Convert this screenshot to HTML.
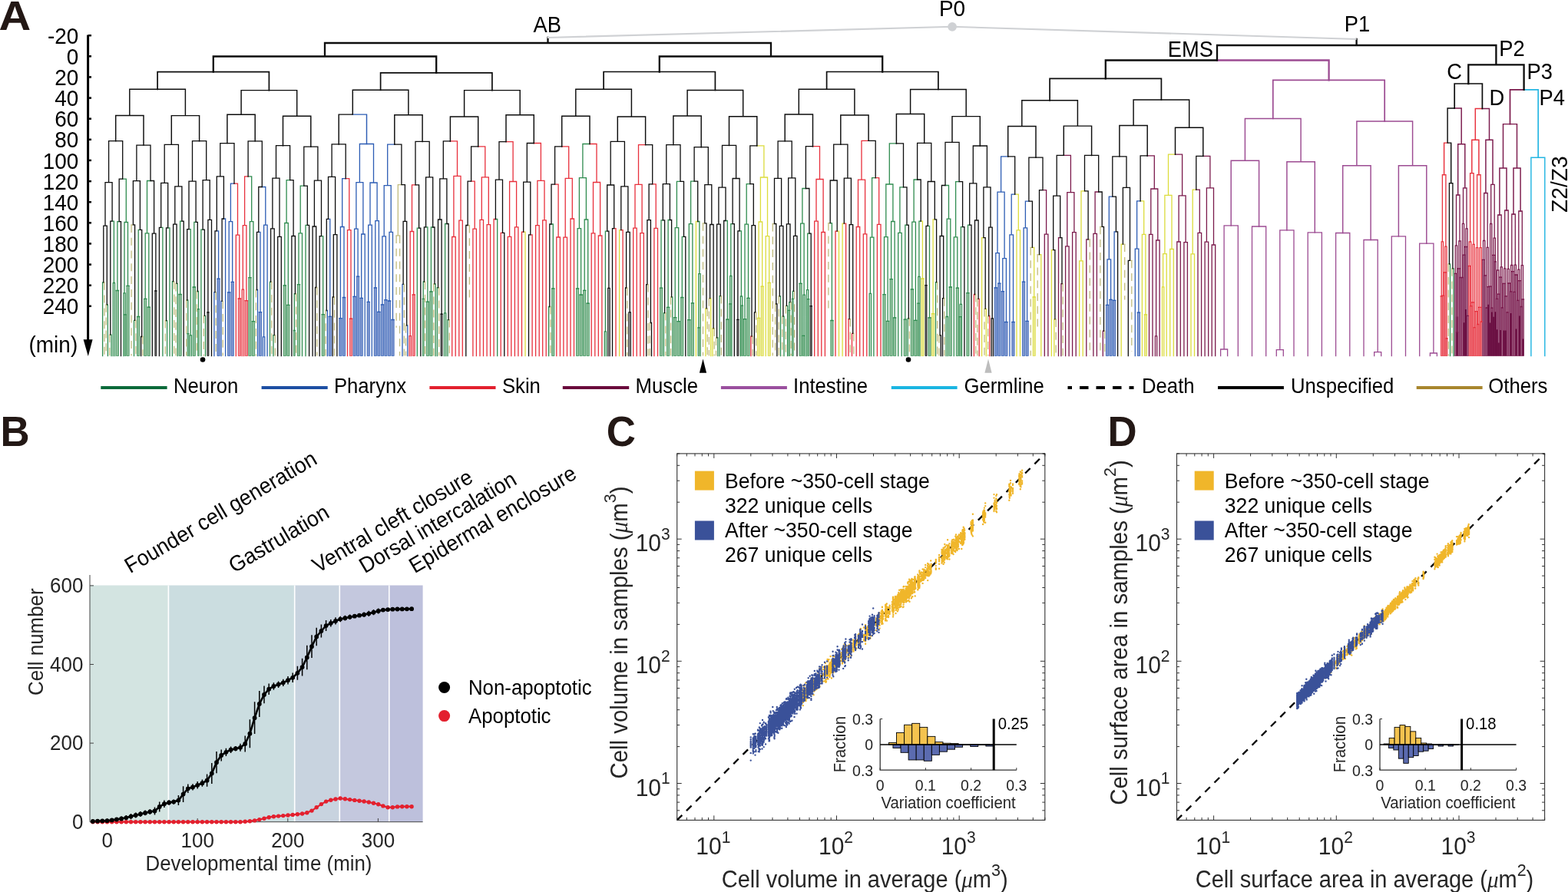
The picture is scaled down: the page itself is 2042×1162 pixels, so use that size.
<!DOCTYPE html>
<html><head><meta charset="utf-8"><title>Figure</title>
<style>html,body{margin:0;padding:0;background:#fff;overflow:hidden}svg{display:block}</style>
</head><body>
<svg width="2042" height="1162" viewBox="0 0 2042 1162" font-family='"Liberation Sans", Arial, Helvetica, sans-serif'>
<rect width="2042" height="1162" fill="#fff"/>
<text transform="translate(-1.5,38.8) scale(1.07,1)" font-size="54" font-weight="bold" fill="#231815">A</text>
<text transform="translate(0.6,580.8) scale(0.96,1)" font-size="55" font-weight="bold" fill="#231815">B</text>
<text transform="translate(789.8,581.2) scale(0.96,1)" font-size="55" font-weight="bold" fill="#231815">C</text>
<text transform="translate(1442.6,580.8) scale(0.96,1)" font-size="55" font-weight="bold" fill="#231815">D</text>
<line x1="114.6" y1="45.5" x2="114.6" y2="446" stroke="#000" stroke-width="3"/>
<polygon points="108.6,442.3 120.6,442.3 114.8,464" fill="#000"/>
<line x1="114.8" y1="46.2" x2="119" y2="46.2" stroke="#000" stroke-width="2.5"/>
<text transform="translate(102.2,56.8) scale(1.000,1.075)" font-size="27.9" text-anchor="end" fill="#000">-20</text>
<line x1="114.8" y1="73.3" x2="119" y2="73.3" stroke="#000" stroke-width="2.5"/>
<text transform="translate(102.2,83.9) scale(1.000,1.075)" font-size="27.9" text-anchor="end" fill="#000">0</text>
<line x1="114.8" y1="100.4" x2="119" y2="100.4" stroke="#000" stroke-width="2.5"/>
<text transform="translate(102.2,111.0) scale(1.000,1.075)" font-size="27.9" text-anchor="end" fill="#000">20</text>
<line x1="114.8" y1="127.6" x2="119" y2="127.6" stroke="#000" stroke-width="2.5"/>
<text transform="translate(102.2,138.2) scale(1.000,1.075)" font-size="27.9" text-anchor="end" fill="#000">40</text>
<line x1="114.8" y1="154.7" x2="119" y2="154.7" stroke="#000" stroke-width="2.5"/>
<text transform="translate(102.2,165.3) scale(1.000,1.075)" font-size="27.9" text-anchor="end" fill="#000">60</text>
<line x1="114.8" y1="181.8" x2="119" y2="181.8" stroke="#000" stroke-width="2.5"/>
<text transform="translate(102.2,192.4) scale(1.000,1.075)" font-size="27.9" text-anchor="end" fill="#000">80</text>
<line x1="114.8" y1="208.9" x2="119" y2="208.9" stroke="#000" stroke-width="2.5"/>
<text transform="translate(102.2,219.5) scale(1.000,1.075)" font-size="27.9" text-anchor="end" fill="#000">100</text>
<line x1="114.8" y1="236.1" x2="119" y2="236.1" stroke="#000" stroke-width="2.5"/>
<text transform="translate(102.2,246.7) scale(1.000,1.075)" font-size="27.9" text-anchor="end" fill="#000">120</text>
<line x1="114.8" y1="263.2" x2="119" y2="263.2" stroke="#000" stroke-width="2.5"/>
<text transform="translate(102.2,273.8) scale(1.000,1.075)" font-size="27.9" text-anchor="end" fill="#000">140</text>
<line x1="114.8" y1="290.3" x2="119" y2="290.3" stroke="#000" stroke-width="2.5"/>
<text transform="translate(102.2,300.9) scale(1.000,1.075)" font-size="27.9" text-anchor="end" fill="#000">160</text>
<line x1="114.8" y1="317.4" x2="119" y2="317.4" stroke="#000" stroke-width="2.5"/>
<text transform="translate(102.2,328.0) scale(1.000,1.075)" font-size="27.9" text-anchor="end" fill="#000">180</text>
<line x1="114.8" y1="344.6" x2="119" y2="344.6" stroke="#000" stroke-width="2.5"/>
<text transform="translate(102.2,355.2) scale(1.000,1.075)" font-size="27.9" text-anchor="end" fill="#000">200</text>
<line x1="114.8" y1="371.7" x2="119" y2="371.7" stroke="#000" stroke-width="2.5"/>
<text transform="translate(102.2,382.3) scale(1.000,1.075)" font-size="27.9" text-anchor="end" fill="#000">220</text>
<line x1="114.8" y1="398.8" x2="119" y2="398.8" stroke="#000" stroke-width="2.5"/>
<text transform="translate(102.2,409.4) scale(1.000,1.075)" font-size="27.9" text-anchor="end" fill="#000">240</text>
<text transform="translate(37.5,458.6) scale(1.000,1.050)" font-size="28.0" text-anchor="start" fill="#000">(min)</text>
<path fill="#8fbf9c" stroke="#2f8c4f" stroke-width="0.75" d="M151.29 378.5h3.27V463.6h-3.27zM162.23 409.8h1.82V463.6h-1.82zM164.91 372.4h3.27V463.6h-3.27zM178.53 412.5h3.27V463.6h-3.27zM187.60 389.3h3.27V463.6h-3.27zM192.14 400.1h3.27V463.6h-3.27zM232.99 383.5h3.27V463.6h-3.27zM243.93 434.7h1.82V463.6h-1.82zM251.15 374.0h3.27V463.6h-3.27zM257.55 402.7h1.82V463.6h-1.82zM323.78 361.6h3.27V463.6h-3.27zM328.32 418.7h3.27V463.6h-3.27zM369.17 371.8h3.27V463.6h-3.27zM373.71 397.4h3.27V463.6h-3.27zM382.38 430.5h1.82V463.6h-1.82zM387.32 370.7h3.27V463.6h-3.27zM419.10 409.6h3.27V463.6h-3.27zM550.32 389.3h1.82V463.6h-1.82zM555.27 393.2h3.27V463.6h-3.27zM559.81 379.9h3.27V463.6h-3.27zM718.67 375.8h3.27V463.6h-3.27zM750.45 375.9h3.27V463.6h-3.27zM754.99 384.0h3.27V463.6h-3.27zM759.53 378.3h3.27V463.6h-3.27zM764.07 395.1h3.27V463.6h-3.27zM859.39 375.2h3.27V463.6h-3.27zM868.46 400.3h3.27V463.6h-3.27zM877.54 413.6h3.27V463.6h-3.27zM882.08 418.7h3.27V463.6h-3.27zM886.62 387.5h3.27V463.6h-3.27zM895.70 416.7h3.27V463.6h-3.27zM900.24 394.9h3.27V463.6h-3.27zM908.91 426.8h1.82V463.6h-1.82zM945.63 416.1h3.27V463.6h-3.27zM949.76 395.8h1.82V463.6h-1.82zM965.64 398.2h1.82V463.6h-1.82zM968.32 415.6h3.27V463.6h-3.27zM972.86 388.3h3.27V463.6h-3.27zM1026.92 404.4h1.82V463.6h-1.82zM1031.46 389.4h1.82V463.6h-1.82zM1040.95 369.3h3.27V463.6h-3.27zM1045.08 437.3h1.82V463.6h-1.82zM1051.89 389.6h1.82V463.6h-1.82zM1081.80 417.5h3.27V463.6h-3.27zM1149.89 383.6h3.27V463.6h-3.27zM1154.42 418.4h3.27V463.6h-3.27zM1158.96 363.6h3.27V463.6h-3.27zM1163.50 413.9h3.27V463.6h-3.27zM1177.12 416.2h3.27V463.6h-3.27zM1186.20 376.8h3.27V463.6h-3.27zM1190.74 417.3h3.27V463.6h-3.27zM1194.87 395.2h1.82V463.6h-1.82zM1208.89 413.8h3.27V463.6h-3.27zM1236.13 374.0h3.27V463.6h-3.27zM1245.21 375.1h3.27V463.6h-3.27zM1249.34 412.6h1.82V463.6h-1.82zM1258.82 381.7h3.27V463.6h-3.27z"/>
<path fill="#6a6a6a" stroke="#0d0d0d" stroke-width="0.75" d="M201.83 378.8h2.04V463.6h-2.04zM269.92 406.8h2.04V463.6h-2.04zM574.04 409.1h2.04V463.6h-2.04zM959.86 416.4h2.04V463.6h-2.04zM1055.18 398.7h2.04V463.6h-2.04zM1204.97 371.6h2.04V463.6h-2.04z"/>
<path fill="#7f97cf" stroke="#2c5cb4" stroke-width="0.75" d="M282.92 363.2h3.27V463.6h-3.27zM296.54 380.8h3.27V463.6h-3.27zM301.08 367.4h3.27V463.6h-3.27zM337.39 406.7h3.27V463.6h-3.27zM428.17 412.3h3.27V463.6h-3.27zM441.79 414.6h3.27V463.6h-3.27zM446.33 387.5h3.27V463.6h-3.27zM459.95 386.4h3.27V463.6h-3.27zM464.49 360.2h3.27V463.6h-3.27zM469.03 388.4h3.27V463.6h-3.27zM478.10 393.3h3.27V463.6h-3.27zM487.18 374.9h3.27V463.6h-3.27zM491.72 406.3h3.27V463.6h-3.27zM496.26 396.8h3.27V463.6h-3.27zM500.80 390.7h3.27V463.6h-3.27zM505.34 392.0h3.27V463.6h-3.27zM509.88 416.5h3.27V463.6h-3.27zM1295.14 374.8h3.27V463.6h-3.27zM1299.67 369.2h3.27V463.6h-3.27zM1304.21 379.6h3.27V463.6h-3.27zM1308.75 419.5h3.27V463.6h-3.27zM1317.83 419.5h3.27V463.6h-3.27zM1331.45 367.2h3.27V463.6h-3.27zM1335.99 418.4h3.27V463.6h-3.27zM1440.39 397.3h3.27V463.6h-3.27zM1444.92 390.3h3.27V463.6h-3.27zM1449.46 391.3h3.27V463.6h-3.27zM1481.24 407.1h3.27V463.6h-3.27z"/>
<path fill="#ef8890" stroke="#e8303c" stroke-width="0.75" d="M310.16 389.0h3.27V463.6h-3.27zM319.24 391.7h3.27V463.6h-3.27zM455.41 415.1h3.27V463.6h-3.27zM537.11 383.9h3.27V463.6h-3.27zM1876.21 385.9h2.04V463.6h-2.04zM1878.48 385.2h2.04V463.6h-2.04zM1880.74 354.8h2.04V463.6h-2.04zM1883.00 440.8h2.04V463.6h-2.04zM1912.41 346.5h2.04V463.6h-2.04zM1914.68 398.7h2.04V463.6h-2.04zM1916.94 393.8h2.04V463.6h-2.04zM1919.20 426.6h2.04V463.6h-2.04zM1921.46 405.7h2.04V463.6h-2.04zM1923.73 422.5h2.04V463.6h-2.04zM1925.99 400.4h2.04V463.6h-2.04zM1928.25 419.1h2.04V463.6h-2.04z"/>
<path fill="#e9e98e" stroke="#dcdc3c" stroke-width="0.75" d="M986.48 414.4h3.27V463.6h-3.27zM991.02 373.2h3.27V463.6h-3.27zM1000.10 368.4h3.27V463.6h-3.27zM1199.82 363.0h3.27V463.6h-3.27zM1213.43 408.7h3.27V463.6h-3.27zM1345.07 386.9h3.27V463.6h-3.27zM1490.32 409.8h3.27V463.6h-3.27z"/>
<path fill="#a46a8c" stroke="#7b1a4c" stroke-width="0.75" d="M1894.31 356.4h2.04V463.6h-2.04zM1896.58 433.0h2.04V463.6h-2.04zM1898.84 349.9h2.04V463.6h-2.04zM1901.10 361.5h2.04V463.6h-2.04zM1903.36 361.5h2.04V463.6h-2.04zM1905.63 332.1h2.04V463.6h-2.04zM1907.89 321.5h2.04V463.6h-2.04zM1910.15 411.4h2.04V463.6h-2.04zM1930.51 338.3h2.04V463.6h-2.04zM1932.78 358.9h2.04V463.6h-2.04zM1935.04 401.0h2.04V463.6h-2.04zM1937.30 373.7h2.04V463.6h-2.04zM1939.56 373.1h2.04V463.6h-2.04zM1941.83 401.1h2.04V463.6h-2.04zM1944.09 332.4h2.04V463.6h-2.04zM1946.35 340.8h2.04V463.6h-2.04zM1948.51 389.4h2.04V463.6h-2.04zM1950.78 383.1h2.04V463.6h-2.04zM1953.04 361.1h2.04V463.6h-2.04zM1955.30 400.8h2.04V463.6h-2.04zM1957.56 369.4h2.04V463.6h-2.04zM1959.83 385.8h2.04V463.6h-2.04zM1962.09 406.9h2.04V463.6h-2.04zM1964.35 369.0h2.04V463.6h-2.04zM1966.61 379.8h2.04V463.6h-2.04zM1968.88 353.7h2.04V463.6h-2.04zM1971.14 380.4h2.04V463.6h-2.04zM1973.40 358.0h2.04V463.6h-2.04zM1975.66 391.4h2.04V463.6h-2.04zM1977.93 365.7h2.04V463.6h-2.04zM1980.19 399.5h2.04V463.6h-2.04zM1982.45 389.9h2.04V463.6h-2.04z"/>
<path fill="#6a0f42" d="M1896.58 412.5h2.04V463.6h-2.04zM1905.63 420.3h2.04V463.6h-2.04zM1907.89 403.1h2.04V463.6h-2.04zM1937.30 396.7h2.04V463.6h-2.04zM1939.56 420.6h2.04V463.6h-2.04zM1941.83 406.4h2.04V463.6h-2.04zM1944.09 412.7h2.04V463.6h-2.04zM1946.35 406.2h2.04V463.6h-2.04zM1948.51 429.3h2.04V463.6h-2.04zM1950.78 446.5h2.04V463.6h-2.04zM1953.04 430.1h2.04V463.6h-2.04zM1957.56 430.5h2.04V463.6h-2.04zM1959.83 430.5h2.04V463.6h-2.04zM1966.61 408.1h2.04V463.6h-2.04zM1973.40 428.4h2.04V463.6h-2.04zM1977.93 411.5h2.04V463.6h-2.04zM1982.45 441.4h2.04V463.6h-2.04z"/>
<g fill="none" stroke-linecap="square">
<path stroke="#c2bc7e" stroke-width="1.30" d="M134.8 367.8H135.9M138.2 396.8H139.3M142.7 436.1H143.8M171.1 292.9H173.4M175.6 417.4H176.8M184.7 438.5H185.8M215.3 417.6H216.5M225.6 366.7H226.7M229.0 369.4H230.1M242.6 391.0H243.7M256.2 379.5H257.3M265.3 411.3H266.4M280.0 380.7H281.2M289.1 392.3H290.2M333.4 377.5H334.5M352.6 367.1H353.8M357.2 436.7H358.3M384.4 382.6H385.6M411.7 374.5H412.8M424.1 404.5H425.3M434.3 387.0H435.5M518.3 240.6H522.9M518.3 240.6V306.9M516.1 306.9H518.3M518.3 306.9H520.6M525.1 370.4H526.3M528.5 423.8H529.7M552.4 367.0H553.5M564.8 369.8H566.0M570.5 374.7H571.7M584.1 416.6H585.3M609.1 293.5H611.4M715.8 399.5H716.9M815.6 375.0H816.8M842.9 370.6H844.0M846.3 420.5H847.4M865.6 407.6H866.7M873.5 386.8H874.6M915.5 290.8H917.8M920.0 401.9H921.2M923.4 388.7H924.6M929.1 427.9H930.2M932.5 439.9H933.6M938.2 385.6H939.3M979.0 438.2H980.2M983.6 406.8H984.7M1006.3 291.5H1008.5M1009.7 396.0H1010.8M1014.2 385.8H1015.3M1018.8 412.2H1019.9M1023.3 398.4H1024.4M1029.0 393.6H1030.1M1033.5 379.4H1034.6M1078.9 290.6H1081.2M1106.1 415.6H1107.3M1110.7 434.4H1111.8M1183.3 414.8H1184.4M1219.6 367.6H1220.7M1223.0 436.8H1224.1M1228.7 388.7H1229.8M1269.5 383.5H1270.7M1272.9 389.4H1274.1M1282.0 402.4H1283.2M1286.6 411.5H1287.7M1342.2 322.4H1344.4M1351.2 331.6H1353.5M1373.9 415.9H1375.1M1383.0 369.7H1384.1M1417.1 311.8H1419.3M1432.9 295.3H1435.2M1437.5 431.2H1438.6M1462.4 318.1H1464.7M1471.5 339.3H1473.8M1886.3 343.9H1887.4M1890.8 349.8H1891.9"/>
<path stroke="#9c4b92" stroke-width="1.30" d="M1594.1 293.8H1603.2M1603.2 293.8H1612.3M1594.1 293.8V455.0M1589.6 455.0H1594.1M1594.1 455.0H1598.6M1589.6 455.0V463.6M1598.6 455.0V463.6M1612.3 293.8V463.6M1630.5 295.0H1639.6M1639.6 295.0H1648.7M1630.5 295.0V463.6M1648.7 295.0V463.6M1666.8 299.8H1675.9M1675.9 299.8H1685.0M1666.8 299.8V455.7M1662.3 455.7H1666.8M1666.8 455.7H1671.3M1662.3 455.7V463.6M1671.3 455.7V463.6M1685.0 299.8V463.6M1703.2 302.8H1712.3M1712.3 302.8H1721.4M1703.2 302.8V463.6M1721.4 302.8V463.6M1739.6 303.5H1748.7M1748.7 303.5H1757.8M1739.6 303.5V463.6M1757.8 303.5V463.6M1776.0 312.5H1785.1M1785.1 312.5H1794.2M1776.0 312.5V463.6M1794.2 312.5V458.7M1789.7 458.7H1794.2M1794.2 458.7H1798.7M1789.7 458.7V463.6M1798.7 458.7V463.6M1812.3 307.8H1821.4M1821.4 307.8H1830.5M1812.3 307.8V463.6M1830.5 307.8V463.6M1848.7 317.2H1857.8M1857.8 317.2H1866.9M1848.7 317.2V463.6M1866.9 317.2V460.0M1862.4 460.0H1866.9M1866.9 460.0H1871.4M1862.4 460.0V463.6M1871.4 460.0V463.6"/>
<path stroke="#9c4b92" stroke-width="1.45" d="M1621.4 154.4H1657.8M1657.8 154.4H1694.1M1621.4 154.4V209.2M1603.2 209.2H1621.4M1621.4 209.2H1639.6M1603.2 209.2V293.8M1639.6 209.2V295.0M1694.1 154.4V210.8M1675.9 210.8H1694.1M1694.1 210.8H1712.3M1675.9 210.8V299.8M1712.3 210.8V302.8M1766.9 158.0H1803.2M1803.2 158.0H1839.6M1766.9 158.0V215.8M1748.7 215.8H1766.9M1766.9 215.8H1785.1M1748.7 215.8V303.5M1785.1 215.8V312.5M1839.6 158.0V215.8M1821.4 215.8H1839.6M1839.6 215.8H1857.8M1821.4 215.8V307.8M1857.8 215.8V317.2"/>
<path stroke="#9c4b92" stroke-width="1.70" d="M1657.8 104.3H1730.6M1730.6 104.3H1803.2M1657.8 104.3V154.4M1803.2 104.3V158.0"/>
<path stroke="#9c4b92" stroke-width="2.30" d="M1585.0 78.5H1730.6M1730.6 78.5V104.3"/>
<path stroke="#dcdc3c" stroke-width="1.30" d="M681.7 302.2H684.0M684.0 302.2V463.6M806.6 299.6H808.8M806.6 299.6V463.6M906.4 288.5H908.7M906.4 288.5V463.6M918.9 401.9H920.0M918.9 401.9V463.6M924.6 388.7H925.7M925.7 388.7V463.6M928.0 427.9H929.1M928.0 427.9V463.6M985.8 189.8H994.9M994.9 189.8V231.0M990.4 231.0H994.9M994.9 231.0H999.5M990.4 231.0V289.0M988.1 289.0H990.4M990.4 289.0H992.7M988.1 289.0V414.4M986.48 414.4H989.75M992.7 289.0V373.2M991.02 373.2H994.29M999.5 231.0V307.7M997.2 307.7H999.5M999.5 307.7H1001.7M997.2 307.7V463.6M1001.7 307.7V368.4M1000.10 368.4H1003.36M1090.2 301.1H1092.5M1092.5 301.1V463.6M1097.1 291.2H1099.3M1097.1 291.2V463.6M1199.2 288.1H1201.4M1201.4 288.1V363.0M1199.82 363.0H1203.08M1215.1 285.8H1217.3M1215.1 285.8V408.7M1213.43 408.7H1216.70M1278.6 309.7H1280.9M1278.6 309.7V463.6M1283.2 402.4H1284.3M1284.3 402.4V463.6M1321.7 253.2H1326.3M1326.3 253.2V299.8M1324.0 299.8H1326.3M1326.3 299.8H1328.5M1324.0 299.8V463.6M1328.5 299.8V463.6M1344.4 322.4H1346.7M1346.7 322.4V386.9M1345.07 386.9H1348.33M1353.5 331.6H1355.8M1355.8 331.6V463.6M1369.4 325.6H1371.7M1369.4 325.6V463.6M1372.8 415.9H1373.9M1372.8 415.9V463.6M1408.0 248.8H1412.5M1408.0 248.8V339.8M1405.7 339.8H1408.0M1408.0 339.8H1410.2M1405.7 339.8V463.6M1410.2 339.8V463.6M1460.2 318.1H1462.4M1460.2 318.1V463.6M1485.1 261.9H1489.7M1489.7 261.9V305.4M1487.4 305.4H1489.7M1489.7 305.4H1491.9M1487.4 305.4V463.6M1491.9 305.4V409.8M1490.32 409.8H1493.58M1521.5 201.2H1530.5M1521.5 201.2V254.4M1516.9 254.4H1521.5M1521.5 254.4H1526.0M1516.9 254.4V330.6M1514.6 330.6H1516.9M1516.9 330.6H1519.2M1514.6 330.6V373.8M1513.5 373.8H1514.6M1514.6 373.8H1515.8M1513.5 373.8V463.6M1515.8 373.8V463.6M1519.2 330.6V463.6M1526.0 254.4V324.5M1523.7 324.5H1526.0M1526.0 324.5H1528.3M1523.7 324.5V463.6M1528.3 324.5V463.6M1553.2 247.2H1557.8M1553.2 247.2V330.9M1551.0 330.9H1553.2M1553.2 330.9H1555.5M1551.0 330.9V463.6M1555.5 330.9V463.6"/>
<path stroke="#2f8c4f" stroke-width="1.30" d="M133.6 367.8H134.8M133.6 367.8V463.6M139.3 396.8H140.4M140.4 396.8V463.6M146.1 288.1H148.4M143.8 436.1H145.0M145.0 436.1V463.6M148.4 288.1V368.5M147.3 368.5H148.4M148.4 368.5H149.5M147.3 368.5V463.6M149.5 368.5V463.6M159.7 233.2H164.3M152.9 288.6H155.2M152.9 288.6V378.5M151.29 378.5H154.56M164.3 233.2V289.5M162.0 289.5H164.3M164.3 289.5H166.5M162.0 289.5V381.9M160.9 381.9H162.0M162.0 381.9H163.1M160.9 381.9V463.6M163.1 381.9V409.8M162.23 409.8H164.05M166.5 289.5V372.4M164.91 372.4H168.18M174.5 417.4H175.6M174.5 417.4V463.6M180.2 299.4H182.4M180.2 299.4V412.5M178.53 412.5H181.79M191.5 235.5H196.0M191.5 235.5V303.9M189.2 303.9H191.5M191.5 303.9H193.8M189.2 303.9V389.3M187.60 389.3H190.87M193.8 303.9V400.1M192.14 400.1H195.41M209.7 296.4H211.9M211.9 296.4V463.6M218.7 296.9H221.0M216.5 417.6H217.6M217.6 417.6V463.6M221.0 296.9V463.6M224.4 366.7H225.6M224.4 366.7V463.6M230.1 369.4H231.2M231.2 369.4V463.6M234.6 288.2H236.9M234.6 288.2V383.5M232.99 383.5H236.26M246.0 298.7H248.2M243.7 391.0H244.8M244.8 391.0V434.7M243.93 434.7H245.75M248.2 298.7V436.8M247.1 436.8H248.2M248.2 436.8H249.4M247.1 436.8V463.6M249.4 436.8V463.6M252.8 289.4H255.1M252.8 289.4V374.0M251.15 374.0H254.42M257.3 379.5H258.5M258.5 379.5V402.7M257.55 402.7H259.37M261.9 299.2H264.1M261.9 299.2V463.6M266.4 411.3H267.5M267.5 411.3V463.6M323.1 229.8H327.7M327.7 229.8V288.7M325.4 288.7H327.7M327.7 288.7H329.9M325.4 288.7V361.6M323.78 361.6H327.04M329.9 288.7V418.7M328.32 418.7H331.58M351.5 367.1H352.6M351.5 367.1V463.6M356.0 436.7H357.2M356.0 436.7V463.6M373.1 234.6H377.6M373.1 234.6V290.5M370.8 290.5H373.1M373.1 290.5H375.3M370.8 290.5V371.8M369.17 371.8H372.43M375.3 290.5V397.4M373.71 397.4H376.97M383.3 382.6H384.4M383.3 382.6V430.5M382.38 430.5H384.19M391.2 242.1H395.8M391.2 242.1V303.8M389.0 303.8H391.2M391.2 303.8H393.5M389.0 303.8V370.7M387.32 370.7H390.59M393.5 303.8V463.6M398.0 293.3H400.3M398.0 293.3V463.6M418.5 307.6H420.7M420.7 307.6V409.6M419.10 409.6H422.36M543.3 297.2H545.6M543.3 297.2V463.6M554.6 295.8H556.9M551.2 367.0H552.4M551.2 367.0V389.3M550.32 389.3H552.14M556.9 295.8V393.2M555.27 393.2H558.54M561.4 296.0H563.7M561.4 296.0V379.9M559.81 379.9H563.08M566.0 369.8H567.1M567.1 369.8V463.6M569.4 374.7H570.5M569.4 374.7V463.6M579.6 291.5H581.9M579.6 291.5V407.8M578.5 407.8H579.6M579.6 407.8H580.7M578.5 407.8V463.6M580.7 407.8V463.6M583.0 416.6H584.1M583.0 416.6V463.6M645.4 285.5H647.7M647.7 285.5V463.6M718.0 292.0H720.3M714.6 399.5H715.8M714.6 399.5V463.6M720.3 292.0V375.8M718.67 375.8H721.94M758.9 187.5H768.0M758.9 187.5V231.6M754.4 231.6H758.9M758.9 231.6H763.4M754.4 231.6V297.6M752.1 297.6H754.4M754.4 297.6H756.6M752.1 297.6V375.9M750.45 375.9H753.72M756.6 297.6V384.0M754.99 384.0H758.26M763.4 231.6V286.0M761.2 286.0H763.4M763.4 286.0H765.7M761.2 286.0V378.3M759.53 378.3H762.79M765.7 286.0V395.1M764.07 395.1H767.33M788.4 301.1H790.7M788.4 301.1V431.9M787.3 431.9H788.4M788.4 431.9H789.5M787.3 431.9V463.6M789.5 431.9V463.6M861.0 286.9H863.3M861.0 286.9V375.2M859.39 375.2H862.65M864.4 407.6H865.6M864.4 407.6V463.6M870.1 286.5H872.4M870.1 286.5V400.3M868.46 400.3H871.73M874.6 386.8H875.8M875.8 386.8V463.6M881.4 236.4H886.0M881.4 236.4V296.7M879.2 296.7H881.4M881.4 296.7H883.7M879.2 296.7V413.6M877.54 413.6H880.81M883.7 296.7V418.7M882.08 418.7H885.35M888.3 308.4H890.5M888.3 308.4V387.5M886.62 387.5H889.89M899.6 236.1H904.1M899.6 236.1V291.7M897.3 291.7H899.6M899.6 291.7H901.9M897.3 291.7V416.7M895.70 416.7H898.97M901.9 291.7V394.9M900.24 394.9H903.51M908.7 288.5H910.9M910.9 288.5V356.6M909.8 356.6H910.9M910.9 356.6H912.1M909.8 356.6V426.8M908.91 426.8H910.72M912.1 356.6V463.6M933.6 439.9H934.8M934.8 439.9V463.6M937.0 385.6H938.2M937.0 385.6V463.6M945.0 287.5H947.3M947.3 287.5V416.1M945.63 416.1H948.90M951.8 291.6H954.1M951.8 291.6V359.5M950.7 359.5H951.8M951.8 359.5H952.9M950.7 359.5V395.8M949.76 395.8H951.57M952.9 359.5V463.6M963.1 300.8H965.4M965.4 300.8V386.0M964.3 386.0H965.4M965.4 386.0H966.6M964.3 386.0V463.6M966.6 386.0V398.2M965.64 398.2H967.46M972.2 239.6H976.8M972.2 239.6V292.2M970.0 292.2H972.2M972.2 292.2H974.5M970.0 292.2V415.6M968.32 415.6H971.59M974.5 292.2V388.3M972.86 388.3H976.13M1015.3 385.8H1016.5M1016.5 385.8V463.6M1019.9 412.2H1021.0M1021.0 412.2V463.6M1024.4 398.4H1025.6M1025.6 398.4V463.6M1027.8 393.6H1029.0M1027.8 393.6V404.4M1026.92 404.4H1028.74M1032.4 379.4H1033.5M1032.4 379.4V389.4M1031.46 389.4H1033.28M1044.9 245.5H1049.4M1044.9 245.5V291.2M1042.6 291.2H1044.9M1044.9 291.2H1047.1M1042.6 291.2V369.3M1040.95 369.3H1044.22M1047.1 291.2V384.1M1046.0 384.1H1047.1M1047.1 384.1H1048.3M1046.0 384.1V437.3M1045.08 437.3H1046.89M1048.3 384.1V463.6M1051.7 304.1H1053.9M1051.7 304.1V377.6M1050.5 377.6H1051.7M1051.7 377.6H1052.8M1050.5 377.6V463.6M1052.8 377.6V389.6M1051.89 389.6H1053.70M1081.2 290.6H1083.4M1083.4 290.6V417.5M1081.80 417.5H1085.07M1135.6 231.7H1140.2M1135.6 231.7V309.2M1133.4 309.2H1135.6M1135.6 309.2H1137.9M1133.4 309.2V382.3M1132.2 382.3H1133.4M1133.4 382.3H1134.5M1132.2 382.3V463.6M1134.5 382.3V463.6M1137.9 309.2V463.6M1158.3 186.8H1167.4M1158.3 186.8V240.0M1153.8 240.0H1158.3M1158.3 240.0H1162.9M1153.8 240.0V308.7M1151.5 308.7H1153.8M1153.8 308.7H1156.1M1151.5 308.7V383.6M1149.89 383.6H1153.15M1156.1 308.7V418.4M1154.42 418.4H1157.69M1162.9 240.0V288.5M1160.6 288.5H1162.9M1162.9 288.5H1165.1M1160.6 288.5V363.6M1158.96 363.6H1162.23M1165.1 288.5V413.9M1163.50 413.9H1166.77M1171.9 243.9H1176.5M1171.9 243.9V303.3M1169.7 303.3H1171.9M1171.9 303.3H1174.2M1169.7 303.3V463.6M1174.2 303.3V463.6M1178.8 293.2H1181.0M1178.8 293.2V416.2M1177.12 416.2H1180.39M1182.2 414.8H1183.3M1182.2 414.8V463.6M1190.1 234.0H1194.6M1190.1 234.0V289.2M1187.8 289.2H1190.1M1190.1 289.2H1192.4M1187.8 289.2V376.8M1186.20 376.8H1189.47M1192.4 289.2V417.3M1190.74 417.3H1194.01M1196.9 288.1H1199.2M1196.9 288.1V360.4M1195.8 360.4H1196.9M1196.9 360.4H1198.0M1195.8 360.4V395.2M1194.87 395.2H1196.68M1198.0 360.4V463.6M1208.3 294.3H1210.5M1210.5 294.3V413.8M1208.89 413.8H1212.16M1218.5 367.6H1219.6M1218.5 367.6V463.6M1231.0 241.5H1235.5M1235.5 241.5V285.1M1233.2 285.1H1235.5M1235.5 285.1H1237.8M1233.2 285.1V412.5M1232.1 412.5H1233.2M1233.2 412.5H1234.4M1232.1 412.5V463.6M1234.4 412.5V463.6M1237.8 285.1V374.0M1236.13 374.0H1239.40M1244.6 236.6H1249.1M1244.6 236.6V308.9M1242.3 308.9H1244.6M1244.6 308.9H1246.8M1242.3 308.9V463.6M1246.8 308.9V375.1M1245.21 375.1H1248.47M1251.4 295.7H1253.6M1251.4 295.7V396.4M1250.2 396.4H1251.4M1251.4 396.4H1252.5M1250.2 396.4V412.6M1249.34 412.6H1251.15M1252.5 396.4V463.6M1260.5 293.2H1262.7M1260.5 293.2V381.7M1258.82 381.7H1262.09M1887.4 343.9H1888.5M1888.5 343.9V463.6M1891.9 349.8H1893.1M1893.1 349.8V463.6"/>
<path stroke="#2c5cb4" stroke-width="1.30" d="M282.3 300.9H284.6M278.9 380.7H280.0M278.9 380.7V463.6M284.6 300.9V363.2M282.92 363.2H286.19M291.4 285.0H293.6M288.0 392.3H289.1M288.0 392.3V463.6M293.6 285.0V463.6M300.4 239.1H305.0M300.4 239.1V288.7M298.2 288.7H300.4M300.4 288.7H302.7M298.2 288.7V380.8M296.54 380.8H299.81M302.7 288.7V367.4M301.08 367.4H304.35M341.3 243.5H345.8M336.8 302.4H339.0M334.5 377.5H335.6M335.6 377.5V463.6M339.0 302.4V406.7M337.39 406.7H340.66M345.8 243.5V293.2M343.6 293.2H345.8M345.8 293.2H348.1M343.6 293.2V438.9M342.4 438.9H343.6M343.6 438.9H344.7M342.4 438.9V463.6M344.7 438.9V463.6M348.1 293.2V463.6M427.5 285.4H429.8M425.3 404.5H426.4M426.4 404.5V463.6M429.8 285.4V412.3M428.17 412.3H431.44M445.7 232.7H450.2M445.7 232.7V295.5M443.4 295.5H445.7M445.7 295.5H448.0M443.4 295.5V414.6M441.79 414.6H445.06M448.0 295.5V387.5M446.33 387.5H449.60M468.4 187.5H477.5M477.5 187.5H486.5M468.4 187.5V237.6M463.9 237.6H468.4M468.4 237.6H472.9M463.9 237.6V298.1M461.6 298.1H463.9M463.9 298.1H466.1M461.6 298.1V386.4M459.95 386.4H463.22M466.1 298.1V360.2M464.49 360.2H467.76M472.9 237.6V305.0M470.7 305.0H472.9M472.9 305.0H475.2M470.7 305.0V388.4M469.03 388.4H472.29M475.2 305.0V463.6M486.5 187.5V238.0M482.0 238.0H486.5M486.5 238.0H491.1M482.0 238.0V293.1M479.7 293.1H482.0M482.0 293.1H484.3M479.7 293.1V393.3M478.10 393.3H481.37M484.3 293.1V463.6M491.1 238.0V287.7M488.8 287.7H491.1M491.1 287.7H493.4M488.8 287.7V374.9M487.18 374.9H490.45M493.4 287.7V406.3M491.72 406.3H494.99M504.7 188.1H513.8M504.7 188.1V241.7M500.2 241.7H504.7M504.7 241.7H509.2M500.2 241.7V307.8M497.9 307.8H500.2M500.2 307.8H502.4M497.9 307.8V396.8M496.26 396.8H499.53M502.4 307.8V390.7M500.80 390.7H504.07M509.2 241.7V302.3M507.0 302.3H509.2M509.2 302.3H511.5M507.0 302.3V392.0M505.34 392.0H508.61M511.5 302.3V416.5M509.88 416.5H513.15M524.0 370.4H525.1M524.0 370.4V463.6M529.7 423.8H530.8M530.8 423.8V463.6M1303.6 203.8H1312.7M1303.6 203.8V250.2M1299.0 250.2H1303.6M1303.6 250.2H1308.1M1299.0 250.2V329.7M1296.8 329.7H1299.0M1299.0 329.7H1301.3M1296.8 329.7V374.8M1295.14 374.8H1298.40M1301.3 329.7V369.2M1299.67 369.2H1302.94M1308.1 250.2V336.6M1305.8 336.6H1308.1M1308.1 336.6H1310.4M1305.8 336.6V379.6M1304.21 379.6H1307.48M1310.4 336.6V419.5M1308.75 419.5H1312.02M1317.2 253.2H1321.7M1317.2 253.2V305.9M1314.9 305.9H1317.2M1317.2 305.9H1319.5M1314.9 305.9V463.6M1319.5 305.9V419.5M1317.83 419.5H1321.10M1335.4 262.1H1339.9M1335.4 262.1V296.9M1333.1 296.9H1335.4M1335.4 296.9H1337.6M1333.1 296.9V367.2M1331.45 367.2H1334.72M1337.6 296.9V418.4M1335.99 418.4H1339.26M1444.3 256.1H1448.8M1444.3 256.1V337.8M1442.0 337.8H1444.3M1444.3 337.8H1446.6M1442.0 337.8V397.3M1440.39 397.3H1443.65M1446.6 337.8V390.3M1444.92 390.3H1448.19M1451.1 301.9H1453.4M1451.1 301.9V391.3M1449.46 391.3H1452.73M1480.6 261.9H1485.1M1480.6 261.9V324.2M1478.3 324.2H1480.6M1480.6 324.2H1482.9M1478.3 324.2V463.6M1482.9 324.2V407.1M1481.24 407.1H1484.51"/>
<path stroke="#2c5cb4" stroke-width="1.45" d="M459.3 149.1H477.5M477.5 149.1V187.5"/>
<path stroke="#e8303c" stroke-width="1.30" d="M305.0 239.1H309.5M309.5 239.1V306.2M307.3 306.2H309.5M309.5 306.2H311.8M307.3 306.2V463.6M311.8 306.2V389.0M310.16 389.0H313.43M318.6 229.8H323.1M318.6 229.8V293.6M316.3 293.6H318.6M318.6 293.6H320.9M316.3 293.6V377.1M315.2 377.1H316.3M316.3 377.1H317.5M315.2 377.1V463.6M317.5 377.1V463.6M320.9 293.6V391.7M319.24 391.7H322.51M450.2 232.7H454.8M454.8 232.7V299.6M452.5 299.6H454.8M454.8 299.6H457.0M452.5 299.6V463.6M457.0 299.6V415.1M455.41 415.1H458.68M536.5 240.9H541.0M536.5 240.9V301.5M534.2 301.5H536.5M536.5 301.5H538.7M534.2 301.5V437.6M533.1 437.6H534.2M534.2 437.6H535.3M533.1 437.6V463.6M535.3 437.6V463.6M538.7 301.5V383.9M537.11 383.9H540.38M586.4 183.9H595.5M595.5 183.9V229.3M590.9 229.3H595.5M595.5 229.3H600.0M590.9 229.3V308.5M588.7 308.5H590.9M590.9 308.5H593.2M588.7 308.5V463.6M593.2 308.5V463.6M600.0 229.3V287.1M597.8 287.1H600.0M600.0 287.1H602.3M597.8 287.1V463.6M602.3 287.1V463.6M622.7 190.8H631.8M613.6 236.2H618.2M618.2 236.2V298.2M615.9 298.2H618.2M618.2 298.2H620.4M615.9 298.2V463.6M620.4 298.2V463.6M631.8 190.8V230.9M627.3 230.9H631.8M631.8 230.9H636.3M627.3 230.9V286.3M625.0 286.3H627.3M627.3 286.3H629.5M625.0 286.3V463.6M629.5 286.3V463.6M636.3 230.9V292.6M634.1 292.6H636.3M636.3 292.6H638.6M634.1 292.6V463.6M638.6 292.6V463.6M659.0 184.6H668.1M643.1 285.5H645.4M643.1 285.5V463.6M652.2 303.3H654.5M652.2 303.3V463.6M668.1 184.6V236.5M663.6 236.5H668.1M668.1 236.5H672.6M663.6 236.5V308.4M661.3 308.4H663.6M663.6 308.4H665.8M661.3 308.4V463.6M665.8 308.4V463.6M672.6 236.5V295.8M670.4 295.8H672.6M672.6 295.8H674.9M670.4 295.8V463.6M674.9 295.8V463.6M695.3 186.5H704.4M679.5 302.2H681.7M679.5 302.2V463.6M690.8 305.8H693.1M693.1 305.8V463.6M704.4 186.5V235.3M699.9 235.3H704.4M704.4 235.3H709.0M699.9 235.3V293.7M697.6 293.7H699.9M699.9 293.7H702.2M697.6 293.7V463.6M702.2 293.7V463.6M709.0 235.3V286.8M706.7 286.8H709.0M709.0 286.8H711.2M706.7 286.8V463.6M711.2 286.8V463.6M731.7 190.8H740.7M722.6 240.1H727.1M727.1 240.1V309.0M724.8 309.0H727.1M727.1 309.0H729.4M724.8 309.0V463.6M729.4 309.0V463.6M740.7 190.8V232.4M736.2 232.4H740.7M740.7 232.4H745.3M736.2 232.4V309.1M733.9 309.1H736.2M736.2 309.1H738.5M733.9 309.1V463.6M738.5 309.1V463.6M745.3 232.4V285.0M743.0 285.0H745.3M745.3 285.0H747.5M743.0 285.0V463.6M747.5 285.0V463.6M768.0 187.5H777.0M777.0 187.5V237.5M772.5 237.5H777.0M777.0 237.5H781.6M772.5 237.5V303.8M770.2 303.8H772.5M772.5 303.8H774.8M770.2 303.8V463.6M774.8 303.8V463.6M781.6 237.5V307.0M779.3 307.0H781.6M781.6 307.0H783.9M779.3 307.0V463.6M783.9 307.0V463.6M799.7 297.6H802.0M802.0 297.6V463.6M808.8 299.6H811.1M811.1 299.6V463.6M831.5 188.6H840.6M831.5 188.6V240.3M827.0 240.3H831.5M831.5 240.3H836.1M827.0 240.3V297.2M824.7 297.2H827.0M827.0 297.2H829.2M824.7 297.2V463.6M829.2 297.2V463.6M836.1 240.3V303.7M833.8 303.7H836.1M836.1 303.7H838.3M833.8 303.7V463.6M838.3 303.7V463.6M849.7 239.9H854.2M854.2 239.9V297.3M851.9 297.3H854.2M854.2 297.3H856.5M851.9 297.3V463.6M856.5 297.3V463.6M977.9 438.2H979.0M977.9 438.2V463.6M1058.5 190.7H1067.5M1067.5 190.7V233.5M1063.0 233.5H1067.5M1067.5 233.5H1072.1M1063.0 233.5V288.2M1060.7 288.2H1063.0M1063.0 288.2H1065.3M1060.7 288.2V463.6M1065.3 288.2V463.6M1072.1 233.5V302.5M1069.8 302.5H1072.1M1072.1 302.5H1074.4M1069.8 302.5V463.6M1074.4 302.5V463.6M1088.0 301.1H1090.2M1088.0 301.1V463.6M1099.3 291.2H1101.6M1101.6 291.2V463.6M1105.0 415.6H1106.1M1105.0 415.6V463.6M1109.5 434.4H1110.7M1109.5 434.4V463.6M1122.0 183.3H1131.1M1122.0 183.3V234.1M1117.5 234.1H1122.0M1122.0 234.1H1126.6M1117.5 234.1V295.5M1115.2 295.5H1117.5M1117.5 295.5H1119.7M1115.2 295.5V463.6M1119.7 295.5V463.6M1126.6 234.1V304.9M1124.3 304.9H1126.6M1126.6 304.9H1128.8M1124.3 304.9V463.6M1128.8 304.9V463.6M1140.2 231.7H1144.7M1144.7 231.7V292.4M1142.4 292.4H1144.7M1144.7 292.4H1147.0M1142.4 292.4V463.6M1147.0 292.4V463.6M1268.4 383.5H1269.5M1268.4 383.5V463.6M1274.1 389.4H1275.2M1275.2 389.4V463.6M1287.7 411.5H1288.8M1288.8 411.5V463.6M1878.4 227.7H1880.6M1880.6 227.7H1882.9M1878.4 227.7V314.8M1877.2 314.8H1878.4M1878.4 314.8H1879.5M1877.2 314.8V385.9M1876.21 385.9H1878.25M1879.5 314.8V385.2M1878.48 385.2H1880.51M1882.9 227.7V321.2M1881.8 321.2H1882.9M1882.9 321.2H1884.0M1881.8 321.2V354.8M1880.74 354.8H1882.77M1884.0 321.2V440.8M1883.00 440.8H1885.04M1914.6 225.6H1916.8M1916.8 225.6H1919.1M1914.6 225.6V315.0M1913.4 315.0H1914.6M1914.6 315.0H1915.7M1913.4 315.0V346.5M1912.41 346.5H1914.45M1915.7 315.0V398.7M1914.68 398.7H1916.71M1919.1 225.6V318.3M1918.0 318.3H1919.1M1919.1 318.3H1920.2M1918.0 318.3V393.8M1916.94 393.8H1918.97M1920.2 318.3V426.6M1919.20 426.6H1921.24M1923.6 227.7H1925.9M1925.9 227.7H1928.1M1923.6 227.7V322.7M1922.5 322.7H1923.6M1923.6 322.7H1924.7M1922.5 322.7V405.7M1921.46 405.7H1923.50M1924.7 322.7V422.5M1923.73 422.5H1925.76M1928.1 227.7V322.6M1927.0 322.6H1928.1M1928.1 322.6H1929.3M1927.0 322.6V400.4M1925.99 400.4H1928.02M1929.3 322.6V419.1M1928.25 419.1H1930.29"/>
<path stroke="#e8303c" stroke-width="1.45" d="M1880.6 186.1H1885.1M1880.6 186.1V227.7M1921.3 141.5H1930.4M1921.3 141.5V182.2M1916.8 182.2H1921.3M1921.3 182.2H1925.9M1916.8 182.2V225.6M1925.9 182.2V227.7"/>
<path stroke="#7b1a4c" stroke-width="1.30" d="M1358.0 247.7H1362.6M1362.6 247.7V305.2M1360.3 305.2H1362.6M1362.6 305.2H1364.9M1360.3 305.2V463.6M1364.9 305.2V463.6M1385.3 202.3H1394.4M1378.5 309.7H1380.7M1378.5 309.7V463.6M1381.9 369.7H1383.0M1381.9 369.7V463.6M1394.4 202.3V250.7M1389.8 250.7H1394.4M1394.4 250.7H1398.9M1389.8 250.7V320.9M1387.6 320.9H1389.8M1389.8 320.9H1392.1M1387.6 320.9V463.6M1392.1 320.9V463.6M1398.9 250.7V302.7M1396.6 302.7H1398.9M1398.9 302.7H1401.2M1396.6 302.7V463.6M1401.2 302.7V463.6M1414.8 311.8H1417.1M1414.8 311.8V463.6M1426.1 250.0H1430.7M1426.1 250.0V304.3M1423.9 304.3H1426.1M1426.1 304.3H1428.4M1423.9 304.3V463.6M1428.4 304.3V463.6M1436.3 431.2H1437.5M1436.3 431.2V463.6M1494.2 202.9H1503.3M1503.3 202.9V246.0M1498.8 246.0H1503.3M1503.3 246.0H1507.8M1498.8 246.0V305.3M1496.5 305.3H1498.8M1498.8 305.3H1501.0M1496.5 305.3V463.6M1501.0 305.3V463.6M1507.8 246.0V313.0M1505.6 313.0H1507.8M1507.8 313.0H1510.1M1505.6 313.0V437.9M1504.4 437.9H1505.6M1505.6 437.9H1506.7M1504.4 437.9V463.6M1506.7 437.9V463.6M1510.1 313.0V463.6M1530.5 201.2H1539.6M1539.6 201.2V254.8M1535.1 254.8H1539.6M1539.6 254.8H1544.1M1535.1 254.8V315.0M1532.8 315.0H1535.1M1535.1 315.0H1537.3M1532.8 315.0V463.6M1537.3 315.0V463.6M1544.1 254.8V315.6M1541.9 315.6H1544.1M1544.1 315.6H1546.4M1541.9 315.6V463.6M1546.4 315.6V463.6M1566.8 203.4H1575.9M1557.8 247.2H1562.3M1562.3 247.2V303.4M1560.0 303.4H1562.3M1562.3 303.4H1564.6M1560.0 303.4V463.6M1564.6 303.4V463.6M1575.9 203.4V244.8M1571.4 244.8H1575.9M1575.9 244.8H1580.5M1571.4 244.8V315.2M1569.1 315.2H1571.4M1571.4 315.2H1573.7M1569.1 315.2V463.6M1573.7 315.2V463.6M1580.5 244.8V319.0M1578.2 319.0H1580.5M1580.5 319.0H1582.7M1578.2 319.0V463.6M1582.7 319.0V463.6M1896.5 254.0H1898.7M1898.7 254.0H1901.0M1896.5 254.0V319.9M1895.3 319.9H1896.5M1896.5 319.9H1897.6M1895.3 319.9V356.4M1894.31 356.4H1896.35M1897.6 319.9V433.0M1896.58 433.0H1898.61M1901.0 254.0V314.0M1899.9 314.0H1901.0M1901.0 314.0H1902.1M1899.9 314.0V349.9M1898.84 349.9H1900.87M1902.1 314.0V361.5M1901.10 361.5H1903.14M1905.5 244.8H1907.8M1907.8 244.8H1910.0M1905.5 244.8V291.3M1904.4 291.3H1905.5M1905.5 291.3H1906.6M1904.4 291.3V361.5M1903.36 361.5H1905.40M1906.6 291.3V332.1M1905.63 332.1H1907.66M1910.0 244.8V297.8M1908.9 297.8H1910.0M1910.0 297.8H1911.2M1908.9 297.8V321.5M1907.89 321.5H1909.92M1911.2 297.8V411.4M1910.15 411.4H1912.19M1932.7 251.5H1934.9M1934.9 251.5H1937.2M1932.7 251.5V313.5M1931.5 313.5H1932.7M1932.7 313.5H1933.8M1931.5 313.5V338.3M1930.51 338.3H1932.55M1933.8 313.5V358.9M1932.78 358.9H1934.81M1937.2 251.5V322.4M1936.1 322.4H1937.2M1937.2 322.4H1938.3M1936.1 322.4V401.0M1935.04 401.0H1937.07M1938.3 322.4V373.7M1937.30 373.7H1939.34M1941.7 240.3H1944.0M1944.0 240.3H1946.2M1941.7 240.3V291.5M1940.6 291.5H1941.7M1941.7 291.5H1942.8M1940.6 291.5V373.1M1939.56 373.1H1941.60M1942.8 291.5V401.1M1941.83 401.1H1943.86M1946.2 240.3V310.2M1945.1 310.2H1946.2M1946.2 310.2H1947.4M1945.1 310.2V332.4M1944.09 332.4H1946.12M1947.4 310.2V340.8M1946.35 340.8H1948.39M1950.7 280.0H1952.9M1952.9 280.0H1955.2M1950.7 280.0V352.0M1949.5 352.0H1950.7M1950.7 352.0H1951.8M1949.5 352.0V389.4M1948.51 389.4H1950.55M1951.8 352.0V383.1M1950.78 383.1H1952.81M1955.2 280.0V347.9M1954.1 347.9H1955.2M1955.2 347.9H1956.3M1954.1 347.9V361.1M1953.04 361.1H1955.07M1956.3 347.9V400.8M1955.30 400.8H1957.34M1959.7 274.0H1962.0M1962.0 274.0H1964.2M1959.7 274.0V349.8M1958.6 349.8H1959.7M1959.7 349.8H1960.8M1958.6 349.8V369.4M1957.56 369.4H1959.60M1960.8 349.8V385.8M1959.83 385.8H1961.86M1964.2 274.0V350.3M1963.1 350.3H1964.2M1964.2 350.3H1965.4M1963.1 350.3V406.9M1962.09 406.9H1964.12M1965.4 350.3V369.0M1964.35 369.0H1966.39M1968.8 279.0H1971.0M1971.0 279.0H1973.3M1968.8 279.0V345.5M1967.6 345.5H1968.8M1968.8 345.5H1969.9M1967.6 345.5V379.8M1966.61 379.8H1968.65M1969.9 345.5V353.7M1968.88 353.7H1970.91M1973.3 279.0V345.1M1972.2 345.1H1973.3M1973.3 345.1H1974.4M1972.2 345.1V380.4M1971.14 380.4H1973.17M1974.4 345.1V358.0M1973.40 358.0H1975.44M1977.8 275.0H1980.1M1980.1 275.0H1982.3M1977.8 275.0V351.1M1976.7 351.1H1977.8M1977.8 351.1H1978.9M1976.7 351.1V391.4M1975.66 391.4H1977.70M1978.9 351.1V365.7M1977.93 365.7H1979.96M1982.3 275.0V345.6M1981.2 345.6H1982.3M1982.3 345.6H1983.5M1981.2 345.6V399.5M1980.19 399.5H1982.22M1983.5 345.6V389.9M1982.45 389.9H1984.49"/>
<path stroke="#7b1a4c" stroke-width="1.45" d="M1894.2 141.0H1903.2M1903.2 141.0V187.7M1898.7 187.7H1903.2M1903.2 187.7H1907.8M1898.7 187.7V254.0M1907.8 187.7V244.8M1930.4 141.5H1939.5M1939.5 141.5V182.2M1934.9 182.2H1939.5M1939.5 182.2H1944.0M1934.9 182.2V251.5M1944.0 182.2V240.3M1957.5 161.6H1966.5M1966.5 161.6H1975.5M1957.5 161.6V219.0M1952.9 219.0H1957.5M1957.5 219.0H1962.0M1952.9 219.0V280.0M1962.0 219.0V274.0M1975.5 161.6V219.0M1971.0 219.0H1975.5M1975.5 219.0H1980.1M1971.0 219.0V279.0M1980.1 219.0V275.0"/>
<path stroke="#7b1a4c" stroke-width="1.70" d="M1966.5 116.8H1984.6M1966.5 116.8V161.6"/>
<path stroke="#25b6e3" stroke-width="1.45" d="M1993.9 205.2H2003.2M2003.2 205.2H2011.8M1993.9 205.2V463.6M2011.8 205.2V463.6"/>
<path stroke="#25b6e3" stroke-width="1.70" d="M1984.6 116.8H2003.2M2003.2 116.8V205.2"/>
<path stroke="#0d0d0d" stroke-width="1.30" d="M141.6 183.7H150.7M150.7 183.7H159.7M141.6 183.7V237.6M137.0 237.6H141.6M141.6 237.6H146.1M137.0 237.6V294.1M134.8 294.1H137.0M137.0 294.1H139.3M134.8 294.1V367.8M139.3 294.1V396.8M146.1 237.6V288.1M143.8 288.1H146.1M143.8 288.1V436.1M159.7 183.7V233.2M155.2 233.2H159.7M155.2 233.2V288.6M155.2 288.6H157.5M157.5 288.6V463.6M177.9 189.1H187.0M187.0 189.1H196.0M177.9 189.1V235.7M173.4 235.7H177.9M177.9 235.7H182.4M173.4 235.7V292.9M173.4 292.9H175.6M175.6 292.9V417.4M182.4 235.7V299.4M182.4 299.4H184.7M184.7 299.4V438.5M183.6 438.5H184.7M183.6 438.5V463.6M196.0 189.1V235.5M196.0 235.5H200.6M200.6 235.5V304.1M198.3 304.1H200.6M200.6 304.1H202.9M198.3 304.1V463.6M202.9 304.1V378.8M201.83 378.8H203.88M214.2 188.3H223.3M223.3 188.3H232.4M214.2 188.3V238.4M209.7 238.4H214.2M214.2 238.4H218.7M209.7 238.4V296.4M207.4 296.4H209.7M207.4 296.4V463.6M218.7 238.4V296.9M216.5 296.9H218.7M216.5 296.9V417.6M232.4 188.3V242.8M227.8 242.8H232.4M232.4 242.8H236.9M227.8 242.8V292.1M225.6 292.1H227.8M227.8 292.1H230.1M225.6 292.1V366.7M230.1 292.1V369.4M236.9 242.8V288.2M236.9 288.2H239.2M239.2 288.2V463.6M250.5 183.7H259.6M259.6 183.7H268.7M250.5 183.7V236.1M246.0 236.1H250.5M250.5 236.1H255.1M246.0 236.1V298.7M243.7 298.7H246.0M243.7 298.7V391.0M255.1 236.1V289.4M255.1 289.4H257.3M257.3 289.4V379.5M268.7 183.7V234.6M264.1 234.6H268.7M268.7 234.6H273.2M264.1 234.6V299.2M264.1 299.2H266.4M266.4 299.2V411.3M273.2 234.6V286.3M270.9 286.3H273.2M273.2 286.3H275.5M270.9 286.3V406.8M269.92 406.8H271.96M275.5 286.3V463.6M286.8 186.6H295.9M295.9 186.6H305.0M286.8 186.6V229.9M282.3 229.9H286.8M286.8 229.9H291.4M282.3 229.9V300.9M280.0 300.9H282.3M280.0 300.9V380.7M291.4 229.9V285.0M289.1 285.0H291.4M289.1 285.0V392.3M305.0 186.6V239.1M323.1 183.8H332.2M332.2 183.8H341.3M323.1 183.8V229.8M341.3 183.8V243.5M336.8 243.5H341.3M336.8 243.5V302.4M334.5 302.4H336.8M334.5 302.4V377.5M359.5 189.7H368.5M368.5 189.7H377.6M359.5 189.7V232.1M354.9 232.1H359.5M359.5 232.1H364.0M354.9 232.1V297.9M352.6 297.9H354.9M354.9 297.9H357.2M352.6 297.9V367.1M357.2 297.9V436.7M364.0 232.1V308.4M361.7 308.4H364.0M364.0 308.4H366.3M361.7 308.4V463.6M366.3 308.4V463.6M377.6 189.7V234.6M377.6 234.6H382.1M382.1 234.6V307.5M379.9 307.5H382.1M382.1 307.5H384.4M379.9 307.5V463.6M384.4 307.5V382.6M395.8 191.2H404.8M404.8 191.2H413.9M395.8 191.2V242.1M395.8 242.1H400.3M400.3 242.1V293.3M400.3 293.3H402.6M402.6 293.3V463.6M413.9 191.2V235.1M409.4 235.1H413.9M413.9 235.1H418.5M409.4 235.1V295.0M407.1 295.0H409.4M409.4 295.0H411.7M407.1 295.0V463.6M411.7 295.0V374.5M410.5 374.5H411.7M410.5 374.5V463.6M418.5 235.1V307.6M416.2 307.6H418.5M416.2 307.6V463.6M432.1 187.9H441.2M441.2 187.9H450.2M432.1 187.9V230.4M427.5 230.4H432.1M432.1 230.4H436.6M427.5 230.4V285.4M425.3 285.4H427.5M425.3 285.4V404.5M436.6 230.4V305.7M434.3 305.7H436.6M436.6 305.7H438.9M434.3 305.7V387.0M433.2 387.0H434.3M433.2 387.0V463.6M438.9 305.7V463.6M450.2 187.9V232.7M513.8 188.1H522.9M522.9 188.1V240.6M522.9 240.6H527.4M527.4 240.6V288.4M525.1 288.4H527.4M527.4 288.4H529.7M525.1 288.4V370.4M529.7 288.4V423.8M541.0 184.4H550.1M550.1 184.4H559.2M541.0 184.4V240.9M541.0 240.9H545.6M545.6 240.9V297.2M545.6 297.2H547.8M547.8 297.2V463.6M559.2 184.4V230.9M554.6 230.9H559.2M559.2 230.9H563.7M554.6 230.9V295.8M552.4 295.8H554.6M552.4 295.8V367.0M563.7 230.9V296.0M563.7 296.0H566.0M566.0 296.0V369.8M577.3 183.9H586.4M577.3 183.9V232.8M572.8 232.8H577.3M577.3 232.8H581.9M572.8 232.8V286.0M570.5 286.0H572.8M572.8 286.0H575.1M570.5 286.0V374.7M575.1 286.0V409.1M574.04 409.1H576.08M581.9 232.8V291.5M581.9 291.5H584.1M584.1 291.5V416.6M613.6 190.8H622.7M613.6 190.8V236.2M609.1 236.2H613.6M609.1 236.2V293.5M606.8 293.5H609.1M606.8 293.5V463.6M650.0 184.6H659.0M650.0 184.6V234.2M645.4 234.2H650.0M650.0 234.2H654.5M645.4 234.2V285.5M654.5 234.2V303.3M654.5 303.3H656.8M656.8 303.3V463.6M686.3 186.5H695.3M686.3 186.5V237.1M681.7 237.1H686.3M686.3 237.1H690.8M681.7 237.1V302.2M690.8 237.1V305.8M688.5 305.8H690.8M688.5 305.8V463.6M722.6 190.8H731.7M722.6 190.8V240.1M718.0 240.1H722.6M718.0 240.1V292.0M715.8 292.0H718.0M715.8 292.0V399.5M795.2 184.3H804.3M804.3 184.3H813.4M795.2 184.3V241.0M790.7 241.0H795.2M795.2 241.0H799.7M790.7 241.0V301.1M790.7 301.1H792.9M792.9 301.1V375.4M791.8 375.4H792.9M792.9 375.4H794.1M791.8 375.4V463.6M794.1 375.4V463.6M799.7 241.0V297.6M797.5 297.6H799.7M797.5 297.6V463.6M813.4 184.3V242.9M808.8 242.9H813.4M813.4 242.9H817.9M808.8 242.9V299.6M817.9 242.9V302.3M815.6 302.3H817.9M817.9 302.3H820.2M815.6 302.3V375.0M814.5 375.0H815.6M814.5 375.0V463.6M820.2 302.3V406.9M819.0 406.9H820.2M820.2 406.9H821.3M819.0 406.9V463.6M821.3 406.9V463.6M840.6 188.6H849.7M849.7 188.6V239.9M845.1 239.9H849.7M845.1 239.9V286.7M842.9 286.7H845.1M845.1 286.7H847.4M842.9 286.7V370.6M841.7 370.6H842.9M841.7 370.6V463.6M847.4 286.7V420.5M847.4 420.5H848.5M848.5 420.5V463.6M867.8 188.6H876.9M876.9 188.6H886.0M867.8 188.6V239.6M863.3 239.6H867.8M867.8 239.6H872.4M863.3 239.6V286.9M863.3 286.9H865.6M865.6 286.9V407.6M872.4 239.6V286.5M872.4 286.5H874.6M874.6 286.5V386.8M886.0 188.6V236.4M886.0 236.4H890.5M890.5 236.4V308.4M890.5 308.4H892.8M892.8 308.4V463.6M904.1 191.7H913.2M913.2 191.7H922.3M904.1 191.7V236.1M904.1 236.1H908.7M908.7 236.1V288.5M922.3 191.7V240.7M917.8 240.7H922.3M922.3 240.7H926.8M917.8 240.7V290.8M917.8 290.8H920.0M920.0 290.8V401.9M926.8 240.7V292.5M924.6 292.5H926.8M926.8 292.5H929.1M924.6 292.5V388.7M929.1 292.5V427.9M940.5 189.4H949.5M949.5 189.4H958.6M940.5 189.4V244.2M935.9 244.2H940.5M940.5 244.2H945.0M935.9 244.2V292.2M933.6 292.2H935.9M935.9 292.2H938.2M933.6 292.2V439.9M938.2 292.2V385.6M945.0 244.2V287.5M942.7 287.5H945.0M942.7 287.5V463.6M958.6 189.4V232.5M954.1 232.5H958.6M958.6 232.5H963.1M954.1 232.5V291.6M954.1 291.6H956.3M956.3 291.6V463.6M963.1 232.5V300.8M960.9 300.8H963.1M960.9 300.8V416.4M959.86 416.4H961.90M976.8 189.8H985.8M976.8 189.8V239.6M976.8 239.6H981.3M981.3 239.6V293.6M979.0 293.6H981.3M981.3 293.6H983.6M979.0 293.6V438.2M983.6 293.6V406.8M982.4 406.8H983.6M982.4 406.8V463.6M1013.1 183.8H1022.2M1022.2 183.8H1031.2M1013.1 183.8V232.3M1008.5 232.3H1013.1M1013.1 232.3H1017.6M1008.5 232.3V291.5M1008.5 291.5H1010.8M1010.8 291.5V396.0M1010.8 396.0H1011.9M1011.9 396.0V463.6M1017.6 232.3V294.4M1015.3 294.4H1017.6M1017.6 294.4H1019.9M1015.3 294.4V385.8M1019.9 294.4V412.2M1031.2 183.8V231.9M1026.7 231.9H1031.2M1031.2 231.9H1035.8M1026.7 231.9V291.8M1024.4 291.8H1026.7M1026.7 291.8H1029.0M1024.4 291.8V398.4M1029.0 291.8V393.6M1035.8 231.9V307.4M1033.5 307.4H1035.8M1035.8 307.4H1038.0M1033.5 307.4V379.4M1038.0 307.4V463.6M1049.4 190.7H1058.5M1049.4 190.7V245.5M1049.4 245.5H1053.9M1053.9 245.5V304.1M1053.9 304.1H1056.2M1056.2 304.1V398.7M1055.18 398.7H1057.22M1085.7 188.2H1094.8M1094.8 188.2H1103.9M1085.7 188.2V235.0M1081.2 235.0H1085.7M1085.7 235.0H1090.2M1081.2 235.0V290.6M1090.2 235.0V301.1M1103.9 188.2V232.2M1099.3 232.2H1103.9M1103.9 232.2H1108.4M1099.3 232.2V291.2M1108.4 232.2V292.7M1106.1 292.7H1108.4M1108.4 292.7H1110.7M1106.1 292.7V415.6M1110.7 292.7V434.4M1131.1 183.3H1140.2M1140.2 183.3V231.7M1167.4 186.8H1176.5M1176.5 186.8V243.9M1176.5 243.9H1181.0M1181.0 243.9V293.2M1181.0 293.2H1183.3M1183.3 293.2V414.8M1194.6 186.4H1203.7M1203.7 186.4H1212.8M1194.6 186.4V234.0M1194.6 234.0H1199.2M1199.2 234.0V288.1M1212.8 186.4V236.5M1208.3 236.5H1212.8M1212.8 236.5H1217.3M1208.3 236.5V294.3M1206.0 294.3H1208.3M1206.0 294.3V371.6M1204.97 371.6H1207.01M1217.3 236.5V285.8M1217.3 285.8H1219.6M1219.6 285.8V367.6M1231.0 185.3H1240.0M1240.0 185.3H1249.1M1231.0 185.3V241.5M1226.4 241.5H1231.0M1226.4 241.5V307.5M1224.1 307.5H1226.4M1226.4 307.5H1228.7M1224.1 307.5V436.8M1224.1 436.8H1225.3M1225.3 436.8V463.6M1228.7 307.5V388.7M1227.5 388.7H1228.7M1227.5 388.7V463.6M1249.1 185.3V236.6M1249.1 236.6H1253.6M1253.6 236.6V295.7M1253.6 295.7H1255.9M1255.9 295.7V463.6M1267.3 190.0H1276.3M1276.3 190.0H1285.4M1267.3 190.0V238.9M1262.7 238.9H1267.3M1267.3 238.9H1271.8M1262.7 238.9V293.2M1262.7 293.2H1265.0M1265.0 293.2V463.6M1271.8 238.9V287.0M1269.5 287.0H1271.8M1271.8 287.0H1274.1M1269.5 287.0V383.5M1274.1 287.0V389.4M1285.4 190.0V243.9M1280.9 243.9H1285.4M1285.4 243.9H1290.0M1280.9 243.9V309.7M1280.9 309.7H1283.2M1283.2 309.7V402.4M1290.0 243.9V296.2M1287.7 296.2H1290.0M1290.0 296.2H1292.2M1287.7 296.2V411.5M1292.2 296.2V414.8M1291.1 414.8H1292.2M1292.2 414.8H1293.4M1291.1 414.8V463.6M1293.4 414.8V463.6M1312.7 203.8H1321.7M1321.7 203.8V253.2M1339.9 205.2H1349.0M1349.0 205.2H1358.0M1339.9 205.2V262.1M1339.9 262.1H1344.4M1344.4 262.1V322.4M1358.0 205.2V247.7M1353.5 247.7H1358.0M1353.5 247.7V331.6M1376.2 202.3H1385.3M1376.2 202.3V255.2M1371.7 255.2H1376.2M1376.2 255.2H1380.7M1371.7 255.2V325.6M1371.7 325.6H1373.9M1373.9 325.6V415.9M1380.7 255.2V309.7M1380.7 309.7H1383.0M1383.0 309.7V369.7M1412.5 202.4H1421.6M1421.6 202.4H1430.7M1412.5 202.4V248.8M1412.5 248.8H1417.1M1417.1 248.8V311.8M1430.7 202.4V250.0M1430.7 250.0H1435.2M1435.2 250.0V295.3M1435.2 295.3H1437.5M1437.5 295.3V431.2M1448.8 203.8H1457.9M1457.9 203.8H1467.0M1448.8 203.8V256.1M1448.8 256.1H1453.4M1453.4 256.1V301.9M1453.4 301.9H1455.6M1455.6 301.9V463.6M1467.0 203.8V244.4M1462.4 244.4H1467.0M1467.0 244.4H1471.5M1462.4 244.4V318.1M1471.5 244.4V339.3M1469.3 339.3H1471.5M1469.3 339.3V463.6M1485.1 202.9H1494.2M1485.1 202.9V261.9M1557.8 203.4H1566.8M1557.8 203.4V247.2M1887.4 238.6H1889.7M1889.7 238.6H1891.9M1887.4 238.6V343.9M1891.9 238.6V349.8"/>
<path stroke="#0d0d0d" stroke-width="1.45" d="M168.8 116.3H205.1M205.1 116.3H241.4M168.8 116.3V150.4M150.7 150.4H168.8M168.8 150.4H187.0M150.7 150.4V183.7M187.0 150.4V189.1M241.4 116.3V150.6M223.3 150.6H241.4M241.4 150.6H259.6M223.3 150.6V188.3M259.6 150.6V183.7M314.1 117.6H350.4M350.4 117.6H386.7M314.1 117.6V149.3M295.9 149.3H314.1M314.1 149.3H332.2M295.9 149.3V186.6M332.2 149.3V183.8M386.7 117.6V151.2M368.5 151.2H386.7M386.7 151.2H404.8M368.5 151.2V189.7M404.8 151.2V191.2M459.3 117.3H495.6M495.6 117.3H531.9M459.3 117.3V149.1M441.2 149.1H459.3M441.2 149.1V187.9M531.9 117.3V149.8M513.8 149.8H531.9M531.9 149.8H550.1M513.8 149.8V188.1M550.1 149.8V184.4M604.6 117.6H640.9M640.9 117.6H677.2M604.6 117.6V151.9M586.4 151.9H604.6M604.6 151.9H622.7M586.4 151.9V183.9M622.7 151.9V190.8M677.2 117.6V149.8M659.0 149.8H677.2M677.2 149.8H695.3M659.0 149.8V184.6M695.3 149.8V186.5M749.8 116.2H786.1M786.1 116.2H822.4M749.8 116.2V151.3M731.7 151.3H749.8M749.8 151.3H768.0M731.7 151.3V190.8M768.0 151.3V187.5M822.4 116.2V151.9M804.3 151.9H822.4M822.4 151.9H840.6M804.3 151.9V184.3M840.6 151.9V188.6M895.1 117.4H931.4M931.4 117.4H967.7M895.1 117.4V151.0M876.9 151.0H895.1M895.1 151.0H913.2M876.9 151.0V188.6M913.2 151.0V191.7M967.7 117.4V151.7M949.5 151.7H967.7M967.7 151.7H985.8M949.5 151.7V189.4M985.8 151.7V189.8M1040.3 116.2H1076.6M1076.6 116.2H1112.9M1040.3 116.2V149.0M1022.2 149.0H1040.3M1040.3 149.0H1058.5M1022.2 149.0V183.8M1058.5 149.0V190.7M1112.9 116.2V149.9M1094.8 149.9H1112.9M1112.9 149.9H1131.1M1094.8 149.9V188.2M1131.1 149.9V183.3M1185.6 116.4H1221.9M1221.9 116.4H1258.2M1185.6 116.4V148.5M1167.4 148.5H1185.6M1185.6 148.5H1203.7M1167.4 148.5V186.8M1203.7 148.5V186.4M1258.2 116.4V151.6M1240.0 151.6H1258.2M1258.2 151.6H1276.3M1240.0 151.6V185.3M1276.3 151.6V190.0M1330.8 130.8H1367.1M1367.1 130.8H1403.4M1330.8 130.8V164.4M1312.7 164.4H1330.8M1330.8 164.4H1349.0M1312.7 164.4V203.8M1349.0 164.4V205.2M1403.4 130.8V164.1M1385.3 164.1H1403.4M1403.4 164.1H1421.6M1385.3 164.1V202.3M1421.6 164.1V202.4M1476.1 130.0H1512.4M1512.4 130.0H1548.7M1476.1 130.0V163.5M1457.9 163.5H1476.1M1476.1 163.5H1494.2M1457.9 163.5V203.8M1494.2 163.5V202.9M1548.7 130.0V166.2M1530.5 166.2H1548.7M1548.7 166.2H1566.8M1530.5 166.2V201.2M1566.8 166.2V203.4M1885.1 141.0H1894.2M1885.1 141.0V186.1M1885.1 186.1H1889.7M1889.7 186.1V238.6"/>
<path stroke="#0d0d0d" stroke-width="1.70" d="M205.1 93.7H277.8M277.8 93.7H350.4M205.1 93.7V116.3M350.4 93.7V117.6M495.6 94.8H568.2M568.2 94.8H640.9M495.6 94.8V117.3M640.9 94.8V117.6M786.1 93.5H858.8M858.8 93.5H931.4M786.1 93.5V116.2M931.4 93.5V117.4M1076.6 93.5H1149.2M1149.2 93.5H1221.9M1076.6 93.5V116.2M1221.9 93.5V116.4M1367.1 102.3H1439.8M1439.8 102.3H1512.4M1367.1 102.3V130.8M1512.4 102.3V130.0M1894.2 109.0H1912.3M1912.3 109.0H1930.4M1894.2 109.0V141.0M1930.4 109.0V141.5"/>
<path stroke="#0d0d0d" stroke-width="2.30" d="M713.5 49.0V56.0M423.0 56.0H713.5M713.5 56.0H1004.0M423.0 56.0V73.5M277.8 73.5H423.0M423.0 73.5H568.2M277.8 73.5V93.7M568.2 73.5V94.8M1004.0 56.0V73.5M858.8 73.5H1004.0M1004.0 73.5H1149.2M858.8 73.5V93.5M1149.2 73.5V93.5M1766.6 51.0V59.0M1585.0 59.0H1766.6M1766.6 59.0H1948.4M1585.0 59.0V78.5M1439.8 78.5H1585.0M1439.8 78.5V102.3M1948.4 59.0V84.4M1912.3 84.4H1948.4M1948.4 84.4H1984.6M1912.3 84.4V109.0M1984.6 84.4V116.8"/>
</g>
<path fill="none" stroke="#c2bc7e" stroke-width="1.3" stroke-dasharray="10 6.8" d="M135.9 367.8V463.6M138.2 396.8V463.6M142.7 436.1V463.6M171.1 292.9V463.6M176.8 417.4V463.6M185.8 438.5V463.6M215.3 417.6V463.6M226.7 366.7V463.6M229.0 369.4V463.6M242.6 391.0V463.6M256.2 379.5V463.6M265.3 411.3V463.6M281.2 380.7V463.6M290.2 392.3V463.6M333.4 377.5V463.6M353.8 367.1V463.6M358.3 436.7V463.6M385.6 382.6V463.6M412.8 374.5V463.6M424.1 404.5V463.6M435.5 387.0V463.6M516.1 306.9V426.8M520.6 306.9V463.6M526.3 370.4V463.6M528.5 423.8V463.6M553.5 367.0V463.6M564.8 369.8V463.6M571.7 374.7V463.6M585.3 416.6V463.6M611.4 293.5V390.8M716.9 399.5V463.6M816.8 375.0V463.6M844.0 370.6V463.6M846.3 420.5V463.6M866.7 407.6V463.6M873.5 386.8V463.6M915.5 290.8V463.6M921.2 401.9V463.6M923.4 388.7V463.6M930.2 427.9V463.6M932.5 439.9V463.6M939.3 385.6V463.6M980.2 438.2V463.6M984.7 406.8V463.6M1006.3 291.5V463.6M1009.7 396.0V463.6M1014.2 385.8V463.6M1018.8 412.2V463.6M1023.3 398.4V463.6M1030.1 393.6V463.6M1034.6 379.4V463.6M1078.9 290.6V405.2M1107.3 415.6V463.6M1111.8 434.4V463.6M1184.4 414.8V463.6M1220.7 367.6V463.6M1223.0 436.8V463.6M1229.8 388.7V463.6M1270.7 383.5V463.6M1272.9 389.4V463.6M1282.0 402.4V463.6M1286.6 411.5V463.6M1342.2 322.4V463.6M1351.2 331.6V429.8M1375.1 415.9V463.6M1384.1 369.7V463.6M1419.3 311.8V463.6M1432.9 295.3V463.6M1438.6 431.2V463.6M1464.7 318.1V390.6M1473.8 339.3V457.4M1886.3 343.9V463.6M1890.8 349.8V463.6"/>
<polyline points="712.8,49 1240,34.8 1766.6,51" fill="none" stroke="#cfd1d4" stroke-width="2.1"/>
<circle cx="1240.1" cy="34.8" r="5.9" fill="#cfd1d4"/>
<text transform="translate(712.8,41.5) scale(1.000,1.050)" font-size="27.3" text-anchor="middle" fill="#000">AB</text>
<text transform="translate(1240.0,21.3) scale(1.000,1.050)" font-size="28.0" text-anchor="middle" fill="#000">P0</text>
<text transform="translate(1767.5,41.0) scale(1.000,1.050)" font-size="27.3" text-anchor="middle" fill="#000">P1</text>
<text transform="translate(1580.0,73.8) scale(1.000,1.050)" font-size="27.3" text-anchor="end" fill="#000">EMS</text>
<text transform="translate(1952.2,73.4) scale(1.000,1.050)" font-size="27.3" text-anchor="start" fill="#000">P2</text>
<text transform="translate(1884.3,103.0) scale(1.000,1.050)" font-size="27.3" text-anchor="start" fill="#000">C</text>
<text transform="translate(1988.6,103.4) scale(1.000,1.050)" font-size="27.3" text-anchor="start" fill="#000">P3</text>
<text transform="translate(1939.4,137.4) scale(1.000,1.050)" font-size="27.3" text-anchor="start" fill="#000">D</text>
<text transform="translate(2004.6,137.4) scale(1.000,1.050)" font-size="27.3" text-anchor="start" fill="#000">P4</text>
<text transform="translate(2041,240.2) rotate(-90) scale(1,1.05)" font-size="28.2" text-anchor="middle" fill="#000">Z2/Z3</text>
<circle cx="264" cy="468.5" r="3.3" fill="#000"/>
<circle cx="1183" cy="468.5" r="3.3" fill="#000"/>
<polygon points="910.9,485.7 920.1,485.7 915.5,467.4" fill="#000"/>
<polygon points="1282.4,485.7 1291.6,485.7 1287,467.4" fill="#bdbdbd"/>
<line x1="131.3" y1="505" x2="217.6" y2="505" stroke="#0b6a3a" stroke-width="4"/>
<text transform="translate(226.0,512.2) scale(1.000,1.050)" font-size="25.7" text-anchor="start" fill="#000">Neuron</text>
<line x1="340.6" y1="505" x2="426.7" y2="505" stroke="#1d4fa3" stroke-width="4"/>
<text transform="translate(434.9,512.2) scale(1.000,1.050)" font-size="25.7" text-anchor="start" fill="#000">Pharynx</text>
<line x1="559.4" y1="505" x2="645.5" y2="505" stroke="#e3202e" stroke-width="4"/>
<text transform="translate(653.9,512.2) scale(1.000,1.050)" font-size="25.7" text-anchor="start" fill="#000">Skin</text>
<line x1="732.8" y1="505" x2="819.2" y2="505" stroke="#6a0a3c" stroke-width="4"/>
<text transform="translate(827.6,512.2) scale(1.000,1.050)" font-size="25.7" text-anchor="start" fill="#000">Muscle</text>
<line x1="938.9" y1="505" x2="1024.9" y2="505" stroke="#9a4f9e" stroke-width="4"/>
<text transform="translate(1033.0,512.2) scale(1.000,1.050)" font-size="25.7" text-anchor="start" fill="#000">Intestine</text>
<line x1="1160.8" y1="505" x2="1246.6" y2="505" stroke="#1ab5e2" stroke-width="4"/>
<text transform="translate(1255.5,512.2) scale(1.000,1.050)" font-size="25.7" text-anchor="start" fill="#000">Germline</text>
<line x1="1586.0" y1="505" x2="1671.9" y2="505" stroke="#000" stroke-width="4"/>
<text transform="translate(1681.0,512.2) scale(1.000,1.050)" font-size="25.7" text-anchor="start" fill="#000">Unspecified</text>
<line x1="1844.7" y1="505" x2="1930.6" y2="505" stroke="#a8862e" stroke-width="4"/>
<text transform="translate(1938.3,512.2) scale(1.000,1.050)" font-size="25.7" text-anchor="start" fill="#000">Others</text>
<line x1="1390.5" y1="505" x2="1476.5" y2="505" stroke="#000" stroke-width="4" stroke-dasharray="11.5 10" stroke-dashoffset="6"/>
<text transform="translate(1487.0,512.2) scale(1.000,1.050)" font-size="25.7" text-anchor="start" fill="#000">Death</text>
<rect x="117.0" y="762.5" width="102.4" height="308.2" fill="#d3e4e1"/>
<rect x="219.4" y="762.5" width="164.3" height="308.2" fill="#cbdde0"/>
<rect x="383.7" y="762.5" width="58.6" height="308.2" fill="#c8d3df"/>
<rect x="442.3" y="762.5" width="64.5" height="308.2" fill="#c4c8de"/>
<rect x="506.8" y="762.5" width="43.8" height="308.2" fill="#bdc0dc"/>
<line x1="219.4" y1="762.5" x2="219.4" y2="1070.7" stroke="#fff" stroke-width="1.6"/>
<line x1="383.7" y1="762.5" x2="383.7" y2="1070.7" stroke="#fff" stroke-width="1.6"/>
<line x1="442.3" y1="762.5" x2="442.3" y2="1070.7" stroke="#fff" stroke-width="1.6"/>
<line x1="506.8" y1="762.5" x2="506.8" y2="1070.7" stroke="#fff" stroke-width="1.6"/>
<path d="M117 749V1070.7H550.6" fill="none" stroke="#444" stroke-width="1"/>
<line x1="117" y1="1070.7" x2="122" y2="1070.7" stroke="#444" stroke-width="1"/>
<text transform="translate(108.4,1080.0) scale(1.000,1.050)" font-size="26.0" text-anchor="end" fill="#262626">0</text>
<line x1="117" y1="968.1" x2="122" y2="968.1" stroke="#444" stroke-width="1"/>
<text transform="translate(108.4,977.4) scale(1.000,1.050)" font-size="26.0" text-anchor="end" fill="#262626">200</text>
<line x1="117" y1="865.5" x2="122" y2="865.5" stroke="#444" stroke-width="1"/>
<text transform="translate(108.4,874.8) scale(1.000,1.050)" font-size="26.0" text-anchor="end" fill="#262626">400</text>
<line x1="117" y1="762.9" x2="122" y2="762.9" stroke="#444" stroke-width="1"/>
<text transform="translate(108.4,772.2) scale(1.000,1.050)" font-size="26.0" text-anchor="end" fill="#262626">600</text>
<line x1="139.6" y1="1070.7" x2="139.6" y2="1066" stroke="#444" stroke-width="1"/>
<text transform="translate(139.6,1103.8) scale(1.000,1.050)" font-size="26.0" text-anchor="middle" fill="#262626">0</text>
<line x1="257.2" y1="1070.7" x2="257.2" y2="1066" stroke="#444" stroke-width="1"/>
<text transform="translate(257.2,1103.8) scale(1.000,1.050)" font-size="26.0" text-anchor="middle" fill="#262626">100</text>
<line x1="374.8" y1="1070.7" x2="374.8" y2="1066" stroke="#444" stroke-width="1"/>
<text transform="translate(374.8,1103.8) scale(1.000,1.050)" font-size="26.0" text-anchor="middle" fill="#262626">200</text>
<line x1="492.4" y1="1070.7" x2="492.4" y2="1066" stroke="#444" stroke-width="1"/>
<text transform="translate(492.4,1103.8) scale(1.000,1.050)" font-size="26.0" text-anchor="middle" fill="#262626">300</text>
<text transform="translate(337.0,1133.7) scale(1.000,1.050)" font-size="25.9" text-anchor="middle" fill="#262626">Developmental time (min)</text>
<text transform="translate(56.3,836.2) rotate(-90) scale(1,1.05)" font-size="25.9" text-anchor="middle" fill="#262626">Cell number</text>
<text transform="translate(169.5,747.5) rotate(-30.5) scale(1,1.05)" font-size="27.1" fill="#000">Founder cell generation</text>
<text transform="translate(305.0,747.0) rotate(-30.5) scale(1,1.05)" font-size="27.1" fill="#000">Gastrulation</text>
<text transform="translate(414.0,747.0) rotate(-30.5) scale(1,1.05)" font-size="27.1" fill="#000">Ventral cleft closure</text>
<text transform="translate(475.0,747.5) rotate(-30.5) scale(1,1.05)" font-size="27.1" fill="#000">Dorsal intercalation</text>
<text transform="translate(540.0,747.5) rotate(-30.5) scale(1,1.05)" font-size="27.1" fill="#000">Epidermal enclosure</text>
<path d="M158.1 1063.4V1069.5M164.3 1061.9V1068.6M170.5 1060.1V1067.2M176.7 1058.5V1065.6M182.9 1056.9V1063.9M189.1 1055.5V1062.2M195.3 1054.3V1060.7M201.5 1051.4V1061.6M207.7 1044.6V1057.5M213.9 1042.6V1051.9M220.1 1042.3V1048.7M226.2 1041.5V1047.8M232.4 1036.1V1049.1M238.6 1024.3V1045.0M244.8 1021.4V1033.1M251.0 1021.3V1029.6M257.2 1018.1V1027.5M263.4 1015.6V1024.7M269.6 1008.6V1024.7M275.8 993.9V1021.1M282.0 979.1V1007.3M288.2 976.4V991.5M294.4 974.7V984.9M300.6 972.4V981.0M306.8 972.1V978.4M313.0 968.8V978.8M319.2 958.5V979.5M325.4 937.2V974.3M331.6 914.2V956.1M337.8 900.0V934.0M344.0 893.6V916.3M350.2 890.4V905.0M356.4 889.3V898.7M362.6 887.4V895.9M368.8 884.7V893.9M375.0 880.9V891.5M381.2 876.5V889.0M387.4 867.8V885.7M393.6 857.7V880.6M399.8 840.8V872.3M406.0 827.2V857.1M412.2 817.7V841.3M418.4 813.4V830.6M424.6 808.1V822.1M430.8 807.1V816.5M437.0 804.3V813.6M443.2 802.8V810.3M449.4 801.8V808.5M455.6 800.6V807.0M474.1 797.6V803.8M480.3 795.8V802.9M486.5 794.1V801.3M492.7 792.4V799.6" fill="none" stroke="#000" stroke-width="1.5"/>
<path d="M120.9 1070.7 L127.1 1070.7 L133.3 1070.7 L139.5 1070.7 L145.7 1070.7 L151.9 1070.7 L158.1 1070.7 L164.3 1070.7 L170.5 1070.7 L176.7 1070.7 L182.9 1070.7 L189.1 1070.7 L195.3 1070.7 L201.5 1070.7 L207.7 1070.7 L213.9 1070.7 L220.1 1070.7 L226.2 1070.7 L232.4 1070.7 L238.6 1070.7 L244.8 1070.7 L251.0 1070.7 L257.2 1070.7 L263.4 1070.7 L269.6 1070.7 L275.8 1070.7 L282.0 1070.7 L288.2 1070.7 L294.4 1070.7 L300.6 1070.7 L306.8 1070.7 L313.0 1070.7 L319.2 1070.3 L325.4 1069.7 L331.6 1068.9 L337.8 1067.6 L344.0 1066.2 L350.2 1064.7 L356.4 1063.7 L362.6 1063.1 L368.8 1062.6 L375.0 1062.0 L381.2 1061.4 L387.4 1060.7 L393.6 1060.0 L399.8 1058.8 L406.0 1056.1 L412.2 1051.8 L418.4 1047.6 L424.6 1044.1 L430.8 1042.2 L437.0 1041.0 L443.2 1040.0 L449.4 1040.8 L455.6 1041.6 L461.8 1042.4 L468.0 1043.2 L474.1 1044.0 L480.3 1045.0 L486.5 1046.3 L492.7 1047.8 L498.9 1049.9 L505.1 1051.8 L511.3 1051.7 L517.5 1050.9 L523.7 1050.7 L529.9 1050.7 L536.1 1050.7" fill="none" stroke="#e3202e" stroke-width="2.2"/>
<path d="M120.9 1070.0 L127.1 1069.7 L133.3 1069.4 L139.5 1069.2 L145.7 1068.4 L151.9 1067.5 L158.1 1066.5 L164.3 1065.3 L170.5 1063.6 L176.7 1062.0 L182.9 1060.4 L189.1 1058.9 L195.3 1057.5 L201.5 1056.5 L207.7 1051.0 L213.9 1047.2 L220.1 1045.5 L226.2 1044.6 L232.4 1042.6 L238.6 1034.6 L244.8 1027.3 L251.0 1025.4 L257.2 1022.8 L263.4 1020.2 L269.6 1016.7 L275.8 1007.5 L282.0 993.2 L288.2 983.9 L294.4 979.8 L300.6 976.7 L306.8 975.2 L313.0 973.8 L319.2 969.0 L325.4 955.7 L331.6 935.2 L337.8 917.0 L344.0 905.0 L350.2 897.7 L356.4 894.0 L362.6 891.6 L368.8 889.3 L375.0 886.2 L381.2 882.8 L387.4 876.8 L393.6 869.1 L399.8 856.5 L406.0 842.2 L412.2 829.5 L418.4 822.0 L424.6 815.1 L430.8 811.8 L437.0 809.0 L443.2 806.6 L449.4 805.2 L455.6 803.8 L461.8 802.7 L468.0 801.7 L474.1 800.7 L480.3 799.3 L486.5 797.7 L492.7 796.0 L498.9 794.6 L505.1 794.1 L511.3 793.7 L517.5 793.5 L523.7 793.4 L529.9 793.3 L536.1 793.2" fill="none" stroke="#000" stroke-width="2.6"/>
<path d="M120.9 1070.7h0M127.1 1070.7h0M133.3 1070.7h0M139.5 1070.7h0M145.7 1070.7h0M151.9 1070.7h0M158.1 1070.7h0M164.3 1070.7h0M170.5 1070.7h0M176.7 1070.7h0M182.9 1070.7h0M189.1 1070.7h0M195.3 1070.7h0M201.5 1070.7h0M207.7 1070.7h0M213.9 1070.7h0M220.1 1070.7h0M226.2 1070.7h0M232.4 1070.7h0M238.6 1070.7h0M244.8 1070.7h0M251.0 1070.7h0M257.2 1070.7h0M263.4 1070.7h0M269.6 1070.7h0M275.8 1070.7h0M282.0 1070.7h0M288.2 1070.7h0M294.4 1070.7h0M300.6 1070.7h0M306.8 1070.7h0M313.0 1070.7h0M319.2 1070.3h0M325.4 1069.7h0M331.6 1068.9h0M337.8 1067.6h0M344.0 1066.2h0M350.2 1064.7h0M356.4 1063.7h0M362.6 1063.1h0M368.8 1062.6h0M375.0 1062.0h0M381.2 1061.4h0M387.4 1060.7h0M393.6 1060.0h0M399.8 1058.8h0M406.0 1056.1h0M412.2 1051.8h0M418.4 1047.6h0M424.6 1044.1h0M430.8 1042.2h0M437.0 1041.0h0M443.2 1040.0h0M449.4 1040.8h0M455.6 1041.6h0M461.8 1042.4h0M468.0 1043.2h0M474.1 1044.0h0M480.3 1045.0h0M486.5 1046.3h0M492.7 1047.8h0M498.9 1049.9h0M505.1 1051.8h0M511.3 1051.7h0M517.5 1050.9h0M523.7 1050.7h0M529.9 1050.7h0M536.1 1050.7h0" fill="none" stroke="#e3202e" stroke-width="5.4" stroke-linecap="round"/>
<path d="M120.9 1070.0h0M127.1 1069.7h0M133.3 1069.4h0M139.5 1069.2h0M145.7 1068.4h0M151.9 1067.5h0M158.1 1066.5h0M164.3 1065.3h0M170.5 1063.6h0M176.7 1062.0h0M182.9 1060.4h0M189.1 1058.9h0M195.3 1057.5h0M201.5 1056.5h0M207.7 1051.0h0M213.9 1047.2h0M220.1 1045.5h0M226.2 1044.6h0M232.4 1042.6h0M238.6 1034.6h0M244.8 1027.3h0M251.0 1025.4h0M257.2 1022.8h0M263.4 1020.2h0M269.6 1016.7h0M275.8 1007.5h0M282.0 993.2h0M288.2 983.9h0M294.4 979.8h0M300.6 976.7h0M306.8 975.2h0M313.0 973.8h0M319.2 969.0h0M325.4 955.7h0M331.6 935.2h0M337.8 917.0h0M344.0 905.0h0M350.2 897.7h0M356.4 894.0h0M362.6 891.6h0M368.8 889.3h0M375.0 886.2h0M381.2 882.8h0M387.4 876.8h0M393.6 869.1h0M399.8 856.5h0M406.0 842.2h0M412.2 829.5h0M418.4 822.0h0M424.6 815.1h0M430.8 811.8h0M437.0 809.0h0M443.2 806.6h0M449.4 805.2h0M455.6 803.8h0M461.8 802.7h0M468.0 801.7h0M474.1 800.7h0M480.3 799.3h0M486.5 797.7h0M492.7 796.0h0M498.9 794.6h0M505.1 794.1h0M511.3 793.7h0M517.5 793.5h0M523.7 793.4h0M529.9 793.3h0M536.1 793.2h0" fill="none" stroke="#000" stroke-width="5.8" stroke-linecap="round"/>
<circle cx="578.6" cy="895.5" r="7.5" fill="#000"/>
<circle cx="578.6" cy="932.6" r="7.5" fill="#e3202e"/>
<text transform="translate(610.0,905.3) scale(1.000,1.050)" font-size="25.8" text-anchor="start" fill="#000">Non-apoptotic</text>
<text transform="translate(610.0,942.2) scale(1.000,1.050)" font-size="25.8" text-anchor="start" fill="#000">Apoptotic</text>
<line x1="881.7" y1="1068.4" x2="1360.8" y2="590.9" stroke="#000" stroke-width="2.3" stroke-dasharray="9.3 8"/>
<path d="M1071.8 877.8h0M1071.8 879.6h0M1071.8 887.5h0M1071.8 872.1h0M1071.8 883.9h0M1071.8 887.4h0M1071.8 878.5h0M1071.8 877.4h0M1071.8 869.0h0M1111.5 848.4h0M1111.5 847.1h0M1111.5 842.3h0M1111.5 843.1h0M1111.5 841.3h0M1111.5 844.4h0M1111.5 848.5h0M1111.5 843.1h0M1111.5 837.5h0M1074.9 873.6h0M1074.9 880.7h0M1074.9 874.8h0M1074.9 875.4h0M1074.9 879.9h0M1074.9 879.2h0M1074.9 877.2h0M1074.9 863.8h0M1074.9 876.6h0M1108.8 847.9h0M1108.8 844.4h0M1108.8 846.3h0M1108.8 838.0h0M1108.8 854.1h0M1108.8 848.9h0M1108.8 839.5h0M1108.8 841.5h0M1108.8 843.5h0M1091.3 857.6h0M1091.3 867.6h0M1091.3 859.3h0M1091.3 866.6h0M1091.3 867.3h0M1091.3 858.6h0M1091.3 865.0h0M1091.3 862.8h0M1091.3 858.0h0M1086.3 871.1h0M1086.3 863.0h0M1086.3 855.0h0M1086.3 866.9h0M1086.3 861.3h0M1086.3 862.2h0M1086.3 872.2h0M1086.3 872.7h0M1086.3 865.9h0M1134.4 828.5h0M1134.4 817.9h0M1134.4 816.8h0M1134.4 815.8h0M1134.4 815.9h0M1134.4 811.5h0M1134.4 819.7h0M1134.4 811.5h0M1134.4 815.5h0M1060.1 889.5h0M1060.1 892.8h0M1060.1 887.4h0M1060.1 895.7h0M1060.1 888.5h0M1060.1 886.6h0M1060.1 895.3h0M1060.1 896.7h0M1060.1 895.7h0M1089.9 862.6h0M1089.9 860.6h0M1089.9 858.1h0M1089.9 853.1h0M1089.9 854.4h0M1089.9 861.1h0M1089.9 864.3h0M1089.9 868.3h0M1089.9 858.4h0M1059.6 890.1h0M1059.6 894.0h0M1059.6 893.4h0M1059.6 893.2h0M1059.6 905.2h0M1059.6 892.9h0M1059.6 891.0h0M1059.6 893.2h0M1059.6 897.8h0M1131.6 820.6h0M1131.6 818.5h0M1131.6 812.0h0M1131.6 815.6h0M1131.6 817.9h0M1131.6 821.1h0M1131.6 827.4h0M1131.6 823.1h0M1131.6 827.5h0M1090.0 862.8h0M1090.0 857.0h0M1090.0 857.1h0M1090.0 857.8h0M1090.0 862.2h0M1090.0 857.4h0M1090.0 863.6h0M1090.0 871.8h0M1090.0 861.6h0M1075.5 876.5h0M1075.5 885.3h0M1075.5 879.3h0M1075.5 888.7h0M1075.5 879.1h0M1075.5 870.8h0M1075.5 879.9h0M1075.5 870.3h0M1075.5 875.6h0M1060.3 895.5h0M1060.3 900.5h0M1060.3 888.1h0M1060.3 888.6h0M1060.3 899.1h0M1060.3 893.9h0M1060.3 886.4h0M1060.3 895.5h0M1060.3 889.9h0M1099.8 862.1h0M1099.8 857.0h0M1099.8 849.0h0M1099.8 858.3h0M1099.8 859.6h0M1099.8 859.3h0M1099.8 854.4h0M1099.8 860.3h0M1099.8 853.1h0M1081.7 867.8h0M1081.7 863.0h0M1081.7 872.5h0M1081.7 862.6h0M1081.7 867.8h0M1081.7 871.6h0M1081.7 868.0h0M1081.7 863.1h0M1081.7 863.2h0M1056.5 891.9h0M1056.5 896.1h0M1056.5 891.5h0M1056.5 894.6h0M1056.5 894.8h0M1056.5 894.4h0M1056.5 886.7h0M1056.5 901.5h0M1056.5 896.0h0M1047.8 909.7h0M1047.8 900.1h0M1047.8 898.9h0M1047.8 897.7h0M1047.8 906.1h0M1047.8 904.1h0M1047.8 900.6h0M1047.8 903.5h0M1047.8 902.9h0M1081.0 870.3h0M1081.0 869.9h0M1081.0 871.8h0M1081.0 869.1h0M1081.0 878.4h0M1081.0 873.3h0M1081.0 877.7h0M1081.0 871.6h0M1081.0 874.8h0M1098.8 850.9h0M1098.8 847.3h0M1098.8 859.6h0M1098.8 857.3h0M1098.8 851.9h0M1098.8 846.4h0M1098.8 849.7h0M1098.8 851.3h0M1098.8 853.8h0M1092.8 861.6h0M1092.8 857.6h0M1092.8 857.0h0M1092.8 858.6h0M1092.8 862.3h0M1092.8 867.3h0M1092.8 863.6h0M1092.8 861.3h0M1092.8 865.1h0M1128.1 822.7h0M1128.1 831.2h0M1128.1 825.7h0M1128.1 822.5h0M1128.1 820.3h0M1128.1 823.1h0M1128.1 818.4h0M1128.1 827.2h0M1128.1 828.0h0M1129.2 817.9h0M1129.2 827.5h0M1129.2 824.0h0M1129.2 831.7h0M1129.2 817.7h0M1129.2 819.7h0M1129.2 826.9h0M1129.2 831.7h0M1129.2 822.0h0M1131.5 819.6h0M1131.5 815.2h0M1131.5 811.9h0M1131.5 819.8h0M1131.5 822.0h0M1131.5 822.1h0M1131.5 822.4h0M1131.5 827.6h0M1131.5 825.3h0M1118.8 834.0h0M1118.8 841.6h0M1118.8 840.0h0M1118.8 827.6h0M1118.8 836.8h0M1118.8 829.6h0M1118.8 828.2h0M1118.8 833.5h0M1118.8 829.5h0M1089.0 864.2h0M1089.0 867.5h0M1089.0 863.8h0M1089.0 862.9h0M1089.0 862.7h0M1089.0 862.9h0M1089.0 865.2h0M1089.0 858.1h0M1089.0 864.2h0M1093.3 861.0h0M1093.3 854.5h0M1093.3 863.9h0M1093.3 859.0h0M1093.3 851.8h0M1093.3 858.7h0M1093.3 852.1h0M1093.3 860.2h0M1093.3 861.4h0M1081.6 871.4h0M1081.6 873.4h0M1081.6 872.4h0M1081.6 872.8h0M1081.6 866.7h0M1081.6 868.7h0M1081.6 871.6h0M1081.6 874.3h0M1081.6 855.0h0M1081.8 871.4h0M1081.8 863.6h0M1081.8 876.1h0M1081.8 874.0h0M1081.8 864.4h0M1081.8 875.7h0M1081.8 875.6h0M1081.8 870.7h0M1081.8 873.9h0M1048.6 904.9h0M1048.6 902.7h0M1048.6 899.2h0M1048.6 902.6h0M1048.6 902.0h0M1048.6 897.0h0M1048.6 896.6h0M1048.6 905.2h0M1048.6 912.5h0M1118.8 838.4h0M1118.8 828.3h0M1118.8 835.9h0M1118.8 837.0h0M1118.8 835.7h0M1118.8 825.8h0M1118.8 833.2h0M1118.8 835.4h0M1118.8 836.9h0M1067.5 889.9h0M1067.5 870.8h0M1067.5 884.7h0M1067.5 883.8h0M1067.5 886.1h0M1067.5 879.4h0M1067.5 889.4h0M1067.5 893.9h0M1067.5 887.4h0M1047.5 902.9h0M1047.5 893.6h0M1047.5 904.9h0M1047.5 908.7h0M1047.5 905.7h0M1047.5 908.3h0M1047.5 908.4h0M1047.5 904.1h0M1047.5 903.1h0M1088.0 867.4h0M1088.0 858.8h0M1088.0 864.6h0M1088.0 863.6h0M1088.0 866.7h0M1088.0 862.4h0M1088.0 862.2h0M1088.0 861.0h0M1088.0 868.2h0M1111.3 837.9h0M1111.3 843.7h0M1111.3 840.5h0M1111.3 837.3h0M1111.3 833.6h0M1111.3 843.1h0M1111.3 846.4h0M1111.3 840.3h0M1111.3 835.0h0M1085.1 868.6h0M1085.1 855.1h0M1085.1 876.1h0M1085.1 859.6h0M1085.1 861.3h0M1085.1 861.5h0M1085.1 871.0h0M1085.1 860.3h0M1085.1 861.3h0M1078.5 867.5h0M1078.5 874.7h0M1078.5 874.8h0M1078.5 867.3h0M1078.5 871.9h0M1078.5 875.3h0M1078.5 877.6h0M1078.5 872.3h0M1078.5 880.2h0M1105.8 843.6h0M1105.8 845.6h0M1105.8 854.0h0M1105.8 844.2h0M1105.8 840.5h0M1105.8 845.2h0M1105.8 852.9h0M1105.8 849.4h0M1105.8 842.3h0M1059.8 898.5h0M1059.8 894.0h0M1059.8 886.6h0M1059.8 893.6h0M1059.8 895.0h0M1059.8 888.3h0M1059.8 884.3h0M1059.8 890.2h0M1059.8 898.7h0M1045.8 914.0h0M1045.8 907.4h0M1045.8 915.0h0M1045.8 906.6h0M1045.8 901.7h0M1045.8 919.1h0M1045.8 907.0h0M1045.8 904.6h0M1045.8 908.8h0M1099.6 850.6h0M1099.6 850.1h0M1099.6 847.4h0M1099.6 839.4h0M1099.6 851.0h0M1099.6 856.9h0M1099.6 857.5h0M1099.6 858.6h0M1099.6 849.1h0M1093.9 856.6h0M1093.9 856.0h0M1093.9 857.3h0M1093.9 850.5h0M1093.9 852.9h0M1093.9 853.3h0M1093.9 861.6h0M1093.9 859.8h0M1093.9 864.6h0M1125.0 830.5h0M1125.0 826.9h0M1125.0 833.3h0M1125.0 830.4h0M1125.0 817.5h0M1125.0 828.2h0M1125.0 834.6h0M1125.0 833.4h0M1125.0 827.7h0M1083.3 864.7h0M1083.3 869.3h0M1083.3 864.6h0M1083.3 867.3h0M1083.3 874.3h0M1083.3 863.8h0M1083.3 871.1h0M1083.3 859.7h0M1083.3 871.7h0M1117.6 835.4h0M1117.6 837.3h0M1117.6 836.0h0M1117.6 832.4h0M1117.6 835.6h0M1117.6 828.9h0M1117.6 832.6h0M1117.6 826.9h0M1117.6 834.3h0M1046.4 899.3h0M1046.4 899.7h0M1046.4 906.3h0M1046.4 893.2h0M1046.4 898.2h0M1046.4 902.9h0M1046.4 906.5h0M1046.4 905.9h0M1046.4 906.4h0M1047.3 903.3h0M1047.3 910.2h0M1047.3 904.4h0M1047.3 907.6h0M1047.3 896.5h0M1047.3 900.9h0M1047.3 896.5h0M1047.3 893.0h0M1047.3 902.3h0M1100.2 842.0h0M1100.2 850.0h0M1100.2 848.8h0M1100.2 856.5h0M1100.2 851.4h0M1100.2 844.9h0M1100.2 849.4h0M1100.2 853.7h0M1100.2 851.8h0M1065.7 889.8h0M1065.7 889.5h0M1065.7 893.2h0M1065.7 880.8h0M1065.7 880.9h0M1065.7 886.7h0M1065.7 892.7h0M1065.7 887.4h0M1065.7 876.4h0M1051.0 907.4h0M1051.0 903.3h0M1051.0 903.2h0M1051.0 897.0h0M1051.0 907.1h0M1051.0 899.6h0M1051.0 904.9h0M1051.0 902.6h0M1051.0 906.8h0M1056.6 892.7h0M1056.6 897.7h0M1056.6 898.2h0M1056.6 890.0h0M1056.6 893.6h0M1056.6 883.8h0M1056.6 893.2h0M1056.6 894.9h0M1056.6 894.7h0M1079.5 859.1h0M1079.5 866.4h0M1079.5 873.9h0M1079.5 870.9h0M1079.5 875.0h0M1079.5 869.2h0M1079.5 874.9h0M1079.5 875.2h0M1079.5 870.3h0M1076.0 869.3h0M1076.0 871.8h0M1076.0 872.3h0M1076.0 875.7h0M1076.0 887.7h0M1076.0 876.8h0M1076.0 877.0h0M1076.0 873.4h0M1076.0 867.4h0M1097.0 851.3h0M1097.0 863.5h0M1097.0 854.9h0M1097.0 856.2h0M1097.0 851.6h0M1097.0 855.4h0M1097.0 864.4h0M1097.0 859.5h0M1097.0 856.6h0M1127.0 835.2h0M1127.0 825.8h0M1127.0 826.6h0M1127.0 820.0h0M1127.0 825.8h0M1127.0 828.3h0M1127.0 825.9h0M1127.0 825.2h0M1127.0 820.5h0M1078.6 878.1h0M1078.6 884.4h0M1078.6 860.0h0M1078.6 869.7h0M1078.6 873.3h0M1078.6 861.6h0M1078.6 879.0h0M1078.6 877.3h0M1078.6 875.6h0M1061.8 887.8h0M1061.8 892.5h0M1061.8 886.4h0M1061.8 892.0h0M1061.8 883.9h0M1061.8 888.0h0M1061.8 898.4h0M1061.8 890.4h0M1061.8 895.8h0M1098.3 854.6h0M1098.3 853.9h0M1098.3 842.9h0M1098.3 855.1h0M1098.3 861.8h0M1098.3 853.4h0M1098.3 859.6h0M1098.3 845.0h0M1098.3 850.5h0M1045.0 899.4h0M1045.0 909.1h0M1045.0 912.2h0M1045.0 905.7h0M1045.0 913.9h0M1045.0 911.9h0M1045.0 910.8h0M1045.0 907.8h0M1045.0 914.6h0M1080.4 881.9h0M1080.4 864.8h0M1080.4 874.5h0M1080.4 872.7h0M1080.4 868.9h0M1080.4 869.6h0M1080.4 875.0h0M1080.4 874.0h0M1080.4 863.9h0M1074.1 871.8h0M1074.1 874.3h0M1074.1 869.8h0M1074.1 887.3h0M1074.1 877.3h0M1074.1 879.4h0M1074.1 887.4h0M1074.1 876.3h0M1074.1 874.8h0M1080.6 870.2h0M1080.6 880.4h0M1080.6 872.5h0M1080.6 870.4h0M1080.6 872.6h0M1080.6 870.1h0M1080.6 869.0h0M1080.6 864.4h0M1080.6 870.3h0M1049.5 889.5h0M1049.5 901.4h0M1049.5 901.1h0M1049.5 898.6h0M1049.5 902.8h0M1049.5 904.1h0M1049.5 896.4h0M1049.5 913.0h0M1049.5 911.2h0M1096.1 845.7h0M1096.1 852.4h0M1096.1 853.3h0M1096.1 854.5h0M1096.1 854.6h0M1096.1 860.6h0M1096.1 857.4h0M1096.1 861.0h0M1096.1 850.3h0M1102.6 846.4h0M1102.6 848.3h0M1102.6 847.6h0M1102.6 850.1h0M1102.6 855.2h0M1102.6 841.1h0M1102.6 846.3h0M1102.6 850.3h0M1102.6 846.6h0M1114.2 831.6h0M1114.2 832.1h0M1114.2 834.6h0M1114.2 833.8h0M1114.2 839.0h0M1114.2 831.2h0M1114.2 833.2h0M1114.2 833.2h0M1114.2 844.3h0M1133.4 815.5h0M1133.4 815.4h0M1133.4 814.7h0M1133.4 831.5h0M1133.4 828.0h0M1133.4 817.3h0M1133.4 823.4h0M1133.4 816.8h0M1133.4 819.2h0M1077.6 870.1h0M1077.6 877.2h0M1077.6 879.7h0M1077.6 871.8h0M1077.6 875.8h0M1077.6 880.3h0M1077.6 884.3h0M1077.6 858.9h0M1077.6 876.3h0M1105.5 847.8h0M1105.5 856.4h0M1105.5 851.7h0M1105.5 847.4h0M1105.5 845.0h0M1105.5 842.8h0M1105.5 850.4h0M1105.5 844.3h0M1105.5 841.0h0M1085.7 869.0h0M1085.7 866.8h0M1085.7 875.4h0M1085.7 870.5h0M1085.7 873.3h0M1085.7 863.1h0M1085.7 867.4h0M1085.7 858.6h0M1085.7 865.5h0M1064.7 883.4h0M1064.7 884.9h0M1064.7 886.4h0M1064.7 892.7h0M1064.7 879.2h0M1064.7 887.9h0M1064.7 896.6h0M1064.7 890.3h0M1064.7 892.9h0M1127.1 819.3h0M1127.1 819.9h0M1127.1 817.5h0M1127.1 814.3h0M1127.1 828.4h0M1127.1 834.6h0M1127.1 829.9h0M1127.1 823.1h0M1127.1 838.7h0M1113.8 841.4h0M1113.8 834.2h0M1113.8 842.7h0M1113.8 839.0h0M1113.8 842.9h0M1113.8 829.7h0M1113.8 828.6h0M1113.8 843.5h0M1113.8 842.6h0M1132.1 819.5h0M1132.1 816.7h0M1132.1 818.0h0M1132.1 816.8h0M1132.1 815.1h0M1132.1 813.9h0M1132.1 810.5h0M1132.1 819.0h0M1132.1 822.2h0M1120.9 831.3h0M1120.9 819.7h0M1120.9 826.7h0M1120.9 827.3h0M1120.9 824.1h0M1120.9 824.6h0M1120.9 819.0h0M1120.9 834.9h0M1120.9 829.8h0M1129.7 818.2h0M1129.7 817.9h0M1129.7 823.9h0M1129.7 830.2h0M1129.7 823.4h0M1129.7 825.5h0M1129.7 822.6h0M1129.7 816.5h0M1129.7 818.5h0M1056.6 900.7h0M1056.6 898.7h0M1056.6 894.0h0M1056.6 889.2h0M1056.6 895.3h0M1056.6 893.9h0M1056.6 902.6h0M1056.6 897.5h0M1056.6 899.0h0M1046.2 904.4h0M1046.2 906.8h0M1046.2 909.9h0M1046.2 911.0h0M1046.2 904.5h0M1046.2 908.9h0M1046.2 899.9h0M1046.2 904.9h0M1046.2 907.0h0M1063.2 884.2h0M1063.2 894.8h0M1063.2 884.2h0M1063.2 892.4h0M1063.2 885.2h0M1063.2 892.3h0M1063.2 893.6h0M1063.2 898.1h0M1063.2 888.7h0M1082.9 866.7h0M1082.9 876.2h0M1082.9 860.3h0M1082.9 869.3h0M1082.9 874.9h0M1082.9 859.4h0M1082.9 871.3h0M1082.9 861.9h0M1082.9 883.4h0M1108.5 833.0h0M1108.5 842.8h0M1108.5 843.8h0M1108.5 842.2h0M1108.5 849.6h0M1108.5 839.2h0M1108.5 841.6h0M1108.5 842.2h0M1108.5 846.7h0M1085.4 872.7h0M1085.4 865.0h0M1085.4 862.7h0M1085.4 866.1h0M1085.4 867.8h0M1085.4 869.5h0M1085.4 863.3h0M1085.4 859.6h0M1085.4 867.6h0M1092.3 864.2h0M1092.3 847.6h0M1092.3 867.7h0M1092.3 858.7h0M1092.3 860.5h0M1092.3 853.4h0M1092.3 860.6h0M1092.3 868.3h0M1092.3 865.6h0M1115.2 836.6h0M1115.2 837.2h0M1115.2 840.4h0M1115.2 839.9h0M1115.2 844.9h0M1115.2 844.5h0M1115.2 840.2h0M1115.2 840.5h0M1115.2 837.8h0M1051.3 906.7h0M1051.3 893.0h0M1051.3 909.6h0M1051.3 896.5h0M1051.3 898.0h0M1051.3 892.9h0M1051.3 893.9h0M1051.3 907.3h0M1051.3 899.0h0M1107.6 840.8h0M1107.6 839.9h0M1107.6 842.0h0M1107.6 847.4h0M1107.6 838.2h0M1107.6 845.2h0M1107.6 847.0h0M1107.6 843.6h0M1107.6 846.8h0M1049.3 906.0h0M1049.3 902.1h0M1049.3 889.6h0M1049.3 901.1h0M1049.3 902.2h0M1049.3 904.9h0M1049.3 900.9h0M1049.3 908.5h0M1049.3 900.2h0M1067.8 882.8h0M1067.8 883.7h0M1067.8 881.8h0M1067.8 885.2h0M1067.8 880.9h0M1067.8 881.5h0M1067.8 881.4h0M1067.8 884.2h0M1067.8 879.8h0M1111.7 841.4h0M1111.7 834.1h0M1111.7 841.0h0M1111.7 834.1h0M1111.7 839.2h0M1111.7 840.6h0M1111.7 845.4h0M1111.7 837.3h0M1111.7 838.7h0M1108.0 843.8h0M1108.0 842.0h0M1108.0 843.4h0M1108.0 848.6h0M1108.0 849.9h0M1108.0 840.9h0M1108.0 843.2h0M1108.0 836.5h0M1108.0 834.1h0M1188.2 760.1h0M1188.2 761.0h0M1188.2 761.4h0M1188.2 763.7h0M1188.2 767.3h0M1188.2 777.2h0M1188.2 760.4h0M1188.2 761.3h0M1188.2 764.0h0M1173.2 778.4h0M1173.2 774.3h0M1173.2 774.5h0M1173.2 778.1h0M1173.2 780.3h0M1173.2 776.1h0M1173.2 775.1h0M1173.2 768.1h0M1173.2 783.6h0M1197.4 752.5h0M1197.4 759.4h0M1197.4 757.3h0M1197.4 743.4h0M1197.4 757.1h0M1197.4 755.6h0M1197.4 757.9h0M1197.4 750.7h0M1197.4 757.1h0M1185.7 774.9h0M1185.7 765.9h0M1185.7 762.5h0M1185.7 766.8h0M1185.7 765.9h0M1185.7 770.1h0M1185.7 771.3h0M1185.7 766.6h0M1185.7 772.3h0M1184.4 770.1h0M1184.4 772.9h0M1184.4 769.1h0M1184.4 764.0h0M1184.4 768.1h0M1184.4 762.3h0M1184.4 766.2h0M1184.4 768.6h0M1184.4 772.5h0M1137.4 814.4h0M1137.4 820.7h0M1137.4 811.1h0M1137.4 821.6h0M1137.4 821.8h0M1137.4 819.2h0M1137.4 823.3h0M1137.4 814.4h0M1137.4 818.8h0M1172.8 781.9h0M1172.8 776.5h0M1172.8 790.6h0M1172.8 780.8h0M1172.8 777.8h0M1172.8 774.5h0M1172.8 779.0h0M1172.8 782.9h0M1172.8 775.0h0M1187.5 760.4h0M1187.5 754.0h0M1187.5 754.3h0M1187.5 766.0h0M1187.5 758.2h0M1187.5 763.9h0M1187.5 770.1h0M1187.5 761.5h0M1187.5 758.5h0M1208.2 756.1h0M1208.2 737.8h0M1208.2 748.5h0M1208.2 736.4h0M1208.2 743.2h0M1208.2 743.7h0M1208.2 737.5h0M1208.2 746.1h0M1208.2 734.0h0M1212.6 744.8h0M1212.6 743.0h0M1212.6 745.4h0M1212.6 737.3h0M1212.6 740.4h0M1212.6 736.1h0M1212.6 734.6h0M1212.6 736.1h0M1212.6 734.7h0M1204.6 742.6h0M1204.6 748.4h0M1204.6 751.7h0M1204.6 752.9h0M1204.6 744.3h0M1204.6 750.7h0M1204.6 752.9h0M1204.6 752.2h0M1204.6 749.1h0M1155.0 796.3h0M1155.0 798.8h0M1155.0 802.6h0M1155.0 794.8h0M1155.0 808.6h0M1155.0 799.2h0M1155.0 792.4h0M1155.0 796.3h0M1155.0 791.7h0M1137.4 814.7h0M1137.4 812.4h0M1137.4 815.0h0M1137.4 817.4h0M1137.4 813.4h0M1137.4 810.5h0M1137.4 825.1h0M1137.4 819.3h0M1137.4 825.7h0M1188.2 769.3h0M1188.2 771.1h0M1188.2 767.1h0M1188.2 766.2h0M1188.2 760.0h0M1188.2 758.6h0M1188.2 768.8h0M1188.2 767.2h0M1188.2 761.7h0M1177.8 778.3h0M1177.8 777.2h0M1177.8 784.3h0M1177.8 771.6h0M1177.8 773.9h0M1177.8 779.9h0M1177.8 781.7h0M1177.8 780.4h0M1177.8 773.0h0M1195.8 759.7h0M1195.8 763.4h0M1195.8 758.9h0M1195.8 753.1h0M1195.8 751.1h0M1195.8 750.6h0M1195.8 756.6h0M1195.8 755.9h0M1195.8 755.8h0M1174.9 774.7h0M1174.9 775.0h0M1174.9 782.7h0M1174.9 781.6h0M1174.9 779.9h0M1174.9 774.5h0M1174.9 780.5h0M1174.9 781.7h0M1174.9 772.9h0M1181.5 764.1h0M1181.5 775.8h0M1181.5 772.0h0M1181.5 765.6h0M1181.5 773.3h0M1181.5 766.8h0M1181.5 778.3h0M1181.5 772.4h0M1181.5 768.1h0M1148.6 796.6h0M1148.6 799.5h0M1148.6 812.2h0M1148.6 811.8h0M1148.6 808.5h0M1148.6 800.1h0M1148.6 800.6h0M1148.6 798.8h0M1148.6 800.8h0M1185.9 769.8h0M1185.9 768.9h0M1185.9 771.4h0M1185.9 762.9h0M1185.9 773.2h0M1185.9 766.7h0M1185.9 765.8h0M1185.9 760.9h0M1185.9 770.8h0M1168.8 782.1h0M1168.8 789.0h0M1168.8 779.0h0M1168.8 785.8h0M1168.8 785.6h0M1168.8 788.7h0M1168.8 787.0h0M1168.8 787.2h0M1168.8 787.1h0M1184.0 763.2h0M1184.0 773.7h0M1184.0 767.7h0M1184.0 764.7h0M1184.0 774.5h0M1184.0 779.5h0M1184.0 766.5h0M1184.0 777.0h0M1184.0 772.7h0M1186.1 767.3h0M1186.1 765.4h0M1186.1 768.1h0M1186.1 770.2h0M1186.1 761.9h0M1186.1 765.7h0M1186.1 757.3h0M1186.1 771.2h0M1186.1 767.2h0M1175.1 778.0h0M1175.1 775.1h0M1175.1 776.6h0M1175.1 777.7h0M1175.1 768.1h0M1175.1 778.6h0M1175.1 775.6h0M1175.1 776.8h0M1175.1 780.8h0M1183.4 765.8h0M1183.4 778.6h0M1183.4 763.9h0M1183.4 777.1h0M1183.4 771.0h0M1183.4 769.0h0M1183.4 771.9h0M1183.4 772.0h0M1183.4 763.6h0M1177.0 764.0h0M1177.0 770.7h0M1177.0 775.0h0M1177.0 778.9h0M1177.0 779.5h0M1177.0 769.8h0M1177.0 771.4h0M1177.0 769.3h0M1177.0 770.9h0M1191.9 754.5h0M1191.9 764.0h0M1191.9 764.9h0M1191.9 766.0h0M1191.9 761.2h0M1191.9 762.0h0M1191.9 760.5h0M1191.9 766.9h0M1191.9 760.2h0M1186.9 762.0h0M1186.9 765.6h0M1186.9 779.2h0M1186.9 766.1h0M1186.9 767.7h0M1186.9 761.5h0M1186.9 766.7h0M1186.9 762.9h0M1186.9 767.8h0M1166.8 784.4h0M1166.8 781.2h0M1166.8 787.3h0M1166.8 784.5h0M1166.8 785.2h0M1166.8 783.0h0M1166.8 786.6h0M1166.8 783.7h0M1166.8 794.9h0M1166.0 787.9h0M1166.0 782.7h0M1166.0 783.5h0M1166.0 791.5h0M1166.0 790.7h0M1166.0 784.8h0M1166.0 785.0h0M1166.0 784.5h0M1166.0 786.5h0M1210.7 741.7h0M1210.7 737.2h0M1210.7 746.8h0M1210.7 749.0h0M1210.7 737.3h0M1210.7 746.0h0M1210.7 738.9h0M1210.7 745.5h0M1210.7 747.6h0M1175.4 770.0h0M1175.4 777.8h0M1175.4 784.4h0M1175.4 778.6h0M1175.4 778.4h0M1175.4 778.5h0M1175.4 776.7h0M1175.4 783.1h0M1175.4 778.9h0M1196.3 754.5h0M1196.3 753.7h0M1196.3 756.2h0M1196.3 760.6h0M1196.3 766.2h0M1196.3 749.6h0M1196.3 762.1h0M1196.3 758.9h0M1196.3 756.6h0M1184.8 765.9h0M1184.8 768.2h0M1184.8 772.1h0M1184.8 768.3h0M1184.8 758.0h0M1184.8 755.9h0M1184.8 769.1h0M1184.8 764.9h0M1184.8 776.6h0M1166.5 785.3h0M1166.5 782.9h0M1166.5 787.8h0M1166.5 777.5h0M1166.5 782.1h0M1166.5 783.4h0M1166.5 799.0h0M1166.5 789.3h0M1166.5 782.9h0M1163.0 792.2h0M1163.0 798.4h0M1163.0 792.7h0M1163.0 782.5h0M1163.0 786.6h0M1163.0 785.6h0M1163.0 788.9h0M1163.0 782.0h0M1163.0 803.4h0M1179.6 779.0h0M1179.6 763.9h0M1179.6 768.1h0M1179.6 772.0h0M1179.6 774.9h0M1179.6 782.0h0M1179.6 775.3h0M1179.6 773.9h0M1179.6 777.7h0M1182.2 763.9h0M1182.2 765.6h0M1182.2 772.0h0M1182.2 766.2h0M1182.2 770.8h0M1182.2 769.3h0M1182.2 772.9h0M1182.2 758.6h0M1182.2 777.9h0M1189.1 764.5h0M1189.1 758.7h0M1189.1 758.8h0M1189.1 771.6h0M1189.1 768.4h0M1189.1 764.2h0M1189.1 767.6h0M1189.1 767.0h0M1189.1 765.0h0M1153.0 800.4h0M1153.0 794.3h0M1153.0 808.0h0M1153.0 794.6h0M1153.0 800.8h0M1153.0 796.8h0M1153.0 801.4h0M1153.0 788.3h0M1153.0 808.4h0M1165.9 781.1h0M1165.9 789.0h0M1165.9 787.9h0M1165.9 779.9h0M1165.9 787.8h0M1165.9 782.4h0M1165.9 779.8h0M1165.9 789.7h0M1165.9 777.0h0M1175.5 771.1h0M1175.5 778.3h0M1175.5 776.2h0M1175.5 780.7h0M1175.5 775.8h0M1175.5 773.0h0M1175.5 772.3h0M1175.5 776.1h0M1175.5 779.7h0M1208.0 748.0h0M1208.0 749.5h0M1208.0 746.2h0M1208.0 741.9h0M1208.0 747.7h0M1208.0 748.1h0M1208.0 750.0h0M1208.0 742.1h0M1208.0 746.1h0M1137.4 823.1h0M1137.4 809.8h0M1137.4 810.1h0M1137.4 815.1h0M1137.4 816.9h0M1137.4 815.4h0M1137.4 819.7h0M1137.4 810.3h0M1137.4 808.5h0M1185.7 762.0h0M1185.7 765.9h0M1185.7 765.9h0M1185.7 764.4h0M1185.7 758.7h0M1185.7 770.9h0M1185.7 767.1h0M1185.7 770.4h0M1185.7 772.9h0M1167.0 784.1h0M1167.0 780.2h0M1167.0 790.9h0M1167.0 781.0h0M1167.0 782.5h0M1167.0 783.5h0M1167.0 779.1h0M1167.0 788.9h0M1167.0 777.9h0M1185.6 768.9h0M1185.6 764.6h0M1185.6 774.7h0M1185.6 762.5h0M1185.6 767.0h0M1185.6 769.9h0M1185.6 772.2h0M1185.6 766.2h0M1185.6 760.8h0M1167.9 782.3h0M1167.9 786.5h0M1167.9 788.6h0M1167.9 789.9h0M1167.9 786.4h0M1167.9 792.6h0M1167.9 786.7h0M1167.9 779.5h0M1167.9 785.2h0M1184.3 769.3h0M1184.3 771.4h0M1184.3 765.1h0M1184.3 765.4h0M1184.3 761.6h0M1184.3 771.9h0M1184.3 773.9h0M1184.3 771.5h0M1184.3 774.5h0M1207.3 745.9h0M1207.3 747.7h0M1207.3 749.8h0M1207.3 745.9h0M1207.3 740.8h0M1207.3 742.2h0M1207.3 748.7h0M1207.3 745.5h0M1207.3 744.1h0M1184.1 765.6h0M1184.1 770.4h0M1184.1 775.0h0M1184.1 767.1h0M1184.1 773.5h0M1184.1 770.6h0M1184.1 770.1h0M1184.1 764.3h0M1184.1 771.1h0M1185.6 766.5h0M1185.6 768.3h0M1185.6 769.9h0M1185.6 763.0h0M1185.6 769.5h0M1185.6 765.0h0M1185.6 765.9h0M1185.6 776.2h0M1185.6 775.3h0M1184.5 783.7h0M1184.5 767.0h0M1184.5 767.2h0M1184.5 771.0h0M1184.5 771.0h0M1184.5 770.0h0M1184.5 771.5h0M1184.5 768.6h0M1184.5 768.6h0M1162.9 794.2h0M1162.9 783.0h0M1162.9 785.0h0M1162.9 791.8h0M1162.9 779.4h0M1162.9 778.0h0M1162.9 783.9h0M1162.9 784.1h0M1162.9 792.7h0M1187.7 766.7h0M1187.7 772.8h0M1187.7 767.2h0M1187.7 760.4h0M1187.7 767.1h0M1187.7 773.2h0M1187.7 757.4h0M1187.7 755.6h0M1187.7 757.8h0M1173.3 786.9h0M1173.3 775.5h0M1173.3 783.5h0M1173.3 780.1h0M1173.3 776.1h0M1173.3 772.1h0M1173.3 782.5h0M1173.3 781.2h0M1173.3 785.6h0M1161.8 791.0h0M1161.8 795.7h0M1161.8 793.4h0M1161.8 787.3h0M1161.8 791.0h0M1161.8 790.4h0M1161.8 789.6h0M1161.8 787.1h0M1161.8 784.3h0M1176.6 781.9h0M1176.6 784.0h0M1176.6 773.7h0M1176.6 772.8h0M1176.6 769.5h0M1176.6 772.4h0M1176.6 767.8h0M1176.6 773.7h0M1176.6 779.3h0M1173.0 774.9h0M1173.0 784.1h0M1173.0 783.1h0M1173.0 777.8h0M1173.0 781.1h0M1173.0 775.3h0M1173.0 781.6h0M1173.0 770.9h0M1173.0 784.8h0M1191.7 757.7h0M1191.7 763.3h0M1191.7 754.2h0M1191.7 763.9h0M1191.7 757.3h0M1191.7 776.4h0M1191.7 764.6h0M1191.7 753.0h0M1191.7 760.1h0M1176.5 775.8h0M1176.5 771.9h0M1176.5 764.5h0M1176.5 781.6h0M1176.5 776.6h0M1176.5 778.5h0M1176.5 772.8h0M1176.5 779.7h0M1176.5 783.8h0M1167.2 792.9h0M1167.2 782.3h0M1167.2 784.5h0M1167.2 781.3h0M1167.2 793.3h0M1167.2 789.9h0M1167.2 788.2h0M1167.2 781.4h0M1167.2 783.3h0M1205.2 748.4h0M1205.2 752.5h0M1205.2 746.7h0M1205.2 749.9h0M1205.2 743.3h0M1205.2 739.1h0M1205.2 747.0h0M1205.2 753.0h0M1205.2 736.0h0M1196.3 753.4h0M1196.3 753.9h0M1196.3 755.9h0M1196.3 755.6h0M1196.3 756.0h0M1196.3 755.2h0M1196.3 763.8h0M1196.3 759.9h0M1196.3 756.9h0M1201.6 750.4h0M1201.6 750.1h0M1201.6 749.0h0M1201.6 759.9h0M1201.6 755.8h0M1201.6 754.3h0M1201.6 750.4h0M1201.6 752.0h0M1201.6 741.5h0M1189.0 765.6h0M1189.0 764.9h0M1189.0 771.3h0M1189.0 754.9h0M1189.0 763.3h0M1189.0 764.3h0M1189.0 766.9h0M1189.0 763.3h0M1189.0 765.4h0M1175.2 771.5h0M1175.2 781.4h0M1175.2 779.5h0M1175.2 780.0h0M1175.2 774.6h0M1175.2 775.8h0M1175.2 772.6h0M1175.2 774.8h0M1175.2 774.6h0M1169.3 783.1h0M1169.3 778.9h0M1169.3 781.0h0M1169.3 781.7h0M1169.3 791.1h0M1169.3 785.6h0M1169.3 786.7h0M1169.3 792.2h0M1169.3 777.0h0M1172.0 773.6h0M1172.0 775.4h0M1172.0 777.9h0M1172.0 773.4h0M1172.0 788.8h0M1172.0 774.5h0M1172.0 790.5h0M1172.0 779.9h0M1172.0 780.1h0M1195.5 754.7h0M1195.5 754.1h0M1195.5 753.8h0M1195.5 760.7h0M1195.5 760.5h0M1195.5 761.3h0M1195.5 756.6h0M1195.5 758.9h0M1195.5 765.0h0M1179.5 768.6h0M1179.5 778.8h0M1179.5 775.6h0M1179.5 776.8h0M1179.5 776.9h0M1179.5 770.4h0M1179.5 776.6h0M1179.5 780.2h0M1179.5 776.5h0M1148.9 808.7h0M1148.9 811.2h0M1148.9 799.3h0M1148.9 798.1h0M1148.9 810.7h0M1148.9 796.1h0M1148.9 794.8h0M1148.9 810.5h0M1148.9 801.7h0M1176.6 777.5h0M1176.6 772.1h0M1176.6 790.4h0M1176.6 773.1h0M1176.6 777.9h0M1176.6 773.8h0M1176.6 771.9h0M1176.6 787.6h0M1176.6 776.4h0M1150.2 802.5h0M1150.2 799.5h0M1150.2 796.9h0M1150.2 798.8h0M1150.2 806.2h0M1150.2 799.0h0M1150.2 806.1h0M1150.2 798.7h0M1150.2 803.3h0M1180.5 773.1h0M1180.5 771.6h0M1180.5 780.0h0M1180.5 773.8h0M1180.5 778.0h0M1180.5 767.7h0M1180.5 766.1h0M1180.5 779.2h0M1180.5 783.1h0M1154.2 797.2h0M1154.2 801.2h0M1154.2 802.9h0M1154.2 787.3h0M1154.2 800.4h0M1154.2 803.4h0M1154.2 799.7h0M1154.2 797.0h0M1154.2 790.8h0M1153.1 798.0h0M1153.1 805.6h0M1153.1 801.9h0M1153.1 790.6h0M1153.1 808.0h0M1153.1 799.8h0M1153.1 793.8h0M1153.1 798.2h0M1153.1 800.6h0M1179.6 777.4h0M1179.6 772.3h0M1179.6 770.6h0M1179.6 772.0h0M1179.6 768.1h0M1179.6 772.1h0M1179.6 766.8h0M1179.6 772.4h0M1179.6 768.7h0M1175.8 778.4h0M1175.8 768.4h0M1175.8 770.8h0M1175.8 773.5h0M1175.8 781.6h0M1175.8 775.9h0M1175.8 791.1h0M1175.8 778.6h0M1175.8 776.0h0M1145.5 811.3h0M1145.5 806.3h0M1145.5 803.8h0M1145.5 798.3h0M1145.5 807.0h0M1145.5 814.7h0M1145.5 818.5h0M1145.5 807.9h0M1145.5 802.7h0M1191.6 755.6h0M1191.6 760.5h0M1191.6 764.2h0M1191.6 764.4h0M1191.6 761.7h0M1191.6 760.6h0M1191.6 758.1h0M1191.6 760.4h0M1191.6 751.3h0M1218.8 733.2h0M1218.8 731.6h0M1218.8 728.9h0M1218.8 729.4h0M1218.8 737.1h0M1218.8 741.8h0M1218.8 740.3h0M1218.8 732.2h0M1218.8 731.1h0M1148.9 801.9h0M1148.9 799.7h0M1148.9 797.3h0M1148.9 807.3h0M1148.9 791.1h0M1148.9 790.6h0M1148.9 799.8h0M1148.9 804.4h0M1148.9 802.3h0M1212.2 747.3h0M1212.2 740.3h0M1212.2 744.4h0M1212.2 740.9h0M1212.2 742.0h0M1212.2 730.4h0M1212.2 744.6h0M1212.2 739.0h0M1212.2 742.4h0M1164.1 780.7h0M1164.1 783.2h0M1164.1 795.8h0M1164.1 793.1h0M1164.1 787.0h0M1164.1 791.4h0M1164.1 786.2h0M1164.1 788.0h0M1164.1 793.6h0M1167.8 786.1h0M1167.8 782.3h0M1167.8 785.0h0M1167.8 784.0h0M1167.8 782.8h0M1167.8 785.2h0M1167.8 778.1h0M1167.8 790.8h0M1167.8 782.4h0M1173.9 781.1h0M1173.9 776.7h0M1173.9 774.5h0M1173.9 775.5h0M1173.9 775.3h0M1173.9 774.9h0M1173.9 776.0h0M1173.9 779.7h0M1173.9 775.1h0M1149.6 798.1h0M1149.6 798.6h0M1149.6 801.4h0M1149.6 801.4h0M1149.6 812.5h0M1149.6 806.8h0M1149.6 803.8h0M1149.6 798.0h0M1149.6 797.0h0M1202.2 749.7h0M1202.2 755.9h0M1202.2 748.1h0M1202.2 745.6h0M1202.2 746.7h0M1202.2 753.8h0M1202.2 755.7h0M1202.2 754.8h0M1202.2 755.7h0M1186.8 761.0h0M1186.8 764.3h0M1186.8 755.3h0M1186.8 757.8h0M1186.8 760.9h0M1186.8 769.2h0M1186.8 762.6h0M1186.8 763.6h0M1186.8 772.7h0M1162.9 795.8h0M1162.9 793.2h0M1162.9 783.5h0M1162.9 791.5h0M1162.9 796.3h0M1162.9 789.2h0M1162.9 786.7h0M1162.9 795.5h0M1162.9 780.3h0M1172.0 784.2h0M1172.0 775.4h0M1172.0 777.3h0M1172.0 784.1h0M1172.0 781.2h0M1172.0 780.5h0M1172.0 782.3h0M1172.0 776.9h0M1172.0 780.3h0M1148.2 812.7h0M1148.2 803.8h0M1148.2 809.9h0M1148.2 805.4h0M1148.2 803.1h0M1148.2 804.8h0M1148.2 799.3h0M1148.2 804.7h0M1148.2 806.8h0M1170.6 773.9h0M1170.6 778.4h0M1170.6 782.6h0M1170.6 781.9h0M1170.6 783.9h0M1170.6 781.6h0M1170.6 786.7h0M1170.6 773.4h0M1170.6 776.0h0M1195.3 768.4h0M1195.3 762.1h0M1195.3 757.7h0M1195.3 760.6h0M1195.3 767.8h0M1195.3 754.1h0M1195.3 763.3h0M1195.3 754.1h0M1195.3 755.2h0M1144.4 800.7h0M1144.4 812.5h0M1144.4 799.2h0M1144.4 814.1h0M1144.4 800.8h0M1144.4 802.9h0M1144.4 806.0h0M1144.4 813.4h0M1144.4 800.2h0M1168.9 779.7h0M1168.9 791.8h0M1168.9 796.3h0M1168.9 786.9h0M1168.9 787.9h0M1168.9 780.2h0M1168.9 783.0h0M1168.9 782.1h0M1168.9 786.2h0M1180.1 767.9h0M1180.1 775.3h0M1180.1 779.9h0M1180.1 784.3h0M1180.1 770.0h0M1180.1 775.5h0M1180.1 780.9h0M1180.1 776.8h0M1180.1 774.4h0M1197.4 751.9h0M1197.4 765.7h0M1197.4 757.3h0M1197.4 751.7h0M1197.4 753.0h0M1197.4 751.3h0M1197.4 745.6h0M1197.4 759.4h0M1197.4 758.2h0M1203.2 744.2h0M1203.2 741.6h0M1203.2 747.8h0M1203.2 751.0h0M1203.2 755.1h0M1203.2 746.4h0M1203.2 747.7h0M1203.2 754.6h0M1203.2 751.9h0M1168.5 788.7h0M1168.5 781.0h0M1168.5 784.6h0M1168.5 777.8h0M1168.5 777.3h0M1168.5 782.2h0M1168.5 778.0h0M1168.5 778.7h0M1168.5 776.5h0M1163.1 791.5h0M1163.1 786.1h0M1163.1 780.1h0M1163.1 785.9h0M1163.1 791.2h0M1163.1 787.9h0M1163.1 777.9h0M1163.1 791.0h0M1163.1 792.2h0M1185.9 761.9h0M1185.9 768.2h0M1185.9 774.0h0M1185.9 774.1h0M1185.9 766.3h0M1185.9 769.4h0M1185.9 759.1h0M1185.9 769.3h0M1185.9 773.1h0M1170.3 785.6h0M1170.3 787.9h0M1170.3 776.1h0M1170.3 785.7h0M1170.3 774.5h0M1170.3 779.1h0M1170.3 771.9h0M1170.3 782.3h0M1170.3 777.7h0M1171.4 791.1h0M1171.4 783.1h0M1171.4 784.5h0M1171.4 775.2h0M1171.4 781.4h0M1171.4 777.5h0M1171.4 784.3h0M1171.4 787.1h0M1171.4 781.2h0M1198.0 747.8h0M1198.0 754.5h0M1198.0 746.5h0M1198.0 755.8h0M1198.0 756.0h0M1198.0 756.0h0M1198.0 755.5h0M1198.0 757.6h0M1198.0 755.4h0M1209.7 746.6h0M1209.7 747.7h0M1209.7 735.1h0M1209.7 738.3h0M1209.7 744.1h0M1209.7 745.6h0M1209.7 750.3h0M1209.7 739.7h0M1209.7 745.9h0M1182.4 760.3h0M1182.4 778.3h0M1182.4 768.1h0M1182.4 763.8h0M1182.4 772.4h0M1182.4 759.8h0M1182.4 764.8h0M1182.4 764.9h0M1182.4 774.0h0M1173.6 773.4h0M1173.6 773.5h0M1173.6 777.8h0M1173.6 769.6h0M1173.6 776.8h0M1173.6 789.6h0M1173.6 776.8h0M1173.6 769.8h0M1173.6 781.4h0M1188.3 760.2h0M1188.3 767.0h0M1188.3 763.9h0M1188.3 777.2h0M1188.3 772.8h0M1188.3 765.3h0M1188.3 766.7h0M1188.3 773.1h0M1188.3 760.4h0M1141.1 809.1h0M1141.1 815.2h0M1141.1 821.1h0M1141.1 808.1h0M1141.1 813.3h0M1141.1 807.3h0M1141.1 805.4h0M1141.1 812.7h0M1141.1 812.1h0M1177.0 771.6h0M1177.0 776.6h0M1177.0 785.1h0M1177.0 772.4h0M1177.0 773.9h0M1177.0 778.3h0M1177.0 772.9h0M1177.0 777.4h0M1177.0 777.5h0M1157.0 791.5h0M1157.0 802.3h0M1157.0 803.5h0M1157.0 796.3h0M1157.0 802.0h0M1157.0 791.3h0M1157.0 799.2h0M1157.0 804.1h0M1157.0 797.5h0M1223.1 740.7h0M1223.1 722.9h0M1223.1 729.8h0M1223.1 726.3h0M1223.1 727.1h0M1223.1 728.7h0M1223.1 734.8h0M1223.1 725.8h0M1223.1 731.3h0M1191.1 765.3h0M1191.1 771.6h0M1191.1 755.2h0M1191.1 762.7h0M1191.1 763.6h0M1191.1 770.9h0M1191.1 756.9h0M1191.1 762.1h0M1191.1 756.6h0M1180.0 772.8h0M1180.0 776.8h0M1180.0 769.8h0M1180.0 780.3h0M1180.0 780.2h0M1180.0 772.9h0M1180.0 768.9h0M1180.0 767.1h0M1180.0 773.1h0M1173.6 779.6h0M1173.6 778.0h0M1173.6 780.0h0M1173.6 781.5h0M1173.6 776.6h0M1173.6 781.5h0M1173.6 780.1h0M1173.6 773.1h0M1173.6 777.9h0M1137.4 817.6h0M1137.4 811.7h0M1137.4 815.8h0M1137.4 811.8h0M1137.4 819.3h0M1137.4 818.9h0M1137.4 822.1h0M1137.4 809.6h0M1137.4 808.2h0M1191.0 755.9h0M1191.0 760.0h0M1191.0 760.7h0M1191.0 762.9h0M1191.0 758.8h0M1191.0 762.6h0M1191.0 766.7h0M1191.0 756.8h0M1191.0 757.3h0M1208.5 741.6h0M1208.5 744.5h0M1208.5 746.1h0M1208.5 743.8h0M1208.5 743.2h0M1208.5 749.9h0M1208.5 746.4h0M1208.5 749.4h0M1208.5 738.8h0M1163.3 795.9h0M1163.3 795.2h0M1163.3 793.6h0M1163.3 788.5h0M1163.3 793.8h0M1163.3 780.8h0M1163.3 785.7h0M1163.3 801.0h0M1163.3 788.2h0M1190.4 760.6h0M1190.4 768.5h0M1190.4 762.8h0M1190.4 761.9h0M1190.4 765.5h0M1190.4 762.9h0M1190.4 760.7h0M1190.4 764.9h0M1190.4 762.7h0M1191.2 767.5h0M1191.2 758.6h0M1191.2 764.7h0M1191.2 755.7h0M1191.2 751.6h0M1191.2 753.5h0M1191.2 763.9h0M1191.2 759.5h0M1191.2 762.9h0M1147.6 802.8h0M1147.6 809.0h0M1147.6 809.9h0M1147.6 805.3h0M1147.6 808.9h0M1147.6 799.1h0M1147.6 801.5h0M1147.6 803.4h0M1147.6 805.7h0M1195.2 758.4h0M1195.2 752.9h0M1195.2 757.2h0M1195.2 757.5h0M1195.2 748.5h0M1195.2 756.9h0M1195.2 758.8h0M1195.2 758.7h0M1195.2 751.4h0M1203.3 752.0h0M1203.3 751.9h0M1203.3 744.2h0M1203.3 743.9h0M1203.3 742.7h0M1203.3 753.7h0M1203.3 747.4h0M1203.3 752.3h0M1203.3 747.5h0M1181.7 778.7h0M1181.7 772.0h0M1181.7 765.8h0M1181.7 770.0h0M1181.7 782.8h0M1181.7 766.2h0M1181.7 769.3h0M1181.7 772.4h0M1181.7 771.0h0M1176.1 778.2h0M1176.1 771.0h0M1176.1 776.8h0M1176.1 784.4h0M1176.1 780.7h0M1176.1 768.7h0M1176.1 771.1h0M1176.1 772.7h0M1176.1 780.4h0M1192.4 757.7h0M1192.4 755.3h0M1192.4 759.8h0M1192.4 756.7h0M1192.4 754.8h0M1192.4 755.2h0M1192.4 758.1h0M1192.4 758.0h0M1192.4 766.3h0M1147.8 806.2h0M1147.8 800.7h0M1147.8 796.4h0M1147.8 803.9h0M1147.8 799.5h0M1147.8 804.7h0M1147.8 809.4h0M1147.8 802.6h0M1147.8 802.5h0M1179.1 777.9h0M1179.1 777.7h0M1179.1 773.3h0M1179.1 776.0h0M1179.1 771.1h0M1179.1 780.1h0M1179.1 769.5h0M1179.1 776.5h0M1179.1 771.8h0M1197.5 762.7h0M1197.5 750.6h0M1197.5 754.2h0M1197.5 744.9h0M1197.5 763.2h0M1197.5 764.0h0M1197.5 751.7h0M1197.5 750.8h0M1197.5 763.8h0M1153.5 796.4h0M1153.5 794.5h0M1153.5 792.2h0M1153.5 798.4h0M1153.5 806.5h0M1153.5 808.4h0M1153.5 788.8h0M1153.5 797.0h0M1153.5 794.2h0M1196.3 757.9h0M1196.3 757.4h0M1196.3 757.3h0M1196.3 760.9h0M1196.3 757.7h0M1196.3 761.7h0M1196.3 758.3h0M1196.3 750.9h0M1196.3 756.2h0M1169.3 786.6h0M1169.3 774.8h0M1169.3 776.9h0M1169.3 783.0h0M1169.3 791.7h0M1169.3 776.9h0M1169.3 776.9h0M1169.3 786.1h0M1169.3 776.3h0M1137.4 819.0h0M1137.4 816.3h0M1137.4 817.2h0M1137.4 814.1h0M1137.4 815.7h0M1137.4 808.0h0M1137.4 816.7h0M1137.4 812.8h0M1137.4 814.8h0M1175.3 776.1h0M1175.3 781.3h0M1175.3 777.4h0M1175.3 770.5h0M1175.3 773.3h0M1175.3 783.0h0M1175.3 779.2h0M1175.3 782.2h0M1175.3 780.8h0M1158.7 797.0h0M1158.7 799.8h0M1158.7 791.6h0M1158.7 789.4h0M1158.7 793.1h0M1158.7 796.1h0M1158.7 793.0h0M1158.7 797.5h0M1158.7 788.7h0M1183.4 757.8h0M1183.4 782.2h0M1183.4 767.3h0M1183.4 768.9h0M1183.4 768.2h0M1183.4 770.5h0M1183.4 776.5h0M1183.4 769.5h0M1183.4 771.1h0M1154.8 798.4h0M1154.8 797.9h0M1154.8 800.1h0M1154.8 786.5h0M1154.8 803.7h0M1154.8 799.6h0M1154.8 803.9h0M1154.8 798.4h0M1154.8 790.1h0M1197.4 755.4h0M1197.4 759.3h0M1197.4 761.7h0M1197.4 752.6h0M1197.4 758.7h0M1197.4 752.2h0M1197.4 758.6h0M1197.4 757.8h0M1197.4 755.5h0M1163.2 797.4h0M1163.2 783.6h0M1163.2 795.0h0M1163.2 788.7h0M1163.2 787.2h0M1163.2 778.0h0M1163.2 787.1h0M1163.2 785.3h0M1163.2 791.9h0M1184.1 769.2h0M1184.1 768.5h0M1184.1 763.3h0M1184.1 773.3h0M1184.1 766.5h0M1184.1 754.6h0M1184.1 773.2h0M1184.1 777.4h0M1184.1 771.0h0M1165.9 787.3h0M1165.9 778.5h0M1165.9 784.3h0M1165.9 781.1h0M1165.9 790.1h0M1165.9 786.8h0M1165.9 785.2h0M1165.9 790.7h0M1165.9 785.2h0M1171.1 782.8h0M1171.1 780.3h0M1171.1 788.2h0M1171.1 791.3h0M1171.1 774.8h0M1171.1 781.2h0M1171.1 781.8h0M1171.1 768.8h0M1171.1 776.4h0M1200.1 750.2h0M1200.1 755.6h0M1200.1 750.6h0M1200.1 751.2h0M1200.1 753.6h0M1200.1 745.4h0M1200.1 748.7h0M1200.1 749.6h0M1200.1 756.3h0M1181.4 774.3h0M1181.4 765.6h0M1181.4 769.8h0M1181.4 773.6h0M1181.4 769.4h0M1181.4 770.8h0M1181.4 773.0h0M1181.4 771.8h0M1181.4 767.2h0M1169.7 780.9h0M1169.7 786.7h0M1169.7 786.1h0M1169.7 781.1h0M1169.7 787.6h0M1169.7 781.9h0M1169.7 783.2h0M1169.7 788.9h0M1169.7 794.2h0M1153.3 803.0h0M1153.3 799.0h0M1153.3 799.0h0M1153.3 792.9h0M1153.3 799.0h0M1153.3 799.4h0M1153.3 797.2h0M1153.3 801.1h0M1153.3 790.7h0M1199.5 755.8h0M1199.5 757.2h0M1199.5 755.4h0M1199.5 747.2h0M1199.5 755.8h0M1199.5 756.7h0M1199.5 750.2h0M1199.5 747.3h0M1199.5 755.1h0M1239.5 709.8h0M1239.5 716.4h0M1239.5 706.4h0M1239.5 718.4h0M1239.5 714.5h0M1239.5 715.3h0M1239.5 717.7h0M1239.5 713.6h0M1239.5 710.0h0M1230.3 726.5h0M1230.3 713.2h0M1230.3 721.3h0M1230.3 720.8h0M1230.3 726.2h0M1230.3 722.8h0M1230.3 718.2h0M1230.3 727.3h0M1230.3 725.8h0M1242.2 714.7h0M1242.2 717.0h0M1242.2 707.6h0M1242.2 714.6h0M1242.2 702.7h0M1242.2 716.8h0M1242.2 712.4h0M1242.2 710.5h0M1242.2 715.5h0M1244.2 719.0h0M1244.2 711.8h0M1244.2 708.8h0M1244.2 713.3h0M1244.2 707.4h0M1244.2 717.7h0M1244.2 707.3h0M1244.2 698.6h0M1244.2 704.0h0M1247.3 700.7h0M1247.3 707.3h0M1247.3 707.6h0M1247.3 700.1h0M1247.3 707.2h0M1247.3 702.4h0M1247.3 710.3h0M1247.3 703.7h0M1247.3 704.7h0M1246.6 717.0h0M1246.6 706.8h0M1246.6 703.5h0M1246.6 703.6h0M1246.6 704.5h0M1246.6 700.0h0M1246.6 706.6h0M1246.6 710.0h0M1246.6 701.8h0M1226.5 716.0h0M1226.5 727.9h0M1226.5 718.9h0M1226.5 727.1h0M1226.5 733.5h0M1226.5 730.6h0M1226.5 730.5h0M1226.5 720.6h0M1226.5 725.8h0M1245.6 709.9h0M1245.6 706.6h0M1245.6 700.5h0M1245.6 707.6h0M1245.6 710.8h0M1245.6 705.5h0M1245.6 711.3h0M1245.6 704.8h0M1245.6 702.5h0M1254.7 697.4h0M1254.7 700.4h0M1254.7 697.7h0M1254.7 705.1h0M1254.7 690.7h0M1254.7 686.8h0M1254.7 698.2h0M1254.7 708.3h0M1254.7 701.6h0M1246.6 713.3h0M1246.6 715.4h0M1246.6 707.0h0M1246.6 707.1h0M1246.6 709.3h0M1246.6 700.9h0M1246.6 706.1h0M1246.6 711.0h0M1246.6 704.3h0M1256.4 702.7h0M1256.4 698.3h0M1256.4 700.6h0M1256.4 695.1h0M1256.4 697.9h0M1256.4 699.4h0M1256.4 695.3h0M1256.4 694.3h0M1256.4 695.4h0M1241.6 705.9h0M1241.6 716.4h0M1241.6 709.4h0M1241.6 703.2h0M1241.6 711.3h0M1241.6 722.1h0M1241.6 706.6h0M1241.6 712.3h0M1241.6 708.2h0M1251.1 700.5h0M1251.1 698.8h0M1251.1 695.9h0M1251.1 701.2h0M1251.1 698.0h0M1251.1 708.1h0M1251.1 706.2h0M1251.1 702.4h0M1251.1 694.1h0M1229.7 727.2h0M1229.7 724.8h0M1229.7 719.9h0M1229.7 725.7h0M1229.7 729.5h0M1229.7 732.7h0M1229.7 719.3h0M1229.7 728.6h0M1229.7 721.5h0M1253.8 696.6h0M1253.8 704.0h0M1253.8 697.0h0M1253.8 709.5h0M1253.8 699.7h0M1253.8 704.2h0M1253.8 698.0h0M1253.8 698.2h0M1253.8 698.2h0M1239.2 710.7h0M1239.2 716.9h0M1239.2 720.8h0M1239.2 719.8h0M1239.2 708.9h0M1239.2 718.8h0M1239.2 715.4h0M1239.2 712.0h0M1239.2 714.5h0M1253.2 704.5h0M1253.2 710.0h0M1253.2 695.2h0M1253.2 702.5h0M1253.2 707.6h0M1253.2 702.9h0M1253.2 699.5h0M1253.2 709.3h0M1253.2 699.1h0M1235.5 717.4h0M1235.5 715.3h0M1235.5 717.4h0M1235.5 722.3h0M1235.5 725.4h0M1235.5 718.4h0M1235.5 720.0h0M1235.5 710.0h0M1235.5 718.9h0M1245.2 705.8h0M1245.2 707.5h0M1245.2 716.3h0M1245.2 704.2h0M1245.2 710.1h0M1245.2 714.8h0M1245.2 705.8h0M1245.2 701.8h0M1245.2 708.4h0M1252.3 702.1h0M1252.3 703.9h0M1252.3 702.8h0M1252.3 695.4h0M1252.3 700.4h0M1252.3 698.7h0M1252.3 698.0h0M1252.3 715.0h0M1252.3 700.0h0M1247.9 702.3h0M1247.9 704.0h0M1247.9 712.3h0M1247.9 708.9h0M1247.9 701.8h0M1247.9 703.1h0M1247.9 702.9h0M1247.9 710.6h0M1247.9 703.8h0M1245.0 701.0h0M1245.0 707.8h0M1245.0 701.5h0M1245.0 703.8h0M1245.0 704.0h0M1245.0 711.3h0M1245.0 711.1h0M1245.0 711.3h0M1245.0 702.5h0M1256.2 690.8h0M1256.2 701.9h0M1256.2 703.1h0M1256.2 696.2h0M1256.2 690.5h0M1256.2 695.5h0M1256.2 693.8h0M1256.2 694.5h0M1256.2 694.1h0M1228.0 725.6h0M1228.0 722.6h0M1228.0 721.6h0M1228.0 725.5h0M1228.0 716.9h0M1228.0 730.1h0M1228.0 726.8h0M1228.0 729.0h0M1228.0 719.8h0M1228.5 719.3h0M1228.5 728.1h0M1228.5 724.1h0M1228.5 726.7h0M1228.5 731.1h0M1228.5 728.4h0M1228.5 722.9h0M1228.5 721.8h0M1228.5 728.0h0M1242.8 710.2h0M1242.8 706.2h0M1242.8 703.6h0M1242.8 708.5h0M1242.8 714.1h0M1242.8 717.8h0M1242.8 709.9h0M1242.8 711.7h0M1242.8 713.0h0M1255.7 700.7h0M1255.7 700.0h0M1255.7 696.6h0M1255.7 694.1h0M1255.7 701.3h0M1255.7 688.4h0M1255.7 690.5h0M1255.7 698.5h0M1255.7 695.9h0M1247.1 698.6h0M1247.1 710.2h0M1247.1 708.8h0M1247.1 708.8h0M1247.1 710.7h0M1247.1 702.4h0M1247.1 706.9h0M1247.1 705.4h0M1247.1 705.5h0M1235.1 718.8h0M1235.1 710.6h0M1235.1 718.6h0M1235.1 721.9h0M1235.1 724.4h0M1235.1 721.1h0M1235.1 716.9h0M1235.1 717.0h0M1235.1 716.5h0M1228.7 726.3h0M1228.7 722.2h0M1228.7 722.1h0M1228.7 730.0h0M1228.7 722.3h0M1228.7 722.2h0M1228.7 725.5h0M1228.7 719.0h0M1228.7 724.0h0M1239.5 717.0h0M1239.5 708.9h0M1239.5 704.9h0M1239.5 718.9h0M1239.5 713.7h0M1239.5 709.2h0M1239.5 710.5h0M1239.5 708.5h0M1239.5 707.1h0M1240.6 720.9h0M1240.6 709.0h0M1240.6 720.1h0M1240.6 716.9h0M1240.6 717.6h0M1240.6 710.1h0M1240.6 720.3h0M1240.6 711.9h0M1240.6 719.6h0M1240.2 703.2h0M1240.2 715.3h0M1240.2 712.8h0M1240.2 718.4h0M1240.2 715.5h0M1240.2 706.5h0M1240.2 711.6h0M1240.2 718.3h0M1240.2 715.2h0M1245.0 708.7h0M1245.0 699.5h0M1245.0 708.5h0M1245.0 705.9h0M1245.0 702.9h0M1245.0 696.5h0M1245.0 704.8h0M1245.0 713.1h0M1245.0 712.7h0M1233.9 710.8h0M1233.9 717.0h0M1233.9 728.2h0M1233.9 721.4h0M1233.9 721.2h0M1233.9 720.6h0M1233.9 715.9h0M1233.9 715.8h0M1233.9 712.5h0M1253.3 708.7h0M1253.3 698.2h0M1253.3 700.6h0M1253.3 704.8h0M1253.3 695.6h0M1253.3 706.0h0M1253.3 706.3h0M1253.3 691.8h0M1253.3 697.7h0M1234.4 714.5h0M1234.4 712.1h0M1234.4 724.6h0M1234.4 711.9h0M1234.4 718.0h0M1234.4 715.9h0M1234.4 714.6h0M1234.4 715.4h0M1234.4 720.3h0M1228.6 724.3h0M1228.6 723.4h0M1228.6 719.1h0M1228.6 734.9h0M1228.6 717.4h0M1228.6 728.7h0M1228.6 713.7h0M1228.6 721.9h0M1228.6 715.7h0M1236.4 717.6h0M1236.4 708.1h0M1236.4 714.4h0M1236.4 714.5h0M1236.4 714.3h0M1236.4 728.5h0M1236.4 723.7h0M1236.4 724.3h0M1236.4 716.1h0M1255.1 698.9h0M1255.1 693.8h0M1255.1 696.1h0M1255.1 691.8h0M1255.1 701.2h0M1255.1 696.1h0M1255.1 700.2h0M1255.1 703.5h0M1255.1 706.4h0M1230.3 723.0h0M1230.3 727.0h0M1230.3 725.2h0M1230.3 727.2h0M1230.3 727.9h0M1230.3 708.9h0M1230.3 722.4h0M1230.3 729.0h0M1230.3 723.6h0M1234.1 718.7h0M1234.1 726.0h0M1234.1 713.7h0M1234.1 723.4h0M1234.1 716.3h0M1234.1 721.1h0M1234.1 722.8h0M1234.1 703.2h0M1234.1 721.9h0M1254.8 705.7h0M1254.8 700.8h0M1254.8 703.2h0M1254.8 693.0h0M1254.8 696.2h0M1254.8 704.1h0M1254.8 689.7h0M1254.8 699.5h0M1254.8 704.7h0M1236.3 711.4h0M1236.3 713.6h0M1236.3 721.7h0M1236.3 722.3h0M1236.3 717.5h0M1236.3 720.1h0M1236.3 714.1h0M1236.3 715.4h0M1236.3 722.6h0M1252.1 706.3h0M1252.1 702.2h0M1252.1 694.7h0M1252.1 704.2h0M1252.1 698.1h0M1252.1 704.2h0M1252.1 698.9h0M1252.1 703.8h0M1252.1 699.0h0M1226.7 730.8h0M1226.7 730.1h0M1226.7 717.0h0M1226.7 721.9h0M1226.7 732.6h0M1226.7 720.7h0M1226.7 727.3h0M1226.7 719.9h0M1226.7 733.0h0M1253.6 700.1h0M1253.6 701.8h0M1253.6 703.1h0M1253.6 705.4h0M1253.6 690.1h0M1253.6 699.7h0M1253.6 701.2h0M1253.6 707.8h0M1253.6 694.1h0M1232.8 714.8h0M1232.8 721.2h0M1232.8 727.1h0M1232.8 717.5h0M1232.8 720.3h0M1232.8 727.5h0M1232.8 710.1h0M1232.8 716.7h0M1232.8 725.2h0M1231.0 726.1h0M1231.0 718.3h0M1231.0 716.2h0M1231.0 719.2h0M1231.0 719.5h0M1231.0 723.9h0M1231.0 711.8h0M1231.0 723.3h0M1231.0 720.9h0M1248.9 702.2h0M1248.9 705.4h0M1248.9 700.2h0M1248.9 696.4h0M1248.9 714.9h0M1248.9 705.0h0M1248.9 697.8h0M1248.9 697.1h0M1248.9 706.3h0M1266.9 682.8h0M1266.9 685.1h0M1266.9 685.3h0M1266.9 689.1h0M1266.9 681.1h0M1266.9 680.2h0M1266.9 678.2h0M1266.9 684.7h0M1266.9 685.3h0M1266.9 680.5h0M1266.9 669.7h0M1266.9 687.2h0M1266.9 686.4h0M1266.9 677.4h0M1266.9 691.6h0M1266.9 698.4h0M1266.9 681.2h0M1266.9 679.1h0M1265.2 681.1h0M1265.2 682.7h0M1265.2 682.2h0M1265.2 691.0h0M1265.2 682.4h0M1265.2 692.5h0M1265.2 695.3h0M1265.2 688.7h0M1265.2 693.9h0M1264.8 693.4h0M1264.8 691.2h0M1264.8 690.1h0M1264.8 687.3h0M1264.8 693.1h0M1264.8 691.0h0M1264.8 688.8h0M1264.8 687.3h0M1264.8 685.8h0M1266.9 682.3h0M1266.9 684.9h0M1266.9 683.8h0M1266.9 682.7h0M1266.9 686.1h0M1266.9 685.1h0M1266.9 690.5h0M1266.9 684.9h0M1266.9 681.2h0M1264.5 691.6h0M1264.5 681.9h0M1264.5 690.9h0M1264.5 683.1h0M1264.5 680.1h0M1264.5 687.2h0M1264.5 690.2h0M1264.5 686.1h0M1264.5 690.3h0M1265.7 691.6h0M1265.7 682.1h0M1265.7 696.6h0M1265.7 682.8h0M1265.7 691.0h0M1265.7 682.6h0M1265.7 689.7h0M1265.7 678.3h0M1265.7 689.7h0M1283.2 680.7h0M1283.2 655.4h0M1283.2 669.6h0M1283.2 670.4h0M1283.2 669.8h0M1283.2 671.3h0M1283.2 668.3h0M1283.2 673.5h0M1283.2 659.1h0M1280.5 675.9h0M1280.5 669.3h0M1280.5 665.9h0M1280.5 673.5h0M1280.5 668.2h0M1280.5 675.1h0M1280.5 677.3h0M1280.5 676.4h0M1280.5 667.1h0M1280.1 667.7h0M1280.1 677.3h0M1280.1 667.9h0M1280.1 677.3h0M1280.1 672.0h0M1280.1 669.4h0M1280.1 683.0h0M1280.1 669.8h0M1280.1 674.4h0M1281.1 679.2h0M1281.1 668.6h0M1281.1 670.5h0M1281.1 670.2h0M1281.1 673.3h0M1281.1 675.3h0M1281.1 678.4h0M1281.1 673.1h0M1281.1 677.1h0M1282.1 673.2h0M1282.1 669.0h0M1282.1 667.1h0M1282.1 669.0h0M1282.1 669.6h0M1282.1 672.4h0M1282.1 666.4h0M1282.1 665.3h0M1282.1 673.5h0M1281.9 673.4h0M1281.9 676.0h0M1281.9 672.7h0M1281.9 673.4h0M1281.9 661.6h0M1281.9 664.6h0M1281.9 677.9h0M1281.9 667.4h0M1281.9 672.4h0M1281.4 680.3h0M1281.4 670.5h0M1281.4 675.1h0M1281.4 670.3h0M1281.4 669.2h0M1281.4 675.0h0M1281.4 664.4h0M1281.4 671.1h0M1281.4 675.6h0M1298.0 663.2h0M1298.0 644.3h0M1298.0 659.1h0M1298.0 654.9h0M1298.0 653.8h0M1298.0 650.9h0M1298.0 661.9h0M1298.0 667.2h0M1298.0 654.7h0M1294.5 666.0h0M1294.5 660.1h0M1294.5 648.6h0M1294.5 661.6h0M1294.5 655.4h0M1294.5 664.2h0M1294.5 644.1h0M1294.5 660.6h0M1294.5 656.8h0M1295.7 658.2h0M1295.7 660.5h0M1295.7 652.3h0M1295.7 658.7h0M1295.7 662.1h0M1295.7 660.2h0M1295.7 659.1h0M1295.7 657.2h0M1295.7 657.0h0M1297.3 660.0h0M1297.3 658.5h0M1297.3 645.9h0M1297.3 657.3h0M1297.3 649.4h0M1297.3 658.3h0M1297.3 654.4h0M1297.3 659.2h0M1297.3 665.9h0M1295.6 660.6h0M1295.6 653.6h0M1295.6 651.7h0M1295.6 652.7h0M1295.6 660.7h0M1295.6 659.6h0M1295.6 663.6h0M1295.6 656.7h0M1295.6 654.0h0M1294.9 657.6h0M1294.9 662.4h0M1294.9 656.7h0M1294.9 658.2h0M1294.9 656.3h0M1294.9 659.6h0M1294.9 657.7h0M1294.9 662.2h0M1294.9 662.8h0M1314.3 651.8h0M1314.3 638.3h0M1314.3 638.5h0M1314.3 644.1h0M1314.3 631.7h0M1314.3 633.3h0M1314.3 630.8h0M1314.3 639.8h0M1314.3 640.5h0M1314.8 637.1h0M1314.8 634.2h0M1314.8 631.3h0M1314.8 643.4h0M1314.8 639.5h0M1314.8 648.7h0M1314.8 640.0h0M1314.8 634.2h0M1314.8 635.3h0M1316.0 625.9h0M1316.0 634.1h0M1316.0 639.6h0M1316.0 641.2h0M1316.0 636.2h0M1316.0 629.3h0M1316.0 643.6h0M1316.0 642.2h0M1316.0 637.1h0M1314.6 640.5h0M1314.6 634.4h0M1314.6 641.1h0M1314.6 638.6h0M1314.6 638.8h0M1314.6 637.7h0M1314.6 632.0h0M1314.6 645.2h0M1314.6 647.3h0M1316.6 644.2h0M1316.6 638.2h0M1316.6 636.2h0M1316.6 634.2h0M1316.6 635.2h0M1316.6 636.2h0M1316.6 645.6h0M1316.6 640.0h0M1316.6 634.7h0M1319.0 640.6h0M1319.0 636.9h0M1319.0 636.6h0M1319.0 632.1h0M1319.0 638.8h0M1319.0 642.7h0M1319.0 636.3h0M1319.0 635.9h0M1319.0 630.4h0M1328.8 627.7h0M1328.8 625.8h0M1328.8 627.2h0M1328.8 627.1h0M1328.8 614.5h0M1328.8 637.2h0M1328.8 621.8h0M1328.8 628.6h0M1328.8 624.3h0M1331.1 630.0h0M1331.1 621.5h0M1331.1 626.4h0M1331.1 619.7h0M1331.1 615.7h0M1331.1 628.6h0M1331.1 630.4h0M1331.1 616.8h0M1331.1 612.8h0M1329.5 624.0h0M1329.5 634.2h0M1329.5 631.7h0M1329.5 619.3h0M1329.5 615.3h0M1329.5 624.6h0M1329.5 630.7h0M1329.5 618.3h0M1329.5 630.7h0M1327.2 629.6h0M1327.2 629.4h0M1327.2 629.4h0M1327.2 623.6h0M1327.2 631.0h0M1327.2 625.5h0M1327.2 620.9h0M1327.2 620.9h0M1327.2 619.6h0M1328.6 626.7h0M1328.6 633.3h0M1328.6 623.9h0M1328.6 623.7h0M1328.6 623.4h0M1328.6 626.8h0M1328.6 622.6h0M1328.6 629.9h0M1328.6 620.8h0M1327.5 617.3h0M1327.5 625.3h0M1327.5 625.7h0M1327.5 622.8h0M1327.5 623.2h0M1327.5 623.1h0M1327.5 624.9h0M1327.5 627.3h0M1327.5 618.2h0" stroke="#f0b62a" stroke-width="2.4" stroke-linecap="round"/>
<path d="M1018.3 927.5h0M1018.3 939.5h0M1018.3 924.1h0M1018.3 928.7h0M1018.3 944.9h0M1018.3 927.4h0M1018.3 922.6h0M1018.3 937.2h0M1018.3 926.2h0M1018.3 943.5h0M1018.3 930.7h0M1018.3 942.6h0M1018.3 929.3h0M1018.3 943.4h0M1018.3 948.7h0M1018.3 929.8h0M1043.7 892.7h0M1043.7 910.7h0M1043.7 901.8h0M1043.7 906.3h0M1043.7 909.0h0M1043.7 903.1h0M1043.7 896.8h0M1043.7 914.7h0M1043.7 903.5h0M1043.7 904.8h0M1043.7 915.8h0M1043.7 896.9h0M1043.7 894.8h0M1043.7 912.9h0M1043.7 896.2h0M1043.7 906.6h0M1041.1 910.6h0M1041.1 900.2h0M1041.1 908.1h0M1041.1 907.5h0M1041.1 900.1h0M1041.1 901.5h0M1041.1 904.0h0M1041.1 918.3h0M1041.1 919.3h0M1041.1 902.5h0M1041.1 915.3h0M1041.1 908.6h0M1041.1 916.2h0M1041.1 910.7h0M1041.1 917.5h0M1041.1 899.4h0M1007.8 949.0h0M1007.8 943.5h0M1007.8 943.9h0M1007.8 935.2h0M1007.8 951.5h0M1007.8 942.9h0M1007.8 944.0h0M1007.8 939.4h0M1007.8 939.8h0M1007.8 945.6h0M1007.8 941.2h0M1007.8 945.0h0M1007.8 939.8h0M1007.8 943.3h0M1007.8 946.8h0M1007.8 942.9h0M1011.9 936.4h0M1011.9 924.5h0M1011.9 941.7h0M1011.9 936.7h0M1011.9 929.5h0M1011.9 951.6h0M1011.9 949.5h0M1011.9 946.0h0M1011.9 939.3h0M1011.9 923.5h0M1011.9 936.2h0M1011.9 931.1h0M1011.9 940.0h0M1011.9 954.0h0M1011.9 953.0h0M1011.9 932.3h0M1007.5 941.9h0M1007.5 951.1h0M1007.5 936.1h0M1007.5 952.6h0M1007.5 936.0h0M1007.5 934.0h0M1007.5 947.8h0M1007.5 949.9h0M1007.5 937.8h0M1007.5 949.8h0M1007.5 937.7h0M1007.5 950.5h0M1007.5 938.0h0M1007.5 942.4h0M1007.5 945.7h0M1007.5 948.6h0M1028.5 920.6h0M1028.5 933.8h0M1028.5 923.8h0M1028.5 924.5h0M1028.5 917.8h0M1028.5 929.9h0M1028.5 911.4h0M1028.5 924.0h0M1028.5 929.1h0M1028.5 913.4h0M1028.5 911.7h0M1028.5 923.2h0M1028.5 927.6h0M1028.5 922.0h0M1028.5 926.4h0M1028.5 924.0h0M1016.5 924.3h0M1016.5 931.6h0M1016.5 933.1h0M1016.5 931.9h0M1016.5 934.4h0M1016.5 928.8h0M1016.5 928.5h0M1016.5 936.3h0M1016.5 933.4h0M1016.5 919.0h0M1016.5 931.4h0M1016.5 935.2h0M1016.5 921.3h0M1016.5 934.0h0M1016.5 940.8h0M1016.5 929.8h0M1031.9 924.3h0M1031.9 921.8h0M1031.9 916.6h0M1031.9 919.5h0M1031.9 923.4h0M1031.9 922.1h0M1031.9 922.4h0M1031.9 911.4h0M1031.9 923.2h0M1031.9 922.2h0M1031.9 906.0h0M1031.9 922.1h0M1031.9 909.4h0M1031.9 910.5h0M1031.9 919.6h0M1031.9 927.5h0M982.2 965.4h0M982.2 964.0h0M982.2 962.2h0M982.2 967.8h0M982.2 960.7h0M982.2 959.6h0M982.2 974.8h0M982.2 959.3h0M982.2 967.1h0M982.2 971.7h0M982.2 970.2h0M982.2 956.5h0M982.2 962.1h0M982.2 979.4h0M982.2 967.7h0M982.2 969.1h0M1047.6 904.1h0M1047.6 906.2h0M1047.6 912.1h0M1047.6 897.7h0M1047.6 908.9h0M1047.6 905.3h0M1047.6 906.8h0M1047.6 907.6h0M1047.6 898.4h0M1047.6 900.6h0M1047.6 907.2h0M1047.6 908.9h0M1047.6 905.9h0M1047.6 897.0h0M1047.6 902.2h0M1047.6 901.6h0M1015.8 936.8h0M1015.8 936.4h0M1015.8 933.4h0M1015.8 946.3h0M1015.8 924.8h0M1015.8 939.7h0M1015.8 938.3h0M1015.8 926.5h0M1015.8 933.4h0M1015.8 934.5h0M1015.8 938.4h0M1015.8 944.5h0M1015.8 933.6h0M1015.8 927.4h0M1015.8 940.4h0M1015.8 926.3h0M1030.6 927.0h0M1030.6 924.5h0M1030.6 916.8h0M1030.6 919.9h0M1030.6 915.7h0M1030.6 924.6h0M1030.6 926.4h0M1030.6 931.6h0M1030.6 927.4h0M1030.6 926.6h0M1030.6 928.8h0M1030.6 918.0h0M1030.6 924.1h0M1030.6 932.3h0M1030.6 904.5h0M1030.6 925.1h0M1015.0 943.4h0M1015.0 927.8h0M1015.0 928.3h0M1015.0 942.7h0M1015.0 944.7h0M1015.0 941.8h0M1015.0 928.5h0M1015.0 937.5h0M1015.0 940.6h0M1015.0 935.7h0M1015.0 928.1h0M1015.0 944.2h0M1015.0 937.9h0M1015.0 944.2h0M1015.0 922.0h0M1015.0 924.2h0M1010.3 934.3h0M1010.3 941.0h0M1010.3 936.1h0M1010.3 953.3h0M1010.3 938.5h0M1010.3 948.5h0M1010.3 948.4h0M1010.3 944.6h0M1010.3 942.4h0M1010.3 936.6h0M1010.3 935.8h0M1010.3 938.6h0M1010.3 946.1h0M1010.3 936.0h0M1010.3 940.9h0M1010.3 932.8h0M1026.5 929.8h0M1026.5 941.3h0M1026.5 927.1h0M1026.5 910.7h0M1026.5 921.2h0M1026.5 925.3h0M1026.5 918.6h0M1026.5 921.0h0M1026.5 921.2h0M1026.5 927.3h0M1026.5 923.6h0M1026.5 922.8h0M1026.5 928.1h0M1026.5 931.1h0M1026.5 923.2h0M1026.5 918.1h0M1033.4 913.2h0M1033.4 914.1h0M1033.4 914.1h0M1033.4 901.1h0M1033.4 915.6h0M1033.4 910.7h0M1033.4 905.0h0M1033.4 916.9h0M1033.4 915.6h0M1033.4 910.7h0M1033.4 906.7h0M1033.4 915.2h0M1033.4 914.9h0M1033.4 916.6h0M1033.4 924.7h0M1033.4 910.2h0M1013.7 938.4h0M1013.7 947.5h0M1013.7 937.7h0M1013.7 947.6h0M1013.7 943.1h0M1013.7 936.7h0M1013.7 942.5h0M1013.7 930.1h0M1013.7 945.9h0M1013.7 935.1h0M1013.7 933.3h0M1013.7 927.7h0M1013.7 931.0h0M1013.7 935.3h0M1013.7 936.3h0M1013.7 937.1h0M1014.7 928.7h0M1014.7 939.9h0M1014.7 932.6h0M1014.7 936.4h0M1014.7 934.3h0M1014.7 937.4h0M1014.7 922.5h0M1014.7 939.9h0M1014.7 934.2h0M1014.7 934.1h0M1014.7 932.0h0M1014.7 933.0h0M1014.7 933.1h0M1014.7 929.7h0M1014.7 945.2h0M1014.7 935.7h0M1030.8 927.4h0M1030.8 918.3h0M1030.8 927.1h0M1030.8 925.7h0M1030.8 920.1h0M1030.8 911.1h0M1030.8 916.2h0M1030.8 917.9h0M1030.8 911.0h0M1030.8 925.6h0M1030.8 932.8h0M1030.8 922.4h0M1030.8 921.5h0M1030.8 912.1h0M1030.8 906.5h0M1030.8 928.0h0M1000.9 934.1h0M1000.9 939.8h0M1000.9 944.3h0M1000.9 947.2h0M1000.9 934.4h0M1000.9 949.0h0M1000.9 952.4h0M1000.9 948.6h0M1000.9 958.0h0M1000.9 946.5h0M1000.9 950.2h0M1000.9 947.4h0M1000.9 947.2h0M1000.9 956.1h0M1000.9 941.3h0M1000.9 955.8h0M988.6 956.3h0M988.6 971.7h0M988.6 959.5h0M988.6 966.9h0M988.6 961.5h0M988.6 965.8h0M988.6 975.4h0M988.6 968.7h0M988.6 961.3h0M988.6 957.9h0M988.6 970.9h0M988.6 975.0h0M988.6 967.2h0M988.6 963.1h0M988.6 965.7h0M988.6 966.8h0M1025.2 920.0h0M1025.2 919.3h0M1025.2 920.7h0M1025.2 931.1h0M1025.2 924.8h0M1025.2 926.5h0M1025.2 934.2h0M1025.2 919.8h0M1025.2 924.8h0M1025.2 928.3h0M1025.2 916.5h0M1025.2 920.6h0M1025.2 920.0h0M1025.2 917.8h0M1025.2 920.8h0M1025.2 933.2h0M1004.8 948.1h0M1004.8 939.4h0M1004.8 950.4h0M1004.8 945.4h0M1004.8 943.2h0M1004.8 936.7h0M1004.8 937.6h0M1004.8 940.1h0M1004.8 946.8h0M1004.8 940.0h0M1004.8 942.4h0M1004.8 946.7h0M1004.8 937.2h0M1004.8 942.6h0M1004.8 950.4h0M1004.8 937.8h0M980.8 971.1h0M980.8 965.8h0M980.8 979.0h0M980.8 969.7h0M980.8 975.4h0M980.8 975.6h0M980.8 981.4h0M980.8 956.2h0M980.8 970.5h0M980.8 968.1h0M980.8 962.7h0M980.8 970.3h0M980.8 966.4h0M980.8 978.0h0M980.8 968.3h0M980.8 972.1h0M1002.0 945.3h0M1002.0 947.3h0M1002.0 957.1h0M1002.0 960.0h0M1002.0 954.8h0M1002.0 943.9h0M1002.0 945.8h0M1002.0 945.9h0M1002.0 961.0h0M1002.0 965.2h0M1002.0 952.3h0M1002.0 950.5h0M1002.0 952.2h0M1002.0 946.2h0M1002.0 949.5h0M1002.0 955.8h0M1008.6 947.3h0M1008.6 941.0h0M1008.6 941.4h0M1008.6 942.3h0M1008.6 927.7h0M1008.6 943.5h0M1008.6 941.1h0M1008.6 948.1h0M1008.6 944.1h0M1008.6 938.6h0M1008.6 938.3h0M1008.6 942.8h0M1008.6 939.4h0M1008.6 941.5h0M1008.6 953.6h0M1008.6 962.2h0M994.7 941.4h0M994.7 950.6h0M994.7 956.1h0M994.7 966.5h0M994.7 963.7h0M994.7 947.3h0M994.7 973.1h0M994.7 957.8h0M994.7 950.3h0M994.7 954.8h0M994.7 951.0h0M994.7 956.6h0M994.7 940.8h0M994.7 962.1h0M994.7 964.2h0M994.7 954.0h0M989.0 952.6h0M989.0 961.8h0M989.0 954.9h0M989.0 964.8h0M989.0 968.8h0M989.0 952.7h0M989.0 951.7h0M989.0 951.9h0M989.0 964.2h0M989.0 968.6h0M989.0 968.7h0M989.0 962.8h0M989.0 957.8h0M989.0 958.3h0M989.0 970.4h0M989.0 960.2h0M1018.3 932.1h0M1018.3 931.7h0M1018.3 932.4h0M1018.3 933.5h0M1018.3 928.6h0M1018.3 931.5h0M1018.3 930.8h0M1018.3 936.5h0M1018.3 929.8h0M1018.3 933.0h0M1018.3 945.4h0M1018.3 929.2h0M1018.3 933.9h0M1018.3 926.5h0M1018.3 933.3h0M1018.3 932.8h0M1034.8 914.5h0M1034.8 915.9h0M1034.8 918.6h0M1034.8 927.0h0M1034.8 904.3h0M1034.8 925.6h0M1034.8 917.9h0M1034.8 911.7h0M1034.8 913.4h0M1034.8 912.3h0M1034.8 911.0h0M1034.8 907.9h0M1034.8 914.0h0M1034.8 897.7h0M1034.8 922.1h0M1034.8 914.4h0M1013.1 939.6h0M1013.1 940.8h0M1013.1 935.6h0M1013.1 928.3h0M1013.1 941.8h0M1013.1 941.8h0M1013.1 932.9h0M1013.1 934.0h0M1013.1 925.2h0M1013.1 931.0h0M1013.1 936.0h0M1013.1 939.4h0M1013.1 936.1h0M1013.1 938.5h0M1013.1 945.9h0M1013.1 937.3h0M1003.4 948.2h0M1003.4 948.6h0M1003.4 949.8h0M1003.4 936.6h0M1003.4 942.8h0M1003.4 941.3h0M1003.4 950.9h0M1003.4 953.5h0M1003.4 948.9h0M1003.4 945.6h0M1003.4 949.3h0M1003.4 948.3h0M1003.4 941.2h0M1003.4 945.3h0M1003.4 953.3h0M1003.4 949.8h0M1025.0 929.7h0M1025.0 924.5h0M1025.0 932.9h0M1025.0 926.7h0M1025.0 921.3h0M1025.0 925.4h0M1025.0 931.3h0M1025.0 929.4h0M1025.0 924.8h0M1025.0 922.6h0M1025.0 920.4h0M1025.0 926.5h0M1025.0 933.8h0M1025.0 916.7h0M1025.0 923.7h0M1025.0 923.1h0M1031.4 917.3h0M1031.4 925.7h0M1031.4 921.2h0M1031.4 917.6h0M1031.4 912.8h0M1031.4 918.9h0M1031.4 938.7h0M1031.4 920.7h0M1031.4 917.1h0M1031.4 911.2h0M1031.4 914.8h0M1031.4 903.8h0M1031.4 910.4h0M1031.4 910.9h0M1031.4 913.4h0M1031.4 927.8h0M1011.9 933.4h0M1011.9 934.9h0M1011.9 941.9h0M1011.9 935.0h0M1011.9 936.1h0M1011.9 941.6h0M1011.9 939.4h0M1011.9 940.3h0M1011.9 937.2h0M1011.9 941.3h0M1011.9 935.3h0M1011.9 950.6h0M1011.9 940.4h0M1011.9 949.2h0M1011.9 941.7h0M1011.9 935.5h0M1028.0 922.4h0M1028.0 923.2h0M1028.0 922.1h0M1028.0 912.8h0M1028.0 929.4h0M1028.0 917.0h0M1028.0 932.0h0M1028.0 925.4h0M1028.0 921.5h0M1028.0 927.8h0M1028.0 921.3h0M1028.0 918.0h0M1028.0 930.0h0M1028.0 923.0h0M1028.0 924.9h0M1028.0 934.6h0M1037.6 914.2h0M1037.6 918.0h0M1037.6 904.7h0M1037.6 918.5h0M1037.6 902.5h0M1037.6 916.3h0M1037.6 901.0h0M1037.6 909.7h0M1037.6 910.2h0M1037.6 908.0h0M1037.6 907.4h0M1037.6 904.3h0M1037.6 902.2h0M1037.6 915.2h0M1037.6 920.8h0M1037.6 929.6h0M1013.6 939.3h0M1013.6 932.2h0M1013.6 934.5h0M1013.6 936.2h0M1013.6 939.1h0M1013.6 940.9h0M1013.6 938.7h0M1013.6 934.5h0M1013.6 947.9h0M1013.6 932.4h0M1013.6 946.0h0M1013.6 937.9h0M1013.6 940.8h0M1013.6 939.2h0M1013.6 943.4h0M1013.6 944.1h0M1002.0 949.9h0M1002.0 955.3h0M1002.0 933.2h0M1002.0 951.1h0M1002.0 952.6h0M1002.0 951.9h0M1002.0 955.2h0M1002.0 963.8h0M1002.0 950.1h0M1002.0 946.6h0M1002.0 957.9h0M1002.0 948.5h0M1002.0 956.1h0M1002.0 948.7h0M1002.0 946.3h0M1002.0 945.5h0M1024.3 923.6h0M1024.3 930.7h0M1024.3 920.9h0M1024.3 929.1h0M1024.3 924.2h0M1024.3 922.0h0M1024.3 928.2h0M1024.3 934.3h0M1024.3 922.5h0M1024.3 933.3h0M1024.3 931.9h0M1024.3 933.2h0M1024.3 921.1h0M1024.3 927.4h0M1024.3 940.3h0M1024.3 921.8h0M1022.4 915.4h0M1022.4 917.1h0M1022.4 931.8h0M1022.4 927.8h0M1022.4 925.1h0M1022.4 922.7h0M1022.4 928.1h0M1022.4 935.1h0M1022.4 923.6h0M1022.4 924.5h0M1022.4 936.6h0M1022.4 930.6h0M1022.4 926.6h0M1022.4 928.3h0M1022.4 925.0h0M1022.4 923.3h0M1038.7 908.7h0M1038.7 912.7h0M1038.7 920.4h0M1038.7 908.2h0M1038.7 903.3h0M1038.7 899.7h0M1038.7 912.2h0M1038.7 912.3h0M1038.7 903.0h0M1038.7 903.1h0M1038.7 909.9h0M1038.7 907.6h0M1038.7 916.8h0M1038.7 908.4h0M1038.7 917.2h0M1038.7 912.9h0M993.0 958.3h0M993.0 960.5h0M993.0 970.7h0M993.0 962.7h0M993.0 955.5h0M993.0 957.9h0M993.0 960.0h0M993.0 954.9h0M993.0 953.3h0M993.0 952.3h0M993.0 962.6h0M993.0 957.4h0M993.0 959.7h0M993.0 963.0h0M993.0 966.9h0M993.0 958.2h0M1004.9 951.1h0M1004.9 932.3h0M1004.9 946.3h0M1004.9 947.1h0M1004.9 948.2h0M1004.9 934.0h0M1004.9 951.5h0M1004.9 946.7h0M1004.9 950.5h0M1004.9 946.5h0M1004.9 945.9h0M1004.9 938.8h0M1004.9 954.5h0M1004.9 945.8h0M1004.9 935.6h0M1004.9 948.9h0M1001.5 950.2h0M1001.5 954.6h0M1001.5 965.3h0M1001.5 949.7h0M1001.5 941.7h0M1001.5 952.0h0M1001.5 960.5h0M1001.5 947.4h0M1001.5 948.6h0M1001.5 942.8h0M1001.5 943.4h0M1001.5 950.7h0M1001.5 946.6h0M1001.5 960.3h0M1001.5 942.1h0M1001.5 947.9h0M984.4 959.4h0M984.4 959.6h0M984.4 968.0h0M984.4 967.1h0M984.4 971.6h0M984.4 979.0h0M984.4 967.0h0M984.4 965.2h0M984.4 972.9h0M984.4 961.7h0M984.4 965.6h0M984.4 963.3h0M984.4 971.0h0M984.4 977.1h0M984.4 961.3h0M984.4 962.4h0M1020.0 931.3h0M1020.0 933.3h0M1020.0 932.4h0M1020.0 931.5h0M1020.0 933.8h0M1020.0 943.1h0M1020.0 925.8h0M1020.0 939.9h0M1020.0 932.7h0M1020.0 932.5h0M1020.0 929.0h0M1020.0 940.7h0M1020.0 923.1h0M1020.0 926.5h0M1020.0 925.8h0M1020.0 922.7h0M1027.7 927.9h0M1027.7 942.5h0M1027.7 920.9h0M1027.7 914.8h0M1027.7 915.7h0M1027.7 926.3h0M1027.7 923.5h0M1027.7 921.1h0M1027.7 934.2h0M1027.7 927.1h0M1027.7 926.9h0M1027.7 913.1h0M1027.7 927.0h0M1027.7 913.1h0M1027.7 922.8h0M1027.7 933.3h0M1003.5 933.3h0M1003.5 953.1h0M1003.5 943.2h0M1003.5 936.4h0M1003.5 950.4h0M1003.5 954.7h0M1003.5 940.6h0M1003.5 946.6h0M1003.5 954.7h0M1003.5 953.8h0M1003.5 949.5h0M1003.5 941.1h0M1003.5 948.8h0M1003.5 943.0h0M1003.5 936.8h0M1003.5 939.2h0M1044.2 897.5h0M1044.2 898.8h0M1044.2 916.5h0M1044.2 898.9h0M1044.2 904.4h0M1044.2 907.3h0M1044.2 913.2h0M1044.2 916.4h0M1044.2 913.4h0M1044.2 906.6h0M1044.2 913.8h0M1044.2 911.6h0M1044.2 910.3h0M1044.2 902.3h0M1044.2 908.3h0M1044.2 907.4h0M1033.4 909.0h0M1033.4 919.2h0M1033.4 913.5h0M1033.4 923.8h0M1033.4 915.2h0M1033.4 916.5h0M1033.4 916.2h0M1033.4 920.1h0M1033.4 923.7h0M1033.4 919.1h0M1033.4 920.2h0M1033.4 910.8h0M1033.4 911.6h0M1033.4 924.7h0M1033.4 913.3h0M1033.4 920.2h0M1029.6 918.1h0M1029.6 924.0h0M1029.6 930.1h0M1029.6 914.6h0M1029.6 918.1h0M1029.6 928.6h0M1029.6 932.7h0M1029.6 924.3h0M1029.6 928.3h0M1029.6 923.2h0M1029.6 917.1h0M1029.6 911.8h0M1029.6 923.2h0M1029.6 912.4h0M1029.6 913.7h0M1029.6 923.7h0M1025.3 935.6h0M1025.3 920.0h0M1025.3 921.5h0M1025.3 910.6h0M1025.3 916.4h0M1025.3 920.4h0M1025.3 914.8h0M1025.3 931.8h0M1025.3 924.0h0M1025.3 926.9h0M1025.3 914.4h0M1025.3 921.7h0M1025.3 944.3h0M1025.3 916.7h0M1025.3 930.9h0M1025.3 920.4h0M1035.9 917.6h0M1035.9 913.1h0M1035.9 910.7h0M1035.9 913.4h0M1035.9 920.6h0M1035.9 905.9h0M1035.9 912.1h0M1035.9 914.7h0M1035.9 910.2h0M1035.9 917.9h0M1035.9 902.9h0M1035.9 913.2h0M1035.9 912.3h0M1035.9 912.4h0M1035.9 920.3h0M1035.9 921.9h0M992.1 956.9h0M992.1 956.1h0M992.1 949.9h0M992.1 955.5h0M992.1 965.0h0M992.1 955.0h0M992.1 953.1h0M992.1 952.0h0M992.1 956.2h0M992.1 965.9h0M992.1 951.0h0M992.1 962.8h0M992.1 954.7h0M992.1 968.1h0M992.1 953.5h0M992.1 963.1h0M1029.4 914.4h0M1029.4 910.1h0M1029.4 913.8h0M1029.4 928.4h0M1029.4 927.0h0M1029.4 926.5h0M1029.4 917.0h0M1029.4 919.0h0M1029.4 920.1h0M1029.4 919.2h0M1029.4 917.5h0M1029.4 917.1h0M1029.4 910.6h0M1029.4 921.5h0M1029.4 919.9h0M1029.4 932.7h0M1029.2 929.6h0M1029.2 925.7h0M1029.2 928.7h0M1029.2 920.0h0M1029.2 914.9h0M1029.2 924.1h0M1029.2 924.4h0M1029.2 924.6h0M1029.2 920.6h0M1029.2 924.8h0M1029.2 918.7h0M1029.2 919.5h0M1029.2 919.3h0M1029.2 916.6h0M1029.2 921.2h0M1029.2 920.5h0M983.7 955.7h0M983.7 967.0h0M983.7 961.7h0M983.7 966.4h0M983.7 969.6h0M983.7 969.5h0M983.7 971.8h0M983.7 966.6h0M983.7 970.5h0M983.7 969.3h0M983.7 959.1h0M983.7 967.5h0M983.7 959.6h0M983.7 965.1h0M983.7 961.4h0M983.7 970.5h0M1024.3 925.4h0M1024.3 909.9h0M1024.3 921.2h0M1024.3 920.1h0M1024.3 924.9h0M1024.3 921.0h0M1024.3 933.6h0M1024.3 931.6h0M1024.3 923.7h0M1024.3 921.2h0M1024.3 928.9h0M1024.3 927.5h0M1024.3 928.6h0M1024.3 927.5h0M1024.3 933.8h0M1024.3 935.3h0M1012.8 938.3h0M1012.8 948.6h0M1012.8 943.9h0M1012.8 941.9h0M1012.8 944.4h0M1012.8 936.3h0M1012.8 940.6h0M1012.8 938.3h0M1012.8 944.1h0M1012.8 942.5h0M1012.8 934.7h0M1012.8 935.6h0M1012.8 940.8h0M1012.8 935.6h0M1012.8 936.7h0M1012.8 936.9h0M1032.6 908.3h0M1032.6 920.7h0M1032.6 915.6h0M1032.6 915.6h0M1032.6 919.7h0M1032.6 925.4h0M1032.6 913.9h0M1032.6 916.6h0M1032.6 917.9h0M1032.6 918.1h0M1032.6 918.1h0M1032.6 923.8h0M1032.6 916.4h0M1032.6 929.5h0M1032.6 918.4h0M1032.6 927.6h0M1009.2 943.8h0M1009.2 937.1h0M1009.2 943.2h0M1009.2 944.6h0M1009.2 938.4h0M1009.2 943.3h0M1009.2 944.2h0M1009.2 944.1h0M1009.2 932.2h0M1009.2 937.5h0M1009.2 938.7h0M1009.2 949.1h0M1009.2 937.8h0M1009.2 949.7h0M1009.2 938.7h0M1009.2 948.6h0M1017.3 921.5h0M1017.3 944.1h0M1017.3 926.1h0M1017.3 928.7h0M1017.3 944.7h0M1017.3 935.2h0M1017.3 924.7h0M1017.3 926.6h0M1017.3 944.0h0M1017.3 936.9h0M1017.3 941.0h0M1017.3 940.1h0M1017.3 937.7h0M1017.3 922.2h0M1017.3 932.9h0M1017.3 935.1h0M1024.2 928.9h0M1024.2 922.6h0M1024.2 922.5h0M1024.2 932.5h0M1024.2 917.7h0M1024.2 933.5h0M1024.2 928.5h0M1024.2 924.0h0M1024.2 916.2h0M1024.2 929.0h0M1024.2 925.0h0M1024.2 918.7h0M1024.2 922.9h0M1024.2 919.8h0M1024.2 920.3h0M1024.2 925.2h0M1000.8 946.2h0M1000.8 944.4h0M1000.8 950.3h0M1000.8 940.1h0M1000.8 962.4h0M1000.8 955.8h0M1000.8 941.1h0M1000.8 947.4h0M1000.8 954.1h0M1000.8 947.7h0M1000.8 943.3h0M1000.8 953.6h0M1000.8 945.3h0M1000.8 950.8h0M1000.8 950.8h0M1000.8 950.5h0M1029.1 915.0h0M1029.1 928.9h0M1029.1 924.2h0M1029.1 917.8h0M1029.1 929.5h0M1029.1 931.7h0M1029.1 918.4h0M1029.1 921.9h0M1029.1 922.8h0M1029.1 921.0h0M1029.1 928.0h0M1029.1 903.8h0M1029.1 928.0h0M1029.1 924.6h0M1029.1 930.7h0M1029.1 924.5h0M1015.6 925.8h0M1015.6 935.2h0M1015.6 931.6h0M1015.6 938.4h0M1015.6 924.1h0M1015.6 934.3h0M1015.6 943.1h0M1015.6 930.6h0M1015.6 937.6h0M1015.6 931.6h0M1015.6 934.5h0M1015.6 933.7h0M1015.6 934.5h0M1015.6 941.0h0M1015.6 944.7h0M1015.6 929.3h0M1027.0 924.8h0M1027.0 922.2h0M1027.0 926.8h0M1027.0 936.5h0M1027.0 931.9h0M1027.0 915.3h0M1027.0 928.8h0M1027.0 926.3h0M1027.0 933.1h0M1027.0 927.2h0M1027.0 926.3h0M1027.0 925.3h0M1027.0 924.4h0M1027.0 927.9h0M1027.0 927.5h0M1027.0 924.0h0M1007.6 941.3h0M1007.6 944.2h0M1007.6 932.5h0M1007.6 942.1h0M1007.6 942.3h0M1007.6 947.4h0M1007.6 936.9h0M1007.6 949.7h0M1007.6 953.4h0M1007.6 949.4h0M1007.6 939.5h0M1007.6 950.5h0M1007.6 935.3h0M1007.6 943.5h0M1007.6 952.8h0M1007.6 944.8h0M1038.4 901.5h0M1038.4 918.0h0M1038.4 920.8h0M1038.4 909.5h0M1038.4 904.5h0M1038.4 906.3h0M1038.4 914.7h0M1038.4 911.5h0M1038.4 910.6h0M1038.4 905.3h0M1038.4 899.3h0M1038.4 913.3h0M1038.4 904.6h0M1038.4 914.8h0M1038.4 909.0h0M1038.4 918.4h0M1029.2 926.6h0M1029.2 919.2h0M1029.2 927.4h0M1029.2 916.3h0M1029.2 925.3h0M1029.2 921.3h0M1029.2 922.4h0M1029.2 923.9h0M1029.2 921.0h0M1029.2 915.1h0M1029.2 902.5h0M1029.2 929.2h0M1029.2 920.0h0M1029.2 922.9h0M1029.2 927.5h0M1029.2 920.0h0M1014.2 942.3h0M1014.2 937.3h0M1014.2 929.1h0M1014.2 949.4h0M1014.2 935.2h0M1014.2 934.0h0M1014.2 942.7h0M1014.2 933.5h0M1014.2 934.6h0M1014.2 939.0h0M1014.2 929.2h0M1014.2 944.9h0M1014.2 932.8h0M1014.2 938.2h0M1014.2 943.4h0M1014.2 937.9h0M1029.7 923.5h0M1029.7 916.2h0M1029.7 930.6h0M1029.7 922.5h0M1029.7 924.2h0M1029.7 911.5h0M1029.7 928.3h0M1029.7 914.7h0M1029.7 932.3h0M1029.7 919.2h0M1029.7 922.2h0M1029.7 919.0h0M1029.7 925.7h0M1029.7 933.5h0M1029.7 931.0h0M1029.7 913.2h0M1041.8 908.0h0M1041.8 914.8h0M1041.8 903.8h0M1041.8 914.0h0M1041.8 914.0h0M1041.8 916.9h0M1041.8 902.1h0M1041.8 897.2h0M1041.8 915.4h0M1041.8 907.6h0M1041.8 903.3h0M1041.8 896.3h0M1041.8 924.4h0M1041.8 908.6h0M1041.8 905.4h0M1041.8 918.7h0M1051.9 896.8h0M1051.9 898.1h0M1051.9 894.8h0M1051.9 902.9h0M1051.9 896.7h0M1051.9 903.1h0M1051.9 895.5h0M1051.9 898.3h0M1051.9 901.7h0M1051.9 908.1h0M1051.9 889.1h0M1051.9 892.4h0M1051.9 893.9h0M1051.9 903.5h0M1051.9 901.5h0M1051.9 888.9h0M987.5 959.0h0M987.5 968.9h0M987.5 963.3h0M987.5 962.7h0M987.5 964.8h0M987.5 969.5h0M987.5 955.8h0M987.5 959.9h0M987.5 964.8h0M987.5 973.4h0M987.5 967.2h0M987.5 963.6h0M987.5 958.2h0M987.5 965.8h0M987.5 956.6h0M987.5 962.7h0M1034.5 921.2h0M1034.5 934.0h0M1034.5 923.9h0M1034.5 925.9h0M1034.5 917.5h0M1034.5 914.5h0M1034.5 907.9h0M1034.5 916.6h0M1034.5 923.8h0M1034.5 901.9h0M1034.5 914.6h0M1034.5 918.2h0M1034.5 918.2h0M1034.5 925.0h0M1034.5 912.6h0M1034.5 914.2h0M1026.5 914.6h0M1026.5 917.7h0M1026.5 919.1h0M1026.5 916.7h0M1026.5 926.3h0M1026.5 927.2h0M1026.5 924.8h0M1026.5 932.2h0M1026.5 925.4h0M1026.5 926.5h0M1026.5 920.3h0M1026.5 924.5h0M1026.5 936.3h0M1026.5 924.3h0M1026.5 915.6h0M1026.5 935.8h0M1015.8 939.8h0M1015.8 935.0h0M1015.8 943.3h0M1015.8 938.5h0M1015.8 934.7h0M1015.8 943.3h0M1015.8 933.2h0M1015.8 932.5h0M1015.8 942.9h0M1015.8 934.9h0M1015.8 928.3h0M1015.8 936.1h0M1015.8 932.3h0M1015.8 931.0h0M1015.8 936.5h0M1015.8 928.9h0M998.3 950.1h0M998.3 958.6h0M998.3 949.2h0M998.3 947.0h0M998.3 947.4h0M998.3 956.4h0M998.3 949.5h0M998.3 943.9h0M998.3 951.0h0M998.3 945.0h0M998.3 944.3h0M998.3 952.6h0M998.3 948.3h0M998.3 954.2h0M998.3 945.7h0M998.3 952.9h0M1041.7 912.5h0M1041.7 909.3h0M1041.7 909.6h0M1041.7 906.7h0M1041.7 906.2h0M1041.7 916.3h0M1041.7 913.1h0M1041.7 906.8h0M1041.7 906.1h0M1041.7 908.5h0M1041.7 892.7h0M1041.7 902.1h0M1041.7 909.5h0M1041.7 904.5h0M1041.7 900.7h0M1041.7 906.7h0M993.4 968.0h0M993.4 956.5h0M993.4 956.8h0M993.4 943.8h0M993.4 968.5h0M993.4 947.5h0M993.4 958.0h0M993.4 951.3h0M993.4 958.9h0M993.4 956.0h0M993.4 950.0h0M993.4 956.5h0M993.4 950.5h0M993.4 957.5h0M993.4 959.6h0M993.4 958.4h0M1028.5 925.2h0M1028.5 922.8h0M1028.5 913.6h0M1028.5 929.3h0M1028.5 932.4h0M1028.5 922.2h0M1028.5 911.6h0M1028.5 915.5h0M1028.5 913.8h0M1028.5 914.2h0M1028.5 926.6h0M1028.5 921.3h0M1028.5 938.6h0M1028.5 925.8h0M1028.5 918.2h0M1028.5 931.7h0M1042.6 920.8h0M1042.6 916.0h0M1042.6 906.6h0M1042.6 900.7h0M1042.6 891.8h0M1042.6 899.0h0M1042.6 917.3h0M1042.6 922.3h0M1042.6 906.9h0M1042.6 901.3h0M1042.6 917.9h0M1042.6 911.1h0M1042.6 910.6h0M1042.6 907.6h0M1042.6 908.9h0M1042.6 904.6h0M987.0 956.6h0M987.0 962.7h0M987.0 958.5h0M987.0 950.8h0M987.0 969.5h0M987.0 969.7h0M987.0 960.0h0M987.0 951.6h0M987.0 962.1h0M987.0 956.3h0M987.0 965.0h0M987.0 957.4h0M987.0 967.0h0M987.0 958.9h0M987.0 960.6h0M987.0 960.6h0M1011.8 929.7h0M1011.8 931.6h0M1011.8 941.9h0M1011.8 932.7h0M1011.8 948.8h0M1011.8 932.0h0M1011.8 921.0h0M1011.8 934.8h0M1011.8 935.0h0M1011.8 937.7h0M1011.8 932.9h0M1011.8 940.9h0M1011.8 933.9h0M1011.8 939.7h0M1011.8 940.7h0M1011.8 937.2h0M992.5 957.6h0M992.5 968.0h0M992.5 944.3h0M992.5 956.3h0M992.5 967.7h0M992.5 950.5h0M992.5 957.4h0M992.5 955.9h0M992.5 952.8h0M992.5 962.7h0M992.5 975.5h0M992.5 957.8h0M992.5 955.7h0M992.5 950.9h0M992.5 961.9h0M992.5 958.8h0M1022.3 925.0h0M1022.3 929.5h0M1022.3 929.1h0M1022.3 925.9h0M1022.3 933.7h0M1022.3 917.6h0M1022.3 933.2h0M1022.3 927.3h0M1022.3 929.6h0M1022.3 931.9h0M1022.3 924.2h0M1022.3 921.2h0M1022.3 918.5h0M1022.3 923.9h0M1022.3 930.3h0M1022.3 922.2h0M1046.6 912.2h0M1046.6 903.0h0M1046.6 900.0h0M1046.6 899.8h0M1046.6 910.4h0M1046.6 912.6h0M1046.6 893.0h0M1046.6 906.5h0M1046.6 913.6h0M1046.6 911.0h0M1046.6 903.3h0M1046.6 896.0h0M1046.6 903.4h0M1046.6 895.9h0M1046.6 902.0h0M1046.6 900.5h0M1056.4 887.6h0M1056.4 896.0h0M1056.4 891.9h0M1056.4 896.1h0M1056.4 897.7h0M1056.4 889.6h0M1056.4 898.8h0M1056.4 893.2h0M1056.4 898.7h0M1056.4 894.3h0M1056.4 897.1h0M1056.4 887.0h0M1056.4 893.3h0M1056.4 893.3h0M1056.4 883.6h0M1056.4 911.9h0M983.5 973.4h0M983.5 983.6h0M983.5 966.6h0M983.5 963.8h0M983.5 962.6h0M983.5 964.9h0M983.5 972.0h0M983.5 955.7h0M983.5 964.7h0M983.5 968.2h0M983.5 973.6h0M983.5 964.0h0M983.5 969.7h0M983.5 969.5h0M983.5 965.4h0M983.5 965.3h0M1006.6 948.8h0M1006.6 935.9h0M1006.6 950.0h0M1006.6 950.7h0M1006.6 941.8h0M1006.6 943.0h0M1006.6 943.3h0M1006.6 946.3h0M1006.6 943.5h0M1006.6 947.3h0M1006.6 954.0h0M1006.6 939.2h0M1006.6 950.1h0M1006.6 945.2h0M1006.6 939.2h0M1006.6 943.6h0M1031.1 902.3h0M1031.1 928.1h0M1031.1 924.0h0M1031.1 918.8h0M1031.1 911.0h0M1031.1 920.9h0M1031.1 928.3h0M1031.1 912.3h0M1031.1 925.1h0M1031.1 920.6h0M1031.1 913.9h0M1031.1 923.6h0M1031.1 922.2h0M1031.1 916.4h0M1031.1 920.7h0M1031.1 917.7h0M1047.9 908.6h0M1047.9 903.5h0M1047.9 909.5h0M1047.9 912.4h0M1047.9 891.8h0M1047.9 899.9h0M1047.9 897.0h0M1047.9 908.8h0M1047.9 902.9h0M1047.9 904.0h0M1047.9 911.6h0M1047.9 899.3h0M1047.9 907.2h0M1047.9 904.0h0M1047.9 912.2h0M1047.9 896.6h0M1025.7 920.1h0M1025.7 922.4h0M1025.7 930.5h0M1025.7 928.2h0M1025.7 917.3h0M1025.7 926.6h0M1025.7 923.2h0M1025.7 924.0h0M1025.7 931.8h0M1025.7 915.4h0M1025.7 937.2h0M1025.7 923.5h0M1025.7 925.4h0M1025.7 934.9h0M1025.7 922.8h0M1025.7 921.6h0M1003.3 946.8h0M1003.3 952.3h0M1003.3 944.4h0M1003.3 940.2h0M1003.3 945.8h0M1003.3 936.4h0M1003.3 941.8h0M1003.3 942.4h0M1003.3 938.5h0M1003.3 951.3h0M1003.3 950.4h0M1003.3 944.0h0M1003.3 943.9h0M1003.3 937.8h0M1003.3 940.0h0M1003.3 946.1h0M1023.3 925.9h0M1023.3 928.9h0M1023.3 929.5h0M1023.3 930.0h0M1023.3 921.6h0M1023.3 930.1h0M1023.3 929.4h0M1023.3 926.2h0M1023.3 930.4h0M1023.3 928.6h0M1023.3 940.7h0M1023.3 924.8h0M1023.3 929.0h0M1023.3 925.9h0M1023.3 924.8h0M1023.3 938.6h0M1017.3 918.1h0M1017.3 932.0h0M1017.3 931.8h0M1017.3 944.0h0M1017.3 929.0h0M1017.3 930.2h0M1017.3 935.0h0M1017.3 931.1h0M1017.3 924.6h0M1017.3 934.6h0M1017.3 938.1h0M1017.3 924.2h0M1017.3 930.8h0M1017.3 933.5h0M1017.3 918.1h0M1017.3 931.4h0M1013.7 937.0h0M1013.7 934.3h0M1013.7 938.4h0M1013.7 934.6h0M1013.7 935.0h0M1013.7 940.0h0M1013.7 937.6h0M1013.7 934.0h0M1013.7 933.6h0M1013.7 932.4h0M1013.7 931.1h0M1013.7 934.4h0M1013.7 932.8h0M1013.7 938.4h0M1013.7 937.6h0M1013.7 929.6h0M1003.5 958.5h0M1003.5 943.9h0M1003.5 926.6h0M1003.5 957.8h0M1003.5 936.9h0M1003.5 957.2h0M1003.5 944.1h0M1003.5 936.3h0M1003.5 937.2h0M1003.5 952.1h0M1003.5 954.6h0M1003.5 955.4h0M1003.5 942.1h0M1003.5 949.0h0M1003.5 946.5h0M1003.5 945.0h0M1025.0 922.6h0M1025.0 921.9h0M1025.0 924.4h0M1025.0 935.2h0M1025.0 916.2h0M1025.0 942.3h0M1025.0 917.6h0M1025.0 929.0h0M1025.0 926.5h0M1025.0 928.5h0M1025.0 927.6h0M1025.0 925.4h0M1025.0 927.0h0M1025.0 932.1h0M1025.0 920.0h0M1025.0 928.9h0M1023.5 918.5h0M1023.5 927.8h0M1023.5 931.2h0M1023.5 924.1h0M1023.5 921.3h0M1023.5 932.6h0M1023.5 928.6h0M1023.5 918.0h0M1023.5 933.0h0M1023.5 932.1h0M1023.5 925.8h0M1023.5 934.4h0M1023.5 942.2h0M1023.5 937.2h0M1023.5 924.5h0M1023.5 922.8h0M1015.8 930.8h0M1015.8 932.1h0M1015.8 942.2h0M1015.8 930.3h0M1015.8 927.3h0M1015.8 938.8h0M1015.8 928.6h0M1015.8 936.8h0M1015.8 933.3h0M1015.8 932.2h0M1015.8 943.7h0M1015.8 925.4h0M1015.8 939.8h0M1015.8 935.1h0M1015.8 937.5h0M1015.8 931.6h0M1013.4 934.2h0M1013.4 936.8h0M1013.4 928.1h0M1013.4 935.2h0M1013.4 939.4h0M1013.4 954.8h0M1013.4 938.7h0M1013.4 938.7h0M1013.4 942.3h0M1013.4 942.3h0M1013.4 933.2h0M1013.4 930.4h0M1013.4 925.1h0M1013.4 929.8h0M1013.4 941.3h0M1013.4 935.3h0M993.0 965.7h0M993.0 952.7h0M993.0 955.0h0M993.0 961.0h0M993.0 957.9h0M993.0 958.8h0M993.0 961.2h0M993.0 949.0h0M993.0 937.9h0M993.0 952.1h0M993.0 950.6h0M993.0 956.2h0M993.0 959.4h0M993.0 943.6h0M993.0 959.5h0M993.0 954.8h0M1008.3 942.7h0M1008.3 938.3h0M1008.3 942.3h0M1008.3 938.3h0M1008.3 949.8h0M1008.3 942.6h0M1008.3 933.4h0M1008.3 948.4h0M1008.3 946.1h0M1008.3 933.4h0M1008.3 939.4h0M1008.3 935.3h0M1008.3 955.9h0M1008.3 941.1h0M1008.3 949.9h0M1008.3 950.6h0M1040.7 907.1h0M1040.7 902.3h0M1040.7 919.0h0M1040.7 916.5h0M1040.7 913.3h0M1040.7 910.4h0M1040.7 917.9h0M1040.7 895.6h0M1040.7 906.0h0M1040.7 911.9h0M1040.7 912.9h0M1040.7 895.2h0M1040.7 895.7h0M1040.7 912.7h0M1040.7 907.5h0M1040.7 901.8h0M1014.0 943.8h0M1014.0 940.0h0M1014.0 928.0h0M1014.0 940.7h0M1014.0 939.1h0M1014.0 944.8h0M1014.0 941.2h0M1014.0 932.1h0M1014.0 941.6h0M1014.0 944.6h0M1014.0 940.4h0M1014.0 925.4h0M1014.0 935.3h0M1014.0 940.0h0M1014.0 935.5h0M1014.0 933.7h0M990.0 959.6h0M990.0 971.6h0M990.0 958.5h0M990.0 961.7h0M990.0 955.1h0M990.0 968.8h0M990.0 953.8h0M990.0 963.5h0M990.0 971.1h0M990.0 952.1h0M990.0 963.6h0M990.0 958.1h0M990.0 961.4h0M990.0 953.6h0M990.0 953.5h0M990.0 953.4h0M1043.2 903.0h0M1043.2 917.6h0M1043.2 918.0h0M1043.2 906.2h0M1043.2 913.4h0M1043.2 904.5h0M1043.2 906.4h0M1043.2 916.3h0M1043.2 914.0h0M1043.2 914.6h0M1043.2 913.0h0M1043.2 908.8h0M1043.2 903.2h0M1043.2 899.1h0M1043.2 913.6h0M1043.2 911.0h0M1027.8 913.1h0M1027.8 917.2h0M1027.8 921.4h0M1027.8 937.6h0M1027.8 929.2h0M1027.8 921.8h0M1027.8 926.5h0M1027.8 910.3h0M1027.8 922.3h0M1027.8 921.1h0M1027.8 929.7h0M1027.8 929.4h0M1027.8 927.0h0M1027.8 926.8h0M1027.8 924.3h0M1027.8 920.5h0M1058.0 891.2h0M1058.0 886.4h0M1058.0 901.2h0M1058.0 891.4h0M1058.0 891.2h0M1058.0 882.7h0M1058.0 894.1h0M1058.0 890.7h0M1058.0 897.8h0M1058.0 890.0h0M1058.0 890.2h0M1058.0 896.7h0M1058.0 895.5h0M1058.0 892.9h0M1058.0 889.1h0M1058.0 899.9h0M1018.8 926.2h0M1018.8 933.9h0M1018.8 919.8h0M1018.8 922.6h0M1018.8 934.3h0M1018.8 935.7h0M1018.8 916.3h0M1018.8 927.8h0M1018.8 928.2h0M1018.8 934.4h0M1018.8 932.6h0M1018.8 926.7h0M1018.8 927.9h0M1018.8 937.0h0M1018.8 923.9h0M1018.8 929.8h0M1008.8 947.8h0M1008.8 935.5h0M1008.8 942.9h0M1008.8 936.8h0M1008.8 945.3h0M1008.8 939.5h0M1008.8 952.0h0M1008.8 939.4h0M1008.8 951.3h0M1008.8 940.7h0M1008.8 957.7h0M1008.8 942.2h0M1008.8 937.2h0M1008.8 938.7h0M1008.8 934.3h0M1008.8 948.5h0M989.9 950.8h0M989.9 950.5h0M989.9 968.1h0M989.9 965.6h0M989.9 964.2h0M989.9 960.8h0M989.9 959.4h0M989.9 976.1h0M989.9 956.9h0M989.9 962.2h0M989.9 967.0h0M989.9 954.6h0M989.9 962.8h0M989.9 953.5h0M989.9 957.3h0M989.9 962.6h0M1043.0 900.3h0M1043.0 902.6h0M1043.0 910.9h0M1043.0 917.8h0M1043.0 911.1h0M1043.0 903.8h0M1043.0 909.2h0M1043.0 896.6h0M1043.0 906.1h0M1043.0 906.5h0M1043.0 905.2h0M1043.0 913.2h0M1043.0 908.5h0M1043.0 911.8h0M1043.0 922.4h0M1043.0 918.8h0M1066.9 879.3h0M1066.9 886.7h0M1066.9 884.7h0M1066.9 893.2h0M1066.9 887.6h0M1066.9 879.0h0M1066.9 883.3h0M1066.9 887.2h0M1066.9 874.3h0M1066.9 884.3h0M1066.9 886.1h0M1066.9 876.7h0M1066.9 894.8h0M1066.9 880.4h0M1066.9 890.9h0M1066.9 888.8h0M1001.9 952.9h0M1001.9 947.8h0M1001.9 948.0h0M1001.9 946.8h0M1001.9 947.4h0M1001.9 939.9h0M1001.9 938.1h0M1001.9 944.2h0M1001.9 943.9h0M1001.9 951.0h0M1001.9 955.6h0M1001.9 944.9h0M1001.9 948.4h0M1001.9 943.3h0M1001.9 960.1h0M1001.9 931.9h0M1005.2 953.3h0M1005.2 945.1h0M1005.2 939.1h0M1005.2 954.0h0M1005.2 948.8h0M1005.2 958.0h0M1005.2 954.3h0M1005.2 957.5h0M1005.2 944.7h0M1005.2 943.5h0M1005.2 947.3h0M1005.2 937.4h0M1005.2 936.6h0M1005.2 945.4h0M1005.2 946.7h0M1005.2 947.0h0M1029.0 924.4h0M1029.0 913.4h0M1029.0 920.1h0M1029.0 923.6h0M1029.0 923.0h0M1029.0 918.1h0M1029.0 924.1h0M1029.0 919.6h0M1029.0 921.8h0M1029.0 913.1h0M1029.0 914.3h0M1029.0 930.4h0M1029.0 922.6h0M1029.0 917.1h0M1029.0 924.4h0M1029.0 916.5h0M1001.7 946.7h0M1001.7 945.1h0M1001.7 949.2h0M1001.7 946.9h0M1001.7 945.5h0M1001.7 958.0h0M1001.7 954.5h0M1001.7 955.2h0M1001.7 938.2h0M1001.7 946.9h0M1001.7 946.5h0M1001.7 947.7h0M1001.7 952.0h0M1001.7 953.5h0M1001.7 943.5h0M1001.7 951.1h0M1012.4 928.2h0M1012.4 936.9h0M1012.4 937.5h0M1012.4 939.5h0M1012.4 938.5h0M1012.4 937.9h0M1012.4 928.6h0M1012.4 923.5h0M1012.4 945.3h0M1012.4 936.5h0M1012.4 933.6h0M1012.4 943.7h0M1012.4 942.0h0M1012.4 940.9h0M1012.4 953.1h0M1012.4 934.0h0M1010.9 939.9h0M1010.9 940.2h0M1010.9 939.1h0M1010.9 938.0h0M1010.9 925.1h0M1010.9 938.4h0M1010.9 934.4h0M1010.9 942.8h0M1010.9 937.4h0M1010.9 941.5h0M1010.9 940.5h0M1010.9 945.2h0M1010.9 944.7h0M1010.9 936.7h0M1010.9 934.9h0M1010.9 936.7h0M1021.3 933.4h0M1021.3 927.2h0M1021.3 945.0h0M1021.3 923.3h0M1021.3 929.4h0M1021.3 927.5h0M1021.3 921.9h0M1021.3 931.8h0M1021.3 923.2h0M1021.3 931.9h0M1021.3 925.8h0M1021.3 931.7h0M1021.3 927.3h0M1021.3 920.1h0M1021.3 933.2h0M1021.3 933.0h0M1038.6 913.9h0M1038.6 910.0h0M1038.6 894.7h0M1038.6 915.5h0M1038.6 924.6h0M1038.6 916.0h0M1038.6 921.8h0M1038.6 915.4h0M1038.6 911.8h0M1038.6 917.8h0M1038.6 916.1h0M1038.6 923.5h0M1038.6 910.7h0M1038.6 916.5h0M1038.6 905.1h0M1038.6 905.3h0M1018.0 937.8h0M1018.0 934.6h0M1018.0 932.0h0M1018.0 927.6h0M1018.0 942.8h0M1018.0 932.8h0M1018.0 920.7h0M1018.0 932.9h0M1018.0 930.9h0M1018.0 932.3h0M1018.0 939.7h0M1018.0 926.4h0M1018.0 930.6h0M1018.0 931.3h0M1018.0 927.7h0M1018.0 927.4h0M1035.2 927.0h0M1035.2 912.1h0M1035.2 918.8h0M1035.2 914.1h0M1035.2 919.6h0M1035.2 920.5h0M1035.2 909.2h0M1035.2 915.2h0M1035.2 916.9h0M1035.2 916.9h0M1035.2 914.6h0M1035.2 915.2h0M1035.2 929.8h0M1035.2 920.5h0M1035.2 916.5h0M1035.2 910.4h0M1009.6 932.1h0M1009.6 946.4h0M1009.6 928.5h0M1009.6 940.0h0M1009.6 937.5h0M1009.6 943.9h0M1009.6 944.3h0M1009.6 931.6h0M1009.6 941.9h0M1009.6 941.2h0M1009.6 933.3h0M1009.6 929.8h0M1009.6 949.8h0M1009.6 941.7h0M1009.6 940.5h0M1009.6 929.2h0M1023.9 910.8h0M1023.9 926.5h0M1023.9 923.8h0M1023.9 920.8h0M1023.9 919.0h0M1023.9 928.1h0M1023.9 920.8h0M1023.9 930.5h0M1023.9 942.8h0M1023.9 934.7h0M1023.9 924.7h0M1023.9 921.2h0M1023.9 940.2h0M1023.9 937.3h0M1023.9 926.2h0M1023.9 947.1h0M977.7 968.6h0M977.7 965.6h0M977.7 990.6h0M977.7 967.2h0M977.7 973.2h0M977.7 963.2h0M977.7 970.2h0M977.7 973.5h0M977.7 971.2h0M977.7 966.1h0M977.7 970.8h0M977.7 971.7h0M977.7 980.9h0M977.7 968.9h0M977.7 971.7h0M977.7 960.4h0M989.8 959.9h0M989.8 960.3h0M989.8 963.7h0M989.8 955.3h0M989.8 961.0h0M989.8 964.2h0M989.8 949.8h0M989.8 948.6h0M989.8 962.6h0M989.8 966.1h0M989.8 952.7h0M989.8 964.9h0M989.8 942.1h0M989.8 960.6h0M989.8 953.7h0M989.8 967.8h0M1032.9 917.0h0M1032.9 910.0h0M1032.9 914.1h0M1032.9 920.2h0M1032.9 901.5h0M1032.9 912.2h0M1032.9 918.2h0M1032.9 920.6h0M1032.9 918.5h0M1032.9 908.4h0M1032.9 921.6h0M1032.9 916.6h0M1032.9 921.9h0M1032.9 908.9h0M1032.9 917.8h0M1032.9 911.4h0M1006.3 939.7h0M1006.3 946.9h0M1006.3 938.9h0M1006.3 937.4h0M1006.3 950.4h0M1006.3 938.9h0M1006.3 921.0h0M1006.3 945.1h0M1006.3 939.3h0M1006.3 951.6h0M1006.3 940.4h0M1006.3 946.9h0M1006.3 938.4h0M1006.3 943.6h0M1006.3 950.6h0M1006.3 936.4h0M1028.7 922.3h0M1028.7 927.3h0M1028.7 920.5h0M1028.7 927.0h0M1028.7 918.4h0M1028.7 921.3h0M1028.7 923.2h0M1028.7 916.7h0M1028.7 928.9h0M1028.7 914.8h0M1028.7 933.5h0M1028.7 910.8h0M1028.7 919.8h0M1028.7 922.6h0M1028.7 925.5h0M1028.7 917.5h0M1028.0 922.6h0M1028.0 922.7h0M1028.0 915.1h0M1028.0 924.3h0M1028.0 923.1h0M1028.0 918.9h0M1028.0 914.9h0M1028.0 922.6h0M1028.0 920.6h0M1028.0 921.3h0M1028.0 916.9h0M1028.0 912.2h0M1028.0 927.5h0M1028.0 922.5h0M1028.0 921.9h0M1028.0 917.9h0M1042.9 897.3h0M1042.9 906.8h0M1042.9 905.4h0M1042.9 899.6h0M1042.9 914.5h0M1042.9 911.6h0M1042.9 909.6h0M1042.9 906.8h0M1042.9 905.3h0M1042.9 910.0h0M1042.9 895.7h0M1042.9 911.2h0M1042.9 908.0h0M1042.9 899.9h0M1042.9 901.9h0M1042.9 906.8h0M1033.2 914.1h0M1033.2 911.3h0M1033.2 916.6h0M1033.2 912.4h0M1033.2 922.3h0M1033.2 916.1h0M1033.2 926.9h0M1033.2 922.2h0M1033.2 923.7h0M1033.2 908.7h0M1033.2 919.5h0M1033.2 914.7h0M1033.2 922.4h0M1033.2 917.8h0M1033.2 918.3h0M1033.2 922.0h0M1037.1 907.3h0M1037.1 923.2h0M1037.1 908.7h0M1037.1 895.9h0M1037.1 917.9h0M1037.1 912.5h0M1037.1 922.6h0M1037.1 912.9h0M1037.1 923.7h0M1037.1 908.8h0M1037.1 915.9h0M1037.1 924.5h0M1037.1 921.0h0M1037.1 922.9h0M1037.1 914.7h0M1037.1 907.5h0M1015.5 937.0h0M1015.5 942.0h0M1015.5 939.8h0M1015.5 933.8h0M1015.5 950.0h0M1015.5 930.9h0M1015.5 932.0h0M1015.5 950.2h0M1015.5 927.2h0M1015.5 945.0h0M1015.5 936.1h0M1015.5 927.2h0M1015.5 945.1h0M1015.5 946.5h0M1015.5 941.9h0M1015.5 941.6h0M1004.2 946.9h0M1004.2 949.3h0M1004.2 949.2h0M1004.2 949.1h0M1004.2 947.2h0M1004.2 951.5h0M1004.2 944.0h0M1004.2 946.1h0M1004.2 952.5h0M1004.2 934.5h0M1004.2 954.1h0M1004.2 941.4h0M1004.2 950.8h0M1004.2 943.7h0M1004.2 942.7h0M1004.2 940.5h0M1003.6 937.6h0M1003.6 952.0h0M1003.6 928.4h0M1003.6 944.0h0M1003.6 951.7h0M1003.6 955.2h0M1003.6 931.6h0M1003.6 936.1h0M1003.6 946.6h0M1003.6 941.7h0M1003.6 938.1h0M1003.6 945.9h0M1003.6 949.2h0M1003.6 946.7h0M1003.6 941.1h0M1003.6 946.3h0M1008.3 949.6h0M1008.3 937.0h0M1008.3 952.8h0M1008.3 946.6h0M1008.3 933.9h0M1008.3 940.3h0M1008.3 940.3h0M1008.3 941.1h0M1008.3 935.2h0M1008.3 942.1h0M1008.3 954.2h0M1008.3 940.2h0M1008.3 961.3h0M1008.3 954.8h0M1008.3 931.7h0M1008.3 935.2h0M996.0 957.0h0M996.0 954.5h0M996.0 953.5h0M996.0 947.7h0M996.0 959.0h0M996.0 959.7h0M996.0 958.1h0M996.0 953.2h0M996.0 952.4h0M996.0 956.6h0M996.0 949.2h0M996.0 960.6h0M996.0 954.6h0M996.0 958.5h0M996.0 960.5h0M996.0 946.3h0M1007.1 945.0h0M1007.1 949.4h0M1007.1 942.7h0M1007.1 949.3h0M1007.1 939.2h0M1007.1 937.5h0M1007.1 936.4h0M1007.1 949.7h0M1007.1 943.9h0M1007.1 931.2h0M1007.1 944.3h0M1007.1 934.9h0M1007.1 933.2h0M1007.1 951.7h0M1007.1 935.2h0M1007.1 938.1h0M1015.8 928.7h0M1015.8 923.5h0M1015.8 931.3h0M1015.8 933.7h0M1015.8 930.4h0M1015.8 936.4h0M1015.8 931.1h0M1015.8 947.0h0M1015.8 923.2h0M1015.8 937.6h0M1015.8 930.8h0M1015.8 932.3h0M1015.8 933.6h0M1015.8 933.5h0M1015.8 933.8h0M1015.8 944.7h0M1022.4 931.2h0M1022.4 920.1h0M1022.4 934.2h0M1022.4 934.4h0M1022.4 914.2h0M1022.4 920.0h0M1022.4 917.7h0M1022.4 927.8h0M1022.4 926.0h0M1022.4 922.8h0M1022.4 924.1h0M1022.4 928.3h0M1022.4 937.0h0M1022.4 932.4h0M1022.4 937.3h0M1022.4 917.7h0M1011.1 941.6h0M1011.1 940.2h0M1011.1 937.2h0M1011.1 938.9h0M1011.1 935.7h0M1011.1 943.0h0M1011.1 948.7h0M1011.1 928.0h0M1011.1 943.6h0M1011.1 942.1h0M1011.1 944.2h0M1011.1 942.6h0M1011.1 939.0h0M1011.1 934.4h0M1011.1 945.8h0M1011.1 937.3h0M980.7 973.7h0M980.7 961.8h0M980.7 977.2h0M980.7 968.8h0M980.7 964.9h0M980.7 978.1h0M980.7 968.8h0M980.7 968.5h0M980.7 974.5h0M980.7 970.9h0M980.7 963.2h0M980.7 967.9h0M980.7 972.1h0M980.7 970.8h0M980.7 966.7h0M980.7 961.5h0M1016.2 929.1h0M1016.2 929.6h0M1016.2 924.3h0M1016.2 943.9h0M1016.2 943.2h0M1016.2 948.5h0M1016.2 929.0h0M1016.2 948.6h0M1016.2 934.5h0M1016.2 929.5h0M1016.2 943.0h0M1016.2 938.4h0M1016.2 935.9h0M1016.2 929.7h0M1016.2 943.8h0M1016.2 932.2h0M1021.9 924.2h0M1021.9 927.7h0M1021.9 927.6h0M1021.9 920.7h0M1021.9 927.2h0M1021.9 928.7h0M1021.9 930.7h0M1021.9 924.5h0M1021.9 930.4h0M1021.9 924.5h0M1021.9 928.0h0M1021.9 921.5h0M1021.9 933.6h0M1021.9 928.1h0M1021.9 926.4h0M1021.9 926.0h0M1038.4 905.1h0M1038.4 909.7h0M1038.4 906.5h0M1038.4 899.9h0M1038.4 906.9h0M1038.4 918.8h0M1038.4 921.1h0M1038.4 908.0h0M1038.4 914.6h0M1038.4 910.4h0M1038.4 913.3h0M1038.4 904.0h0M1038.4 904.7h0M1038.4 919.2h0M1038.4 910.5h0M1038.4 914.1h0M1028.7 930.1h0M1028.7 917.8h0M1028.7 922.8h0M1028.7 919.1h0M1028.7 906.4h0M1028.7 913.6h0M1028.7 915.0h0M1028.7 924.4h0M1028.7 929.3h0M1028.7 914.1h0M1028.7 923.8h0M1028.7 921.6h0M1028.7 924.2h0M1028.7 921.3h0M1028.7 906.9h0M1028.7 923.9h0M1005.3 947.0h0M1005.3 944.0h0M1005.3 943.5h0M1005.3 952.7h0M1005.3 956.3h0M1005.3 948.9h0M1005.3 946.6h0M1005.3 950.2h0M1005.3 951.5h0M1005.3 951.1h0M1005.3 947.8h0M1005.3 946.1h0M1005.3 955.5h0M1005.3 948.8h0M1005.3 943.1h0M1005.3 946.1h0M1003.7 955.4h0M1003.7 949.1h0M1003.7 947.0h0M1003.7 942.1h0M1003.7 957.0h0M1003.7 942.7h0M1003.7 949.8h0M1003.7 945.7h0M1003.7 942.7h0M1003.7 952.4h0M1003.7 952.0h0M1003.7 947.7h0M1003.7 942.4h0M1003.7 950.3h0M1003.7 955.8h0M1003.7 951.3h0M1056.1 892.4h0M1056.1 887.6h0M1056.1 897.9h0M1056.1 896.8h0M1056.1 895.9h0M1056.1 895.6h0M1056.1 900.7h0M1056.1 897.5h0M1056.1 893.5h0M1056.1 894.2h0M1056.1 894.7h0M1056.1 901.1h0M1056.1 898.2h0M1056.1 899.2h0M1056.1 888.3h0M1056.1 885.8h0M1032.1 916.6h0M1032.1 908.9h0M1032.1 920.6h0M1032.1 920.5h0M1032.1 926.8h0M1032.1 917.3h0M1032.1 921.6h0M1032.1 918.2h0M1032.1 915.7h0M1032.1 920.2h0M1032.1 925.7h0M1032.1 919.0h0M1032.1 919.2h0M1032.1 918.6h0M1032.1 914.6h0M1032.1 920.0h0M1052.7 899.8h0M1052.7 887.5h0M1052.7 891.5h0M1052.7 898.7h0M1052.7 903.9h0M1052.7 900.9h0M1052.7 895.8h0M1052.7 892.9h0M1052.7 883.3h0M1052.7 899.6h0M1052.7 897.2h0M1052.7 900.3h0M1052.7 897.6h0M1052.7 900.4h0M1052.7 904.6h0M1052.7 891.8h0M1058.4 891.6h0M1058.4 884.4h0M1058.4 895.4h0M1058.4 890.7h0M1058.4 888.3h0M1058.4 903.9h0M1058.4 900.4h0M1058.4 887.7h0M1058.4 891.7h0M1058.4 903.6h0M1058.4 896.8h0M1058.4 898.7h0M1058.4 895.2h0M1058.4 882.7h0M1058.4 895.8h0M1058.4 879.8h0M1001.9 950.1h0M1001.9 953.0h0M1001.9 938.9h0M1001.9 942.7h0M1001.9 940.0h0M1001.9 936.5h0M1001.9 941.9h0M1001.9 940.9h0M1001.9 959.0h0M1001.9 953.5h0M1001.9 945.7h0M1001.9 947.1h0M1001.9 944.0h0M1001.9 951.3h0M1001.9 941.5h0M1001.9 935.9h0M1025.0 921.8h0M1025.0 920.2h0M1025.0 922.2h0M1025.0 919.6h0M1025.0 924.0h0M1025.0 928.4h0M1025.0 924.1h0M1025.0 924.6h0M1025.0 934.7h0M1025.0 923.9h0M1025.0 925.1h0M1025.0 924.0h0M1025.0 928.7h0M1025.0 922.3h0M1025.0 921.4h0M1025.0 929.6h0M1026.4 921.9h0M1026.4 919.1h0M1026.4 919.3h0M1026.4 929.6h0M1026.4 930.2h0M1026.4 923.8h0M1026.4 930.4h0M1026.4 908.6h0M1026.4 929.0h0M1026.4 928.9h0M1026.4 920.1h0M1026.4 927.0h0M1026.4 938.5h0M1026.4 925.0h0M1026.4 930.2h0M1026.4 927.4h0M1028.3 932.2h0M1028.3 927.9h0M1028.3 923.3h0M1028.3 922.8h0M1028.3 929.2h0M1028.3 926.8h0M1028.3 927.7h0M1028.3 921.6h0M1028.3 923.4h0M1028.3 930.2h0M1028.3 918.6h0M1028.3 926.8h0M1028.3 920.2h0M1028.3 928.2h0M1028.3 920.7h0M1028.3 923.3h0M1028.0 922.6h0M1028.0 919.8h0M1028.0 920.2h0M1028.0 921.9h0M1028.0 921.9h0M1028.0 930.8h0M1028.0 923.4h0M1028.0 936.4h0M1028.0 936.7h0M1028.0 924.9h0M1028.0 924.3h0M1028.0 913.8h0M1028.0 918.9h0M1028.0 916.1h0M1028.0 924.8h0M1028.0 920.2h0M1021.5 922.3h0M1021.5 926.2h0M1021.5 927.2h0M1021.5 928.7h0M1021.5 935.0h0M1021.5 934.8h0M1021.5 938.1h0M1021.5 926.8h0M1021.5 931.0h0M1021.5 933.5h0M1021.5 927.1h0M1021.5 932.8h0M1021.5 922.9h0M1021.5 917.6h0M1021.5 926.5h0M1021.5 933.5h0M1020.9 939.0h0M1020.9 917.4h0M1020.9 927.0h0M1020.9 937.0h0M1020.9 923.2h0M1020.9 940.0h0M1020.9 932.5h0M1020.9 931.2h0M1020.9 932.0h0M1020.9 936.8h0M1020.9 915.0h0M1020.9 932.2h0M1020.9 927.4h0M1020.9 929.5h0M1020.9 939.6h0M1020.9 933.1h0M988.8 960.5h0M988.8 956.0h0M988.8 963.9h0M988.8 959.5h0M988.8 963.8h0M988.8 958.1h0M988.8 977.0h0M988.8 958.0h0M988.8 965.6h0M988.8 965.3h0M988.8 979.3h0M988.8 968.3h0M988.8 958.0h0M988.8 947.5h0M988.8 966.1h0M988.8 965.8h0M1014.4 933.2h0M1014.4 934.4h0M1014.4 939.8h0M1014.4 937.2h0M1014.4 938.5h0M1014.4 932.3h0M1014.4 931.3h0M1014.4 925.3h0M1014.4 930.5h0M1014.4 932.0h0M1014.4 935.2h0M1014.4 930.4h0M1014.4 942.2h0M1014.4 922.8h0M1014.4 934.4h0M1014.4 927.4h0M1003.3 952.2h0M1003.3 940.9h0M1003.3 944.8h0M1003.3 948.4h0M1003.3 951.4h0M1003.3 952.7h0M1003.3 936.1h0M1003.3 939.7h0M1003.3 946.5h0M1003.3 946.0h0M1003.3 951.7h0M1003.3 958.6h0M1003.3 958.3h0M1003.3 951.0h0M1003.3 948.2h0M1003.3 954.5h0M1020.0 925.6h0M1020.0 927.3h0M1020.0 929.5h0M1020.0 941.4h0M1020.0 931.9h0M1020.0 930.7h0M1020.0 938.4h0M1020.0 944.1h0M1020.0 918.7h0M1020.0 926.7h0M1020.0 932.9h0M1020.0 920.6h0M1020.0 923.6h0M1020.0 927.8h0M1020.0 929.1h0M1020.0 925.7h0M1008.6 932.8h0M1008.6 941.4h0M1008.6 943.3h0M1008.6 938.3h0M1008.6 959.4h0M1008.6 941.3h0M1008.6 944.4h0M1008.6 942.0h0M1008.6 943.0h0M1008.6 939.8h0M1008.6 941.2h0M1008.6 941.5h0M1008.6 942.7h0M1008.6 939.1h0M1008.6 945.0h0M1008.6 935.8h0M1029.5 931.6h0M1029.5 919.9h0M1029.5 918.3h0M1029.5 929.0h0M1029.5 923.8h0M1029.5 912.9h0M1029.5 922.0h0M1029.5 926.6h0M1029.5 939.7h0M1029.5 919.0h0M1029.5 920.5h0M1029.5 917.3h0M1029.5 908.4h0M1029.5 921.2h0M1029.5 920.3h0M1029.5 925.4h0M1033.3 917.7h0M1033.3 917.5h0M1033.3 912.6h0M1033.3 913.9h0M1033.3 922.1h0M1033.3 920.3h0M1033.3 908.7h0M1033.3 923.3h0M1033.3 912.7h0M1033.3 907.2h0M1033.3 913.2h0M1033.3 915.7h0M1033.3 908.8h0M1033.3 915.1h0M1033.3 917.4h0M1033.3 918.6h0M1023.5 919.9h0M1023.5 922.7h0M1023.5 917.4h0M1023.5 929.1h0M1023.5 929.0h0M1023.5 929.8h0M1023.5 925.3h0M1023.5 931.4h0M1023.5 921.3h0M1023.5 924.9h0M1023.5 933.2h0M1023.5 945.5h0M1023.5 938.4h0M1023.5 918.1h0M1023.5 927.4h0M1023.5 926.1h0M1023.7 929.6h0M1023.7 924.5h0M1023.7 938.9h0M1023.7 939.4h0M1023.7 937.1h0M1023.7 926.5h0M1023.7 922.5h0M1023.7 924.0h0M1023.7 927.7h0M1023.7 934.9h0M1023.7 922.0h0M1023.7 928.7h0M1023.7 927.1h0M1023.7 927.4h0M1023.7 929.8h0M1023.7 931.4h0M1019.4 934.9h0M1019.4 939.2h0M1019.4 929.6h0M1019.4 932.3h0M1019.4 924.9h0M1019.4 942.5h0M1019.4 923.9h0M1019.4 931.6h0M1019.4 932.2h0M1019.4 936.2h0M1019.4 936.3h0M1019.4 940.5h0M1019.4 925.6h0M1019.4 932.5h0M1019.4 926.7h0M1019.4 926.0h0M1009.0 944.6h0M1009.0 943.0h0M1009.0 943.7h0M1009.0 935.1h0M1009.0 940.7h0M1009.0 940.5h0M1009.0 937.0h0M1009.0 942.0h0M1009.0 928.8h0M1009.0 947.3h0M1009.0 933.7h0M1009.0 932.8h0M1009.0 948.6h0M1009.0 936.1h0M1009.0 939.8h0M1009.0 936.1h0M1014.5 943.6h0M1014.5 934.6h0M1014.5 942.2h0M1014.5 938.2h0M1014.5 927.3h0M1014.5 936.9h0M1014.5 950.1h0M1014.5 944.8h0M1014.5 943.2h0M1014.5 929.8h0M1014.5 940.4h0M1014.5 945.8h0M1014.5 929.1h0M1014.5 934.5h0M1014.5 934.0h0M1014.5 941.1h0M1008.1 933.5h0M1008.1 943.2h0M1008.1 954.7h0M1008.1 949.5h0M1008.1 947.7h0M1008.1 943.4h0M1008.1 937.7h0M1008.1 946.9h0M1008.1 946.1h0M1008.1 928.7h0M1008.1 941.9h0M1008.1 945.7h0M1008.1 942.2h0M1008.1 950.2h0M1008.1 939.1h0M1008.1 936.4h0M1025.0 929.2h0M1025.0 919.3h0M1025.0 927.3h0M1025.0 923.7h0M1025.0 930.1h0M1025.0 930.5h0M1025.0 934.9h0M1025.0 924.2h0M1025.0 927.3h0M1025.0 927.1h0M1025.0 932.6h0M1025.0 932.8h0M1025.0 929.5h0M1025.0 922.6h0M1025.0 923.7h0M1025.0 929.8h0M1017.9 930.8h0M1017.9 921.7h0M1017.9 932.0h0M1017.9 920.1h0M1017.9 930.0h0M1017.9 924.4h0M1017.9 936.0h0M1017.9 925.4h0M1017.9 940.0h0M1017.9 931.2h0M1017.9 934.8h0M1017.9 945.1h0M1017.9 941.2h0M1017.9 925.6h0M1017.9 929.6h0M1017.9 924.6h0M1028.7 920.6h0M1028.7 939.9h0M1028.7 920.3h0M1028.7 925.4h0M1028.7 925.0h0M1028.7 924.7h0M1028.7 926.6h0M1028.7 927.8h0M1028.7 914.1h0M1028.7 919.1h0M1028.7 925.9h0M1028.7 924.5h0M1028.7 915.8h0M1028.7 919.5h0M1028.7 920.7h0M1028.7 929.5h0M992.1 961.1h0M992.1 965.4h0M992.1 970.3h0M992.1 952.8h0M992.1 960.4h0M992.1 960.9h0M992.1 964.3h0M992.1 953.7h0M992.1 945.3h0M992.1 954.7h0M992.1 952.6h0M992.1 966.1h0M992.1 957.3h0M992.1 957.0h0M992.1 949.1h0M992.1 958.3h0M1034.6 921.9h0M1034.6 916.5h0M1034.6 918.7h0M1034.6 907.0h0M1034.6 911.9h0M1034.6 913.9h0M1034.6 914.9h0M1034.6 910.8h0M1034.6 919.1h0M1034.6 921.8h0M1034.6 927.8h0M1034.6 908.7h0M1034.6 912.9h0M1034.6 912.1h0M1034.6 915.8h0M1034.6 905.7h0M1003.0 953.7h0M1003.0 940.1h0M1003.0 952.8h0M1003.0 950.4h0M1003.0 955.2h0M1003.0 947.0h0M1003.0 949.4h0M1003.0 944.9h0M1003.0 951.3h0M1003.0 956.3h0M1003.0 944.1h0M1003.0 939.6h0M1003.0 943.1h0M1003.0 948.0h0M1003.0 945.1h0M1003.0 958.2h0M1003.5 949.2h0M1003.5 939.9h0M1003.5 944.2h0M1003.5 952.4h0M1003.5 941.8h0M1003.5 947.9h0M1003.5 942.6h0M1003.5 955.9h0M1003.5 950.4h0M1003.5 945.1h0M1003.5 945.2h0M1003.5 943.7h0M1003.5 947.2h0M1003.5 948.3h0M1003.5 944.2h0M1003.5 941.7h0M1013.8 946.3h0M1013.8 938.9h0M1013.8 938.1h0M1013.8 935.9h0M1013.8 930.6h0M1013.8 945.1h0M1013.8 933.5h0M1013.8 947.6h0M1013.8 941.5h0M1013.8 940.1h0M1013.8 938.5h0M1013.8 940.7h0M1013.8 940.0h0M1013.8 939.0h0M1013.8 938.5h0M1013.8 948.3h0M1006.8 952.5h0M1006.8 946.6h0M1006.8 940.6h0M1006.8 937.6h0M1006.8 926.2h0M1006.8 943.2h0M1006.8 948.7h0M1006.8 942.7h0M1006.8 939.6h0M1006.8 943.0h0M1006.8 950.4h0M1006.8 944.5h0M1006.8 944.1h0M1006.8 952.6h0M1006.8 951.3h0M1006.8 936.4h0M1023.2 941.3h0M1023.2 926.5h0M1023.2 929.1h0M1023.2 918.9h0M1023.2 923.7h0M1023.2 932.9h0M1023.2 919.7h0M1023.2 931.0h0M1023.2 915.2h0M1023.2 917.3h0M1023.2 928.0h0M1023.2 922.7h0M1023.2 926.4h0M1023.2 933.1h0M1023.2 920.9h0M1023.2 924.9h0M1006.6 938.8h0M1006.6 937.4h0M1006.6 935.3h0M1006.6 937.6h0M1006.6 944.5h0M1006.6 943.4h0M1006.6 941.4h0M1006.6 944.7h0M1006.6 945.4h0M1006.6 932.5h0M1006.6 940.9h0M1006.6 932.3h0M1006.6 948.7h0M1006.6 944.2h0M1006.6 946.6h0M1006.6 946.4h0M997.1 955.2h0M997.1 954.2h0M997.1 956.1h0M997.1 942.3h0M997.1 949.2h0M997.1 958.0h0M997.1 956.8h0M997.1 948.8h0M997.1 950.0h0M997.1 957.1h0M997.1 947.7h0M997.1 962.2h0M997.1 956.3h0M997.1 942.7h0M997.1 969.4h0M997.1 954.6h0M1001.4 943.0h0M1001.4 950.0h0M1001.4 953.9h0M1001.4 954.6h0M1001.4 961.9h0M1001.4 957.3h0M1001.4 948.7h0M1001.4 952.6h0M1001.4 949.2h0M1001.4 950.0h0M1001.4 947.4h0M1001.4 959.3h0M1001.4 951.0h0M1001.4 951.2h0M1001.4 951.0h0M1001.4 954.6h0M1042.8 921.4h0M1042.8 904.0h0M1042.8 902.9h0M1042.8 893.3h0M1042.8 903.4h0M1042.8 897.8h0M1042.8 904.2h0M1042.8 910.2h0M1042.8 904.8h0M1042.8 915.1h0M1042.8 906.4h0M1042.8 908.6h0M1042.8 914.4h0M1042.8 900.4h0M1042.8 901.0h0M1042.8 905.0h0M1018.5 927.1h0M1018.5 922.0h0M1018.5 932.9h0M1018.5 940.4h0M1018.5 938.0h0M1018.5 927.8h0M1018.5 930.7h0M1018.5 941.2h0M1018.5 923.9h0M1018.5 930.8h0M1018.5 922.1h0M1018.5 925.1h0M1018.5 934.7h0M1018.5 931.5h0M1018.5 936.6h0M1018.5 937.2h0M995.2 957.0h0M995.2 952.1h0M995.2 946.7h0M995.2 960.7h0M995.2 950.9h0M995.2 954.9h0M995.2 956.5h0M995.2 948.2h0M995.2 957.3h0M995.2 946.6h0M995.2 957.2h0M995.2 960.8h0M995.2 950.4h0M995.2 964.1h0M995.2 962.4h0M995.2 956.2h0M1017.8 932.6h0M1017.8 934.3h0M1017.8 944.8h0M1017.8 940.9h0M1017.8 929.5h0M1017.8 929.3h0M1017.8 938.8h0M1017.8 931.0h0M1017.8 931.3h0M1017.8 926.3h0M1017.8 937.1h0M1017.8 923.6h0M1017.8 934.5h0M1017.8 923.7h0M1017.8 926.9h0M1017.8 938.8h0M987.8 964.4h0M987.8 960.7h0M987.8 956.2h0M987.8 971.0h0M987.8 965.5h0M987.8 958.6h0M987.8 959.5h0M987.8 969.0h0M987.8 968.0h0M987.8 959.8h0M987.8 968.8h0M987.8 961.0h0M987.8 956.8h0M987.8 962.4h0M987.8 979.1h0M987.8 955.2h0M1051.9 891.4h0M1051.9 889.8h0M1051.9 893.2h0M1051.9 909.0h0M1051.9 889.8h0M1051.9 896.4h0M1051.9 892.7h0M1051.9 899.5h0M1051.9 900.1h0M1051.9 900.0h0M1051.9 888.7h0M1051.9 896.9h0M1051.9 899.8h0M1051.9 906.5h0M1051.9 895.6h0M1051.9 898.5h0M988.4 960.9h0M988.4 955.7h0M988.4 957.4h0M988.4 961.8h0M988.4 960.5h0M988.4 961.3h0M988.4 957.4h0M988.4 957.6h0M988.4 961.0h0M988.4 967.1h0M988.4 956.6h0M988.4 956.3h0M988.4 968.5h0M988.4 959.4h0M988.4 964.2h0M988.4 975.4h0M1026.8 923.9h0M1026.8 917.7h0M1026.8 928.1h0M1026.8 928.0h0M1026.8 917.3h0M1026.8 930.5h0M1026.8 929.5h0M1026.8 925.6h0M1026.8 919.8h0M1026.8 919.7h0M1026.8 926.9h0M1026.8 925.6h0M1026.8 923.1h0M1026.8 926.1h0M1026.8 929.0h0M1026.8 930.4h0M1090.6 855.6h0M1090.6 861.4h0M1090.6 842.3h0M1090.6 856.2h0M1090.6 864.7h0M1090.6 860.1h0M1090.6 857.9h0M1090.6 857.6h0M1090.6 857.3h0M1090.6 857.3h0M1090.6 860.9h0M1090.6 856.0h0M1090.6 846.5h0M1090.6 862.8h0M1090.6 862.4h0M1090.6 855.7h0M1131.2 811.9h0M1131.2 814.5h0M1131.2 812.1h0M1131.2 819.9h0M1131.2 821.0h0M1131.2 815.6h0M1131.2 815.4h0M1131.2 809.2h0M1131.2 809.9h0M1131.2 830.9h0M1131.2 814.8h0M1131.2 823.8h0M1131.2 832.7h0M1131.2 817.2h0M1131.2 820.7h0M1131.2 821.8h0M1062.8 895.8h0M1062.8 894.1h0M1062.8 889.2h0M1062.8 897.1h0M1062.8 888.5h0M1062.8 887.2h0M1062.8 888.8h0M1062.8 886.0h0M1062.8 888.3h0M1062.8 895.1h0M1062.8 894.3h0M1062.8 887.1h0M1062.8 881.9h0M1062.8 887.0h0M1062.8 891.0h0M1062.8 886.9h0M1108.7 853.4h0M1108.7 848.3h0M1108.7 844.5h0M1108.7 842.6h0M1108.7 844.2h0M1108.7 843.9h0M1108.7 849.5h0M1108.7 845.7h0M1108.7 840.6h0M1108.7 853.6h0M1108.7 849.6h0M1108.7 844.3h0M1108.7 833.0h0M1108.7 838.0h0M1108.7 832.5h0M1108.7 833.9h0M1089.2 864.4h0M1089.2 862.0h0M1089.2 868.9h0M1089.2 854.3h0M1089.2 857.1h0M1089.2 857.9h0M1089.2 857.5h0M1089.2 858.7h0M1089.2 860.3h0M1089.2 859.9h0M1089.2 854.1h0M1089.2 866.5h0M1089.2 868.1h0M1089.2 861.6h0M1089.2 854.4h0M1089.2 860.1h0M1100.2 851.9h0M1100.2 845.5h0M1100.2 850.0h0M1100.2 862.4h0M1100.2 856.9h0M1100.2 863.6h0M1100.2 852.0h0M1100.2 853.4h0M1100.2 847.9h0M1100.2 837.5h0M1100.2 854.3h0M1100.2 850.6h0M1100.2 853.0h0M1100.2 868.1h0M1100.2 855.4h0M1100.2 855.1h0M1097.4 851.7h0M1097.4 858.6h0M1097.4 861.4h0M1097.4 849.7h0M1097.4 853.8h0M1097.4 858.9h0M1097.4 858.1h0M1097.4 855.2h0M1097.4 848.3h0M1097.4 844.6h0M1097.4 861.5h0M1097.4 846.2h0M1097.4 853.0h0M1097.4 851.1h0M1097.4 847.4h0M1097.4 859.3h0M1062.4 882.9h0M1062.4 896.3h0M1062.4 891.1h0M1062.4 893.5h0M1062.4 877.8h0M1062.4 878.1h0M1062.4 883.6h0M1062.4 885.1h0M1062.4 891.5h0M1062.4 877.5h0M1062.4 879.6h0M1062.4 882.7h0M1062.4 888.9h0M1062.4 890.4h0M1062.4 888.7h0M1062.4 880.0h0M1098.6 858.0h0M1098.6 851.4h0M1098.6 842.0h0M1098.6 846.6h0M1098.6 841.3h0M1098.6 849.5h0M1098.6 849.4h0M1098.6 843.5h0M1098.6 848.0h0M1098.6 849.9h0M1098.6 855.2h0M1098.6 861.2h0M1098.6 842.8h0M1098.6 854.6h0M1098.6 856.6h0M1098.6 846.6h0M1132.2 824.0h0M1132.2 826.9h0M1132.2 822.0h0M1132.2 818.9h0M1132.2 816.8h0M1132.2 815.4h0M1132.2 812.5h0M1132.2 819.2h0M1132.2 816.2h0M1132.2 819.2h0M1132.2 822.4h0M1132.2 816.0h0M1132.2 816.3h0M1132.2 807.1h0M1132.2 814.8h0M1132.2 822.8h0M1066.0 880.8h0M1066.0 886.0h0M1066.0 874.7h0M1066.0 894.9h0M1066.0 888.5h0M1066.0 888.5h0M1066.0 883.7h0M1066.0 885.2h0M1066.0 894.2h0M1066.0 895.9h0M1066.0 883.3h0M1066.0 875.4h0M1066.0 875.5h0M1066.0 886.9h0M1066.0 881.6h0M1066.0 889.8h0M1050.6 908.6h0M1050.6 892.2h0M1050.6 895.5h0M1050.6 901.7h0M1050.6 902.0h0M1050.6 894.1h0M1050.6 897.7h0M1050.6 901.7h0M1050.6 897.9h0M1050.6 899.7h0M1050.6 902.2h0M1050.6 904.1h0M1050.6 894.0h0M1050.6 902.6h0M1050.6 906.9h0M1050.6 888.6h0M1056.0 886.7h0M1056.0 891.1h0M1056.0 894.7h0M1056.0 893.1h0M1056.0 903.2h0M1056.0 894.4h0M1056.0 892.6h0M1056.0 895.5h0M1056.0 891.7h0M1056.0 899.0h0M1056.0 893.2h0M1056.0 904.0h0M1056.0 894.5h0M1056.0 898.1h0M1056.0 902.5h0M1056.0 896.8h0M1093.6 856.8h0M1093.6 860.6h0M1093.6 851.3h0M1093.6 861.2h0M1093.6 851.2h0M1093.6 852.5h0M1093.6 860.7h0M1093.6 848.2h0M1093.6 865.3h0M1093.6 853.7h0M1093.6 856.6h0M1093.6 852.3h0M1093.6 866.6h0M1093.6 864.3h0M1093.6 862.1h0M1093.6 856.9h0M1142.9 807.4h0M1142.9 807.8h0M1142.9 809.5h0M1142.9 812.2h0M1142.9 816.3h0M1142.9 810.5h0M1142.9 804.7h0M1142.9 801.7h0M1142.9 811.0h0M1142.9 801.4h0M1142.9 816.2h0M1142.9 803.2h0M1142.9 814.6h0M1142.9 806.5h0M1142.9 813.8h0M1142.9 813.9h0M1053.8 900.1h0M1053.8 888.2h0M1053.8 900.9h0M1053.8 893.0h0M1053.8 895.9h0M1053.8 895.0h0M1053.8 894.9h0M1053.8 893.0h0M1053.8 904.1h0M1053.8 896.5h0M1053.8 894.7h0M1053.8 900.4h0M1053.8 894.6h0M1053.8 903.0h0M1053.8 892.4h0M1053.8 901.1h0M1144.5 808.1h0M1144.5 801.6h0M1144.5 799.8h0M1144.5 809.9h0M1144.5 810.3h0M1144.5 800.4h0M1144.5 823.9h0M1144.5 798.3h0M1144.5 798.5h0M1144.5 812.9h0M1144.5 799.2h0M1144.5 804.2h0M1144.5 803.6h0M1144.5 820.5h0M1144.5 809.4h0M1144.5 807.6h0M1100.9 852.3h0M1100.9 852.2h0M1100.9 851.6h0M1100.9 867.3h0M1100.9 851.1h0M1100.9 854.1h0M1100.9 850.4h0M1100.9 852.9h0M1100.9 849.9h0M1100.9 848.1h0M1100.9 839.1h0M1100.9 854.9h0M1100.9 839.6h0M1100.9 851.4h0M1100.9 855.3h0M1100.9 858.7h0M1061.1 884.3h0M1061.1 898.8h0M1061.1 884.1h0M1061.1 887.5h0M1061.1 893.1h0M1061.1 893.7h0M1061.1 886.7h0M1061.1 888.7h0M1061.1 885.1h0M1061.1 889.6h0M1061.1 892.7h0M1061.1 886.3h0M1061.1 896.9h0M1061.1 884.5h0M1061.1 889.3h0M1061.1 896.4h0M1089.7 867.3h0M1089.7 863.1h0M1089.7 872.2h0M1089.7 852.6h0M1089.7 855.2h0M1089.7 867.8h0M1089.7 861.8h0M1089.7 850.8h0M1089.7 858.7h0M1089.7 867.3h0M1089.7 874.3h0M1089.7 871.2h0M1089.7 853.9h0M1089.7 859.2h0M1089.7 869.1h0M1089.7 856.8h0M1069.4 883.5h0M1069.4 885.4h0M1069.4 884.5h0M1069.4 884.2h0M1069.4 871.1h0M1069.4 887.1h0M1069.4 883.8h0M1069.4 873.1h0M1069.4 872.1h0M1069.4 887.3h0M1069.4 868.6h0M1069.4 874.5h0M1069.4 890.4h0M1069.4 870.2h0M1069.4 890.4h0M1069.4 877.1h0M1118.0 840.0h0M1118.0 843.9h0M1118.0 827.7h0M1118.0 830.3h0M1118.0 833.4h0M1118.0 831.7h0M1118.0 833.5h0M1118.0 834.5h0M1118.0 839.5h0M1118.0 829.3h0M1118.0 832.8h0M1118.0 834.4h0M1118.0 836.4h0M1118.0 834.6h0M1118.0 842.3h0M1118.0 834.8h0M1101.4 855.5h0M1101.4 841.5h0M1101.4 855.3h0M1101.4 852.2h0M1101.4 849.3h0M1101.4 844.5h0M1101.4 846.5h0M1101.4 849.3h0M1101.4 836.1h0M1101.4 849.5h0M1101.4 847.4h0M1101.4 832.5h0M1101.4 854.9h0M1101.4 843.4h0M1101.4 846.6h0M1101.4 857.5h0M1077.1 877.4h0M1077.1 868.5h0M1077.1 882.6h0M1077.1 874.7h0M1077.1 867.8h0M1077.1 875.1h0M1077.1 872.0h0M1077.1 877.7h0M1077.1 877.5h0M1077.1 877.4h0M1077.1 875.8h0M1077.1 869.7h0M1077.1 873.1h0M1077.1 861.4h0M1077.1 870.2h0M1077.1 871.9h0M1074.0 862.8h0M1074.0 877.4h0M1074.0 881.7h0M1074.0 875.8h0M1074.0 883.4h0M1074.0 873.5h0M1074.0 868.3h0M1074.0 872.8h0M1074.0 879.2h0M1074.0 877.6h0M1074.0 873.7h0M1074.0 869.4h0M1074.0 879.2h0M1074.0 879.3h0M1074.0 870.0h0M1074.0 875.4h0M1132.6 816.2h0M1132.6 815.3h0M1132.6 823.1h0M1132.6 819.2h0M1132.6 811.7h0M1132.6 819.3h0M1132.6 819.5h0M1132.6 816.4h0M1132.6 815.9h0M1132.6 802.6h0M1132.6 823.3h0M1132.6 817.4h0M1132.6 805.8h0M1132.6 818.1h0M1132.6 815.9h0M1132.6 827.3h0M1123.0 821.9h0M1123.0 822.5h0M1123.0 822.8h0M1123.0 829.0h0M1123.0 825.6h0M1123.0 828.3h0M1123.0 822.6h0M1123.0 828.0h0M1123.0 823.0h0M1123.0 836.1h0M1123.0 829.9h0M1123.0 845.5h0M1123.0 828.8h0M1123.0 823.1h0M1123.0 829.5h0M1123.0 813.4h0M1091.3 865.5h0M1091.3 861.5h0M1091.3 865.1h0M1091.3 862.5h0M1091.3 862.3h0M1091.3 868.5h0M1091.3 865.5h0M1091.3 846.9h0M1091.3 861.0h0M1091.3 853.8h0M1091.3 867.3h0M1091.3 860.1h0M1091.3 856.1h0M1091.3 860.5h0M1091.3 862.6h0M1091.3 860.6h0M1088.4 862.2h0M1088.4 857.2h0M1088.4 854.9h0M1088.4 870.5h0M1088.4 875.1h0M1088.4 863.6h0M1088.4 862.3h0M1088.4 857.9h0M1088.4 855.8h0M1088.4 866.5h0M1088.4 849.6h0M1088.4 860.8h0M1088.4 873.3h0M1088.4 856.4h0M1088.4 860.6h0M1088.4 860.6h0M1120.2 840.5h0M1120.2 832.5h0M1120.2 829.7h0M1120.2 831.6h0M1120.2 826.4h0M1120.2 822.9h0M1120.2 821.2h0M1120.2 822.9h0M1120.2 831.6h0M1120.2 820.0h0M1120.2 829.0h0M1120.2 825.4h0M1120.2 832.2h0M1120.2 839.3h0M1120.2 844.7h0M1120.2 829.5h0M1142.6 812.6h0M1142.6 808.4h0M1142.6 802.9h0M1142.6 817.8h0M1142.6 819.3h0M1142.6 806.8h0M1142.6 806.1h0M1142.6 810.1h0M1142.6 811.6h0M1142.6 818.2h0M1142.6 808.9h0M1142.6 813.0h0M1142.6 805.7h0M1142.6 802.5h0M1142.6 811.8h0M1142.6 805.8h0M1057.2 892.3h0M1057.2 889.2h0M1057.2 884.0h0M1057.2 889.4h0M1057.2 889.1h0M1057.2 888.6h0M1057.2 896.1h0M1057.2 893.5h0M1057.2 891.4h0M1057.2 885.8h0M1057.2 885.5h0M1057.2 879.4h0M1057.2 900.2h0M1057.2 893.7h0M1057.2 904.2h0M1057.2 896.8h0M1064.8 896.1h0M1064.8 878.7h0M1064.8 881.2h0M1064.8 892.5h0M1064.8 883.8h0M1064.8 881.3h0M1064.8 875.1h0M1064.8 880.8h0M1064.8 885.1h0M1064.8 886.5h0M1064.8 882.0h0M1064.8 884.0h0M1064.8 888.9h0M1064.8 893.4h0M1064.8 879.4h0M1064.8 890.4h0M1084.3 868.2h0M1084.3 861.5h0M1084.3 866.8h0M1084.3 859.5h0M1084.3 873.4h0M1084.3 861.8h0M1084.3 874.7h0M1084.3 875.8h0M1084.3 872.9h0M1084.3 865.8h0M1084.3 870.7h0M1084.3 875.0h0M1084.3 859.1h0M1084.3 872.4h0M1084.3 867.2h0M1084.3 864.9h0M1098.2 855.5h0M1098.2 850.4h0M1098.2 848.8h0M1098.2 853.2h0M1098.2 846.2h0M1098.2 856.3h0M1098.2 859.2h0M1098.2 851.3h0M1098.2 858.6h0M1098.2 850.3h0M1098.2 853.2h0M1098.2 855.5h0M1098.2 849.0h0M1098.2 849.3h0M1098.2 870.9h0M1098.2 854.6h0M1056.4 893.4h0M1056.4 891.3h0M1056.4 897.7h0M1056.4 901.4h0M1056.4 893.5h0M1056.4 890.1h0M1056.4 907.0h0M1056.4 903.6h0M1056.4 897.9h0M1056.4 910.3h0M1056.4 898.0h0M1056.4 889.2h0M1056.4 900.9h0M1056.4 893.4h0M1056.4 899.8h0M1056.4 891.7h0M1054.7 892.0h0M1054.7 887.9h0M1054.7 895.5h0M1054.7 889.5h0M1054.7 893.5h0M1054.7 898.9h0M1054.7 886.9h0M1054.7 899.7h0M1054.7 895.0h0M1054.7 880.8h0M1054.7 890.6h0M1054.7 901.1h0M1054.7 894.2h0M1054.7 899.4h0M1054.7 896.9h0M1054.7 905.3h0M1070.6 878.8h0M1070.6 889.8h0M1070.6 877.9h0M1070.6 877.8h0M1070.6 874.9h0M1070.6 866.3h0M1070.6 890.4h0M1070.6 887.6h0M1070.6 886.4h0M1070.6 883.7h0M1070.6 874.7h0M1070.6 882.3h0M1070.6 883.8h0M1070.6 887.2h0M1070.6 884.1h0M1070.6 882.9h0M1086.5 864.9h0M1086.5 873.2h0M1086.5 864.7h0M1086.5 860.8h0M1086.5 862.1h0M1086.5 872.0h0M1086.5 859.2h0M1086.5 859.3h0M1086.5 862.4h0M1086.5 871.9h0M1086.5 873.4h0M1086.5 864.0h0M1086.5 870.7h0M1086.5 872.6h0M1086.5 858.7h0M1086.5 858.6h0M1120.4 826.5h0M1120.4 822.4h0M1120.4 824.9h0M1120.4 837.7h0M1120.4 823.4h0M1120.4 829.8h0M1120.4 827.8h0M1120.4 820.8h0M1120.4 827.8h0M1120.4 820.7h0M1120.4 830.2h0M1120.4 832.9h0M1120.4 834.9h0M1120.4 831.4h0M1120.4 841.0h0M1120.4 830.9h0M1108.0 843.6h0M1108.0 846.2h0M1108.0 856.7h0M1108.0 856.2h0M1108.0 838.5h0M1108.0 848.8h0M1108.0 834.3h0M1108.0 847.3h0M1108.0 840.6h0M1108.0 851.9h0M1108.0 846.8h0M1108.0 844.2h0M1108.0 839.3h0M1108.0 832.4h0M1108.0 836.9h0M1108.0 851.9h0M1052.3 898.3h0M1052.3 899.4h0M1052.3 902.3h0M1052.3 894.7h0M1052.3 888.5h0M1052.3 901.2h0M1052.3 891.4h0M1052.3 889.6h0M1052.3 904.9h0M1052.3 887.3h0M1052.3 887.8h0M1052.3 896.5h0M1052.3 887.7h0M1052.3 896.8h0M1052.3 891.1h0M1052.3 894.3h0M1053.9 902.2h0M1053.9 895.2h0M1053.9 897.9h0M1053.9 899.9h0M1053.9 904.0h0M1053.9 901.7h0M1053.9 904.5h0M1053.9 889.7h0M1053.9 909.0h0M1053.9 896.3h0M1053.9 900.6h0M1053.9 904.6h0M1053.9 892.3h0M1053.9 901.8h0M1053.9 889.3h0M1053.9 897.9h0M1092.9 855.9h0M1092.9 858.7h0M1092.9 853.9h0M1092.9 852.1h0M1092.9 860.7h0M1092.9 858.0h0M1092.9 847.0h0M1092.9 861.5h0M1092.9 846.7h0M1092.9 860.4h0M1092.9 861.4h0M1092.9 868.4h0M1092.9 863.2h0M1092.9 868.8h0M1092.9 861.5h0M1092.9 853.6h0M1133.4 817.9h0M1133.4 821.3h0M1133.4 824.0h0M1133.4 821.8h0M1133.4 826.6h0M1133.4 825.5h0M1133.4 805.4h0M1133.4 816.1h0M1133.4 823.3h0M1133.4 813.4h0M1133.4 808.2h0M1133.4 821.5h0M1133.4 818.2h0M1133.4 825.4h0M1133.4 827.5h0M1133.4 809.0h0M1137.2 792.4h0M1137.2 818.3h0M1137.2 823.8h0M1137.2 804.9h0M1137.2 807.1h0M1137.2 810.8h0M1137.2 804.6h0M1137.2 815.8h0M1137.2 812.0h0M1137.2 808.8h0M1137.2 815.7h0M1137.2 810.8h0M1137.2 815.2h0M1137.2 810.9h0M1137.2 812.7h0M1137.2 826.1h0M1084.5 865.7h0M1084.5 875.2h0M1084.5 871.6h0M1084.5 876.6h0M1084.5 861.2h0M1084.5 868.3h0M1084.5 868.7h0M1084.5 858.5h0M1084.5 861.8h0M1084.5 867.6h0M1084.5 879.2h0M1084.5 862.2h0M1084.5 867.9h0M1084.5 868.5h0M1084.5 861.7h0M1084.5 870.2h0M1134.6 816.9h0M1134.6 810.9h0M1134.6 812.8h0M1134.6 820.2h0M1134.6 807.3h0M1134.6 809.2h0M1134.6 804.6h0M1134.6 816.7h0M1134.6 815.0h0M1134.6 809.8h0M1134.6 813.6h0M1134.6 815.5h0M1134.6 817.0h0M1134.6 818.2h0M1134.6 820.4h0M1134.6 820.4h0M1138.6 809.8h0M1138.6 814.3h0M1138.6 821.2h0M1138.6 812.0h0M1138.6 802.1h0M1138.6 803.9h0M1138.6 824.9h0M1138.6 817.6h0M1138.6 807.5h0M1138.6 811.9h0M1138.6 811.9h0M1138.6 813.2h0M1138.6 812.0h0M1138.6 818.7h0M1138.6 805.0h0M1138.6 818.8h0M1088.5 863.1h0M1088.5 852.7h0M1088.5 855.5h0M1088.5 862.3h0M1088.5 862.3h0M1088.5 866.0h0M1088.5 865.3h0M1088.5 863.7h0M1088.5 853.9h0M1088.5 864.9h0M1088.5 858.7h0M1088.5 859.6h0M1088.5 859.7h0M1088.5 864.0h0M1088.5 857.7h0M1088.5 861.2h0M1121.0 829.2h0M1121.0 832.7h0M1121.0 843.1h0M1121.0 825.2h0M1121.0 825.1h0M1121.0 832.9h0M1121.0 830.8h0M1121.0 828.0h0M1121.0 835.8h0M1121.0 825.3h0M1121.0 825.3h0M1121.0 824.4h0M1121.0 824.0h0M1121.0 841.5h0M1121.0 826.5h0M1121.0 832.4h0M1084.6 859.2h0M1084.6 859.5h0M1084.6 861.0h0M1084.6 866.6h0M1084.6 848.7h0M1084.6 866.4h0M1084.6 872.5h0M1084.6 860.0h0M1084.6 875.0h0M1084.6 854.1h0M1084.6 859.7h0M1084.6 857.8h0M1084.6 859.5h0M1084.6 863.5h0M1084.6 874.1h0M1084.6 869.7h0M1064.3 882.7h0M1064.3 887.4h0M1064.3 883.9h0M1064.3 890.4h0M1064.3 891.0h0M1064.3 884.3h0M1064.3 881.6h0M1064.3 886.1h0M1064.3 892.2h0M1064.3 896.4h0M1064.3 873.7h0M1064.3 893.2h0M1064.3 891.6h0M1064.3 890.7h0M1064.3 880.7h0M1064.3 890.9h0M1104.7 842.6h0M1104.7 844.1h0M1104.7 853.0h0M1104.7 845.0h0M1104.7 853.5h0M1104.7 847.0h0M1104.7 841.4h0M1104.7 847.5h0M1104.7 851.6h0M1104.7 848.6h0M1104.7 847.2h0M1104.7 844.0h0M1104.7 860.2h0M1104.7 857.4h0M1104.7 843.1h0M1104.7 846.8h0M1057.8 892.7h0M1057.8 891.5h0M1057.8 893.8h0M1057.8 895.6h0M1057.8 892.2h0M1057.8 888.8h0M1057.8 890.8h0M1057.8 892.7h0M1057.8 899.3h0M1057.8 891.4h0M1057.8 900.0h0M1057.8 897.0h0M1057.8 892.0h0M1057.8 892.2h0M1057.8 886.2h0M1057.8 887.5h0M1113.1 834.8h0M1113.1 839.8h0M1113.1 837.9h0M1113.1 839.3h0M1113.1 827.1h0M1113.1 835.0h0M1113.1 841.8h0M1113.1 843.0h0M1113.1 830.2h0M1113.1 843.1h0M1113.1 835.5h0M1113.1 836.7h0M1113.1 831.2h0M1113.1 843.2h0M1113.1 834.9h0M1113.1 836.5h0M1127.1 818.9h0M1127.1 815.5h0M1127.1 823.2h0M1127.1 825.2h0M1127.1 818.4h0M1127.1 832.5h0M1127.1 822.7h0M1127.1 829.8h0M1127.1 831.2h0M1127.1 833.5h0M1127.1 834.0h0M1127.1 818.7h0M1127.1 818.4h0M1127.1 823.2h0M1127.1 817.4h0M1127.1 823.6h0M1137.3 816.7h0M1137.3 820.3h0M1137.3 808.9h0M1137.3 808.6h0M1137.3 805.9h0M1137.3 818.5h0M1137.3 815.4h0M1137.3 821.9h0M1137.3 806.6h0M1137.3 809.3h0M1137.3 810.5h0M1137.3 813.7h0M1137.3 814.5h0M1137.3 815.8h0M1137.3 806.9h0M1137.3 817.5h0M1092.5 852.8h0M1092.5 856.5h0M1092.5 864.4h0M1092.5 867.1h0M1092.5 863.0h0M1092.5 858.4h0M1092.5 866.1h0M1092.5 854.4h0M1092.5 851.2h0M1092.5 854.9h0M1092.5 868.6h0M1092.5 872.6h0M1092.5 852.9h0M1092.5 849.0h0M1092.5 860.7h0M1092.5 855.0h0M1060.8 891.4h0M1060.8 893.7h0M1060.8 883.7h0M1060.8 893.2h0M1060.8 884.5h0M1060.8 879.2h0M1060.8 890.5h0M1060.8 878.2h0M1060.8 897.9h0M1060.8 884.1h0M1060.8 889.7h0M1060.8 874.0h0M1060.8 889.5h0M1060.8 894.7h0M1060.8 879.8h0M1060.8 899.2h0M1136.0 812.1h0M1136.0 819.5h0M1136.0 806.3h0M1136.0 815.4h0M1136.0 809.5h0M1136.0 815.0h0M1136.0 821.6h0M1136.0 828.1h0M1136.0 803.8h0M1136.0 813.4h0M1136.0 821.9h0M1136.0 816.7h0M1136.0 808.7h0M1136.0 824.0h0M1136.0 800.8h0M1136.0 816.4h0M1132.9 820.2h0M1132.9 809.9h0M1132.9 816.6h0M1132.9 824.1h0M1132.9 812.2h0M1132.9 815.1h0M1132.9 810.9h0M1132.9 823.6h0M1132.9 824.9h0M1132.9 814.0h0M1132.9 820.6h0M1132.9 831.3h0M1132.9 821.6h0M1132.9 814.0h0M1132.9 822.4h0M1132.9 810.0h0M1142.3 811.8h0M1142.3 809.3h0M1142.3 818.7h0M1142.3 813.6h0M1142.3 809.8h0M1142.3 805.1h0M1142.3 807.5h0M1142.3 802.1h0M1142.3 822.2h0M1142.3 808.5h0M1142.3 809.6h0M1142.3 815.2h0M1142.3 809.0h0M1142.3 813.3h0M1142.3 806.0h0M1142.3 810.9h0M1106.5 841.2h0M1106.5 850.0h0M1106.5 836.5h0M1106.5 841.9h0M1106.5 833.3h0M1106.5 845.2h0M1106.5 847.5h0M1106.5 843.5h0M1106.5 847.3h0M1106.5 850.9h0M1106.5 844.3h0M1106.5 844.8h0M1106.5 848.4h0M1106.5 846.8h0M1106.5 850.4h0M1106.5 843.5h0M1114.1 845.2h0M1114.1 826.2h0M1114.1 836.6h0M1114.1 830.9h0M1114.1 844.3h0M1114.1 834.7h0M1114.1 837.6h0M1114.1 830.7h0M1114.1 831.4h0M1114.1 847.0h0M1114.1 829.6h0M1114.1 846.1h0M1114.1 828.4h0M1114.1 837.1h0M1114.1 844.3h0M1114.1 832.4h0M1085.3 865.2h0M1085.3 871.6h0M1085.3 870.1h0M1085.3 862.5h0M1085.3 874.0h0M1085.3 870.8h0M1085.3 853.9h0M1085.3 870.3h0M1085.3 863.2h0M1085.3 862.7h0M1085.3 859.5h0M1085.3 860.0h0M1085.3 881.2h0M1085.3 868.5h0M1085.3 858.1h0M1085.3 870.4h0M1067.1 872.2h0M1067.1 882.1h0M1067.1 891.2h0M1067.1 880.1h0M1067.1 871.5h0M1067.1 887.8h0M1067.1 880.1h0M1067.1 889.1h0M1067.1 887.3h0M1067.1 882.9h0M1067.1 880.4h0M1067.1 881.4h0M1067.1 882.3h0M1067.1 868.5h0M1067.1 890.4h0M1067.1 895.2h0" stroke="#3a5199" stroke-width="2.4" stroke-linecap="round"/>
<rect x="881.7" y="590.9" width="479.1" height="477.5" fill="none" stroke="#333" stroke-width="1.1"/>
<path d="M881.7 1068.4v-3.5M881.7 590.9v3.5M881.7 1068.4h3.5M1360.8 1068.4h-3.5M894.3 1068.4v-3.5M894.3 590.9v3.5M881.7 1055.8h3.5M1360.8 1055.8h-3.5M905.0 1068.4v-3.5M905.0 590.9v3.5M881.7 1045.1h3.5M1360.8 1045.1h-3.5M914.3 1068.4v-3.5M914.3 590.9v3.5M881.7 1035.9h3.5M1360.8 1035.9h-3.5M922.5 1068.4v-3.5M922.5 590.9v3.5M881.7 1027.8h3.5M1360.8 1027.8h-3.5M929.8 1068.4v-6.0M929.8 590.9v6.0M881.7 1020.5h6.0M1360.8 1020.5h-6.0M977.8 1068.4v-3.5M977.8 590.9v3.5M881.7 972.6h3.5M1360.8 972.6h-3.5M1006.0 1068.4v-3.5M1006.0 590.9v3.5M881.7 944.5h3.5M1360.8 944.5h-3.5M1025.9 1068.4v-3.5M1025.9 590.9v3.5M881.7 924.7h3.5M1360.8 924.7h-3.5M1041.4 1068.4v-3.5M1041.4 590.9v3.5M881.7 909.2h3.5M1360.8 909.2h-3.5M1054.0 1068.4v-3.5M1054.0 590.9v3.5M881.7 896.6h3.5M1360.8 896.6h-3.5M1064.7 1068.4v-3.5M1064.7 590.9v3.5M881.7 886.0h3.5M1360.8 886.0h-3.5M1074.0 1068.4v-3.5M1074.0 590.9v3.5M881.7 876.7h3.5M1360.8 876.7h-3.5M1082.2 1068.4v-3.5M1082.2 590.9v3.5M881.7 868.6h3.5M1360.8 868.6h-3.5M1089.5 1068.4v-6.0M1089.5 590.9v6.0M881.7 861.3h6.0M1360.8 861.3h-6.0M1137.5 1068.4v-3.5M1137.5 590.9v3.5M881.7 813.4h3.5M1360.8 813.4h-3.5M1165.7 1068.4v-3.5M1165.7 590.9v3.5M881.7 785.4h3.5M1360.8 785.4h-3.5M1185.6 1068.4v-3.5M1185.6 590.9v3.5M881.7 765.5h3.5M1360.8 765.5h-3.5M1201.1 1068.4v-3.5M1201.1 590.9v3.5M881.7 750.1h3.5M1360.8 750.1h-3.5M1213.7 1068.4v-3.5M1213.7 590.9v3.5M881.7 737.5h3.5M1360.8 737.5h-3.5M1224.4 1068.4v-3.5M1224.4 590.9v3.5M881.7 726.8h3.5M1360.8 726.8h-3.5M1233.7 1068.4v-3.5M1233.7 590.9v3.5M881.7 717.6h3.5M1360.8 717.6h-3.5M1241.9 1068.4v-3.5M1241.9 590.9v3.5M881.7 709.4h3.5M1360.8 709.4h-3.5M1249.2 1068.4v-6.0M1249.2 590.9v6.0M881.7 702.2h6.0M1360.8 702.2h-6.0M1297.2 1068.4v-3.5M1297.2 590.9v3.5M881.7 654.2h3.5M1360.8 654.2h-3.5M1325.4 1068.4v-3.5M1325.4 590.9v3.5M881.7 626.2h3.5M1360.8 626.2h-3.5M1345.3 1068.4v-3.5M1345.3 590.9v3.5M881.7 606.3h3.5M1360.8 606.3h-3.5M1360.8 1068.4v-3.5M1360.8 590.9v3.5M881.7 590.9h3.5M1360.8 590.9h-3.5" stroke="#333" stroke-width="1"/>
<text transform="translate(928.8,1112.8) scale(1,1.05)" font-size="30" fill="#262626" text-anchor="middle">10<tspan font-size="21" dy="-14.5">1</tspan></text>
<text transform="translate(872.7,1036.5) scale(1,1.05)" font-size="30" fill="#262626" text-anchor="end">10<tspan font-size="21" dy="-14.5">1</tspan></text>
<text transform="translate(1088.5,1112.8) scale(1,1.05)" font-size="30" fill="#262626" text-anchor="middle">10<tspan font-size="21" dy="-14.5">2</tspan></text>
<text transform="translate(872.7,877.3) scale(1,1.05)" font-size="30" fill="#262626" text-anchor="end">10<tspan font-size="21" dy="-14.5">2</tspan></text>
<text transform="translate(1248.2,1112.8) scale(1,1.05)" font-size="30" fill="#262626" text-anchor="middle">10<tspan font-size="21" dy="-14.5">3</tspan></text>
<text transform="translate(872.7,718.2) scale(1,1.05)" font-size="30" fill="#262626" text-anchor="end">10<tspan font-size="21" dy="-14.5">3</tspan></text>
<rect x="904.9" y="613.6" width="25" height="25" fill="#f0b62a"/>
<rect x="904.9" y="678.5" width="25" height="25" fill="#3a5199"/>
<text transform="translate(944.0,635.5) scale(1.000,1.050)" font-size="26.6" text-anchor="start" fill="#000">Before ~350-cell stage</text>
<text transform="translate(944.0,667.9) scale(1.000,1.050)" font-size="26.6" text-anchor="start" fill="#000">322 unique cells</text>
<text transform="translate(944.0,699.8) scale(1.000,1.050)" font-size="26.6" text-anchor="start" fill="#000">After ~350-cell stage</text>
<text transform="translate(944.0,731.5) scale(1.000,1.050)" font-size="26.6" text-anchor="start" fill="#000">267 unique cells</text>
<text transform="translate(1126.2,1156.0) scale(1.000,1.050)" font-size="29.0" text-anchor="middle" fill="#262626">Cell volume in average (<tspan font-style="italic" font-family="Liberation Serif, serif">μ</tspan>m<tspan font-size="21.5" dy="-14">3</tspan><tspan dy="14">)</tspan></text>
<text transform="translate(816.7,824) rotate(-90) scale(1,1.05)" font-size="29.4" text-anchor="middle" fill="#262626">Cell volume in samples (<tspan font-style="italic" font-family="Liberation Serif, serif">μ</tspan>m<tspan font-size="21.5" dy="-14">3</tspan><tspan dy="14">)</tspan></text>
<rect x="1157.45" y="967.54" width="10.08" height="2.46" fill="#f4c34f" stroke="#000" stroke-width="0.9"/>
<rect x="1167.52" y="954.54" width="10.08" height="15.46" fill="#f4c34f" stroke="#000" stroke-width="0.9"/>
<rect x="1177.60" y="944.24" width="10.08" height="25.76" fill="#f4c34f" stroke="#000" stroke-width="0.9"/>
<rect x="1187.68" y="942.34" width="10.08" height="27.66" fill="#f4c34f" stroke="#000" stroke-width="0.9"/>
<rect x="1197.75" y="947.38" width="10.08" height="22.62" fill="#f4c34f" stroke="#000" stroke-width="0.9"/>
<rect x="1207.83" y="959.36" width="10.08" height="10.64" fill="#f4c34f" stroke="#000" stroke-width="0.9"/>
<rect x="1217.90" y="966.64" width="10.08" height="3.36" fill="#f4c34f" stroke="#000" stroke-width="0.9"/>
<rect x="1227.98" y="968.21" width="10.08" height="1.79" fill="#f4c34f" stroke="#000" stroke-width="0.9"/>
<rect x="1238.05" y="968.60" width="10.08" height="1.40" fill="#f4c34f" stroke="#000" stroke-width="0.9"/>
<rect x="1248.13" y="969.55" width="10.08" height="0.45" fill="#f4c34f" stroke="#000" stroke-width="0.9"/>
<rect x="1258.21" y="969.66" width="10.08" height="0.34" fill="#f4c34f" stroke="#000" stroke-width="0.9"/>
<rect x="1268.28" y="969.66" width="10.08" height="0.34" fill="#f4c34f" stroke="#000" stroke-width="0.9"/>
<rect x="1278.36" y="969.66" width="10.08" height="0.34" fill="#f4c34f" stroke="#000" stroke-width="0.9"/>
<rect x="1162.95" y="970.00" width="10.08" height="4.37" fill="#5b6bb0" stroke="#000" stroke-width="0.9"/>
<rect x="1173.03" y="970.00" width="10.08" height="10.30" fill="#5b6bb0" stroke="#000" stroke-width="0.9"/>
<rect x="1183.11" y="970.00" width="10.08" height="19.94" fill="#5b6bb0" stroke="#000" stroke-width="0.9"/>
<rect x="1193.18" y="970.00" width="10.08" height="19.94" fill="#5b6bb0" stroke="#000" stroke-width="0.9"/>
<rect x="1203.26" y="970.00" width="10.08" height="21.28" fill="#5b6bb0" stroke="#000" stroke-width="0.9"/>
<rect x="1213.33" y="970.00" width="10.08" height="13.33" fill="#5b6bb0" stroke="#000" stroke-width="0.9"/>
<rect x="1223.41" y="970.00" width="10.08" height="9.18" fill="#5b6bb0" stroke="#000" stroke-width="0.9"/>
<rect x="1233.48" y="970.00" width="10.08" height="6.16" fill="#5b6bb0" stroke="#000" stroke-width="0.9"/>
<rect x="1243.56" y="970.00" width="10.08" height="3.25" fill="#5b6bb0" stroke="#000" stroke-width="0.9"/>
<rect x="1253.64" y="970.00" width="10.08" height="0.45" fill="#5b6bb0" stroke="#000" stroke-width="0.9"/>
<rect x="1263.71" y="970.00" width="10.08" height="2.46" fill="#5b6bb0" stroke="#000" stroke-width="0.9"/>
<rect x="1273.79" y="970.00" width="10.08" height="0.45" fill="#5b6bb0" stroke="#000" stroke-width="0.9"/>
<rect x="1283.86" y="970.00" width="10.08" height="2.02" fill="#5b6bb0" stroke="#000" stroke-width="0.9"/>
<path d="M1146.2 936.5V1003.2H1323.8" fill="none" stroke="#333" stroke-width="1.3"/>
<line x1="1146.2" y1="970.0" x2="1323.8" y2="970.0" stroke="#000" stroke-width="1.7"/>
<path d="M1146.2 1003.2v-3M1205.4 1003.2v-3M1264.6 1003.2v-3M1323.8 1003.2v-3M1146.2 936.5h3" stroke="#333" stroke-width="1"/>
<line x1="1294.2" y1="936.5" x2="1294.2" y2="1003.2" stroke="#000" stroke-width="3"/>
<text transform="translate(1299.7,950.0) scale(1.000,1.050)" font-size="20.3" text-anchor="start" fill="#000">0.25</text>
<text transform="translate(1146.2,1029.7) scale(1.000,1.050)" font-size="19.5" text-anchor="middle" fill="#262626">0</text>
<text transform="translate(1205.4,1029.7) scale(1.000,1.050)" font-size="19.5" text-anchor="middle" fill="#262626">0.1</text>
<text transform="translate(1264.6,1029.7) scale(1.000,1.050)" font-size="19.5" text-anchor="middle" fill="#262626">0.2</text>
<text transform="translate(1323.8,1029.7) scale(1.000,1.050)" font-size="19.5" text-anchor="middle" fill="#262626">0.3</text>
<text transform="translate(1137.2,944.0) scale(1.000,1.050)" font-size="19.5" text-anchor="end" fill="#262626">0.3</text>
<text transform="translate(1137.2,977.0) scale(1.000,1.050)" font-size="19.5" text-anchor="end" fill="#262626">0</text>
<text transform="translate(1137.2,1010.5) scale(1.000,1.050)" font-size="19.5" text-anchor="end" fill="#262626">0.3</text>
<text transform="translate(1235.0,1053.0) scale(1.000,1.050)" font-size="20.3" text-anchor="middle" fill="#262626">Variation coefficient</text>
<text transform="translate(1101.2,969.7) rotate(-90) scale(1,1.05)" font-size="20.3" text-anchor="middle" fill="#262626">Fraction</text>
<line x1="1532.5" y1="1068.4" x2="2011.6" y2="590.9" stroke="#000" stroke-width="2.3" stroke-dasharray="9.3 8"/>
<path d="M1774.8 824.5h0M1774.8 827.9h0M1774.8 825.6h0M1774.8 829.2h0M1774.8 827.5h0M1774.8 826.8h0M1774.8 832.2h0M1774.8 824.7h0M1774.8 830.3h0M1777.2 828.3h0M1777.2 822.1h0M1777.2 822.9h0M1777.2 825.7h0M1777.2 820.6h0M1777.2 830.3h0M1777.2 830.3h0M1777.2 819.9h0M1777.2 827.9h0M1777.4 826.2h0M1777.4 822.9h0M1777.4 823.4h0M1777.4 823.3h0M1777.4 821.9h0M1777.4 827.1h0M1777.4 827.3h0M1777.4 824.0h0M1777.4 822.4h0M1727.3 875.4h0M1727.3 881.0h0M1727.3 877.5h0M1727.3 878.4h0M1727.3 871.4h0M1727.3 875.3h0M1727.3 875.9h0M1727.3 876.8h0M1727.3 876.1h0M1787.5 820.7h0M1787.5 816.0h0M1787.5 815.2h0M1787.5 813.4h0M1787.5 816.4h0M1787.5 819.3h0M1787.5 813.9h0M1787.5 818.4h0M1787.5 813.9h0M1773.1 827.4h0M1773.1 826.8h0M1773.1 830.4h0M1773.1 825.9h0M1773.1 822.7h0M1773.1 832.4h0M1773.1 829.1h0M1773.1 829.7h0M1773.1 827.0h0M1729.7 871.5h0M1729.7 873.1h0M1729.7 866.7h0M1729.7 871.4h0M1729.7 870.8h0M1729.7 874.7h0M1729.7 874.6h0M1729.7 875.7h0M1729.7 878.6h0M1770.4 827.0h0M1770.4 828.9h0M1770.4 828.3h0M1770.4 826.3h0M1770.4 830.3h0M1770.4 830.0h0M1770.4 833.0h0M1770.4 829.4h0M1770.4 834.5h0M1769.6 837.1h0M1769.6 837.8h0M1769.6 835.4h0M1769.6 831.6h0M1769.6 831.8h0M1769.6 831.6h0M1769.6 829.8h0M1769.6 832.6h0M1769.6 834.5h0M1756.2 846.3h0M1756.2 841.6h0M1756.2 848.5h0M1756.2 847.2h0M1756.2 841.5h0M1756.2 845.0h0M1756.2 849.2h0M1756.2 847.1h0M1756.2 844.7h0M1743.6 855.8h0M1743.6 857.2h0M1743.6 859.4h0M1743.6 857.6h0M1743.6 853.9h0M1743.6 856.5h0M1743.6 861.8h0M1743.6 862.1h0M1743.6 861.0h0M1758.7 841.5h0M1758.7 842.6h0M1758.7 844.4h0M1758.7 841.7h0M1758.7 845.6h0M1758.7 845.4h0M1758.7 843.8h0M1758.7 842.2h0M1758.7 852.4h0M1734.7 863.9h0M1734.7 865.5h0M1734.7 870.0h0M1734.7 867.5h0M1734.7 866.7h0M1734.7 870.4h0M1734.7 868.0h0M1734.7 865.9h0M1734.7 868.8h0M1749.5 855.1h0M1749.5 854.2h0M1749.5 851.9h0M1749.5 855.3h0M1749.5 854.7h0M1749.5 857.3h0M1749.5 857.7h0M1749.5 852.2h0M1749.5 854.1h0M1764.1 841.6h0M1764.1 834.3h0M1764.1 842.4h0M1764.1 836.7h0M1764.1 835.8h0M1764.1 831.1h0M1764.1 839.4h0M1764.1 838.3h0M1764.1 841.7h0M1770.0 833.2h0M1770.0 829.4h0M1770.0 828.5h0M1770.0 831.7h0M1770.0 832.5h0M1770.0 829.0h0M1770.0 835.2h0M1770.0 828.0h0M1770.0 833.0h0M1759.0 847.6h0M1759.0 841.5h0M1759.0 841.2h0M1759.0 847.0h0M1759.0 837.5h0M1759.0 841.1h0M1759.0 848.9h0M1759.0 843.2h0M1759.0 846.0h0M1781.1 826.5h0M1781.1 821.3h0M1781.1 820.1h0M1781.1 823.2h0M1781.1 821.7h0M1781.1 821.5h0M1781.1 822.7h0M1781.1 824.3h0M1781.1 822.5h0M1781.3 818.5h0M1781.3 818.5h0M1781.3 819.2h0M1781.3 818.3h0M1781.3 822.2h0M1781.3 824.1h0M1781.3 826.1h0M1781.3 818.4h0M1781.3 819.7h0M1782.4 821.6h0M1782.4 820.5h0M1782.4 819.3h0M1782.4 821.4h0M1782.4 821.4h0M1782.4 819.4h0M1782.4 824.5h0M1782.4 825.5h0M1782.4 819.9h0M1762.2 842.2h0M1762.2 841.3h0M1762.2 837.4h0M1762.2 840.1h0M1762.2 837.6h0M1762.2 840.2h0M1762.2 835.2h0M1762.2 843.1h0M1762.2 839.5h0M1740.2 863.0h0M1740.2 864.2h0M1740.2 861.0h0M1740.2 862.1h0M1740.2 862.9h0M1740.2 863.8h0M1740.2 869.6h0M1740.2 864.0h0M1740.2 870.7h0M1727.2 869.1h0M1727.2 866.8h0M1727.2 875.3h0M1727.2 869.1h0M1727.2 880.7h0M1727.2 876.6h0M1727.2 875.4h0M1727.2 877.7h0M1727.2 879.1h0M1761.4 842.4h0M1761.4 840.7h0M1761.4 837.2h0M1761.4 840.3h0M1761.4 838.6h0M1761.4 846.0h0M1761.4 846.6h0M1761.4 841.9h0M1761.4 840.9h0M1757.3 847.8h0M1757.3 847.1h0M1757.3 844.5h0M1757.3 841.2h0M1757.3 840.6h0M1757.3 849.1h0M1757.3 848.7h0M1757.3 847.0h0M1757.3 844.4h0M1724.4 880.8h0M1724.4 879.0h0M1724.4 880.4h0M1724.4 878.3h0M1724.4 880.0h0M1724.4 877.8h0M1724.4 878.2h0M1724.4 883.2h0M1724.4 877.7h0M1733.4 871.1h0M1733.4 870.5h0M1733.4 866.4h0M1733.4 867.8h0M1733.4 870.1h0M1733.4 869.6h0M1733.4 868.6h0M1733.4 875.6h0M1733.4 872.1h0M1786.1 816.5h0M1786.1 816.5h0M1786.1 821.0h0M1786.1 817.7h0M1786.1 813.6h0M1786.1 812.8h0M1786.1 815.6h0M1786.1 818.4h0M1786.1 818.9h0M1772.3 830.6h0M1772.3 833.2h0M1772.3 831.2h0M1772.3 836.3h0M1772.3 825.6h0M1772.3 829.6h0M1772.3 828.3h0M1772.3 835.1h0M1772.3 831.7h0M1782.1 819.8h0M1782.1 819.6h0M1782.1 819.8h0M1782.1 822.9h0M1782.1 819.2h0M1782.1 822.8h0M1782.1 816.0h0M1782.1 821.9h0M1782.1 818.4h0M1745.0 856.2h0M1745.0 860.1h0M1745.0 856.6h0M1745.0 854.5h0M1745.0 856.9h0M1745.0 858.6h0M1745.0 856.7h0M1745.0 856.5h0M1745.0 862.3h0M1751.9 858.1h0M1751.9 853.2h0M1751.9 853.5h0M1751.9 849.0h0M1751.9 849.6h0M1751.9 852.8h0M1751.9 849.2h0M1751.9 850.0h0M1751.9 846.2h0M1761.6 838.1h0M1761.6 845.4h0M1761.6 840.8h0M1761.6 839.8h0M1761.6 840.7h0M1761.6 839.9h0M1761.6 846.0h0M1761.6 841.2h0M1761.6 842.1h0M1750.0 854.6h0M1750.0 851.4h0M1750.0 855.2h0M1750.0 855.2h0M1750.0 849.8h0M1750.0 848.7h0M1750.0 850.6h0M1750.0 851.1h0M1750.0 849.7h0M1726.3 873.3h0M1726.3 877.0h0M1726.3 878.2h0M1726.3 879.7h0M1726.3 874.1h0M1726.3 875.6h0M1726.3 873.7h0M1726.3 873.5h0M1726.3 873.7h0M1754.3 846.8h0M1754.3 848.4h0M1754.3 846.4h0M1754.3 846.4h0M1754.3 846.2h0M1754.3 849.2h0M1754.3 847.1h0M1754.3 853.3h0M1754.3 845.4h0M1766.9 832.0h0M1766.9 834.9h0M1766.9 834.3h0M1766.9 838.8h0M1766.9 830.7h0M1766.9 844.4h0M1766.9 834.5h0M1766.9 841.7h0M1766.9 837.7h0M1747.2 854.7h0M1747.2 859.1h0M1747.2 856.4h0M1747.2 856.4h0M1747.2 856.2h0M1747.2 854.8h0M1747.2 856.2h0M1747.2 855.4h0M1747.2 855.1h0M1783.3 822.6h0M1783.3 824.4h0M1783.3 815.5h0M1783.3 816.7h0M1783.3 820.9h0M1783.3 820.9h0M1783.3 815.0h0M1783.3 818.6h0M1783.3 825.4h0M1783.9 818.5h0M1783.9 815.5h0M1783.9 822.4h0M1783.9 819.8h0M1783.9 821.5h0M1783.9 817.3h0M1783.9 816.4h0M1783.9 820.6h0M1783.9 822.3h0M1726.2 871.5h0M1726.2 877.2h0M1726.2 880.6h0M1726.2 873.7h0M1726.2 869.0h0M1726.2 874.8h0M1726.2 875.2h0M1726.2 874.4h0M1726.2 875.4h0M1750.9 852.8h0M1750.9 851.1h0M1750.9 851.4h0M1750.9 850.9h0M1750.9 844.2h0M1750.9 851.0h0M1750.9 854.3h0M1750.9 855.1h0M1750.9 849.4h0M1762.9 840.9h0M1762.9 838.4h0M1762.9 840.1h0M1762.9 842.1h0M1762.9 835.1h0M1762.9 831.9h0M1762.9 837.8h0M1762.9 843.8h0M1762.9 837.1h0M1750.4 855.9h0M1750.4 843.9h0M1750.4 855.5h0M1750.4 846.9h0M1750.4 852.6h0M1750.4 856.9h0M1750.4 850.9h0M1750.4 852.9h0M1750.4 853.7h0M1786.8 812.2h0M1786.8 816.2h0M1786.8 817.1h0M1786.8 815.7h0M1786.8 818.7h0M1786.8 816.4h0M1786.8 813.2h0M1786.8 811.0h0M1786.8 814.3h0M1743.6 864.4h0M1743.6 860.3h0M1743.6 860.5h0M1743.6 860.8h0M1743.6 858.9h0M1743.6 856.5h0M1743.6 858.7h0M1743.6 862.5h0M1743.6 859.1h0M1781.7 821.2h0M1781.7 821.2h0M1781.7 822.0h0M1781.7 823.7h0M1781.7 824.7h0M1781.7 816.1h0M1781.7 815.5h0M1781.7 819.3h0M1781.7 821.6h0M1746.3 852.4h0M1746.3 855.3h0M1746.3 853.6h0M1746.3 857.8h0M1746.3 857.2h0M1746.3 857.0h0M1746.3 856.2h0M1746.3 858.5h0M1746.3 858.8h0M1780.9 821.1h0M1780.9 824.6h0M1780.9 823.0h0M1780.9 822.9h0M1780.9 821.3h0M1780.9 827.4h0M1780.9 823.4h0M1780.9 820.3h0M1780.9 821.0h0M1730.8 866.6h0M1730.8 875.0h0M1730.8 868.2h0M1730.8 869.3h0M1730.8 874.2h0M1730.8 872.1h0M1730.8 870.8h0M1730.8 874.7h0M1730.8 873.9h0M1778.7 825.6h0M1778.7 825.3h0M1778.7 826.7h0M1778.7 825.3h0M1778.7 819.6h0M1778.7 824.2h0M1778.7 821.9h0M1778.7 827.7h0M1778.7 824.6h0M1778.1 823.0h0M1778.1 823.1h0M1778.1 822.2h0M1778.1 823.2h0M1778.1 820.4h0M1778.1 829.2h0M1778.1 824.8h0M1778.1 822.1h0M1778.1 824.1h0M1760.3 848.3h0M1760.3 853.6h0M1760.3 846.9h0M1760.3 844.6h0M1760.3 841.9h0M1760.3 836.5h0M1760.3 840.1h0M1760.3 840.7h0M1760.3 839.1h0M1743.7 859.2h0M1743.7 858.8h0M1743.7 861.1h0M1743.7 860.6h0M1743.7 858.1h0M1743.7 863.4h0M1743.7 858.7h0M1743.7 860.1h0M1743.7 862.6h0M1749.2 857.2h0M1749.2 857.4h0M1749.2 848.9h0M1749.2 855.5h0M1749.2 854.4h0M1749.2 857.4h0M1749.2 852.4h0M1749.2 854.1h0M1749.2 858.7h0M1732.4 870.5h0M1732.4 865.4h0M1732.4 876.6h0M1732.4 864.0h0M1732.4 870.7h0M1732.4 864.6h0M1732.4 873.4h0M1732.4 868.2h0M1732.4 869.1h0M1742.2 861.2h0M1742.2 858.9h0M1742.2 862.7h0M1742.2 861.3h0M1742.2 861.0h0M1742.2 863.1h0M1742.2 859.8h0M1742.2 866.5h0M1742.2 859.4h0M1757.3 840.5h0M1757.3 847.6h0M1757.3 847.7h0M1757.3 838.4h0M1757.3 842.8h0M1757.3 844.3h0M1757.3 845.3h0M1757.3 840.2h0M1757.3 847.2h0M1757.6 844.4h0M1757.6 845.2h0M1757.6 849.5h0M1757.6 842.3h0M1757.6 845.5h0M1757.6 846.4h0M1757.6 846.8h0M1757.6 842.3h0M1757.6 843.3h0M1754.4 846.4h0M1754.4 845.2h0M1754.4 842.1h0M1754.4 850.8h0M1754.4 846.2h0M1754.4 847.3h0M1754.4 845.6h0M1754.4 852.3h0M1754.4 848.8h0M1780.0 818.9h0M1780.0 826.9h0M1780.0 823.9h0M1780.0 828.8h0M1780.0 825.4h0M1780.0 824.4h0M1780.0 820.9h0M1780.0 822.0h0M1780.0 826.7h0M1738.0 863.2h0M1738.0 866.5h0M1738.0 865.0h0M1738.0 866.7h0M1738.0 865.5h0M1738.0 862.6h0M1738.0 862.4h0M1738.0 866.1h0M1738.0 864.8h0M1774.3 827.0h0M1774.3 830.0h0M1774.3 825.5h0M1774.3 826.7h0M1774.3 829.1h0M1774.3 833.9h0M1774.3 833.1h0M1774.3 830.4h0M1774.3 829.6h0M1779.4 821.3h0M1779.4 824.1h0M1779.4 825.7h0M1779.4 829.6h0M1779.4 821.5h0M1779.4 823.4h0M1779.4 821.1h0M1779.4 820.5h0M1779.4 820.9h0M1747.0 855.5h0M1747.0 850.2h0M1747.0 853.3h0M1747.0 860.1h0M1747.0 854.0h0M1747.0 859.0h0M1747.0 853.1h0M1747.0 856.2h0M1747.0 855.2h0M1728.0 871.1h0M1728.0 873.4h0M1728.0 873.0h0M1728.0 876.1h0M1728.0 877.4h0M1728.0 876.3h0M1728.0 872.1h0M1728.0 868.7h0M1728.0 872.6h0M1776.7 815.4h0M1776.7 828.0h0M1776.7 827.9h0M1776.7 822.8h0M1776.7 825.0h0M1776.7 827.6h0M1776.7 827.3h0M1776.7 824.4h0M1776.7 825.4h0M1770.9 831.6h0M1770.9 832.8h0M1770.9 830.2h0M1770.9 833.5h0M1770.9 835.5h0M1770.9 829.7h0M1770.9 833.6h0M1770.9 834.7h0M1770.9 830.9h0M1755.3 845.9h0M1755.3 851.4h0M1755.3 851.9h0M1755.3 840.9h0M1755.3 846.4h0M1755.3 847.2h0M1755.3 845.7h0M1755.3 848.3h0M1755.3 847.4h0M1783.5 819.3h0M1783.5 820.3h0M1783.5 819.3h0M1783.5 819.5h0M1783.5 819.3h0M1783.5 817.4h0M1783.5 816.9h0M1783.5 821.4h0M1783.5 824.7h0M1740.9 859.4h0M1740.9 861.2h0M1740.9 860.3h0M1740.9 863.3h0M1740.9 860.4h0M1740.9 859.7h0M1740.9 857.1h0M1740.9 866.6h0M1740.9 862.8h0M1770.7 832.4h0M1770.7 829.9h0M1770.7 834.8h0M1770.7 834.0h0M1770.7 833.4h0M1770.7 832.0h0M1770.7 838.1h0M1770.7 829.3h0M1770.7 837.1h0M1765.7 835.5h0M1765.7 838.3h0M1765.7 838.3h0M1765.7 842.8h0M1765.7 835.8h0M1765.7 845.4h0M1765.7 840.4h0M1765.7 837.2h0M1765.7 837.6h0M1749.1 853.2h0M1749.1 857.4h0M1749.1 848.8h0M1749.1 848.2h0M1749.1 854.2h0M1749.1 855.1h0M1749.1 857.6h0M1749.1 851.9h0M1749.1 855.5h0M1774.1 832.1h0M1774.1 828.6h0M1774.1 828.3h0M1774.1 825.9h0M1774.1 832.1h0M1774.1 826.3h0M1774.1 823.4h0M1774.1 826.1h0M1774.1 825.1h0M1731.1 868.8h0M1731.1 864.1h0M1731.1 872.8h0M1731.1 873.1h0M1731.1 864.2h0M1731.1 873.8h0M1731.1 870.7h0M1731.1 871.8h0M1731.1 871.3h0M1744.0 855.6h0M1744.0 862.8h0M1744.0 855.0h0M1744.0 859.1h0M1744.0 855.2h0M1744.0 856.5h0M1744.0 858.1h0M1744.0 853.8h0M1744.0 856.3h0M1755.9 846.0h0M1755.9 843.1h0M1755.9 842.2h0M1755.9 847.8h0M1755.9 841.2h0M1755.9 848.2h0M1755.9 850.8h0M1755.9 845.9h0M1755.9 848.2h0M1785.9 818.5h0M1785.9 818.2h0M1785.9 814.7h0M1785.9 820.2h0M1785.9 812.7h0M1785.9 811.3h0M1785.9 817.3h0M1785.9 815.0h0M1785.9 825.8h0M1773.0 833.4h0M1773.0 831.0h0M1773.0 828.3h0M1773.0 830.4h0M1773.0 831.0h0M1773.0 831.0h0M1773.0 830.4h0M1773.0 831.7h0M1773.0 833.1h0M1804.2 801.4h0M1804.2 797.0h0M1804.2 800.7h0M1804.2 799.0h0M1804.2 799.4h0M1804.2 801.0h0M1804.2 794.5h0M1804.2 795.0h0M1804.2 799.0h0M1816.8 788.1h0M1816.8 789.1h0M1816.8 783.2h0M1816.8 783.1h0M1816.8 793.5h0M1816.8 787.0h0M1816.8 787.9h0M1816.8 787.2h0M1816.8 784.4h0M1817.3 782.9h0M1817.3 782.6h0M1817.3 786.0h0M1817.3 784.2h0M1817.3 792.6h0M1817.3 779.2h0M1817.3 784.8h0M1817.3 788.8h0M1817.3 786.0h0M1806.2 796.7h0M1806.2 797.2h0M1806.2 801.4h0M1806.2 793.9h0M1806.2 795.2h0M1806.2 795.7h0M1806.2 796.6h0M1806.2 801.4h0M1806.2 793.5h0M1811.7 795.3h0M1811.7 793.5h0M1811.7 793.6h0M1811.7 792.4h0M1811.7 792.0h0M1811.7 792.3h0M1811.7 787.8h0M1811.7 787.1h0M1811.7 794.6h0M1827.0 776.9h0M1827.0 775.1h0M1827.0 778.1h0M1827.0 774.5h0M1827.0 777.5h0M1827.0 779.3h0M1827.0 770.8h0M1827.0 773.9h0M1827.0 773.4h0M1831.9 768.0h0M1831.9 768.6h0M1831.9 768.4h0M1831.9 769.4h0M1831.9 768.6h0M1831.9 770.2h0M1831.9 771.7h0M1831.9 768.1h0M1831.9 768.8h0M1780.2 825.1h0M1780.2 826.8h0M1780.2 821.1h0M1780.2 825.1h0M1780.2 820.6h0M1780.2 817.1h0M1780.2 821.4h0M1780.2 825.7h0M1780.2 822.9h0M1832.6 775.8h0M1832.6 767.1h0M1832.6 767.4h0M1832.6 764.6h0M1832.6 764.3h0M1832.6 770.6h0M1832.6 777.1h0M1832.6 770.3h0M1832.6 770.0h0M1819.2 786.4h0M1819.2 782.2h0M1819.2 780.7h0M1819.2 780.8h0M1819.2 783.7h0M1819.2 785.1h0M1819.2 783.7h0M1819.2 782.7h0M1819.2 786.1h0M1835.4 765.3h0M1835.4 767.5h0M1835.4 768.4h0M1835.4 768.8h0M1835.4 769.7h0M1835.4 771.0h0M1835.4 767.2h0M1835.4 764.3h0M1835.4 766.7h0M1816.7 787.3h0M1816.7 791.4h0M1816.7 783.4h0M1816.7 792.7h0M1816.7 786.2h0M1816.7 788.4h0M1816.7 787.5h0M1816.7 784.6h0M1816.7 785.5h0M1824.0 781.1h0M1824.0 782.3h0M1824.0 777.9h0M1824.0 779.1h0M1824.0 776.5h0M1824.0 779.0h0M1824.0 780.6h0M1824.0 777.4h0M1824.0 780.6h0M1843.2 758.8h0M1843.2 759.2h0M1843.2 763.0h0M1843.2 766.5h0M1843.2 759.6h0M1843.2 759.5h0M1843.2 761.1h0M1843.2 756.9h0M1843.2 756.5h0M1780.2 820.2h0M1780.2 823.5h0M1780.2 822.1h0M1780.2 825.9h0M1780.2 821.2h0M1780.2 824.2h0M1780.2 823.1h0M1780.2 823.7h0M1780.2 823.6h0M1842.4 754.9h0M1842.4 755.6h0M1842.4 763.0h0M1842.4 758.2h0M1842.4 762.5h0M1842.4 758.3h0M1842.4 761.5h0M1842.4 762.4h0M1842.4 760.1h0M1820.0 782.1h0M1820.0 785.5h0M1820.0 784.3h0M1820.0 786.6h0M1820.0 790.6h0M1820.0 780.0h0M1820.0 785.6h0M1820.0 781.6h0M1820.0 787.8h0M1787.9 812.2h0M1787.9 813.7h0M1787.9 814.4h0M1787.9 807.8h0M1787.9 814.7h0M1787.9 809.2h0M1787.9 819.9h0M1787.9 814.8h0M1787.9 816.3h0M1780.2 827.9h0M1780.2 828.1h0M1780.2 824.6h0M1780.2 821.9h0M1780.2 826.6h0M1780.2 824.5h0M1780.2 822.8h0M1780.2 822.2h0M1780.2 827.2h0M1822.0 782.0h0M1822.0 786.0h0M1822.0 782.3h0M1822.0 781.5h0M1822.0 777.1h0M1822.0 779.4h0M1822.0 785.5h0M1822.0 779.2h0M1822.0 782.8h0M1800.6 796.9h0M1800.6 803.9h0M1800.6 798.4h0M1800.6 797.8h0M1800.6 805.5h0M1800.6 805.8h0M1800.6 793.5h0M1800.6 801.4h0M1800.6 802.1h0M1833.0 775.0h0M1833.0 771.0h0M1833.0 767.1h0M1833.0 778.5h0M1833.0 775.9h0M1833.0 767.2h0M1833.0 772.7h0M1833.0 771.6h0M1833.0 766.8h0M1820.4 787.4h0M1820.4 787.6h0M1820.4 779.4h0M1820.4 786.2h0M1820.4 783.4h0M1820.4 782.6h0M1820.4 785.1h0M1820.4 785.3h0M1820.4 784.5h0M1814.8 790.9h0M1814.8 785.8h0M1814.8 787.4h0M1814.8 794.4h0M1814.8 785.2h0M1814.8 785.5h0M1814.8 790.3h0M1814.8 786.6h0M1814.8 784.1h0M1832.9 767.1h0M1832.9 768.2h0M1832.9 770.5h0M1832.9 766.8h0M1832.9 768.0h0M1832.9 769.4h0M1832.9 769.7h0M1832.9 773.8h0M1832.9 769.2h0M1820.1 777.4h0M1820.1 791.8h0M1820.1 785.3h0M1820.1 781.2h0M1820.1 781.7h0M1820.1 779.0h0M1820.1 781.2h0M1820.1 777.0h0M1820.1 783.5h0M1828.8 778.2h0M1828.8 773.6h0M1828.8 775.0h0M1828.8 775.2h0M1828.8 776.4h0M1828.8 772.4h0M1828.8 774.7h0M1828.8 776.1h0M1828.8 772.4h0M1830.3 774.4h0M1830.3 776.8h0M1830.3 771.1h0M1830.3 777.5h0M1830.3 773.4h0M1830.3 781.1h0M1830.3 772.5h0M1830.3 772.0h0M1830.3 769.4h0M1822.1 783.5h0M1822.1 777.8h0M1822.1 785.2h0M1822.1 779.8h0M1822.1 783.2h0M1822.1 787.6h0M1822.1 783.3h0M1822.1 778.9h0M1822.1 778.5h0M1829.6 774.1h0M1829.6 775.8h0M1829.6 774.5h0M1829.6 776.5h0M1829.6 775.5h0M1829.6 774.0h0M1829.6 771.8h0M1829.6 774.2h0M1829.6 776.4h0M1829.6 777.5h0M1829.6 777.5h0M1829.6 772.8h0M1829.6 774.5h0M1829.6 776.2h0M1829.6 774.6h0M1829.6 771.0h0M1829.6 772.8h0M1829.6 773.6h0M1795.1 809.0h0M1795.1 812.3h0M1795.1 804.2h0M1795.1 809.2h0M1795.1 809.6h0M1795.1 810.5h0M1795.1 812.2h0M1795.1 810.3h0M1795.1 807.9h0M1812.6 788.6h0M1812.6 788.9h0M1812.6 788.8h0M1812.6 795.3h0M1812.6 787.9h0M1812.6 790.0h0M1812.6 791.1h0M1812.6 793.7h0M1812.6 789.6h0M1815.0 788.8h0M1815.0 785.4h0M1815.0 785.7h0M1815.0 781.0h0M1815.0 787.5h0M1815.0 789.7h0M1815.0 785.7h0M1815.0 786.2h0M1815.0 788.1h0M1810.9 794.3h0M1810.9 793.8h0M1810.9 794.5h0M1810.9 791.1h0M1810.9 789.7h0M1810.9 787.5h0M1810.9 793.5h0M1810.9 795.7h0M1810.9 796.4h0M1791.6 811.6h0M1791.6 812.2h0M1791.6 811.6h0M1791.6 817.4h0M1791.6 814.0h0M1791.6 817.2h0M1791.6 809.9h0M1791.6 810.5h0M1791.6 810.7h0M1807.9 796.0h0M1807.9 791.5h0M1807.9 796.0h0M1807.9 795.1h0M1807.9 797.9h0M1807.9 795.8h0M1807.9 794.6h0M1807.9 796.0h0M1807.9 796.7h0M1822.4 783.0h0M1822.4 780.6h0M1822.4 781.9h0M1822.4 783.9h0M1822.4 779.4h0M1822.4 782.5h0M1822.4 783.2h0M1822.4 781.4h0M1822.4 783.1h0M1820.0 780.6h0M1820.0 786.8h0M1820.0 785.1h0M1820.0 779.0h0M1820.0 781.3h0M1820.0 779.3h0M1820.0 779.3h0M1820.0 782.3h0M1820.0 784.4h0M1841.3 762.9h0M1841.3 755.4h0M1841.3 761.4h0M1841.3 758.4h0M1841.3 761.2h0M1841.3 759.4h0M1841.3 762.7h0M1841.3 757.8h0M1841.3 763.1h0M1807.3 798.0h0M1807.3 795.4h0M1807.3 794.7h0M1807.3 789.4h0M1807.3 800.0h0M1807.3 790.5h0M1807.3 794.2h0M1807.3 794.4h0M1807.3 794.4h0M1810.0 792.3h0M1810.0 794.1h0M1810.0 792.2h0M1810.0 789.8h0M1810.0 797.3h0M1810.0 795.8h0M1810.0 796.2h0M1810.0 793.3h0M1810.0 793.8h0M1807.8 795.3h0M1807.8 793.8h0M1807.8 790.9h0M1807.8 788.9h0M1807.8 795.3h0M1807.8 794.4h0M1807.8 793.7h0M1807.8 789.5h0M1807.8 789.7h0M1811.9 793.8h0M1811.9 789.5h0M1811.9 794.6h0M1811.9 789.4h0M1811.9 795.9h0M1811.9 792.8h0M1811.9 796.5h0M1811.9 791.8h0M1811.9 794.2h0M1807.3 794.3h0M1807.3 803.4h0M1807.3 792.9h0M1807.3 795.1h0M1807.3 792.6h0M1807.3 796.3h0M1807.3 801.0h0M1807.3 796.1h0M1807.3 792.1h0M1787.1 814.2h0M1787.1 810.3h0M1787.1 817.1h0M1787.1 820.6h0M1787.1 821.3h0M1787.1 817.9h0M1787.1 817.3h0M1787.1 815.0h0M1787.1 814.5h0M1822.5 783.5h0M1822.5 779.6h0M1822.5 778.4h0M1822.5 779.5h0M1822.5 778.6h0M1822.5 782.6h0M1822.5 779.6h0M1822.5 782.1h0M1822.5 780.0h0M1832.7 769.1h0M1832.7 773.9h0M1832.7 775.1h0M1832.7 767.6h0M1832.7 766.8h0M1832.7 766.7h0M1832.7 772.2h0M1832.7 769.3h0M1832.7 772.9h0M1834.8 765.8h0M1834.8 768.3h0M1834.8 764.4h0M1834.8 766.4h0M1834.8 767.9h0M1834.8 767.3h0M1834.8 769.2h0M1834.8 770.8h0M1834.8 768.7h0M1799.6 804.0h0M1799.6 799.3h0M1799.6 805.4h0M1799.6 805.9h0M1799.6 804.7h0M1799.6 799.9h0M1799.6 807.8h0M1799.6 805.3h0M1799.6 807.8h0M1813.9 789.0h0M1813.9 783.1h0M1813.9 794.0h0M1813.9 788.5h0M1813.9 785.9h0M1813.9 785.8h0M1813.9 791.6h0M1813.9 791.4h0M1813.9 786.5h0M1846.5 756.3h0M1846.5 758.3h0M1846.5 754.9h0M1846.5 753.8h0M1846.5 760.3h0M1846.5 758.2h0M1846.5 754.0h0M1846.5 758.8h0M1846.5 754.3h0M1815.2 792.5h0M1815.2 789.4h0M1815.2 788.2h0M1815.2 785.5h0M1815.2 788.2h0M1815.2 784.5h0M1815.2 789.2h0M1815.2 782.5h0M1815.2 781.1h0M1822.5 779.6h0M1822.5 784.5h0M1822.5 781.1h0M1822.5 781.6h0M1822.5 781.0h0M1822.5 780.8h0M1822.5 774.9h0M1822.5 773.1h0M1822.5 779.6h0M1814.5 786.4h0M1814.5 786.0h0M1814.5 789.3h0M1814.5 790.4h0M1814.5 792.5h0M1814.5 793.4h0M1814.5 790.7h0M1814.5 787.9h0M1814.5 790.9h0M1833.0 771.0h0M1833.0 771.5h0M1833.0 772.1h0M1833.0 773.1h0M1833.0 768.9h0M1833.0 773.7h0M1833.0 765.8h0M1833.0 773.2h0M1833.0 770.2h0M1832.4 773.8h0M1832.4 773.2h0M1832.4 772.1h0M1832.4 770.0h0M1832.4 769.8h0M1832.4 774.3h0M1832.4 777.2h0M1832.4 769.2h0M1832.4 773.1h0M1854.1 751.9h0M1854.1 749.8h0M1854.1 749.5h0M1854.1 746.0h0M1854.1 749.6h0M1854.1 747.5h0M1854.1 747.0h0M1854.1 746.8h0M1854.1 750.7h0M1824.9 774.5h0M1824.9 777.2h0M1824.9 777.4h0M1824.9 775.5h0M1824.9 779.9h0M1824.9 784.8h0M1824.9 781.5h0M1824.9 775.0h0M1824.9 777.3h0M1824.1 774.2h0M1824.1 780.3h0M1824.1 778.9h0M1824.1 782.4h0M1824.1 780.5h0M1824.1 773.6h0M1824.1 778.2h0M1824.1 783.1h0M1824.1 777.3h0M1797.6 803.2h0M1797.6 806.5h0M1797.6 806.9h0M1797.6 804.4h0M1797.6 803.2h0M1797.6 803.6h0M1797.6 806.8h0M1797.6 807.9h0M1797.6 808.4h0M1810.4 789.5h0M1810.4 793.0h0M1810.4 793.8h0M1810.4 790.6h0M1810.4 788.0h0M1810.4 788.6h0M1810.4 792.4h0M1810.4 794.9h0M1810.4 795.7h0M1805.7 794.3h0M1805.7 799.9h0M1805.7 796.1h0M1805.7 795.1h0M1805.7 793.1h0M1805.7 797.5h0M1805.7 795.2h0M1805.7 800.1h0M1805.7 799.7h0M1811.7 785.4h0M1811.7 792.6h0M1811.7 788.7h0M1811.7 789.4h0M1811.7 790.6h0M1811.7 795.0h0M1811.7 789.0h0M1811.7 793.3h0M1811.7 790.8h0M1796.0 807.0h0M1796.0 808.5h0M1796.0 801.2h0M1796.0 808.8h0M1796.0 804.3h0M1796.0 806.5h0M1796.0 810.9h0M1796.0 804.2h0M1796.0 800.6h0M1836.4 766.4h0M1836.4 765.5h0M1836.4 762.4h0M1836.4 763.4h0M1836.4 772.2h0M1836.4 767.1h0M1836.4 761.6h0M1836.4 770.2h0M1836.4 764.3h0M1800.1 806.0h0M1800.1 804.4h0M1800.1 805.0h0M1800.1 801.4h0M1800.1 801.0h0M1800.1 805.4h0M1800.1 800.9h0M1800.1 802.9h0M1800.1 800.4h0M1821.3 787.4h0M1821.3 786.4h0M1821.3 785.5h0M1821.3 783.3h0M1821.3 783.0h0M1821.3 787.4h0M1821.3 781.1h0M1821.3 782.2h0M1821.3 777.7h0M1796.8 806.0h0M1796.8 801.6h0M1796.8 807.7h0M1796.8 809.6h0M1796.8 807.7h0M1796.8 803.4h0M1796.8 809.5h0M1796.8 806.7h0M1796.8 808.9h0M1822.5 775.0h0M1822.5 778.6h0M1822.5 777.0h0M1822.5 786.4h0M1822.5 777.6h0M1822.5 778.4h0M1822.5 784.7h0M1822.5 778.4h0M1822.5 780.9h0M1843.4 762.9h0M1843.4 761.6h0M1843.4 759.5h0M1843.4 758.7h0M1843.4 763.1h0M1843.4 753.1h0M1843.4 761.1h0M1843.4 763.6h0M1843.4 758.4h0M1803.8 795.7h0M1803.8 799.4h0M1803.8 798.1h0M1803.8 797.2h0M1803.8 802.0h0M1803.8 800.8h0M1803.8 801.4h0M1803.8 802.5h0M1803.8 807.2h0M1822.8 785.7h0M1822.8 779.1h0M1822.8 785.3h0M1822.8 777.2h0M1822.8 782.0h0M1822.8 777.6h0M1822.8 779.8h0M1822.8 781.8h0M1822.8 773.5h0M1815.9 784.1h0M1815.9 788.5h0M1815.9 781.4h0M1815.9 786.2h0M1815.9 789.2h0M1815.9 785.6h0M1815.9 787.7h0M1815.9 786.0h0M1815.9 784.4h0M1821.5 785.0h0M1821.5 781.1h0M1821.5 781.1h0M1821.5 781.9h0M1821.5 782.1h0M1821.5 777.2h0M1821.5 779.9h0M1821.5 785.9h0M1821.5 781.4h0M1823.7 780.2h0M1823.7 779.8h0M1823.7 781.2h0M1823.7 781.7h0M1823.7 781.6h0M1823.7 776.0h0M1823.7 774.3h0M1823.7 780.6h0M1823.7 785.0h0M1806.8 797.0h0M1806.8 796.0h0M1806.8 796.7h0M1806.8 795.6h0M1806.8 797.7h0M1806.8 792.8h0M1806.8 801.1h0M1806.8 791.9h0M1806.8 796.6h0M1814.1 789.7h0M1814.1 788.7h0M1814.1 789.5h0M1814.1 790.0h0M1814.1 789.0h0M1814.1 787.9h0M1814.1 793.1h0M1814.1 787.1h0M1814.1 788.5h0M1807.5 799.6h0M1807.5 798.2h0M1807.5 793.8h0M1807.5 790.7h0M1807.5 795.8h0M1807.5 800.6h0M1807.5 796.6h0M1807.5 795.4h0M1807.5 795.9h0M1803.8 799.7h0M1803.8 797.9h0M1803.8 799.2h0M1803.8 803.8h0M1803.8 803.9h0M1803.8 796.9h0M1803.8 800.0h0M1803.8 800.2h0M1803.8 798.6h0M1797.3 804.2h0M1797.3 809.2h0M1797.3 809.8h0M1797.3 799.6h0M1797.3 808.3h0M1797.3 807.3h0M1797.3 807.0h0M1797.3 809.5h0M1797.3 803.7h0M1832.3 773.4h0M1832.3 769.5h0M1832.3 770.5h0M1832.3 767.0h0M1832.3 765.3h0M1832.3 770.7h0M1832.3 766.5h0M1832.3 770.0h0M1832.3 773.2h0M1805.1 797.0h0M1805.1 795.9h0M1805.1 796.5h0M1805.1 796.9h0M1805.1 799.5h0M1805.1 793.6h0M1805.1 793.8h0M1805.1 796.0h0M1805.1 803.8h0M1827.6 776.4h0M1827.6 777.7h0M1827.6 775.8h0M1827.6 771.1h0M1827.6 778.6h0M1827.6 770.4h0M1827.6 773.3h0M1827.6 778.1h0M1827.6 774.1h0M1825.8 775.7h0M1825.8 777.2h0M1825.8 774.4h0M1825.8 774.7h0M1825.8 783.4h0M1825.8 773.5h0M1825.8 771.6h0M1825.8 782.8h0M1825.8 779.3h0M1801.0 804.5h0M1801.0 798.9h0M1801.0 801.2h0M1801.0 798.0h0M1801.0 805.2h0M1801.0 808.1h0M1801.0 798.6h0M1801.0 799.0h0M1801.0 802.8h0M1833.7 773.3h0M1833.7 773.8h0M1833.7 770.6h0M1833.7 771.8h0M1833.7 778.1h0M1833.7 771.6h0M1833.7 773.4h0M1833.7 773.0h0M1833.7 767.7h0M1803.2 797.9h0M1803.2 798.0h0M1803.2 800.0h0M1803.2 802.7h0M1803.2 806.8h0M1803.2 798.9h0M1803.2 803.3h0M1803.2 803.1h0M1803.2 800.6h0M1827.0 776.8h0M1827.0 773.1h0M1827.0 769.3h0M1827.0 779.7h0M1827.0 777.6h0M1827.0 772.9h0M1827.0 775.2h0M1827.0 776.2h0M1827.0 776.5h0M1840.2 760.0h0M1840.2 765.9h0M1840.2 767.7h0M1840.2 763.1h0M1840.2 763.1h0M1840.2 769.4h0M1840.2 761.1h0M1840.2 762.6h0M1840.2 760.5h0M1805.5 794.1h0M1805.5 797.3h0M1805.5 797.1h0M1805.5 798.0h0M1805.5 791.6h0M1805.5 797.4h0M1805.5 801.4h0M1805.5 798.9h0M1805.5 800.3h0M1802.1 798.9h0M1802.1 797.8h0M1802.1 802.1h0M1802.1 803.1h0M1802.1 801.4h0M1802.1 804.6h0M1802.1 802.4h0M1802.1 798.8h0M1802.1 800.3h0M1801.9 803.1h0M1801.9 797.5h0M1801.9 806.8h0M1801.9 801.6h0M1801.9 801.5h0M1801.9 796.7h0M1801.9 804.7h0M1801.9 805.5h0M1801.9 800.6h0M1853.6 747.8h0M1853.6 753.2h0M1853.6 746.0h0M1853.6 754.0h0M1853.6 752.1h0M1853.6 748.8h0M1853.6 754.1h0M1853.6 744.8h0M1853.6 752.5h0M1810.9 793.7h0M1810.9 785.9h0M1810.9 791.0h0M1810.9 795.9h0M1810.9 786.2h0M1810.9 790.7h0M1810.9 794.8h0M1810.9 795.9h0M1810.9 799.2h0M1796.7 809.0h0M1796.7 803.5h0M1796.7 811.3h0M1796.7 802.2h0M1796.7 803.4h0M1796.7 813.3h0M1796.7 805.2h0M1796.7 804.9h0M1796.7 804.9h0M1829.9 777.6h0M1829.9 774.2h0M1829.9 773.0h0M1829.9 774.4h0M1829.9 774.1h0M1829.9 773.8h0M1829.9 770.2h0M1829.9 771.6h0M1829.9 767.4h0M1814.1 792.9h0M1814.1 791.7h0M1814.1 790.0h0M1814.1 790.0h0M1814.1 783.8h0M1814.1 783.6h0M1814.1 789.0h0M1814.1 784.5h0M1814.1 792.4h0M1816.4 782.9h0M1816.4 792.3h0M1816.4 790.3h0M1816.4 789.3h0M1816.4 791.3h0M1816.4 789.1h0M1816.4 791.9h0M1816.4 783.5h0M1816.4 789.4h0M1800.9 798.1h0M1800.9 803.4h0M1800.9 798.7h0M1800.9 803.2h0M1800.9 806.9h0M1800.9 800.3h0M1800.9 803.8h0M1800.9 806.4h0M1800.9 800.7h0M1781.3 820.7h0M1781.3 820.4h0M1781.3 822.0h0M1781.3 824.2h0M1781.3 820.0h0M1781.3 822.1h0M1781.3 821.0h0M1781.3 818.2h0M1781.3 816.7h0M1805.2 801.2h0M1805.2 805.5h0M1805.2 797.1h0M1805.2 797.8h0M1805.2 797.2h0M1805.2 800.2h0M1805.2 797.5h0M1805.2 799.6h0M1805.2 797.3h0M1800.1 808.0h0M1800.1 802.8h0M1800.1 803.8h0M1800.1 795.0h0M1800.1 800.8h0M1800.1 800.7h0M1800.1 800.2h0M1800.1 797.7h0M1800.1 799.8h0M1790.9 809.4h0M1790.9 813.7h0M1790.9 816.0h0M1790.9 804.2h0M1790.9 816.1h0M1790.9 814.2h0M1790.9 807.7h0M1790.9 809.8h0M1790.9 810.0h0M1799.4 805.4h0M1799.4 800.4h0M1799.4 806.3h0M1799.4 803.6h0M1799.4 803.5h0M1799.4 803.3h0M1799.4 807.7h0M1799.4 803.9h0M1799.4 801.5h0M1801.6 798.7h0M1801.6 804.6h0M1801.6 803.4h0M1801.6 809.2h0M1801.6 803.3h0M1801.6 799.5h0M1801.6 804.7h0M1801.6 799.6h0M1801.6 803.9h0M1829.6 767.2h0M1829.6 775.1h0M1829.6 774.4h0M1829.6 769.2h0M1829.6 775.5h0M1829.6 778.3h0M1829.6 770.0h0M1829.6 768.0h0M1829.6 775.0h0M1828.0 777.8h0M1828.0 775.8h0M1828.0 779.1h0M1828.0 777.5h0M1828.0 778.7h0M1828.0 779.0h0M1828.0 777.1h0M1828.0 770.6h0M1828.0 775.8h0M1825.0 779.3h0M1825.0 776.2h0M1825.0 777.8h0M1825.0 772.8h0M1825.0 774.3h0M1825.0 781.0h0M1825.0 777.9h0M1825.0 780.4h0M1825.0 778.2h0M1808.2 797.1h0M1808.2 794.7h0M1808.2 791.1h0M1808.2 795.4h0M1808.2 799.7h0M1808.2 794.9h0M1808.2 795.7h0M1808.2 789.1h0M1808.2 798.6h0M1796.6 803.7h0M1796.6 809.9h0M1796.6 803.7h0M1796.6 805.7h0M1796.6 807.7h0M1796.6 810.8h0M1796.6 800.6h0M1796.6 809.2h0M1796.6 807.4h0M1821.5 781.7h0M1821.5 778.3h0M1821.5 784.7h0M1821.5 782.6h0M1821.5 778.6h0M1821.5 777.0h0M1821.5 779.1h0M1821.5 780.8h0M1821.5 787.1h0M1824.1 783.0h0M1824.1 775.8h0M1824.1 777.3h0M1824.1 779.6h0M1824.1 774.1h0M1824.1 776.9h0M1824.1 780.6h0M1824.1 777.3h0M1824.1 776.3h0M1832.8 772.0h0M1832.8 768.5h0M1832.8 771.5h0M1832.8 770.3h0M1832.8 772.8h0M1832.8 770.4h0M1832.8 768.0h0M1832.8 768.3h0M1832.8 767.7h0M1816.3 784.2h0M1816.3 789.3h0M1816.3 788.2h0M1816.3 786.6h0M1816.3 782.0h0M1816.3 782.8h0M1816.3 781.7h0M1816.3 790.5h0M1816.3 790.6h0M1814.7 791.1h0M1814.7 793.4h0M1814.7 788.4h0M1814.7 784.2h0M1814.7 789.5h0M1814.7 790.3h0M1814.7 785.4h0M1814.7 793.0h0M1814.7 790.4h0M1821.7 782.4h0M1821.7 782.2h0M1821.7 786.2h0M1821.7 782.0h0M1821.7 781.5h0M1821.7 780.3h0M1821.7 779.2h0M1821.7 785.7h0M1821.7 780.2h0M1801.9 801.6h0M1801.9 797.9h0M1801.9 799.5h0M1801.9 801.8h0M1801.9 801.6h0M1801.9 802.3h0M1801.9 798.7h0M1801.9 803.0h0M1801.9 808.9h0M1803.9 797.8h0M1803.9 796.3h0M1803.9 805.2h0M1803.9 802.8h0M1803.9 798.5h0M1803.9 799.4h0M1803.9 801.5h0M1803.9 800.6h0M1803.9 797.5h0M1827.0 772.6h0M1827.0 773.9h0M1827.0 775.4h0M1827.0 777.2h0M1827.0 775.3h0M1827.0 776.0h0M1827.0 777.3h0M1827.0 773.3h0M1827.0 775.9h0M1796.6 806.2h0M1796.6 804.5h0M1796.6 805.8h0M1796.6 805.8h0M1796.6 807.3h0M1796.6 800.8h0M1796.6 808.8h0M1796.6 809.4h0M1796.6 809.1h0M1815.5 784.2h0M1815.5 785.8h0M1815.5 787.9h0M1815.5 782.7h0M1815.5 789.8h0M1815.5 788.3h0M1815.5 789.5h0M1815.5 788.9h0M1815.5 788.7h0M1829.3 775.2h0M1829.3 765.4h0M1829.3 775.6h0M1829.3 772.9h0M1829.3 773.2h0M1829.3 772.6h0M1829.3 777.1h0M1829.3 775.2h0M1829.3 774.7h0M1820.6 780.3h0M1820.6 783.5h0M1820.6 785.6h0M1820.6 783.7h0M1820.6 779.3h0M1820.6 781.4h0M1820.6 779.4h0M1820.6 782.1h0M1820.6 788.0h0M1823.7 776.7h0M1823.7 779.1h0M1823.7 782.4h0M1823.7 782.1h0M1823.7 779.3h0M1823.7 782.2h0M1823.7 777.5h0M1823.7 776.2h0M1823.7 784.3h0M1799.1 803.5h0M1799.1 802.0h0M1799.1 804.9h0M1799.1 802.8h0M1799.1 806.2h0M1799.1 802.7h0M1799.1 808.7h0M1799.1 805.6h0M1799.1 801.8h0M1814.8 781.3h0M1814.8 789.7h0M1814.8 788.0h0M1814.8 785.2h0M1814.8 788.2h0M1814.8 785.3h0M1814.8 785.9h0M1814.8 792.3h0M1814.8 788.3h0M1812.5 786.7h0M1812.5 788.4h0M1812.5 785.1h0M1812.5 789.0h0M1812.5 788.9h0M1812.5 790.4h0M1812.5 791.4h0M1812.5 791.2h0M1812.5 791.8h0M1826.5 777.2h0M1826.5 776.7h0M1826.5 776.2h0M1826.5 772.4h0M1826.5 774.4h0M1826.5 773.6h0M1826.5 784.2h0M1826.5 777.8h0M1826.5 780.0h0M1823.6 784.6h0M1823.6 782.8h0M1823.6 778.8h0M1823.6 785.0h0M1823.6 784.6h0M1823.6 778.8h0M1823.6 777.4h0M1823.6 780.5h0M1823.6 778.4h0M1817.4 784.7h0M1817.4 782.9h0M1817.4 788.7h0M1817.4 790.0h0M1817.4 780.0h0M1817.4 786.4h0M1817.4 782.9h0M1817.4 788.6h0M1817.4 787.7h0M1847.3 759.2h0M1847.3 752.3h0M1847.3 762.5h0M1847.3 760.6h0M1847.3 759.1h0M1847.3 753.5h0M1847.3 760.4h0M1847.3 759.8h0M1847.3 758.8h0M1825.7 777.4h0M1825.7 782.0h0M1825.7 781.0h0M1825.7 782.0h0M1825.7 781.0h0M1825.7 773.6h0M1825.7 777.7h0M1825.7 779.4h0M1825.7 777.8h0M1812.5 796.3h0M1812.5 797.4h0M1812.5 791.4h0M1812.5 792.5h0M1812.5 794.0h0M1812.5 797.5h0M1812.5 792.6h0M1812.5 789.2h0M1812.5 794.2h0M1807.3 792.9h0M1807.3 794.8h0M1807.3 799.4h0M1807.3 794.1h0M1807.3 794.6h0M1807.3 796.8h0M1807.3 795.7h0M1807.3 799.7h0M1807.3 794.9h0M1816.5 780.7h0M1816.5 788.0h0M1816.5 789.7h0M1816.5 791.0h0M1816.5 783.1h0M1816.5 785.4h0M1816.5 787.4h0M1816.5 786.3h0M1816.5 790.4h0M1808.0 797.6h0M1808.0 796.4h0M1808.0 795.0h0M1808.0 793.1h0M1808.0 793.7h0M1808.0 800.6h0M1808.0 792.7h0M1808.0 793.6h0M1808.0 796.9h0M1843.3 760.4h0M1843.3 758.7h0M1843.3 755.4h0M1843.3 758.2h0M1843.3 757.4h0M1843.3 757.8h0M1843.3 758.7h0M1843.3 762.0h0M1843.3 758.2h0M1826.3 779.3h0M1826.3 775.5h0M1826.3 774.0h0M1826.3 771.7h0M1826.3 775.7h0M1826.3 778.3h0M1826.3 775.8h0M1826.3 774.9h0M1826.3 774.1h0M1812.3 790.4h0M1812.3 790.6h0M1812.3 791.1h0M1812.3 791.6h0M1812.3 794.9h0M1812.3 786.5h0M1812.3 787.9h0M1812.3 794.8h0M1812.3 791.0h0M1806.8 799.1h0M1806.8 794.3h0M1806.8 798.9h0M1806.8 798.1h0M1806.8 797.7h0M1806.8 795.7h0M1806.8 799.3h0M1806.8 795.7h0M1806.8 795.4h0M1800.1 796.8h0M1800.1 804.4h0M1800.1 802.7h0M1800.1 803.4h0M1800.1 806.9h0M1800.1 804.9h0M1800.1 800.8h0M1800.1 800.4h0M1800.1 808.8h0M1812.9 788.9h0M1812.9 787.5h0M1812.9 786.1h0M1812.9 783.5h0M1812.9 785.2h0M1812.9 785.2h0M1812.9 795.5h0M1812.9 792.4h0M1812.9 789.8h0M1838.2 766.8h0M1838.2 763.1h0M1838.2 767.6h0M1838.2 769.7h0M1838.2 767.0h0M1838.2 769.4h0M1838.2 771.6h0M1838.2 764.3h0M1838.2 766.7h0M1830.7 774.5h0M1830.7 775.8h0M1830.7 770.5h0M1830.7 772.7h0M1830.7 773.7h0M1830.7 775.2h0M1830.7 771.6h0M1830.7 772.0h0M1830.7 769.2h0M1816.4 789.7h0M1816.4 784.2h0M1816.4 787.4h0M1816.4 786.4h0M1816.4 788.2h0M1816.4 782.6h0M1816.4 785.2h0M1816.4 789.7h0M1816.4 787.4h0M1819.6 784.7h0M1819.6 791.3h0M1819.6 782.7h0M1819.6 782.8h0M1819.6 785.1h0M1819.6 780.3h0M1819.6 781.8h0M1819.6 784.7h0M1819.6 784.2h0M1787.6 811.0h0M1787.6 819.2h0M1787.6 809.2h0M1787.6 814.9h0M1787.6 811.2h0M1787.6 819.1h0M1787.6 816.6h0M1787.6 817.2h0M1787.6 818.7h0M1829.5 766.7h0M1829.5 771.8h0M1829.5 773.3h0M1829.5 773.2h0M1829.5 768.1h0M1829.5 768.2h0M1829.5 771.5h0M1829.5 771.4h0M1829.5 776.6h0M1813.9 787.5h0M1813.9 786.4h0M1813.9 789.6h0M1813.9 795.9h0M1813.9 792.6h0M1813.9 790.3h0M1813.9 788.7h0M1813.9 792.5h0M1813.9 787.1h0M1839.4 767.8h0M1839.4 757.1h0M1839.4 762.2h0M1839.4 760.5h0M1839.4 764.8h0M1839.4 763.4h0M1839.4 768.9h0M1839.4 766.9h0M1839.4 763.8h0M1814.5 789.6h0M1814.5 789.5h0M1814.5 787.9h0M1814.5 786.7h0M1814.5 792.4h0M1814.5 786.1h0M1814.5 784.1h0M1814.5 792.7h0M1814.5 794.5h0M1809.7 791.8h0M1809.7 796.4h0M1809.7 792.8h0M1809.7 793.5h0M1809.7 794.0h0M1809.7 793.6h0M1809.7 790.4h0M1809.7 794.5h0M1809.7 790.3h0M1820.9 783.2h0M1820.9 784.3h0M1820.9 776.6h0M1820.9 783.3h0M1820.9 782.2h0M1820.9 783.2h0M1820.9 784.2h0M1820.9 784.3h0M1820.9 780.1h0M1807.3 796.0h0M1807.3 790.6h0M1807.3 793.0h0M1807.3 795.9h0M1807.3 799.1h0M1807.3 798.2h0M1807.3 796.0h0M1807.3 795.9h0M1807.3 796.7h0M1838.9 766.0h0M1838.9 760.3h0M1838.9 766.2h0M1838.9 767.7h0M1838.9 762.1h0M1838.9 762.2h0M1838.9 767.3h0M1838.9 763.5h0M1838.9 761.8h0M1822.1 785.5h0M1822.1 783.1h0M1822.1 782.9h0M1822.1 780.7h0M1822.1 782.1h0M1822.1 779.7h0M1822.1 782.4h0M1822.1 786.4h0M1822.1 782.1h0M1823.4 781.6h0M1823.4 774.9h0M1823.4 775.4h0M1823.4 776.6h0M1823.4 783.8h0M1823.4 779.8h0M1823.4 780.2h0M1823.4 778.5h0M1823.4 778.8h0M1822.9 782.2h0M1822.9 778.5h0M1822.9 781.1h0M1822.9 777.8h0M1822.9 779.5h0M1822.9 778.6h0M1822.9 771.2h0M1822.9 780.1h0M1822.9 776.8h0M1811.9 794.2h0M1811.9 786.5h0M1811.9 791.4h0M1811.9 795.5h0M1811.9 786.1h0M1811.9 793.7h0M1811.9 786.5h0M1811.9 791.8h0M1811.9 795.2h0M1887.5 716.6h0M1887.5 710.0h0M1887.5 713.9h0M1887.5 715.4h0M1887.5 714.5h0M1887.5 713.8h0M1887.5 713.5h0M1887.5 712.2h0M1887.5 714.0h0M1871.7 728.2h0M1871.7 735.1h0M1871.7 735.0h0M1871.7 732.0h0M1871.7 733.9h0M1871.7 731.4h0M1871.7 729.7h0M1871.7 732.0h0M1871.7 731.2h0M1891.6 709.4h0M1891.6 711.4h0M1891.6 712.0h0M1891.6 710.2h0M1891.6 715.4h0M1891.6 708.5h0M1891.6 716.0h0M1891.6 711.7h0M1891.6 712.7h0M1874.2 731.8h0M1874.2 729.3h0M1874.2 726.3h0M1874.2 728.0h0M1874.2 728.1h0M1874.2 729.6h0M1874.2 723.6h0M1874.2 729.2h0M1874.2 728.3h0M1878.0 724.7h0M1878.0 720.4h0M1878.0 721.2h0M1878.0 725.2h0M1878.0 721.2h0M1878.0 721.5h0M1878.0 726.4h0M1878.0 723.3h0M1878.0 727.6h0M1889.6 714.7h0M1889.6 720.0h0M1889.6 717.2h0M1889.6 714.1h0M1889.6 710.4h0M1889.6 708.6h0M1889.6 715.4h0M1889.6 709.5h0M1889.6 711.3h0M1871.6 738.5h0M1871.6 729.2h0M1871.6 735.4h0M1871.6 735.3h0M1871.6 729.9h0M1871.6 733.9h0M1871.6 734.6h0M1871.6 721.6h0M1871.6 733.2h0M1878.2 729.7h0M1878.2 724.3h0M1878.2 725.2h0M1878.2 723.1h0M1878.2 719.0h0M1878.2 732.4h0M1878.2 730.2h0M1878.2 720.4h0M1878.2 721.7h0M1876.5 727.0h0M1876.5 727.9h0M1876.5 723.6h0M1876.5 719.4h0M1876.5 722.2h0M1876.5 728.2h0M1876.5 729.9h0M1876.5 724.5h0M1876.5 730.7h0M1870.2 734.7h0M1870.2 737.6h0M1870.2 731.5h0M1870.2 730.6h0M1870.2 729.4h0M1870.2 735.1h0M1870.2 731.7h0M1870.2 728.2h0M1870.2 732.0h0M1869.1 728.8h0M1869.1 733.7h0M1869.1 736.1h0M1869.1 728.8h0M1869.1 736.6h0M1869.1 731.6h0M1869.1 733.5h0M1869.1 735.2h0M1869.1 734.6h0M1873.0 726.6h0M1873.0 729.9h0M1873.0 730.6h0M1873.0 736.1h0M1873.0 733.0h0M1873.0 734.6h0M1873.0 731.2h0M1873.0 727.5h0M1873.0 726.8h0M1880.3 721.4h0M1880.3 726.7h0M1880.3 721.7h0M1880.3 718.5h0M1880.3 727.0h0M1880.3 723.5h0M1880.3 720.3h0M1880.3 726.5h0M1880.3 716.5h0M1869.1 735.6h0M1869.1 732.9h0M1869.1 734.4h0M1869.1 736.0h0M1869.1 731.4h0M1869.1 736.0h0M1869.1 736.4h0M1869.1 732.8h0M1869.1 736.0h0M1872.8 729.0h0M1872.8 726.4h0M1872.8 735.9h0M1872.8 734.2h0M1872.8 725.7h0M1872.8 739.0h0M1872.8 729.6h0M1872.8 734.3h0M1872.8 730.7h0M1890.6 713.1h0M1890.6 713.9h0M1890.6 711.8h0M1890.6 714.2h0M1890.6 712.9h0M1890.6 709.6h0M1890.6 705.1h0M1890.6 707.5h0M1890.6 707.8h0M1879.7 724.7h0M1879.7 728.3h0M1879.7 722.1h0M1879.7 717.5h0M1879.7 723.6h0M1879.7 725.1h0M1879.7 722.8h0M1879.7 722.3h0M1879.7 727.0h0M1874.6 729.5h0M1874.6 726.4h0M1874.6 731.2h0M1874.6 731.1h0M1874.6 736.1h0M1874.6 728.7h0M1874.6 728.0h0M1874.6 728.0h0M1874.6 726.5h0M1891.5 713.5h0M1891.5 714.1h0M1891.5 716.4h0M1891.5 711.7h0M1891.5 707.6h0M1891.5 708.5h0M1891.5 714.1h0M1891.5 707.5h0M1891.5 713.2h0M1885.2 720.7h0M1885.2 716.7h0M1885.2 721.1h0M1885.2 722.0h0M1885.2 719.7h0M1885.2 721.3h0M1885.2 722.3h0M1885.2 713.6h0M1885.2 710.6h0M1876.3 722.3h0M1876.3 727.6h0M1876.3 731.1h0M1876.3 728.8h0M1876.3 726.5h0M1876.3 726.7h0M1876.3 723.1h0M1876.3 723.9h0M1876.3 725.9h0M1888.3 714.3h0M1888.3 716.9h0M1888.3 712.9h0M1888.3 712.4h0M1888.3 714.8h0M1888.3 711.8h0M1888.3 715.0h0M1888.3 717.0h0M1888.3 711.2h0M1868.9 736.8h0M1868.9 725.9h0M1868.9 733.7h0M1868.9 729.1h0M1868.9 735.4h0M1868.9 738.9h0M1868.9 732.0h0M1868.9 733.6h0M1868.9 736.9h0M1875.6 726.2h0M1875.6 725.8h0M1875.6 725.4h0M1875.6 725.0h0M1875.6 731.0h0M1875.6 730.4h0M1875.6 729.5h0M1875.6 722.9h0M1875.6 732.8h0M1890.8 710.2h0M1890.8 711.9h0M1890.8 710.9h0M1890.8 716.5h0M1890.8 709.7h0M1890.8 716.7h0M1890.8 716.6h0M1890.8 707.4h0M1890.8 711.3h0M1880.7 725.3h0M1880.7 720.3h0M1880.7 726.3h0M1880.7 717.5h0M1880.7 723.2h0M1880.7 726.8h0M1880.7 722.8h0M1880.7 726.8h0M1880.7 719.2h0M1870.3 734.3h0M1870.3 729.0h0M1870.3 730.1h0M1870.3 727.2h0M1870.3 729.1h0M1870.3 728.4h0M1870.3 732.3h0M1870.3 734.6h0M1870.3 728.4h0M1870.1 736.4h0M1870.1 731.9h0M1870.1 731.7h0M1870.1 732.5h0M1870.1 728.7h0M1870.1 730.0h0M1870.1 734.7h0M1870.1 729.9h0M1870.1 733.8h0M1890.6 718.7h0M1890.6 714.8h0M1890.6 711.8h0M1890.6 713.2h0M1890.6 711.0h0M1890.6 713.0h0M1890.6 712.3h0M1890.6 711.6h0M1890.6 710.6h0M1877.2 725.7h0M1877.2 732.0h0M1877.2 723.4h0M1877.2 727.7h0M1877.2 731.7h0M1877.2 724.0h0M1877.2 728.7h0M1877.2 728.4h0M1877.2 723.7h0M1889.3 716.7h0M1889.3 714.8h0M1889.3 715.4h0M1889.3 712.5h0M1889.3 706.4h0M1889.3 718.0h0M1889.3 716.8h0M1889.3 715.0h0M1889.3 721.5h0M1874.1 731.2h0M1874.1 733.2h0M1874.1 729.8h0M1874.1 726.0h0M1874.1 727.1h0M1874.1 731.2h0M1874.1 730.9h0M1874.1 732.0h0M1874.1 726.1h0M1882.0 721.3h0M1882.0 719.2h0M1882.0 717.5h0M1882.0 724.7h0M1882.0 723.9h0M1882.0 725.8h0M1882.0 715.2h0M1882.0 720.9h0M1882.0 715.2h0M1873.7 729.3h0M1873.7 727.4h0M1873.7 724.0h0M1873.7 724.6h0M1873.7 730.7h0M1873.7 732.0h0M1873.7 725.7h0M1873.7 724.0h0M1873.7 730.1h0M1888.4 709.7h0M1888.4 720.1h0M1888.4 719.1h0M1888.4 720.0h0M1888.4 718.9h0M1888.4 712.6h0M1888.4 715.1h0M1888.4 713.2h0M1888.4 714.0h0M1887.1 720.7h0M1887.1 713.6h0M1887.1 719.4h0M1887.1 714.0h0M1887.1 716.8h0M1887.1 717.2h0M1887.1 716.6h0M1887.1 714.3h0M1887.1 714.9h0M1891.3 715.1h0M1891.3 706.4h0M1891.3 715.7h0M1891.3 719.1h0M1891.3 711.0h0M1891.3 718.6h0M1891.3 712.1h0M1891.3 704.3h0M1891.3 710.2h0M1879.8 717.0h0M1879.8 727.0h0M1879.8 725.1h0M1879.8 724.7h0M1879.8 726.0h0M1879.8 725.2h0M1879.8 727.5h0M1879.8 721.7h0M1879.8 718.3h0M1886.3 717.2h0M1886.3 712.0h0M1886.3 716.8h0M1886.3 722.3h0M1886.3 720.7h0M1886.3 715.3h0M1886.3 716.7h0M1886.3 715.4h0M1886.3 714.2h0M1870.2 736.1h0M1870.2 733.8h0M1870.2 733.5h0M1870.2 734.4h0M1870.2 733.1h0M1870.2 737.6h0M1870.2 729.9h0M1870.2 730.9h0M1870.2 730.7h0M1882.7 715.7h0M1882.7 715.8h0M1882.7 711.5h0M1882.7 723.7h0M1882.7 713.3h0M1882.7 722.2h0M1882.7 719.0h0M1882.7 723.8h0M1882.7 711.2h0M1885.8 715.8h0M1885.8 719.1h0M1885.8 721.8h0M1885.8 715.9h0M1885.8 716.3h0M1885.8 717.5h0M1885.8 718.2h0M1885.8 715.6h0M1885.8 717.6h0M1885.9 711.5h0M1885.9 724.2h0M1885.9 718.3h0M1885.9 715.4h0M1885.9 721.8h0M1885.9 719.7h0M1885.9 708.2h0M1885.9 717.0h0M1885.9 719.9h0M1874.7 730.6h0M1874.7 728.2h0M1874.7 736.6h0M1874.7 724.5h0M1874.7 734.0h0M1874.7 726.4h0M1874.7 728.6h0M1874.7 722.9h0M1874.7 728.4h0M1868.4 741.2h0M1868.4 735.6h0M1868.4 728.9h0M1868.4 734.4h0M1868.4 734.9h0M1868.4 734.5h0M1868.4 725.8h0M1868.4 736.1h0M1868.4 728.7h0M1882.8 723.8h0M1882.8 723.9h0M1882.8 717.5h0M1882.8 716.5h0M1882.8 718.3h0M1882.8 722.1h0M1882.8 722.0h0M1882.8 721.5h0M1882.8 725.5h0M1886.2 719.4h0M1886.2 718.1h0M1886.2 721.4h0M1886.2 719.6h0M1886.2 722.4h0M1886.2 713.4h0M1886.2 717.4h0M1886.2 716.6h0M1886.2 719.6h0M1880.9 721.0h0M1880.9 722.0h0M1880.9 718.7h0M1880.9 718.9h0M1880.9 726.8h0M1880.9 716.5h0M1880.9 718.3h0M1880.9 727.0h0M1880.9 723.0h0M1872.3 724.7h0M1872.3 732.4h0M1872.3 724.5h0M1872.3 736.7h0M1872.3 732.7h0M1872.3 730.6h0M1872.3 731.3h0M1872.3 729.3h0M1872.3 729.6h0M1877.7 731.8h0M1877.7 726.3h0M1877.7 725.4h0M1877.7 723.1h0M1877.7 721.9h0M1877.7 723.0h0M1877.7 728.8h0M1877.7 727.4h0M1877.7 729.2h0M1902.6 693.9h0M1902.6 695.1h0M1902.6 698.0h0M1902.6 703.1h0M1902.6 696.7h0M1902.6 698.5h0M1902.6 698.9h0M1902.6 703.4h0M1902.6 698.4h0M1900.0 700.5h0M1900.0 703.1h0M1900.0 703.3h0M1900.0 702.0h0M1900.0 700.1h0M1900.0 705.2h0M1900.0 701.3h0M1900.0 701.8h0M1900.0 701.5h0M1900.6 705.1h0M1900.6 704.9h0M1900.6 703.1h0M1900.6 700.9h0M1900.6 702.0h0M1900.6 701.3h0M1900.6 702.0h0M1900.6 706.2h0M1900.6 702.9h0M1897.0 706.6h0M1897.0 708.1h0M1897.0 707.7h0M1897.0 705.9h0M1897.0 709.5h0M1897.0 704.2h0M1897.0 699.1h0M1897.0 707.0h0M1897.0 707.7h0M1901.8 698.9h0M1901.8 702.6h0M1901.8 701.8h0M1901.8 705.6h0M1901.8 700.4h0M1901.8 706.6h0M1901.8 696.8h0M1901.8 697.4h0M1901.8 699.3h0M1900.6 698.2h0M1900.6 704.2h0M1900.6 699.8h0M1900.6 703.2h0M1900.6 707.6h0M1900.6 706.3h0M1900.6 705.1h0M1900.6 708.6h0M1900.6 698.9h0M1901.9 701.5h0M1901.9 707.2h0M1901.9 699.4h0M1901.9 698.7h0M1901.9 697.7h0M1901.9 707.6h0M1901.9 700.3h0M1901.9 701.5h0M1901.9 702.5h0M1900.4 703.7h0M1900.4 702.2h0M1900.4 703.5h0M1900.4 706.9h0M1900.4 702.8h0M1900.4 702.4h0M1900.4 704.3h0M1900.4 705.9h0M1900.4 704.5h0M1899.0 704.6h0M1899.0 705.3h0M1899.0 706.3h0M1899.0 708.1h0M1899.0 707.1h0M1899.0 705.7h0M1899.0 705.2h0M1899.0 707.6h0M1899.0 704.7h0M1898.4 706.2h0M1898.4 708.9h0M1898.4 705.5h0M1898.4 699.3h0M1898.4 702.6h0M1898.4 704.5h0M1898.4 701.9h0M1898.4 702.5h0M1898.4 702.6h0M1900.7 698.1h0M1900.7 702.7h0M1900.7 705.7h0M1900.7 697.6h0M1900.7 703.0h0M1900.7 700.1h0M1900.7 707.0h0M1900.7 702.9h0M1900.7 706.0h0M1908.0 697.3h0M1908.0 699.8h0M1908.0 696.8h0M1908.0 694.2h0M1908.0 690.6h0M1908.0 697.4h0M1908.0 693.3h0M1908.0 694.3h0M1908.0 694.6h0M1906.8 700.1h0M1906.8 694.8h0M1906.8 695.9h0M1906.8 698.0h0M1906.8 701.2h0M1906.8 693.8h0M1906.8 693.9h0M1906.8 698.5h0M1906.8 698.7h0M1908.0 702.2h0M1908.0 695.0h0M1908.0 692.5h0M1908.0 692.2h0M1908.0 695.9h0M1908.0 696.0h0M1908.0 698.9h0M1908.0 698.9h0M1908.0 700.6h0M1907.2 694.2h0M1907.2 699.7h0M1907.2 696.4h0M1907.2 691.7h0M1907.2 698.3h0M1907.2 698.2h0M1907.2 696.8h0M1907.2 697.4h0M1907.2 701.2h0M1908.9 690.0h0M1908.9 692.1h0M1908.9 694.7h0M1908.9 697.8h0M1908.9 695.5h0M1908.9 694.9h0M1908.9 694.1h0M1908.9 688.2h0M1908.9 693.6h0M1907.5 696.3h0M1907.5 695.1h0M1907.5 694.6h0M1907.5 697.7h0M1907.5 697.6h0M1907.5 698.6h0M1907.5 693.1h0M1907.5 702.9h0M1907.5 696.8h0M1906.5 697.0h0M1906.5 694.4h0M1906.5 701.1h0M1906.5 701.3h0M1906.5 698.3h0M1906.5 697.8h0M1906.5 692.8h0M1906.5 697.8h0M1906.5 693.7h0M1907.9 695.9h0M1907.9 694.3h0M1907.9 691.5h0M1907.9 695.2h0M1907.9 699.7h0M1907.9 694.4h0M1907.9 699.3h0M1907.9 697.2h0M1907.9 693.5h0M1907.3 701.0h0M1907.3 697.5h0M1907.3 698.5h0M1907.3 698.2h0M1907.3 699.1h0M1907.3 695.4h0M1907.3 688.9h0M1907.3 697.0h0M1907.3 697.9h0M1909.9 694.9h0M1909.9 694.7h0M1909.9 696.4h0M1909.9 688.7h0M1909.9 693.6h0M1909.9 695.6h0M1909.9 692.3h0M1909.9 695.6h0M1909.9 691.2h0M1907.4 699.8h0M1907.4 700.7h0M1907.4 696.0h0M1907.4 692.0h0M1907.4 701.7h0M1907.4 705.3h0M1907.4 697.0h0M1907.4 693.7h0M1907.4 693.5h0M1911.1 694.7h0M1911.1 695.6h0M1911.1 693.0h0M1911.1 693.9h0M1911.1 694.1h0M1911.1 691.5h0M1911.1 691.9h0M1911.1 693.3h0M1911.1 693.4h0M1912.7 690.0h0M1912.7 690.9h0M1912.7 696.3h0M1912.7 688.3h0M1912.7 693.9h0M1912.7 683.0h0M1912.7 691.3h0M1912.7 694.2h0M1912.7 687.2h0M1912.4 692.0h0M1912.4 693.8h0M1912.4 689.9h0M1912.4 693.1h0M1912.4 687.1h0M1912.4 689.2h0M1912.4 684.6h0M1912.4 692.9h0M1912.4 692.6h0M1913.1 693.8h0M1913.1 694.6h0M1913.1 695.9h0M1913.1 694.5h0M1913.1 687.5h0M1913.1 687.0h0M1913.1 688.7h0M1913.1 692.8h0M1913.1 693.9h0M1913.0 690.0h0M1913.0 690.7h0M1913.0 692.0h0M1913.0 691.0h0M1913.0 695.0h0M1913.0 696.0h0M1913.0 693.2h0M1913.0 696.1h0M1913.0 700.1h0M1911.4 692.8h0M1911.4 692.8h0M1911.4 696.2h0M1911.4 692.0h0M1911.4 691.4h0M1911.4 688.0h0M1911.4 691.8h0M1911.4 694.6h0M1911.4 694.9h0M1912.7 689.6h0M1912.7 694.8h0M1912.7 691.2h0M1912.7 696.4h0M1912.7 691.5h0M1912.7 690.7h0M1912.7 690.0h0M1912.7 692.7h0M1912.7 690.5h0M1912.6 694.1h0M1912.6 694.4h0M1912.6 688.0h0M1912.6 690.8h0M1912.6 692.5h0M1912.6 692.3h0M1912.6 690.1h0M1912.6 690.8h0M1912.6 694.8h0M1911.2 688.1h0M1911.2 693.1h0M1911.2 687.2h0M1911.2 688.5h0M1911.2 692.6h0M1911.2 690.4h0M1911.2 697.9h0M1911.2 692.6h0M1911.2 691.5h0M1912.0 687.6h0M1912.0 692.6h0M1912.0 685.5h0M1912.0 692.5h0M1912.0 688.5h0M1912.0 687.3h0M1912.0 692.2h0M1912.0 687.0h0M1912.0 689.7h0" stroke="#f0b62a" stroke-width="2.4" stroke-linecap="round"/>
<path d="M1708.3 892.6h0M1708.3 900.0h0M1708.3 897.9h0M1708.3 895.4h0M1708.3 893.9h0M1708.3 891.4h0M1708.3 899.1h0M1708.3 892.3h0M1708.3 891.0h0M1708.3 887.2h0M1708.3 895.3h0M1708.3 897.4h0M1708.3 899.9h0M1708.3 891.3h0M1708.3 888.2h0M1708.3 896.4h0M1720.0 880.0h0M1720.0 878.2h0M1720.0 877.8h0M1720.0 883.4h0M1720.0 879.0h0M1720.0 881.9h0M1720.0 885.5h0M1720.0 880.5h0M1720.0 880.0h0M1720.0 885.5h0M1720.0 879.6h0M1720.0 873.2h0M1720.0 887.7h0M1720.0 878.5h0M1720.0 877.6h0M1720.0 881.2h0M1716.6 883.5h0M1716.6 885.9h0M1716.6 879.2h0M1716.6 888.7h0M1716.6 885.4h0M1716.6 892.9h0M1716.6 883.6h0M1716.6 883.4h0M1716.6 891.9h0M1716.6 888.6h0M1716.6 883.0h0M1716.6 887.0h0M1716.6 890.0h0M1716.6 895.4h0M1716.6 883.6h0M1716.6 877.0h0M1716.4 887.2h0M1716.4 883.5h0M1716.4 883.6h0M1716.4 885.6h0M1716.4 884.9h0M1716.4 884.8h0M1716.4 888.9h0M1716.4 875.0h0M1716.4 874.0h0M1716.4 884.0h0M1716.4 877.9h0M1716.4 888.7h0M1716.4 886.2h0M1716.4 880.6h0M1716.4 890.1h0M1716.4 890.7h0M1726.4 873.9h0M1726.4 883.5h0M1726.4 868.2h0M1726.4 872.2h0M1726.4 874.3h0M1726.4 872.5h0M1726.4 879.0h0M1726.4 879.1h0M1726.4 871.7h0M1726.4 871.3h0M1726.4 874.6h0M1726.4 875.4h0M1726.4 877.4h0M1726.4 869.4h0M1726.4 881.3h0M1726.4 878.7h0M1694.9 908.8h0M1694.9 912.9h0M1694.9 912.1h0M1694.9 910.9h0M1694.9 902.4h0M1694.9 899.1h0M1694.9 905.1h0M1694.9 913.3h0M1694.9 909.1h0M1694.9 907.2h0M1694.9 907.7h0M1694.9 908.1h0M1694.9 904.4h0M1694.9 914.6h0M1694.9 909.0h0M1694.9 905.7h0M1701.3 897.2h0M1701.3 898.9h0M1701.3 900.0h0M1701.3 900.7h0M1701.3 902.8h0M1701.3 899.7h0M1701.3 900.9h0M1701.3 903.0h0M1701.3 895.0h0M1701.3 895.1h0M1701.3 901.6h0M1701.3 897.5h0M1701.3 895.0h0M1701.3 898.9h0M1701.3 899.5h0M1701.3 897.9h0M1693.6 914.5h0M1693.6 913.6h0M1693.6 905.5h0M1693.6 906.5h0M1693.6 902.0h0M1693.6 909.7h0M1693.6 903.1h0M1693.6 903.3h0M1693.6 899.5h0M1693.6 911.0h0M1693.6 909.1h0M1693.6 906.5h0M1693.6 906.6h0M1693.6 911.8h0M1693.6 910.0h0M1693.6 913.1h0M1707.1 884.6h0M1707.1 894.4h0M1707.1 894.2h0M1707.1 896.7h0M1707.1 894.0h0M1707.1 890.9h0M1707.1 895.5h0M1707.1 894.3h0M1707.1 885.1h0M1707.1 890.3h0M1707.1 893.2h0M1707.1 895.9h0M1707.1 894.2h0M1707.1 897.2h0M1707.1 893.0h0M1707.1 896.9h0M1719.5 884.8h0M1719.5 883.5h0M1719.5 886.3h0M1719.5 881.1h0M1719.5 871.5h0M1719.5 884.5h0M1719.5 888.8h0M1719.5 878.0h0M1719.5 882.4h0M1719.5 873.8h0M1719.5 880.4h0M1719.5 878.2h0M1719.5 885.3h0M1719.5 888.7h0M1719.5 882.8h0M1719.5 879.3h0M1708.1 897.1h0M1708.1 900.1h0M1708.1 896.0h0M1708.1 895.4h0M1708.1 894.9h0M1708.1 893.7h0M1708.1 883.7h0M1708.1 893.5h0M1708.1 895.7h0M1708.1 898.1h0M1708.1 890.3h0M1708.1 900.2h0M1708.1 887.7h0M1708.1 893.7h0M1708.1 899.9h0M1708.1 892.9h0M1713.9 888.4h0M1713.9 882.8h0M1713.9 894.1h0M1713.9 887.1h0M1713.9 888.0h0M1713.9 884.1h0M1713.9 892.6h0M1713.9 891.1h0M1713.9 879.8h0M1713.9 885.6h0M1713.9 894.0h0M1713.9 886.6h0M1713.9 891.2h0M1713.9 890.8h0M1713.9 893.0h0M1713.9 883.9h0M1689.2 914.8h0M1689.2 911.8h0M1689.2 912.3h0M1689.2 918.9h0M1689.2 915.6h0M1689.2 909.4h0M1689.2 919.1h0M1689.2 911.6h0M1689.2 913.0h0M1689.2 909.9h0M1689.2 909.7h0M1689.2 909.2h0M1689.2 912.3h0M1689.2 911.5h0M1689.2 915.5h0M1689.2 914.8h0M1710.0 888.1h0M1710.0 894.3h0M1710.0 887.6h0M1710.0 887.7h0M1710.0 895.1h0M1710.0 889.5h0M1710.0 895.1h0M1710.0 890.4h0M1710.0 895.0h0M1710.0 890.4h0M1710.0 891.1h0M1710.0 896.1h0M1710.0 883.3h0M1710.0 887.8h0M1710.0 898.4h0M1710.0 890.3h0M1698.2 905.2h0M1698.2 895.0h0M1698.2 903.7h0M1698.2 901.8h0M1698.2 904.2h0M1698.2 900.8h0M1698.2 905.7h0M1698.2 907.2h0M1698.2 905.5h0M1698.2 905.2h0M1698.2 900.8h0M1698.2 903.1h0M1698.2 905.3h0M1698.2 905.1h0M1698.2 907.2h0M1698.2 902.9h0M1728.2 881.9h0M1728.2 874.5h0M1728.2 868.6h0M1728.2 875.0h0M1728.2 876.2h0M1728.2 873.3h0M1728.2 877.4h0M1728.2 876.7h0M1728.2 870.7h0M1728.2 876.1h0M1728.2 865.4h0M1728.2 871.3h0M1728.2 873.9h0M1728.2 876.1h0M1728.2 874.6h0M1728.2 882.9h0M1718.2 882.4h0M1718.2 879.7h0M1718.2 881.0h0M1718.2 885.2h0M1718.2 880.9h0M1718.2 880.8h0M1718.2 883.9h0M1718.2 882.0h0M1718.2 879.1h0M1718.2 881.5h0M1718.2 885.0h0M1718.2 883.4h0M1718.2 882.8h0M1718.2 890.0h0M1718.2 882.9h0M1718.2 883.9h0M1718.9 891.7h0M1718.9 889.8h0M1718.9 875.2h0M1718.9 882.3h0M1718.9 877.1h0M1718.9 884.2h0M1718.9 876.3h0M1718.9 880.3h0M1718.9 885.5h0M1718.9 881.5h0M1718.9 876.2h0M1718.9 872.8h0M1718.9 880.5h0M1718.9 884.5h0M1718.9 886.2h0M1718.9 879.8h0M1707.7 889.3h0M1707.7 893.3h0M1707.7 894.3h0M1707.7 890.5h0M1707.7 891.8h0M1707.7 892.2h0M1707.7 900.1h0M1707.7 895.2h0M1707.7 886.0h0M1707.7 893.9h0M1707.7 883.7h0M1707.7 892.2h0M1707.7 895.0h0M1707.7 892.6h0M1707.7 891.3h0M1707.7 896.8h0M1715.2 885.3h0M1715.2 888.0h0M1715.2 880.3h0M1715.2 888.2h0M1715.2 885.8h0M1715.2 892.5h0M1715.2 892.0h0M1715.2 886.7h0M1715.2 890.1h0M1715.2 887.5h0M1715.2 885.3h0M1715.2 884.0h0M1715.2 892.2h0M1715.2 887.1h0M1715.2 883.6h0M1715.2 889.1h0M1715.7 891.2h0M1715.7 888.7h0M1715.7 879.1h0M1715.7 885.7h0M1715.7 879.4h0M1715.7 887.1h0M1715.7 880.9h0M1715.7 891.8h0M1715.7 886.9h0M1715.7 885.5h0M1715.7 878.5h0M1715.7 883.9h0M1715.7 881.2h0M1715.7 887.6h0M1715.7 887.5h0M1715.7 880.5h0M1704.5 891.1h0M1704.5 891.9h0M1704.5 892.0h0M1704.5 899.1h0M1704.5 888.0h0M1704.5 896.3h0M1704.5 891.7h0M1704.5 893.8h0M1704.5 904.2h0M1704.5 905.0h0M1704.5 903.6h0M1704.5 897.2h0M1704.5 892.3h0M1704.5 898.0h0M1704.5 893.5h0M1704.5 902.1h0M1702.8 901.2h0M1702.8 902.4h0M1702.8 898.5h0M1702.8 903.4h0M1702.8 899.1h0M1702.8 896.2h0M1702.8 900.6h0M1702.8 902.4h0M1702.8 900.6h0M1702.8 903.7h0M1702.8 903.0h0M1702.8 895.3h0M1702.8 897.3h0M1702.8 904.7h0M1702.8 899.8h0M1702.8 896.8h0M1707.1 891.1h0M1707.1 891.8h0M1707.1 890.3h0M1707.1 894.6h0M1707.1 894.5h0M1707.1 895.4h0M1707.1 889.8h0M1707.1 890.8h0M1707.1 887.0h0M1707.1 889.7h0M1707.1 897.8h0M1707.1 900.5h0M1707.1 900.2h0M1707.1 898.1h0M1707.1 891.9h0M1707.1 900.2h0M1701.6 908.3h0M1701.6 900.6h0M1701.6 896.5h0M1701.6 896.7h0M1701.6 893.0h0M1701.6 900.1h0M1701.6 902.3h0M1701.6 901.2h0M1701.6 905.5h0M1701.6 902.7h0M1701.6 894.6h0M1701.6 891.2h0M1701.6 894.7h0M1701.6 898.7h0M1701.6 901.0h0M1701.6 899.0h0M1701.7 907.7h0M1701.7 897.5h0M1701.7 896.6h0M1701.7 900.4h0M1701.7 899.8h0M1701.7 906.9h0M1701.7 896.6h0M1701.7 896.6h0M1701.7 911.4h0M1701.7 902.3h0M1701.7 898.5h0M1701.7 893.0h0M1701.7 903.5h0M1701.7 900.1h0M1701.7 893.8h0M1701.7 897.9h0M1705.2 897.3h0M1705.2 898.3h0M1705.2 896.3h0M1705.2 899.7h0M1705.2 892.2h0M1705.2 900.0h0M1705.2 894.0h0M1705.2 892.5h0M1705.2 891.3h0M1705.2 895.8h0M1705.2 896.1h0M1705.2 894.8h0M1705.2 895.7h0M1705.2 891.5h0M1705.2 896.5h0M1705.2 888.0h0M1700.2 889.3h0M1700.2 903.7h0M1700.2 899.3h0M1700.2 905.8h0M1700.2 897.8h0M1700.2 899.2h0M1700.2 901.9h0M1700.2 905.3h0M1700.2 900.9h0M1700.2 892.6h0M1700.2 894.3h0M1700.2 899.4h0M1700.2 903.6h0M1700.2 901.1h0M1700.2 904.4h0M1700.2 906.7h0M1716.9 888.4h0M1716.9 881.9h0M1716.9 883.1h0M1716.9 883.7h0M1716.9 889.0h0M1716.9 890.3h0M1716.9 880.2h0M1716.9 886.0h0M1716.9 879.5h0M1716.9 887.6h0M1716.9 880.4h0M1716.9 883.5h0M1716.9 886.3h0M1716.9 886.3h0M1716.9 876.5h0M1716.9 880.6h0M1690.5 911.9h0M1690.5 910.1h0M1690.5 917.3h0M1690.5 903.6h0M1690.5 905.0h0M1690.5 912.5h0M1690.5 908.9h0M1690.5 922.3h0M1690.5 906.7h0M1690.5 908.8h0M1690.5 909.7h0M1690.5 907.4h0M1690.5 909.6h0M1690.5 914.9h0M1690.5 913.8h0M1690.5 911.6h0M1717.5 880.2h0M1717.5 883.8h0M1717.5 886.8h0M1717.5 882.5h0M1717.5 889.1h0M1717.5 875.3h0M1717.5 882.7h0M1717.5 888.1h0M1717.5 883.3h0M1717.5 879.5h0M1717.5 881.7h0M1717.5 875.5h0M1717.5 889.9h0M1717.5 877.3h0M1717.5 884.1h0M1717.5 880.3h0M1701.3 893.0h0M1701.3 905.1h0M1701.3 906.0h0M1701.3 901.7h0M1701.3 907.1h0M1701.3 908.5h0M1701.3 899.8h0M1701.3 895.3h0M1701.3 902.1h0M1701.3 898.0h0M1701.3 884.8h0M1701.3 898.7h0M1701.3 901.4h0M1701.3 900.8h0M1701.3 898.3h0M1701.3 901.3h0M1702.2 896.3h0M1702.2 898.3h0M1702.2 895.4h0M1702.2 898.6h0M1702.2 899.5h0M1702.2 903.1h0M1702.2 905.0h0M1702.2 900.4h0M1702.2 900.8h0M1702.2 898.0h0M1702.2 899.5h0M1702.2 900.8h0M1702.2 889.8h0M1702.2 897.9h0M1702.2 894.1h0M1702.2 903.5h0M1693.2 903.9h0M1693.2 903.3h0M1693.2 906.3h0M1693.2 911.9h0M1693.2 902.9h0M1693.2 911.2h0M1693.2 914.6h0M1693.2 914.9h0M1693.2 907.9h0M1693.2 910.2h0M1693.2 904.8h0M1693.2 905.4h0M1693.2 902.4h0M1693.2 906.8h0M1693.2 907.7h0M1693.2 908.1h0M1706.7 898.0h0M1706.7 898.2h0M1706.7 897.8h0M1706.7 893.8h0M1706.7 898.3h0M1706.7 895.1h0M1706.7 890.2h0M1706.7 904.7h0M1706.7 898.4h0M1706.7 898.9h0M1706.7 894.8h0M1706.7 901.0h0M1706.7 897.6h0M1706.7 885.3h0M1706.7 900.5h0M1706.7 895.2h0M1705.6 895.1h0M1705.6 897.2h0M1705.6 901.0h0M1705.6 891.9h0M1705.6 904.0h0M1705.6 900.1h0M1705.6 897.0h0M1705.6 898.7h0M1705.6 891.2h0M1705.6 897.4h0M1705.6 888.2h0M1705.6 896.2h0M1705.6 889.8h0M1705.6 894.5h0M1705.6 897.3h0M1705.6 897.5h0M1710.5 887.1h0M1710.5 893.6h0M1710.5 891.5h0M1710.5 894.7h0M1710.5 899.9h0M1710.5 889.2h0M1710.5 888.8h0M1710.5 896.4h0M1710.5 889.4h0M1710.5 892.4h0M1710.5 899.4h0M1710.5 895.3h0M1710.5 888.6h0M1710.5 887.1h0M1710.5 889.8h0M1710.5 879.7h0M1702.4 898.0h0M1702.4 902.6h0M1702.4 905.6h0M1702.4 893.2h0M1702.4 901.4h0M1702.4 901.0h0M1702.4 902.8h0M1702.4 902.8h0M1702.4 900.9h0M1702.4 897.4h0M1702.4 897.0h0M1702.4 897.8h0M1702.4 895.3h0M1702.4 901.3h0M1702.4 903.5h0M1702.4 899.5h0M1709.4 900.8h0M1709.4 888.7h0M1709.4 890.1h0M1709.4 890.0h0M1709.4 896.7h0M1709.4 894.2h0M1709.4 892.1h0M1709.4 896.4h0M1709.4 896.7h0M1709.4 893.1h0M1709.4 891.6h0M1709.4 894.9h0M1709.4 887.9h0M1709.4 882.9h0M1709.4 889.8h0M1709.4 892.9h0M1728.7 874.3h0M1728.7 866.2h0M1728.7 871.6h0M1728.7 870.4h0M1728.7 872.0h0M1728.7 875.3h0M1728.7 866.6h0M1728.7 873.9h0M1728.7 872.3h0M1728.7 881.9h0M1728.7 863.9h0M1728.7 869.8h0M1728.7 873.3h0M1728.7 876.2h0M1728.7 875.5h0M1728.7 880.0h0M1712.9 886.7h0M1712.9 892.3h0M1712.9 886.9h0M1712.9 886.8h0M1712.9 880.6h0M1712.9 887.7h0M1712.9 887.4h0M1712.9 886.5h0M1712.9 891.2h0M1712.9 889.6h0M1712.9 887.2h0M1712.9 883.7h0M1712.9 885.4h0M1712.9 889.7h0M1712.9 883.4h0M1712.9 890.1h0M1701.9 905.8h0M1701.9 892.9h0M1701.9 899.3h0M1701.9 901.3h0M1701.9 904.4h0M1701.9 901.2h0M1701.9 892.3h0M1701.9 899.6h0M1701.9 890.0h0M1701.9 899.2h0M1701.9 894.5h0M1701.9 899.1h0M1701.9 901.1h0M1701.9 901.0h0M1701.9 900.3h0M1701.9 904.3h0M1719.0 887.4h0M1719.0 880.7h0M1719.0 877.0h0M1719.0 881.5h0M1719.0 882.0h0M1719.0 886.0h0M1719.0 877.5h0M1719.0 877.8h0M1719.0 887.0h0M1719.0 881.9h0M1719.0 883.6h0M1719.0 888.4h0M1719.0 875.4h0M1719.0 877.2h0M1719.0 880.8h0M1719.0 876.3h0M1706.9 896.3h0M1706.9 893.0h0M1706.9 888.6h0M1706.9 895.4h0M1706.9 892.9h0M1706.9 898.2h0M1706.9 891.5h0M1706.9 889.4h0M1706.9 898.3h0M1706.9 897.5h0M1706.9 894.5h0M1706.9 888.4h0M1706.9 896.4h0M1706.9 897.8h0M1706.9 894.7h0M1706.9 889.6h0M1715.0 892.6h0M1715.0 887.0h0M1715.0 880.8h0M1715.0 886.4h0M1715.0 887.5h0M1715.0 882.8h0M1715.0 891.4h0M1715.0 877.8h0M1715.0 884.3h0M1715.0 887.9h0M1715.0 886.0h0M1715.0 886.7h0M1715.0 887.6h0M1715.0 891.5h0M1715.0 887.5h0M1715.0 893.6h0M1715.2 880.5h0M1715.2 891.0h0M1715.2 889.3h0M1715.2 889.6h0M1715.2 883.3h0M1715.2 887.1h0M1715.2 880.3h0M1715.2 888.2h0M1715.2 885.7h0M1715.2 886.6h0M1715.2 887.7h0M1715.2 881.7h0M1715.2 881.2h0M1715.2 880.9h0M1715.2 892.1h0M1715.2 884.9h0M1704.0 902.2h0M1704.0 902.3h0M1704.0 905.0h0M1704.0 901.4h0M1704.0 895.0h0M1704.0 891.7h0M1704.0 890.3h0M1704.0 901.3h0M1704.0 900.1h0M1704.0 896.5h0M1704.0 896.9h0M1704.0 896.6h0M1704.0 904.8h0M1704.0 898.3h0M1704.0 895.1h0M1704.0 896.4h0M1689.2 912.8h0M1689.2 915.3h0M1689.2 912.7h0M1689.2 905.6h0M1689.2 910.2h0M1689.2 907.9h0M1689.2 905.4h0M1689.2 916.8h0M1689.2 909.5h0M1689.2 910.4h0M1689.2 906.8h0M1689.2 913.3h0M1689.2 913.2h0M1689.2 915.0h0M1689.2 911.6h0M1689.2 913.5h0M1704.4 897.8h0M1704.4 895.7h0M1704.4 898.7h0M1704.4 901.0h0M1704.4 898.8h0M1704.4 899.4h0M1704.4 895.4h0M1704.4 892.0h0M1704.4 898.6h0M1704.4 907.3h0M1704.4 894.7h0M1704.4 897.4h0M1704.4 901.1h0M1704.4 898.2h0M1704.4 889.5h0M1704.4 903.4h0M1714.5 892.0h0M1714.5 887.4h0M1714.5 900.1h0M1714.5 889.1h0M1714.5 883.1h0M1714.5 884.9h0M1714.5 885.6h0M1714.5 888.6h0M1714.5 887.9h0M1714.5 875.8h0M1714.5 886.2h0M1714.5 881.6h0M1714.5 892.4h0M1714.5 886.2h0M1714.5 885.7h0M1714.5 886.5h0M1704.1 906.6h0M1704.1 899.3h0M1704.1 891.5h0M1704.1 895.3h0M1704.1 900.8h0M1704.1 893.9h0M1704.1 905.3h0M1704.1 895.1h0M1704.1 896.1h0M1704.1 900.1h0M1704.1 901.8h0M1704.1 904.5h0M1704.1 898.5h0M1704.1 890.4h0M1704.1 894.0h0M1704.1 895.9h0M1713.2 884.6h0M1713.2 890.9h0M1713.2 886.3h0M1713.2 900.5h0M1713.2 890.5h0M1713.2 890.5h0M1713.2 888.8h0M1713.2 889.2h0M1713.2 886.0h0M1713.2 891.1h0M1713.2 884.7h0M1713.2 889.5h0M1713.2 884.9h0M1713.2 888.0h0M1713.2 885.0h0M1713.2 886.6h0M1719.3 885.0h0M1719.3 881.7h0M1719.3 887.9h0M1719.3 882.3h0M1719.3 880.9h0M1719.3 883.7h0M1719.3 883.2h0M1719.3 878.5h0M1719.3 877.5h0M1719.3 876.6h0M1719.3 884.9h0M1719.3 884.3h0M1719.3 879.2h0M1719.3 878.8h0M1719.3 890.1h0M1719.3 874.3h0M1702.3 894.7h0M1702.3 904.7h0M1702.3 894.7h0M1702.3 901.2h0M1702.3 900.0h0M1702.3 903.5h0M1702.3 902.8h0M1702.3 901.0h0M1702.3 899.1h0M1702.3 904.0h0M1702.3 899.7h0M1702.3 902.4h0M1702.3 901.6h0M1702.3 903.1h0M1702.3 902.0h0M1702.3 892.8h0M1722.1 886.3h0M1722.1 885.1h0M1722.1 879.9h0M1722.1 881.7h0M1722.1 884.0h0M1722.1 878.0h0M1722.1 884.5h0M1722.1 879.7h0M1722.1 875.7h0M1722.1 877.3h0M1722.1 880.8h0M1722.1 879.6h0M1722.1 878.9h0M1722.1 877.2h0M1722.1 883.6h0M1722.1 874.4h0M1726.5 872.2h0M1726.5 867.6h0M1726.5 871.8h0M1726.5 871.0h0M1726.5 887.5h0M1726.5 877.1h0M1726.5 867.6h0M1726.5 873.7h0M1726.5 877.2h0M1726.5 872.4h0M1726.5 874.9h0M1726.5 873.6h0M1726.5 878.3h0M1726.5 873.1h0M1726.5 869.0h0M1726.5 874.3h0M1720.4 879.5h0M1720.4 884.2h0M1720.4 879.3h0M1720.4 883.0h0M1720.4 887.0h0M1720.4 883.1h0M1720.4 882.3h0M1720.4 879.0h0M1720.4 877.4h0M1720.4 882.2h0M1720.4 882.9h0M1720.4 878.7h0M1720.4 885.1h0M1720.4 882.8h0M1720.4 882.4h0M1720.4 882.1h0M1721.4 882.9h0M1721.4 873.6h0M1721.4 876.4h0M1721.4 881.1h0M1721.4 886.4h0M1721.4 882.5h0M1721.4 877.9h0M1721.4 888.5h0M1721.4 870.1h0M1721.4 880.7h0M1721.4 880.6h0M1721.4 877.8h0M1721.4 886.3h0M1721.4 880.1h0M1721.4 880.4h0M1721.4 877.4h0M1720.6 885.4h0M1720.6 878.6h0M1720.6 876.2h0M1720.6 879.9h0M1720.6 883.4h0M1720.6 884.7h0M1720.6 888.5h0M1720.6 883.5h0M1720.6 879.1h0M1720.6 874.9h0M1720.6 876.8h0M1720.6 876.1h0M1720.6 883.1h0M1720.6 882.9h0M1720.6 887.5h0M1720.6 883.9h0M1733.5 872.9h0M1733.5 869.3h0M1733.5 865.4h0M1733.5 868.7h0M1733.5 869.6h0M1733.5 865.4h0M1733.5 861.9h0M1733.5 863.7h0M1733.5 875.3h0M1733.5 861.0h0M1733.5 870.1h0M1733.5 874.2h0M1733.5 869.7h0M1733.5 864.1h0M1733.5 879.3h0M1733.5 862.8h0M1710.4 890.3h0M1710.4 888.9h0M1710.4 897.0h0M1710.4 893.6h0M1710.4 896.0h0M1710.4 886.4h0M1710.4 894.5h0M1710.4 889.7h0M1710.4 894.0h0M1710.4 898.2h0M1710.4 887.6h0M1710.4 886.3h0M1710.4 885.0h0M1710.4 893.6h0M1710.4 891.1h0M1710.4 888.4h0M1708.4 891.9h0M1708.4 892.4h0M1708.4 883.6h0M1708.4 895.1h0M1708.4 889.6h0M1708.4 895.5h0M1708.4 887.4h0M1708.4 894.4h0M1708.4 897.4h0M1708.4 890.2h0M1708.4 893.1h0M1708.4 894.9h0M1708.4 894.2h0M1708.4 895.9h0M1708.4 891.1h0M1708.4 891.9h0M1715.1 879.7h0M1715.1 889.4h0M1715.1 880.6h0M1715.1 884.3h0M1715.1 892.5h0M1715.1 880.3h0M1715.1 894.0h0M1715.1 884.5h0M1715.1 894.3h0M1715.1 885.4h0M1715.1 888.1h0M1715.1 887.7h0M1715.1 894.5h0M1715.1 889.7h0M1715.1 881.6h0M1715.1 883.9h0M1698.2 903.6h0M1698.2 903.8h0M1698.2 906.0h0M1698.2 897.2h0M1698.2 903.4h0M1698.2 898.7h0M1698.2 909.4h0M1698.2 909.7h0M1698.2 897.5h0M1698.2 906.8h0M1698.2 904.0h0M1698.2 901.1h0M1698.2 899.3h0M1698.2 900.5h0M1698.2 900.8h0M1698.2 896.3h0M1691.0 909.2h0M1691.0 906.5h0M1691.0 910.1h0M1691.0 909.6h0M1691.0 902.3h0M1691.0 911.3h0M1691.0 920.8h0M1691.0 909.9h0M1691.0 909.5h0M1691.0 902.6h0M1691.0 911.8h0M1691.0 915.1h0M1691.0 909.8h0M1691.0 902.5h0M1691.0 911.7h0M1691.0 905.0h0M1698.5 900.7h0M1698.5 900.1h0M1698.5 906.4h0M1698.5 902.6h0M1698.5 906.3h0M1698.5 902.9h0M1698.5 905.9h0M1698.5 898.3h0M1698.5 905.2h0M1698.5 904.0h0M1698.5 912.4h0M1698.5 907.2h0M1698.5 892.9h0M1698.5 904.8h0M1698.5 909.9h0M1698.5 903.2h0M1712.5 890.2h0M1712.5 891.3h0M1712.5 890.4h0M1712.5 891.2h0M1712.5 885.3h0M1712.5 894.2h0M1712.5 888.3h0M1712.5 885.7h0M1712.5 892.9h0M1712.5 879.7h0M1712.5 889.0h0M1712.5 889.6h0M1712.5 891.5h0M1712.5 885.9h0M1712.5 895.9h0M1712.5 886.8h0M1713.6 878.8h0M1713.6 886.6h0M1713.6 884.5h0M1713.6 891.8h0M1713.6 884.7h0M1713.6 891.2h0M1713.6 889.8h0M1713.6 887.9h0M1713.6 879.9h0M1713.6 890.4h0M1713.6 896.0h0M1713.6 887.3h0M1713.6 884.6h0M1713.6 885.1h0M1713.6 886.9h0M1713.6 882.0h0M1691.2 906.4h0M1691.2 906.6h0M1691.2 911.9h0M1691.2 916.2h0M1691.2 903.3h0M1691.2 913.7h0M1691.2 904.7h0M1691.2 905.1h0M1691.2 915.0h0M1691.2 912.8h0M1691.2 908.3h0M1691.2 906.0h0M1691.2 914.0h0M1691.2 911.3h0M1691.2 914.4h0M1691.2 915.1h0M1689.2 911.6h0M1689.2 914.0h0M1689.2 920.6h0M1689.2 910.4h0M1689.2 913.7h0M1689.2 913.8h0M1689.2 917.7h0M1689.2 909.1h0M1689.2 910.8h0M1689.2 910.9h0M1689.2 912.4h0M1689.2 910.6h0M1689.2 905.5h0M1689.2 911.4h0M1689.2 911.1h0M1689.2 914.0h0M1704.8 893.8h0M1704.8 897.5h0M1704.8 899.6h0M1704.8 891.8h0M1704.8 897.2h0M1704.8 900.2h0M1704.8 899.5h0M1704.8 898.7h0M1704.8 901.1h0M1704.8 890.5h0M1704.8 894.1h0M1704.8 902.2h0M1704.8 891.6h0M1704.8 898.1h0M1704.8 895.4h0M1704.8 898.1h0M1706.2 893.4h0M1706.2 893.5h0M1706.2 891.9h0M1706.2 891.7h0M1706.2 905.9h0M1706.2 897.3h0M1706.2 895.4h0M1706.2 896.2h0M1706.2 901.4h0M1706.2 896.9h0M1706.2 896.2h0M1706.2 904.0h0M1706.2 899.1h0M1706.2 892.5h0M1706.2 898.7h0M1706.2 896.3h0M1707.8 894.0h0M1707.8 891.9h0M1707.8 891.0h0M1707.8 889.6h0M1707.8 893.5h0M1707.8 893.1h0M1707.8 894.5h0M1707.8 893.1h0M1707.8 894.4h0M1707.8 890.7h0M1707.8 890.9h0M1707.8 899.6h0M1707.8 903.3h0M1707.8 892.1h0M1707.8 896.0h0M1707.8 900.3h0M1715.8 881.9h0M1715.8 879.6h0M1715.8 890.6h0M1715.8 889.8h0M1715.8 888.7h0M1715.8 889.2h0M1715.8 886.4h0M1715.8 890.6h0M1715.8 886.0h0M1715.8 887.6h0M1715.8 881.6h0M1715.8 886.4h0M1715.8 882.2h0M1715.8 879.7h0M1715.8 883.8h0M1715.8 883.2h0M1722.1 881.8h0M1722.1 879.7h0M1722.1 870.2h0M1722.1 874.0h0M1722.1 879.6h0M1722.1 881.4h0M1722.1 880.4h0M1722.1 875.2h0M1722.1 888.3h0M1722.1 878.7h0M1722.1 885.2h0M1722.1 873.8h0M1722.1 885.7h0M1722.1 875.9h0M1722.1 881.0h0M1722.1 879.7h0M1710.9 884.0h0M1710.9 890.9h0M1710.9 888.0h0M1710.9 889.2h0M1710.9 895.7h0M1710.9 891.0h0M1710.9 886.7h0M1710.9 889.4h0M1710.9 890.0h0M1710.9 893.8h0M1710.9 884.3h0M1710.9 893.1h0M1710.9 883.3h0M1710.9 890.0h0M1710.9 887.8h0M1710.9 896.7h0M1715.2 886.0h0M1715.2 890.5h0M1715.2 886.1h0M1715.2 881.4h0M1715.2 885.0h0M1715.2 885.4h0M1715.2 882.4h0M1715.2 891.4h0M1715.2 886.0h0M1715.2 889.0h0M1715.2 881.8h0M1715.2 889.4h0M1715.2 879.6h0M1715.2 877.8h0M1715.2 895.2h0M1715.2 887.0h0M1696.1 912.0h0M1696.1 900.2h0M1696.1 909.0h0M1696.1 902.7h0M1696.1 904.0h0M1696.1 909.2h0M1696.1 911.7h0M1696.1 900.6h0M1696.1 907.8h0M1696.1 904.2h0M1696.1 899.3h0M1696.1 905.4h0M1696.1 906.6h0M1696.1 909.6h0M1696.1 903.4h0M1696.1 908.8h0M1695.2 913.3h0M1695.2 908.7h0M1695.2 908.9h0M1695.2 913.1h0M1695.2 907.3h0M1695.2 902.8h0M1695.2 903.8h0M1695.2 897.7h0M1695.2 901.5h0M1695.2 905.1h0M1695.2 914.8h0M1695.2 905.3h0M1695.2 901.1h0M1695.2 907.3h0M1695.2 900.2h0M1695.2 910.1h0M1711.0 889.3h0M1711.0 886.9h0M1711.0 883.3h0M1711.0 890.6h0M1711.0 882.2h0M1711.0 891.9h0M1711.0 898.0h0M1711.0 890.9h0M1711.0 884.6h0M1711.0 891.9h0M1711.0 883.5h0M1711.0 891.3h0M1711.0 882.4h0M1711.0 899.8h0M1711.0 880.7h0M1711.0 899.1h0M1715.8 885.9h0M1715.8 890.7h0M1715.8 884.3h0M1715.8 886.6h0M1715.8 887.0h0M1715.8 883.0h0M1715.8 881.6h0M1715.8 887.1h0M1715.8 880.4h0M1715.8 893.1h0M1715.8 890.3h0M1715.8 891.5h0M1715.8 883.7h0M1715.8 881.8h0M1715.8 887.5h0M1715.8 888.5h0M1716.5 890.2h0M1716.5 882.1h0M1716.5 880.2h0M1716.5 887.4h0M1716.5 885.8h0M1716.5 886.8h0M1716.5 885.2h0M1716.5 883.1h0M1716.5 894.5h0M1716.5 887.4h0M1716.5 881.6h0M1716.5 888.9h0M1716.5 879.6h0M1716.5 879.0h0M1716.5 889.1h0M1716.5 888.4h0M1715.0 880.9h0M1715.0 893.5h0M1715.0 891.0h0M1715.0 893.5h0M1715.0 886.4h0M1715.0 885.0h0M1715.0 884.4h0M1715.0 885.3h0M1715.0 892.5h0M1715.0 881.5h0M1715.0 886.8h0M1715.0 888.2h0M1715.0 879.2h0M1715.0 886.0h0M1715.0 885.0h0M1715.0 882.9h0M1717.1 875.8h0M1717.1 884.5h0M1717.1 881.4h0M1717.1 894.4h0M1717.1 888.6h0M1717.1 875.6h0M1717.1 875.9h0M1717.1 885.1h0M1717.1 888.3h0M1717.1 890.3h0M1717.1 889.6h0M1717.1 886.9h0M1717.1 891.9h0M1717.1 884.9h0M1717.1 885.2h0M1717.1 889.8h0M1717.4 889.8h0M1717.4 889.2h0M1717.4 886.3h0M1717.4 885.1h0M1717.4 881.7h0M1717.4 891.7h0M1717.4 885.7h0M1717.4 884.0h0M1717.4 882.8h0M1717.4 880.5h0M1717.4 885.9h0M1717.4 878.9h0M1717.4 874.3h0M1717.4 882.2h0M1717.4 877.5h0M1717.4 879.9h0M1689.2 910.3h0M1689.2 913.1h0M1689.2 911.1h0M1689.2 903.4h0M1689.2 911.8h0M1689.2 915.5h0M1689.2 914.3h0M1689.2 908.8h0M1689.2 914.9h0M1689.2 908.2h0M1689.2 909.0h0M1689.2 911.1h0M1689.2 905.0h0M1689.2 917.7h0M1689.2 914.4h0M1689.2 912.8h0M1700.1 899.5h0M1700.1 907.0h0M1700.1 903.6h0M1700.1 895.7h0M1700.1 902.9h0M1700.1 897.3h0M1700.1 902.3h0M1700.1 904.5h0M1700.1 899.1h0M1700.1 895.7h0M1700.1 901.5h0M1700.1 906.9h0M1700.1 904.7h0M1700.1 903.3h0M1700.1 902.5h0M1700.1 905.4h0M1713.4 885.2h0M1713.4 892.7h0M1713.4 884.0h0M1713.4 892.7h0M1713.4 892.3h0M1713.4 883.4h0M1713.4 885.1h0M1713.4 889.6h0M1713.4 890.7h0M1713.4 889.1h0M1713.4 888.0h0M1713.4 887.1h0M1713.4 883.7h0M1713.4 891.7h0M1713.4 888.1h0M1713.4 887.9h0M1715.0 892.4h0M1715.0 881.6h0M1715.0 879.4h0M1715.0 886.6h0M1715.0 894.1h0M1715.0 890.1h0M1715.0 882.6h0M1715.0 895.3h0M1715.0 895.2h0M1715.0 888.9h0M1715.0 884.7h0M1715.0 883.2h0M1715.0 882.4h0M1715.0 896.8h0M1715.0 889.2h0M1715.0 890.9h0M1691.4 914.4h0M1691.4 906.9h0M1691.4 908.4h0M1691.4 913.4h0M1691.4 909.3h0M1691.4 909.3h0M1691.4 904.8h0M1691.4 912.5h0M1691.4 907.5h0M1691.4 913.2h0M1691.4 908.3h0M1691.4 910.3h0M1691.4 909.0h0M1691.4 910.1h0M1691.4 903.7h0M1691.4 913.0h0M1721.4 884.0h0M1721.4 882.4h0M1721.4 878.1h0M1721.4 877.0h0M1721.4 880.2h0M1721.4 882.7h0M1721.4 881.6h0M1721.4 882.8h0M1721.4 877.8h0M1721.4 880.0h0M1721.4 878.9h0M1721.4 879.6h0M1721.4 879.6h0M1721.4 875.1h0M1721.4 881.9h0M1721.4 878.1h0M1703.4 896.0h0M1703.4 900.8h0M1703.4 891.2h0M1703.4 896.9h0M1703.4 902.5h0M1703.4 894.0h0M1703.4 895.6h0M1703.4 895.1h0M1703.4 898.8h0M1703.4 899.4h0M1703.4 897.3h0M1703.4 903.5h0M1703.4 897.3h0M1703.4 897.7h0M1703.4 894.3h0M1703.4 898.8h0M1705.7 893.2h0M1705.7 901.5h0M1705.7 898.8h0M1705.7 892.5h0M1705.7 889.8h0M1705.7 892.1h0M1705.7 901.8h0M1705.7 899.9h0M1705.7 898.2h0M1705.7 890.7h0M1705.7 898.2h0M1705.7 894.8h0M1705.7 893.9h0M1705.7 893.9h0M1705.7 896.3h0M1705.7 894.4h0M1711.4 886.7h0M1711.4 889.4h0M1711.4 890.3h0M1711.4 886.9h0M1711.4 883.9h0M1711.4 880.1h0M1711.4 894.7h0M1711.4 888.9h0M1711.4 889.6h0M1711.4 894.5h0M1711.4 891.2h0M1711.4 892.8h0M1711.4 894.0h0M1711.4 892.6h0M1711.4 887.5h0M1711.4 894.3h0M1716.7 886.9h0M1716.7 885.4h0M1716.7 888.9h0M1716.7 889.8h0M1716.7 891.3h0M1716.7 887.9h0M1716.7 879.2h0M1716.7 891.8h0M1716.7 881.5h0M1716.7 888.6h0M1716.7 888.7h0M1716.7 881.8h0M1716.7 882.7h0M1716.7 882.3h0M1716.7 885.0h0M1716.7 881.4h0M1692.3 911.8h0M1692.3 907.8h0M1692.3 905.3h0M1692.3 909.4h0M1692.3 912.7h0M1692.3 902.5h0M1692.3 910.2h0M1692.3 913.2h0M1692.3 906.7h0M1692.3 904.1h0M1692.3 906.9h0M1692.3 914.1h0M1692.3 909.0h0M1692.3 907.9h0M1692.3 906.6h0M1692.3 915.0h0M1719.4 887.4h0M1719.4 881.4h0M1719.4 882.1h0M1719.4 880.3h0M1719.4 877.5h0M1719.4 887.7h0M1719.4 886.8h0M1719.4 884.6h0M1719.4 876.1h0M1719.4 883.1h0M1719.4 878.3h0M1719.4 891.9h0M1719.4 881.3h0M1719.4 878.5h0M1719.4 876.4h0M1719.4 885.1h0M1709.2 884.1h0M1709.2 895.6h0M1709.2 886.3h0M1709.2 885.3h0M1709.2 892.5h0M1709.2 897.7h0M1709.2 883.2h0M1709.2 890.6h0M1709.2 897.1h0M1709.2 890.2h0M1709.2 896.5h0M1709.2 891.5h0M1709.2 896.7h0M1709.2 901.5h0M1709.2 889.5h0M1709.2 895.1h0M1699.7 902.3h0M1699.7 901.3h0M1699.7 902.5h0M1699.7 904.7h0M1699.7 900.3h0M1699.7 899.3h0M1699.7 900.8h0M1699.7 903.2h0M1699.7 901.6h0M1699.7 895.5h0M1699.7 896.7h0M1699.7 902.6h0M1699.7 899.1h0M1699.7 899.1h0M1699.7 899.1h0M1699.7 901.3h0M1705.3 893.9h0M1705.3 897.2h0M1705.3 893.0h0M1705.3 893.6h0M1705.3 893.0h0M1705.3 893.1h0M1705.3 893.5h0M1705.3 899.0h0M1705.3 900.6h0M1705.3 895.3h0M1705.3 897.4h0M1705.3 892.8h0M1705.3 898.5h0M1705.3 897.8h0M1705.3 901.4h0M1705.3 896.4h0M1689.2 913.6h0M1689.2 907.3h0M1689.2 911.7h0M1689.2 906.2h0M1689.2 915.0h0M1689.2 918.4h0M1689.2 907.5h0M1689.2 909.9h0M1689.2 905.5h0M1689.2 914.6h0M1689.2 919.0h0M1689.2 905.4h0M1689.2 910.6h0M1689.2 914.1h0M1689.2 902.9h0M1689.2 911.4h0M1701.1 903.1h0M1701.1 898.1h0M1701.1 901.8h0M1701.1 903.1h0M1701.1 898.0h0M1701.1 899.5h0M1701.1 900.4h0M1701.1 900.1h0M1701.1 905.2h0M1701.1 896.7h0M1701.1 891.9h0M1701.1 898.5h0M1701.1 894.4h0M1701.1 891.6h0M1701.1 900.6h0M1701.1 902.4h0M1710.4 894.4h0M1710.4 892.4h0M1710.4 887.2h0M1710.4 891.0h0M1710.4 885.6h0M1710.4 893.1h0M1710.4 883.7h0M1710.4 891.7h0M1710.4 890.8h0M1710.4 890.2h0M1710.4 891.4h0M1710.4 890.9h0M1710.4 888.1h0M1710.4 890.9h0M1710.4 888.7h0M1710.4 893.7h0M1700.4 903.7h0M1700.4 906.2h0M1700.4 897.5h0M1700.4 903.9h0M1700.4 898.7h0M1700.4 900.1h0M1700.4 900.0h0M1700.4 901.4h0M1700.4 898.2h0M1700.4 898.5h0M1700.4 893.8h0M1700.4 901.4h0M1700.4 902.0h0M1700.4 905.4h0M1700.4 891.6h0M1700.4 903.3h0M1704.7 892.9h0M1704.7 893.1h0M1704.7 901.2h0M1704.7 898.8h0M1704.7 893.3h0M1704.7 896.3h0M1704.7 901.5h0M1704.7 895.8h0M1704.7 890.1h0M1704.7 894.9h0M1704.7 894.1h0M1704.7 891.1h0M1704.7 887.5h0M1704.7 896.2h0M1704.7 898.8h0M1704.7 896.6h0M1706.7 896.3h0M1706.7 899.9h0M1706.7 895.0h0M1706.7 898.3h0M1706.7 889.3h0M1706.7 894.9h0M1706.7 905.1h0M1706.7 898.7h0M1706.7 893.0h0M1706.7 897.0h0M1706.7 898.0h0M1706.7 897.0h0M1706.7 898.2h0M1706.7 892.3h0M1706.7 896.7h0M1706.7 898.6h0M1708.9 889.2h0M1708.9 897.5h0M1708.9 891.8h0M1708.9 896.8h0M1708.9 894.5h0M1708.9 894.8h0M1708.9 897.4h0M1708.9 895.2h0M1708.9 886.8h0M1708.9 897.4h0M1708.9 884.6h0M1708.9 889.4h0M1708.9 886.4h0M1708.9 894.8h0M1708.9 888.4h0M1708.9 892.0h0M1719.7 873.6h0M1719.7 883.7h0M1719.7 876.8h0M1719.7 884.4h0M1719.7 876.2h0M1719.7 883.5h0M1719.7 886.5h0M1719.7 887.6h0M1719.7 884.4h0M1719.7 875.6h0M1719.7 887.4h0M1719.7 885.2h0M1719.7 882.5h0M1719.7 881.9h0M1719.7 881.1h0M1719.7 875.4h0M1708.1 894.5h0M1708.1 899.6h0M1708.1 890.6h0M1708.1 895.4h0M1708.1 894.6h0M1708.1 893.1h0M1708.1 887.0h0M1708.1 888.5h0M1708.1 893.4h0M1708.1 895.0h0M1708.1 891.7h0M1708.1 896.7h0M1708.1 900.9h0M1708.1 896.3h0M1708.1 889.5h0M1708.1 896.4h0M1705.4 898.3h0M1705.4 890.1h0M1705.4 890.1h0M1705.4 890.0h0M1705.4 899.3h0M1705.4 894.0h0M1705.4 890.5h0M1705.4 891.8h0M1705.4 897.7h0M1705.4 897.0h0M1705.4 899.2h0M1705.4 898.3h0M1705.4 894.6h0M1705.4 894.6h0M1705.4 899.7h0M1705.4 893.4h0M1714.4 886.4h0M1714.4 881.8h0M1714.4 889.4h0M1714.4 886.3h0M1714.4 896.5h0M1714.4 884.0h0M1714.4 884.8h0M1714.4 883.6h0M1714.4 887.0h0M1714.4 887.0h0M1714.4 887.4h0M1714.4 882.0h0M1714.4 891.1h0M1714.4 887.5h0M1714.4 884.6h0M1714.4 888.6h0M1731.5 873.7h0M1731.5 871.2h0M1731.5 868.6h0M1731.5 863.4h0M1731.5 872.1h0M1731.5 878.8h0M1731.5 865.7h0M1731.5 869.9h0M1731.5 867.4h0M1731.5 870.4h0M1731.5 870.1h0M1731.5 877.9h0M1731.5 867.7h0M1731.5 874.5h0M1731.5 867.3h0M1731.5 877.9h0M1704.5 892.2h0M1704.5 897.8h0M1704.5 906.6h0M1704.5 896.6h0M1704.5 896.7h0M1704.5 896.7h0M1704.5 901.7h0M1704.5 887.9h0M1704.5 899.2h0M1704.5 893.0h0M1704.5 907.4h0M1704.5 894.6h0M1704.5 895.1h0M1704.5 897.3h0M1704.5 892.1h0M1704.5 899.6h0M1714.1 885.8h0M1714.1 887.9h0M1714.1 886.5h0M1714.1 891.6h0M1714.1 885.0h0M1714.1 885.4h0M1714.1 886.4h0M1714.1 886.3h0M1714.1 889.2h0M1714.1 890.1h0M1714.1 888.5h0M1714.1 886.0h0M1714.1 892.5h0M1714.1 888.0h0M1714.1 881.2h0M1714.1 884.6h0M1690.7 914.7h0M1690.7 905.7h0M1690.7 917.7h0M1690.7 911.6h0M1690.7 906.2h0M1690.7 908.0h0M1690.7 909.3h0M1690.7 915.0h0M1690.7 917.5h0M1690.7 908.6h0M1690.7 909.6h0M1690.7 903.9h0M1690.7 913.2h0M1690.7 915.3h0M1690.7 913.1h0M1690.7 918.3h0M1723.4 879.8h0M1723.4 878.6h0M1723.4 879.1h0M1723.4 871.0h0M1723.4 870.7h0M1723.4 879.7h0M1723.4 880.6h0M1723.4 873.1h0M1723.4 874.0h0M1723.4 883.4h0M1723.4 881.3h0M1723.4 881.5h0M1723.4 883.6h0M1723.4 880.7h0M1723.4 883.5h0M1723.4 875.2h0M1715.7 884.0h0M1715.7 893.0h0M1715.7 888.6h0M1715.7 888.4h0M1715.7 880.2h0M1715.7 888.6h0M1715.7 882.4h0M1715.7 879.3h0M1715.7 889.5h0M1715.7 883.7h0M1715.7 885.5h0M1715.7 882.2h0M1715.7 891.5h0M1715.7 887.4h0M1715.7 892.7h0M1715.7 882.9h0M1723.2 886.5h0M1723.2 878.1h0M1723.2 884.8h0M1723.2 881.4h0M1723.2 881.7h0M1723.2 878.0h0M1723.2 876.1h0M1723.2 873.6h0M1723.2 872.6h0M1723.2 878.2h0M1723.2 882.8h0M1723.2 873.2h0M1723.2 883.4h0M1723.2 878.3h0M1723.2 881.1h0M1723.2 880.8h0M1707.7 893.0h0M1707.7 898.5h0M1707.7 894.2h0M1707.7 894.1h0M1707.7 889.4h0M1707.7 889.1h0M1707.7 890.5h0M1707.7 893.5h0M1707.7 886.6h0M1707.7 889.7h0M1707.7 898.9h0M1707.7 892.4h0M1707.7 891.8h0M1707.7 897.2h0M1707.7 892.7h0M1707.7 895.0h0M1696.7 908.4h0M1696.7 904.4h0M1696.7 907.2h0M1696.7 909.7h0M1696.7 904.6h0M1696.7 912.3h0M1696.7 899.9h0M1696.7 906.1h0M1696.7 904.3h0M1696.7 900.7h0M1696.7 900.8h0M1696.7 905.9h0M1696.7 903.3h0M1696.7 900.6h0M1696.7 898.8h0M1696.7 907.9h0M1718.2 881.9h0M1718.2 887.7h0M1718.2 886.9h0M1718.2 883.5h0M1718.2 884.1h0M1718.2 887.8h0M1718.2 887.0h0M1718.2 883.6h0M1718.2 889.3h0M1718.2 882.7h0M1718.2 888.3h0M1718.2 877.5h0M1718.2 882.6h0M1718.2 880.3h0M1718.2 884.9h0M1718.2 878.8h0M1716.8 882.7h0M1716.8 881.7h0M1716.8 884.4h0M1716.8 882.2h0M1716.8 885.3h0M1716.8 882.3h0M1716.8 886.1h0M1716.8 886.1h0M1716.8 884.2h0M1716.8 884.4h0M1716.8 885.1h0M1716.8 888.1h0M1716.8 885.9h0M1716.8 880.9h0M1716.8 884.3h0M1716.8 883.4h0M1698.6 905.0h0M1698.6 897.1h0M1698.6 903.7h0M1698.6 900.6h0M1698.6 902.9h0M1698.6 897.9h0M1698.6 909.4h0M1698.6 911.5h0M1698.6 904.3h0M1698.6 913.4h0M1698.6 906.3h0M1698.6 906.0h0M1698.6 904.1h0M1698.6 900.3h0M1698.6 908.7h0M1698.6 900.8h0M1691.9 904.6h0M1691.9 903.0h0M1691.9 914.4h0M1691.9 911.2h0M1691.9 901.7h0M1691.9 913.8h0M1691.9 904.9h0M1691.9 908.1h0M1691.9 907.3h0M1691.9 916.6h0M1691.9 915.5h0M1691.9 913.3h0M1691.9 907.0h0M1691.9 906.2h0M1691.9 912.9h0M1691.9 908.4h0M1713.4 887.6h0M1713.4 892.2h0M1713.4 892.8h0M1713.4 896.4h0M1713.4 893.1h0M1713.4 891.8h0M1713.4 883.3h0M1713.4 884.9h0M1713.4 889.3h0M1713.4 887.2h0M1713.4 892.0h0M1713.4 898.3h0M1713.4 887.5h0M1713.4 886.2h0M1713.4 891.8h0M1713.4 883.5h0M1706.4 891.1h0M1706.4 892.1h0M1706.4 903.4h0M1706.4 895.3h0M1706.4 892.9h0M1706.4 899.1h0M1706.4 897.7h0M1706.4 891.9h0M1706.4 886.9h0M1706.4 892.0h0M1706.4 894.4h0M1706.4 897.5h0M1706.4 899.9h0M1706.4 898.9h0M1706.4 893.8h0M1706.4 897.4h0M1737.5 858.7h0M1737.5 869.9h0M1737.5 869.1h0M1737.5 864.5h0M1737.5 863.3h0M1737.5 863.7h0M1737.5 868.7h0M1737.5 867.3h0M1737.5 860.2h0M1737.5 865.7h0M1737.5 866.1h0M1737.5 861.4h0M1737.5 862.4h0M1737.5 864.0h0M1737.5 857.0h0M1737.5 869.7h0M1701.5 898.4h0M1701.5 902.5h0M1701.5 895.8h0M1701.5 904.0h0M1701.5 897.2h0M1701.5 901.6h0M1701.5 889.4h0M1701.5 899.0h0M1701.5 890.8h0M1701.5 902.8h0M1701.5 902.5h0M1701.5 898.5h0M1701.5 907.1h0M1701.5 903.9h0M1701.5 893.7h0M1701.5 895.4h0M1702.4 899.9h0M1702.4 894.3h0M1702.4 897.1h0M1702.4 897.0h0M1702.4 903.0h0M1702.4 895.0h0M1702.4 901.4h0M1702.4 892.8h0M1702.4 903.3h0M1702.4 888.6h0M1702.4 901.7h0M1702.4 904.6h0M1702.4 903.7h0M1702.4 897.4h0M1702.4 897.8h0M1702.4 901.8h0M1707.1 891.1h0M1707.1 886.2h0M1707.1 893.8h0M1707.1 891.1h0M1707.1 890.6h0M1707.1 890.8h0M1707.1 901.5h0M1707.1 888.0h0M1707.1 894.4h0M1707.1 893.6h0M1707.1 889.2h0M1707.1 905.2h0M1707.1 890.8h0M1707.1 892.9h0M1707.1 887.2h0M1707.1 892.5h0M1689.7 905.8h0M1689.7 906.9h0M1689.7 916.4h0M1689.7 911.6h0M1689.7 914.4h0M1689.7 911.7h0M1689.7 915.1h0M1689.7 917.7h0M1689.7 912.0h0M1689.7 912.8h0M1689.7 909.5h0M1689.7 904.6h0M1689.7 913.0h0M1689.7 912.4h0M1689.7 906.4h0M1689.7 907.5h0M1698.4 909.5h0M1698.4 903.0h0M1698.4 909.3h0M1698.4 906.6h0M1698.4 905.2h0M1698.4 903.7h0M1698.4 904.4h0M1698.4 902.3h0M1698.4 901.8h0M1698.4 896.6h0M1698.4 899.9h0M1698.4 907.6h0M1698.4 897.6h0M1698.4 901.9h0M1698.4 908.1h0M1698.4 907.3h0M1726.7 874.8h0M1726.7 874.6h0M1726.7 873.6h0M1726.7 881.3h0M1726.7 876.4h0M1726.7 866.4h0M1726.7 882.2h0M1726.7 880.6h0M1726.7 874.9h0M1726.7 873.8h0M1726.7 877.5h0M1726.7 874.5h0M1726.7 875.5h0M1726.7 878.6h0M1726.7 875.2h0M1726.7 876.4h0M1706.9 893.4h0M1706.9 892.0h0M1706.9 898.6h0M1706.9 895.3h0M1706.9 899.3h0M1706.9 896.4h0M1706.9 894.4h0M1706.9 892.0h0M1706.9 898.2h0M1706.9 892.3h0M1706.9 895.3h0M1706.9 896.0h0M1706.9 895.9h0M1706.9 897.4h0M1706.9 893.4h0M1706.9 900.1h0M1701.5 898.3h0M1701.5 902.4h0M1701.5 894.2h0M1701.5 902.3h0M1701.5 898.9h0M1701.5 897.3h0M1701.5 897.0h0M1701.5 893.8h0M1701.5 893.4h0M1701.5 900.7h0M1701.5 902.0h0M1701.5 894.2h0M1701.5 898.3h0M1701.5 900.4h0M1701.5 899.8h0M1701.5 896.3h0M1694.1 904.0h0M1694.1 916.0h0M1694.1 910.5h0M1694.1 909.5h0M1694.1 911.5h0M1694.1 902.6h0M1694.1 902.2h0M1694.1 907.8h0M1694.1 901.3h0M1694.1 908.4h0M1694.1 901.4h0M1694.1 903.7h0M1694.1 906.0h0M1694.1 904.7h0M1694.1 908.8h0M1694.1 902.1h0M1714.8 887.6h0M1714.8 883.7h0M1714.8 889.3h0M1714.8 889.2h0M1714.8 885.5h0M1714.8 885.4h0M1714.8 880.7h0M1714.8 886.7h0M1714.8 884.5h0M1714.8 884.4h0M1714.8 877.7h0M1714.8 885.3h0M1714.8 890.6h0M1714.8 892.1h0M1714.8 887.8h0M1714.8 886.0h0M1715.7 890.3h0M1715.7 890.4h0M1715.7 889.6h0M1715.7 885.9h0M1715.7 883.4h0M1715.7 888.8h0M1715.7 889.3h0M1715.7 880.8h0M1715.7 878.8h0M1715.7 883.8h0M1715.7 888.4h0M1715.7 888.4h0M1715.7 883.2h0M1715.7 893.2h0M1715.7 892.7h0M1715.7 882.3h0M1711.2 896.6h0M1711.2 893.9h0M1711.2 882.2h0M1711.2 892.7h0M1711.2 885.2h0M1711.2 891.8h0M1711.2 895.2h0M1711.2 888.9h0M1711.2 891.1h0M1711.2 887.2h0M1711.2 896.7h0M1711.2 888.5h0M1711.2 889.6h0M1711.2 887.2h0M1711.2 889.4h0M1711.2 894.5h0M1704.0 892.2h0M1704.0 893.9h0M1704.0 893.8h0M1704.0 895.1h0M1704.0 896.1h0M1704.0 899.9h0M1704.0 904.9h0M1704.0 904.1h0M1704.0 898.3h0M1704.0 906.9h0M1704.0 900.3h0M1704.0 894.2h0M1704.0 901.6h0M1704.0 890.0h0M1704.0 904.6h0M1704.0 895.0h0M1711.8 898.0h0M1711.8 888.7h0M1711.8 883.2h0M1711.8 891.4h0M1711.8 895.2h0M1711.8 894.8h0M1711.8 887.4h0M1711.8 886.6h0M1711.8 888.4h0M1711.8 892.2h0M1711.8 894.6h0M1711.8 893.6h0M1711.8 894.4h0M1711.8 896.7h0M1711.8 885.8h0M1711.8 885.0h0M1712.6 883.9h0M1712.6 882.2h0M1712.6 892.1h0M1712.6 897.0h0M1712.6 888.5h0M1712.6 890.5h0M1712.6 894.1h0M1712.6 887.6h0M1712.6 891.3h0M1712.6 886.7h0M1712.6 887.8h0M1712.6 893.0h0M1712.6 889.5h0M1712.6 891.7h0M1712.6 888.1h0M1712.6 889.8h0M1700.7 905.4h0M1700.7 899.6h0M1700.7 902.3h0M1700.7 902.0h0M1700.7 900.9h0M1700.7 892.2h0M1700.7 899.8h0M1700.7 902.2h0M1700.7 904.0h0M1700.7 908.2h0M1700.7 901.4h0M1700.7 901.3h0M1700.7 903.6h0M1700.7 898.3h0M1700.7 899.7h0M1700.7 898.6h0M1715.3 887.8h0M1715.3 880.6h0M1715.3 884.3h0M1715.3 889.3h0M1715.3 886.7h0M1715.3 882.6h0M1715.3 889.3h0M1715.3 881.4h0M1715.3 888.4h0M1715.3 894.1h0M1715.3 883.7h0M1715.3 888.7h0M1715.3 886.5h0M1715.3 887.3h0M1715.3 882.3h0M1715.3 886.7h0M1689.2 909.2h0M1689.2 916.3h0M1689.2 912.4h0M1689.2 915.2h0M1689.2 912.8h0M1689.2 903.8h0M1689.2 915.9h0M1689.2 911.2h0M1689.2 914.2h0M1689.2 911.0h0M1689.2 916.2h0M1689.2 915.1h0M1689.2 919.9h0M1689.2 907.8h0M1689.2 912.6h0M1689.2 911.8h0M1693.9 913.5h0M1693.9 902.0h0M1693.9 903.6h0M1693.9 909.6h0M1693.9 907.0h0M1693.9 909.2h0M1693.9 904.2h0M1693.9 917.0h0M1693.9 907.3h0M1693.9 907.0h0M1693.9 904.6h0M1693.9 912.3h0M1693.9 911.1h0M1693.9 912.4h0M1693.9 904.2h0M1693.9 906.3h0M1704.9 892.6h0M1704.9 893.6h0M1704.9 894.2h0M1704.9 901.6h0M1704.9 897.7h0M1704.9 891.4h0M1704.9 895.4h0M1704.9 900.7h0M1704.9 900.2h0M1704.9 898.5h0M1704.9 897.7h0M1704.9 896.2h0M1704.9 896.6h0M1704.9 894.8h0M1704.9 892.3h0M1704.9 894.0h0M1707.1 898.6h0M1707.1 886.1h0M1707.1 895.3h0M1707.1 897.1h0M1707.1 889.9h0M1707.1 888.7h0M1707.1 892.4h0M1707.1 889.0h0M1707.1 895.0h0M1707.1 894.9h0M1707.1 898.7h0M1707.1 890.0h0M1707.1 893.4h0M1707.1 887.5h0M1707.1 895.4h0M1707.1 889.5h0M1695.3 905.4h0M1695.3 898.9h0M1695.3 905.7h0M1695.3 900.0h0M1695.3 909.8h0M1695.3 907.4h0M1695.3 907.8h0M1695.3 901.5h0M1695.3 914.2h0M1695.3 910.4h0M1695.3 904.8h0M1695.3 906.0h0M1695.3 905.9h0M1695.3 904.0h0M1695.3 906.7h0M1695.3 903.1h0M1712.0 883.9h0M1712.0 892.9h0M1712.0 884.1h0M1712.0 892.4h0M1712.0 894.6h0M1712.0 889.6h0M1712.0 889.8h0M1712.0 888.3h0M1712.0 894.1h0M1712.0 889.9h0M1712.0 891.9h0M1712.0 885.2h0M1712.0 889.3h0M1712.0 892.1h0M1712.0 893.8h0M1712.0 889.7h0M1720.1 873.7h0M1720.1 888.5h0M1720.1 884.3h0M1720.1 876.6h0M1720.1 877.4h0M1720.1 882.4h0M1720.1 882.0h0M1720.1 883.3h0M1720.1 885.1h0M1720.1 882.7h0M1720.1 879.4h0M1720.1 880.0h0M1720.1 887.5h0M1720.1 882.3h0M1720.1 884.1h0M1720.1 876.5h0M1713.4 893.7h0M1713.4 892.8h0M1713.4 893.6h0M1713.4 873.7h0M1713.4 881.0h0M1713.4 889.0h0M1713.4 884.1h0M1713.4 895.1h0M1713.4 889.0h0M1713.4 878.7h0M1713.4 888.7h0M1713.4 893.4h0M1713.4 890.6h0M1713.4 890.5h0M1713.4 888.7h0M1713.4 888.7h0M1710.8 892.6h0M1710.8 896.8h0M1710.8 890.8h0M1710.8 890.8h0M1710.8 897.2h0M1710.8 888.4h0M1710.8 891.3h0M1710.8 883.6h0M1710.8 888.6h0M1710.8 893.3h0M1710.8 894.3h0M1710.8 883.3h0M1710.8 885.8h0M1710.8 888.3h0M1710.8 887.0h0M1710.8 896.1h0M1717.6 879.0h0M1717.6 884.3h0M1717.6 883.8h0M1717.6 879.5h0M1717.6 881.3h0M1717.6 889.9h0M1717.6 880.9h0M1717.6 884.3h0M1717.6 878.7h0M1717.6 882.7h0M1717.6 881.0h0M1717.6 887.4h0M1717.6 886.8h0M1717.6 887.9h0M1717.6 882.0h0M1717.6 887.1h0M1712.9 889.3h0M1712.9 879.0h0M1712.9 883.9h0M1712.9 877.6h0M1712.9 890.3h0M1712.9 890.9h0M1712.9 889.0h0M1712.9 884.5h0M1712.9 890.5h0M1712.9 878.8h0M1712.9 890.8h0M1712.9 881.4h0M1712.9 891.3h0M1712.9 890.6h0M1712.9 885.7h0M1712.9 887.4h0M1695.6 905.9h0M1695.6 906.5h0M1695.6 903.5h0M1695.6 907.0h0M1695.6 897.1h0M1695.6 901.6h0M1695.6 902.7h0M1695.6 908.9h0M1695.6 893.2h0M1695.6 903.6h0M1695.6 907.8h0M1695.6 908.9h0M1695.6 915.6h0M1695.6 907.9h0M1695.6 913.7h0M1695.6 911.5h0M1706.1 889.6h0M1706.1 896.6h0M1706.1 898.6h0M1706.1 888.2h0M1706.1 898.0h0M1706.1 886.8h0M1706.1 896.4h0M1706.1 893.6h0M1706.1 896.8h0M1706.1 897.5h0M1706.1 894.3h0M1706.1 889.5h0M1706.1 894.8h0M1706.1 899.3h0M1706.1 902.4h0M1706.1 890.2h0M1722.8 881.5h0M1722.8 883.0h0M1722.8 876.6h0M1722.8 876.5h0M1722.8 876.0h0M1722.8 881.0h0M1722.8 886.4h0M1722.8 876.2h0M1722.8 878.7h0M1722.8 878.7h0M1722.8 882.3h0M1722.8 876.3h0M1722.8 878.3h0M1722.8 877.4h0M1722.8 873.5h0M1722.8 879.5h0M1695.6 907.0h0M1695.6 907.0h0M1695.6 912.4h0M1695.6 907.3h0M1695.6 901.7h0M1695.6 902.6h0M1695.6 908.2h0M1695.6 910.9h0M1695.6 904.0h0M1695.6 905.7h0M1695.6 905.3h0M1695.6 899.8h0M1695.6 906.8h0M1695.6 901.3h0M1695.6 904.7h0M1695.6 902.4h0M1709.0 895.5h0M1709.0 892.9h0M1709.0 891.3h0M1709.0 893.2h0M1709.0 892.3h0M1709.0 893.8h0M1709.0 885.1h0M1709.0 901.9h0M1709.0 889.2h0M1709.0 892.2h0M1709.0 897.3h0M1709.0 895.2h0M1709.0 898.8h0M1709.0 890.1h0M1709.0 889.5h0M1709.0 890.8h0M1704.0 890.7h0M1704.0 904.6h0M1704.0 902.9h0M1704.0 899.4h0M1704.0 894.6h0M1704.0 895.6h0M1704.0 902.0h0M1704.0 897.5h0M1704.0 894.4h0M1704.0 903.7h0M1704.0 895.3h0M1704.0 893.8h0M1704.0 893.2h0M1704.0 893.3h0M1704.0 899.0h0M1704.0 906.5h0M1698.3 909.2h0M1698.3 907.2h0M1698.3 904.5h0M1698.3 900.4h0M1698.3 903.3h0M1698.3 902.2h0M1698.3 897.7h0M1698.3 910.0h0M1698.3 902.4h0M1698.3 900.7h0M1698.3 898.0h0M1698.3 894.2h0M1698.3 899.0h0M1698.3 907.8h0M1698.3 900.9h0M1698.3 906.9h0M1697.0 902.8h0M1697.0 907.2h0M1697.0 906.8h0M1697.0 903.4h0M1697.0 907.2h0M1697.0 904.2h0M1697.0 904.8h0M1697.0 902.4h0M1697.0 907.0h0M1697.0 909.4h0M1697.0 911.9h0M1697.0 902.6h0M1697.0 901.9h0M1697.0 908.9h0M1697.0 912.3h0M1697.0 901.7h0M1709.5 892.0h0M1709.5 888.9h0M1709.5 892.0h0M1709.5 886.9h0M1709.5 890.5h0M1709.5 892.4h0M1709.5 888.0h0M1709.5 896.8h0M1709.5 892.3h0M1709.5 891.6h0M1709.5 893.4h0M1709.5 890.8h0M1709.5 893.8h0M1709.5 899.0h0M1709.5 884.1h0M1709.5 892.2h0M1711.9 890.9h0M1711.9 895.6h0M1711.9 889.6h0M1711.9 890.5h0M1711.9 895.6h0M1711.9 884.9h0M1711.9 885.8h0M1711.9 897.3h0M1711.9 886.5h0M1711.9 892.8h0M1711.9 886.4h0M1711.9 887.5h0M1711.9 885.4h0M1711.9 887.3h0M1711.9 883.5h0M1711.9 890.9h0M1711.8 891.0h0M1711.8 890.9h0M1711.8 891.4h0M1711.8 880.6h0M1711.8 888.9h0M1711.8 884.3h0M1711.8 888.5h0M1711.8 889.9h0M1711.8 885.7h0M1711.8 892.2h0M1711.8 886.7h0M1711.8 884.2h0M1711.8 889.1h0M1711.8 888.8h0M1711.8 891.1h0M1711.8 886.6h0M1692.2 905.1h0M1692.2 904.6h0M1692.2 910.7h0M1692.2 908.9h0M1692.2 912.5h0M1692.2 907.4h0M1692.2 906.2h0M1692.2 908.5h0M1692.2 909.4h0M1692.2 907.5h0M1692.2 908.0h0M1692.2 907.2h0M1692.2 912.0h0M1692.2 912.6h0M1692.2 911.2h0M1692.2 912.9h0M1705.1 895.1h0M1705.1 888.1h0M1705.1 896.0h0M1705.1 903.0h0M1705.1 899.6h0M1705.1 900.4h0M1705.1 894.3h0M1705.1 895.5h0M1705.1 889.1h0M1705.1 896.0h0M1705.1 897.0h0M1705.1 891.2h0M1705.1 900.3h0M1705.1 896.5h0M1705.1 891.7h0M1705.1 895.4h0M1712.2 887.6h0M1712.2 893.1h0M1712.2 895.6h0M1712.2 890.6h0M1712.2 885.2h0M1712.2 891.6h0M1712.2 893.8h0M1712.2 895.7h0M1712.2 881.6h0M1712.2 895.8h0M1712.2 891.9h0M1712.2 894.1h0M1712.2 886.5h0M1712.2 896.3h0M1712.2 895.1h0M1712.2 888.5h0M1718.9 889.3h0M1718.9 880.5h0M1718.9 877.8h0M1718.9 882.2h0M1718.9 893.1h0M1718.9 885.3h0M1718.9 883.7h0M1718.9 877.1h0M1718.9 876.3h0M1718.9 878.4h0M1718.9 882.4h0M1718.9 883.6h0M1718.9 883.0h0M1718.9 885.2h0M1718.9 884.4h0M1718.9 885.0h0M1715.9 885.7h0M1715.9 880.4h0M1715.9 891.2h0M1715.9 878.0h0M1715.9 883.1h0M1715.9 881.9h0M1715.9 885.8h0M1715.9 885.9h0M1715.9 880.5h0M1715.9 887.2h0M1715.9 889.4h0M1715.9 885.9h0M1715.9 888.0h0M1715.9 880.0h0M1715.9 884.9h0M1715.9 883.3h0M1717.6 883.5h0M1717.6 883.7h0M1717.6 878.9h0M1717.6 882.4h0M1717.6 877.5h0M1717.6 891.2h0M1717.6 881.8h0M1717.6 879.9h0M1717.6 883.8h0M1717.6 891.0h0M1717.6 883.7h0M1717.6 884.8h0M1717.6 878.2h0M1717.6 878.7h0M1717.6 879.1h0M1717.6 882.5h0M1720.6 879.0h0M1720.6 879.4h0M1720.6 875.9h0M1720.6 880.1h0M1720.6 877.5h0M1720.6 876.5h0M1720.6 880.4h0M1720.6 879.3h0M1720.6 882.8h0M1720.6 884.6h0M1720.6 882.6h0M1720.6 883.1h0M1720.6 886.5h0M1720.6 879.6h0M1720.6 876.7h0M1720.6 876.4h0M1717.5 877.0h0M1717.5 884.2h0M1717.5 874.0h0M1717.5 884.6h0M1717.5 882.3h0M1717.5 877.7h0M1717.5 889.8h0M1717.5 881.5h0M1717.5 881.7h0M1717.5 874.4h0M1717.5 885.7h0M1717.5 882.5h0M1717.5 893.3h0M1717.5 883.3h0M1717.5 889.7h0M1717.5 888.6h0M1699.2 899.0h0M1699.2 904.4h0M1699.2 907.2h0M1699.2 898.7h0M1699.2 901.1h0M1699.2 903.5h0M1699.2 908.3h0M1699.2 904.9h0M1699.2 907.4h0M1699.2 903.2h0M1699.2 903.5h0M1699.2 902.6h0M1699.2 904.8h0M1699.2 903.3h0M1699.2 898.4h0M1699.2 904.2h0M1709.0 888.8h0M1709.0 889.2h0M1709.0 889.3h0M1709.0 899.7h0M1709.0 889.2h0M1709.0 891.9h0M1709.0 890.7h0M1709.0 893.6h0M1709.0 893.6h0M1709.0 897.1h0M1709.0 897.6h0M1709.0 891.3h0M1709.0 896.3h0M1709.0 894.6h0M1709.0 888.8h0M1709.0 887.2h0M1700.4 901.7h0M1700.4 909.4h0M1700.4 899.8h0M1700.4 897.3h0M1700.4 900.8h0M1700.4 902.6h0M1700.4 905.6h0M1700.4 900.3h0M1700.4 889.6h0M1700.4 898.3h0M1700.4 902.3h0M1700.4 904.7h0M1700.4 899.1h0M1700.4 906.6h0M1700.4 903.0h0M1700.4 901.9h0M1689.2 913.2h0M1689.2 910.3h0M1689.2 912.2h0M1689.2 917.0h0M1689.2 920.7h0M1689.2 911.6h0M1689.2 923.1h0M1689.2 917.9h0M1689.2 903.6h0M1689.2 915.2h0M1689.2 906.2h0M1689.2 914.8h0M1689.2 910.7h0M1689.2 909.3h0M1689.2 907.4h0M1689.2 913.3h0M1689.5 916.6h0M1689.5 911.9h0M1689.5 918.1h0M1689.5 918.0h0M1689.5 907.7h0M1689.5 915.4h0M1689.5 906.8h0M1689.5 907.0h0M1689.5 915.2h0M1689.5 913.6h0M1689.5 912.7h0M1689.5 907.5h0M1689.5 911.6h0M1689.5 906.7h0M1689.5 911.6h0M1689.5 906.7h0M1731.7 870.2h0M1731.7 863.9h0M1731.7 865.8h0M1731.7 863.7h0M1731.7 865.2h0M1731.7 876.1h0M1731.7 861.4h0M1731.7 868.6h0M1731.7 875.1h0M1731.7 871.6h0M1731.7 873.0h0M1731.7 866.6h0M1731.7 870.7h0M1731.7 869.2h0M1731.7 865.3h0M1731.7 875.6h0M1695.8 911.2h0M1695.8 904.3h0M1695.8 911.4h0M1695.8 901.7h0M1695.8 910.0h0M1695.8 909.3h0M1695.8 902.1h0M1695.8 898.9h0M1695.8 905.5h0M1695.8 907.2h0M1695.8 911.2h0M1695.8 906.9h0M1695.8 907.3h0M1695.8 910.1h0M1695.8 907.5h0M1695.8 901.9h0M1689.2 911.7h0M1689.2 922.7h0M1689.2 905.4h0M1689.2 907.6h0M1689.2 917.4h0M1689.2 907.1h0M1689.2 917.1h0M1689.2 909.8h0M1689.2 911.5h0M1689.2 916.1h0M1689.2 910.7h0M1689.2 911.5h0M1689.2 911.3h0M1689.2 917.4h0M1689.2 909.0h0M1689.2 913.1h0M1701.8 893.9h0M1701.8 896.0h0M1701.8 896.7h0M1701.8 903.9h0M1701.8 891.3h0M1701.8 898.0h0M1701.8 899.5h0M1701.8 901.8h0M1701.8 899.6h0M1701.8 894.9h0M1701.8 907.8h0M1701.8 897.5h0M1701.8 904.6h0M1701.8 903.2h0M1701.8 897.6h0M1701.8 897.3h0M1725.3 877.0h0M1725.3 874.6h0M1725.3 869.8h0M1725.3 875.5h0M1725.3 880.4h0M1725.3 877.3h0M1725.3 877.5h0M1725.3 870.1h0M1725.3 877.5h0M1725.3 882.9h0M1725.3 881.5h0M1725.3 871.0h0M1725.3 874.0h0M1725.3 880.7h0M1725.3 881.9h0M1725.3 872.9h0M1707.8 898.7h0M1707.8 894.5h0M1707.8 890.3h0M1707.8 890.9h0M1707.8 897.5h0M1707.8 891.4h0M1707.8 900.3h0M1707.8 892.7h0M1707.8 896.2h0M1707.8 901.6h0M1707.8 888.5h0M1707.8 894.7h0M1707.8 892.0h0M1707.8 895.7h0M1707.8 882.0h0M1707.8 887.3h0M1712.9 889.6h0M1712.9 880.4h0M1712.9 884.8h0M1712.9 881.8h0M1712.9 897.0h0M1712.9 887.4h0M1712.9 893.1h0M1712.9 889.2h0M1712.9 890.1h0M1712.9 887.5h0M1712.9 897.0h0M1712.9 890.2h0M1712.9 894.7h0M1712.9 884.3h0M1712.9 887.6h0M1712.9 886.1h0M1705.3 892.1h0M1705.3 893.1h0M1705.3 898.9h0M1705.3 895.9h0M1705.3 904.1h0M1705.3 898.2h0M1705.3 897.9h0M1705.3 897.3h0M1705.3 894.9h0M1705.3 896.3h0M1705.3 889.0h0M1705.3 892.2h0M1705.3 895.9h0M1705.3 897.3h0M1705.3 898.3h0M1705.3 891.1h0M1707.4 897.2h0M1707.4 890.2h0M1707.4 898.6h0M1707.4 894.4h0M1707.4 899.3h0M1707.4 892.1h0M1707.4 893.2h0M1707.4 896.1h0M1707.4 900.7h0M1707.4 905.4h0M1707.4 896.4h0M1707.4 889.9h0M1707.4 898.1h0M1707.4 893.2h0M1707.4 898.1h0M1707.4 891.6h0M1722.5 883.0h0M1722.5 873.9h0M1722.5 882.9h0M1722.5 880.3h0M1722.5 872.0h0M1722.5 877.9h0M1722.5 878.6h0M1722.5 879.6h0M1722.5 877.3h0M1722.5 883.1h0M1722.5 883.6h0M1722.5 872.8h0M1722.5 879.0h0M1722.5 878.1h0M1722.5 879.0h0M1722.5 878.4h0M1717.2 879.3h0M1717.2 883.3h0M1717.2 884.6h0M1717.2 886.7h0M1717.2 883.4h0M1717.2 879.4h0M1717.2 886.3h0M1717.2 885.8h0M1717.2 879.1h0M1717.2 883.1h0M1717.2 879.5h0M1717.2 888.3h0M1717.2 887.1h0M1717.2 888.3h0M1717.2 882.3h0M1717.2 890.3h0M1707.4 891.6h0M1707.4 894.0h0M1707.4 891.7h0M1707.4 890.3h0M1707.4 889.7h0M1707.4 903.4h0M1707.4 891.2h0M1707.4 889.1h0M1707.4 895.3h0M1707.4 890.8h0M1707.4 891.0h0M1707.4 890.6h0M1707.4 898.1h0M1707.4 888.2h0M1707.4 899.0h0M1707.4 891.3h0M1718.3 879.8h0M1718.3 880.1h0M1718.3 880.6h0M1718.3 876.1h0M1718.3 879.4h0M1718.3 880.6h0M1718.3 877.3h0M1718.3 888.1h0M1718.3 884.0h0M1718.3 887.2h0M1718.3 887.6h0M1718.3 878.3h0M1718.3 881.7h0M1718.3 876.1h0M1718.3 879.7h0M1718.3 894.9h0M1720.3 882.1h0M1720.3 882.7h0M1720.3 883.6h0M1720.3 873.9h0M1720.3 883.2h0M1720.3 876.5h0M1720.3 881.4h0M1720.3 881.5h0M1720.3 883.5h0M1720.3 873.9h0M1720.3 881.1h0M1720.3 885.3h0M1720.3 880.4h0M1720.3 887.0h0M1720.3 875.5h0M1720.3 886.0h0M1705.9 898.3h0M1705.9 894.6h0M1705.9 899.7h0M1705.9 889.4h0M1705.9 895.6h0M1705.9 895.0h0M1705.9 895.1h0M1705.9 895.5h0M1705.9 895.0h0M1705.9 887.3h0M1705.9 896.4h0M1705.9 899.6h0M1705.9 890.2h0M1705.9 891.4h0M1705.9 897.2h0M1705.9 897.3h0M1711.4 884.6h0M1711.4 889.3h0M1711.4 890.2h0M1711.4 890.6h0M1711.4 892.7h0M1711.4 887.4h0M1711.4 895.7h0M1711.4 894.9h0M1711.4 897.6h0M1711.4 892.6h0M1711.4 894.8h0M1711.4 889.0h0M1711.4 893.2h0M1711.4 890.9h0M1711.4 887.5h0M1711.4 889.9h0M1711.2 893.1h0M1711.2 892.5h0M1711.2 893.5h0M1711.2 890.1h0M1711.2 889.9h0M1711.2 884.7h0M1711.2 887.1h0M1711.2 888.7h0M1711.2 892.7h0M1711.2 888.8h0M1711.2 894.5h0M1711.2 898.2h0M1711.2 888.2h0M1711.2 886.8h0M1711.2 903.7h0M1711.2 886.3h0M1700.9 907.6h0M1700.9 905.1h0M1700.9 898.9h0M1700.9 901.7h0M1700.9 901.1h0M1700.9 905.4h0M1700.9 895.7h0M1700.9 901.5h0M1700.9 901.8h0M1700.9 893.9h0M1700.9 900.7h0M1700.9 898.2h0M1700.9 897.3h0M1700.9 900.6h0M1700.9 906.1h0M1700.9 898.1h0M1721.2 883.1h0M1721.2 874.8h0M1721.2 875.6h0M1721.2 893.1h0M1721.2 871.8h0M1721.2 885.6h0M1721.2 879.2h0M1721.2 878.5h0M1721.2 880.5h0M1721.2 878.8h0M1721.2 874.7h0M1721.2 878.9h0M1721.2 880.9h0M1721.2 879.7h0M1721.2 880.3h0M1721.2 880.8h0M1706.5 895.0h0M1706.5 895.3h0M1706.5 890.8h0M1706.5 897.3h0M1706.5 899.1h0M1706.5 889.1h0M1706.5 895.4h0M1706.5 889.0h0M1706.5 893.8h0M1706.5 897.9h0M1706.5 892.5h0M1706.5 886.3h0M1706.5 897.5h0M1706.5 895.6h0M1706.5 900.6h0M1706.5 893.1h0M1701.4 899.8h0M1701.4 890.1h0M1701.4 908.5h0M1701.4 897.1h0M1701.4 898.8h0M1701.4 896.8h0M1701.4 900.3h0M1701.4 898.3h0M1701.4 901.6h0M1701.4 901.0h0M1701.4 895.8h0M1701.4 909.6h0M1701.4 894.7h0M1701.4 902.2h0M1701.4 899.5h0M1701.4 894.4h0M1761.0 835.0h0M1761.0 839.1h0M1761.0 840.2h0M1761.0 846.2h0M1761.0 840.0h0M1761.0 841.3h0M1761.0 842.4h0M1761.0 844.9h0M1761.0 840.6h0M1761.0 838.4h0M1761.0 843.2h0M1761.0 847.3h0M1761.0 838.5h0M1761.0 845.0h0M1761.0 843.5h0M1761.0 842.3h0M1757.7 846.3h0M1757.7 848.8h0M1757.7 847.7h0M1757.7 844.7h0M1757.7 846.5h0M1757.7 843.9h0M1757.7 841.1h0M1757.7 839.8h0M1757.7 848.7h0M1757.7 847.1h0M1757.7 845.8h0M1757.7 845.7h0M1757.7 843.1h0M1757.7 844.4h0M1757.7 852.0h0M1757.7 851.1h0M1791.2 810.2h0M1791.2 806.7h0M1791.2 806.4h0M1791.2 809.5h0M1791.2 809.7h0M1791.2 816.7h0M1791.2 817.6h0M1791.2 811.6h0M1791.2 799.7h0M1791.2 806.9h0M1791.2 812.8h0M1791.2 814.2h0M1791.2 813.4h0M1791.2 814.1h0M1791.2 805.7h0M1791.2 815.6h0M1790.0 810.2h0M1790.0 814.7h0M1790.0 810.9h0M1790.0 807.6h0M1790.0 811.8h0M1790.0 811.6h0M1790.0 815.4h0M1790.0 814.8h0M1790.0 805.2h0M1790.0 814.4h0M1790.0 812.6h0M1790.0 816.7h0M1790.0 810.1h0M1790.0 815.7h0M1790.0 810.8h0M1790.0 813.5h0M1793.1 811.8h0M1793.1 807.4h0M1793.1 805.6h0M1793.1 813.5h0M1793.1 804.8h0M1793.1 808.1h0M1793.1 805.5h0M1793.1 804.4h0M1793.1 811.0h0M1793.1 810.0h0M1793.1 807.8h0M1793.1 804.4h0M1793.1 818.6h0M1793.1 802.1h0M1793.1 809.9h0M1793.1 815.8h0M1726.0 876.4h0M1726.0 879.9h0M1726.0 867.9h0M1726.0 877.6h0M1726.0 878.3h0M1726.0 877.3h0M1726.0 879.6h0M1726.0 875.1h0M1726.0 873.4h0M1726.0 875.2h0M1726.0 879.5h0M1726.0 872.2h0M1726.0 876.3h0M1726.0 876.8h0M1726.0 871.4h0M1726.0 875.1h0M1800.6 812.8h0M1800.6 799.2h0M1800.6 809.2h0M1800.6 806.4h0M1800.6 803.0h0M1800.6 800.9h0M1800.6 800.1h0M1800.6 803.3h0M1800.6 798.3h0M1800.6 799.9h0M1800.6 802.9h0M1800.6 808.2h0M1800.6 799.6h0M1800.6 806.5h0M1800.6 805.0h0M1800.6 803.9h0M1776.9 828.1h0M1776.9 834.6h0M1776.9 825.6h0M1776.9 829.2h0M1776.9 828.4h0M1776.9 822.4h0M1776.9 818.1h0M1776.9 824.3h0M1776.9 828.5h0M1776.9 827.9h0M1776.9 820.5h0M1776.9 825.2h0M1776.9 830.0h0M1776.9 816.0h0M1776.9 821.9h0M1776.9 827.8h0M1793.5 811.3h0M1793.5 815.2h0M1793.5 817.4h0M1793.5 808.0h0M1793.5 812.2h0M1793.5 803.2h0M1793.5 811.3h0M1793.5 809.1h0M1793.5 805.1h0M1793.5 814.5h0M1793.5 806.6h0M1793.5 815.4h0M1793.5 798.7h0M1793.5 814.2h0M1793.5 812.2h0M1793.5 798.4h0M1785.9 818.1h0M1785.9 813.2h0M1785.9 816.5h0M1785.9 825.5h0M1785.9 815.7h0M1785.9 820.1h0M1785.9 808.9h0M1785.9 820.7h0M1785.9 809.0h0M1785.9 817.7h0M1785.9 814.5h0M1785.9 805.5h0M1785.9 817.9h0M1785.9 817.8h0M1785.9 813.5h0M1785.9 820.5h0M1793.2 805.4h0M1793.2 805.3h0M1793.2 808.9h0M1793.2 816.4h0M1793.2 818.6h0M1793.2 812.5h0M1793.2 810.9h0M1793.2 818.7h0M1793.2 810.2h0M1793.2 808.8h0M1793.2 808.8h0M1793.2 803.7h0M1793.2 811.1h0M1793.2 807.7h0M1793.2 812.5h0M1793.2 804.9h0M1792.2 811.0h0M1792.2 810.8h0M1792.2 809.6h0M1792.2 818.5h0M1792.2 806.0h0M1792.2 812.5h0M1792.2 810.9h0M1792.2 810.7h0M1792.2 798.9h0M1792.2 809.9h0M1792.2 812.3h0M1792.2 810.3h0M1792.2 811.0h0M1792.2 811.1h0M1792.2 809.1h0M1792.2 805.5h0M1773.9 832.7h0M1773.9 826.4h0M1773.9 828.6h0M1773.9 827.7h0M1773.9 824.0h0M1773.9 828.7h0M1773.9 838.8h0M1773.9 825.2h0M1773.9 825.0h0M1773.9 825.1h0M1773.9 830.9h0M1773.9 820.8h0M1773.9 828.7h0M1773.9 831.5h0M1773.9 819.9h0M1773.9 838.4h0M1734.1 864.9h0M1734.1 865.4h0M1734.1 869.1h0M1734.1 870.9h0M1734.1 861.3h0M1734.1 862.4h0M1734.1 860.6h0M1734.1 867.2h0M1734.1 867.7h0M1734.1 867.4h0M1734.1 872.9h0M1734.1 861.7h0M1734.1 862.2h0M1734.1 864.0h0M1734.1 873.0h0M1734.1 868.0h0M1776.4 823.5h0M1776.4 822.8h0M1776.4 828.2h0M1776.4 822.1h0M1776.4 818.0h0M1776.4 830.3h0M1776.4 827.0h0M1776.4 830.9h0M1776.4 831.5h0M1776.4 828.1h0M1776.4 824.1h0M1776.4 823.3h0M1776.4 826.0h0M1776.4 821.3h0M1776.4 822.7h0M1776.4 827.4h0M1727.0 872.2h0M1727.0 874.4h0M1727.0 874.5h0M1727.0 879.3h0M1727.0 872.2h0M1727.0 877.8h0M1727.0 868.8h0M1727.0 875.6h0M1727.0 871.6h0M1727.0 876.5h0M1727.0 881.7h0M1727.0 874.1h0M1727.0 879.0h0M1727.0 875.0h0M1727.0 876.5h0M1727.0 866.2h0M1751.1 851.7h0M1751.1 851.0h0M1751.1 851.4h0M1751.1 843.8h0M1751.1 849.9h0M1751.1 850.5h0M1751.1 843.6h0M1751.1 844.9h0M1751.1 851.5h0M1751.1 857.2h0M1751.1 847.6h0M1751.1 850.6h0M1751.1 853.9h0M1751.1 848.6h0M1751.1 849.5h0M1751.1 855.2h0M1746.0 852.4h0M1746.0 854.0h0M1746.0 849.7h0M1746.0 856.2h0M1746.0 849.4h0M1746.0 855.4h0M1746.0 856.0h0M1746.0 854.7h0M1746.0 852.8h0M1746.0 859.2h0M1746.0 849.9h0M1746.0 853.9h0M1746.0 851.2h0M1746.0 854.3h0M1746.0 853.2h0M1746.0 854.1h0M1746.9 860.0h0M1746.9 860.8h0M1746.9 855.9h0M1746.9 846.0h0M1746.9 858.9h0M1746.9 852.4h0M1746.9 849.7h0M1746.9 856.1h0M1746.9 851.9h0M1746.9 853.7h0M1746.9 844.5h0M1746.9 850.0h0M1746.9 860.0h0M1746.9 855.2h0M1746.9 859.8h0M1746.9 855.6h0M1786.1 818.9h0M1786.1 819.6h0M1786.1 809.3h0M1786.1 813.7h0M1786.1 813.3h0M1786.1 810.7h0M1786.1 809.8h0M1786.1 814.0h0M1786.1 823.2h0M1786.1 810.9h0M1786.1 813.6h0M1786.1 823.6h0M1786.1 817.3h0M1786.1 820.2h0M1786.1 820.7h0M1786.1 812.0h0M1791.9 812.9h0M1791.9 810.8h0M1791.9 813.1h0M1791.9 805.3h0M1791.9 816.3h0M1791.9 810.8h0M1791.9 806.5h0M1791.9 810.5h0M1791.9 813.8h0M1791.9 816.9h0M1791.9 805.4h0M1791.9 807.7h0M1791.9 808.7h0M1791.9 810.3h0M1791.9 806.9h0M1791.9 807.8h0M1793.4 815.0h0M1793.4 809.0h0M1793.4 804.6h0M1793.4 802.9h0M1793.4 818.7h0M1793.4 805.9h0M1793.4 802.1h0M1793.4 806.8h0M1793.4 802.4h0M1793.4 809.8h0M1793.4 807.8h0M1793.4 809.8h0M1793.4 810.5h0M1793.4 805.7h0M1793.4 809.3h0M1793.4 804.6h0M1771.8 827.8h0M1771.8 834.7h0M1771.8 826.3h0M1771.8 840.1h0M1771.8 831.9h0M1771.8 833.1h0M1771.8 834.9h0M1771.8 829.4h0M1771.8 824.7h0M1771.8 827.0h0M1771.8 829.0h0M1771.8 835.5h0M1771.8 828.0h0M1771.8 832.5h0M1771.8 832.5h0M1771.8 828.9h0M1783.5 821.7h0M1783.5 821.6h0M1783.5 817.1h0M1783.5 821.0h0M1783.5 815.0h0M1783.5 824.0h0M1783.5 815.3h0M1783.5 815.7h0M1783.5 817.8h0M1783.5 822.6h0M1783.5 814.9h0M1783.5 821.3h0M1783.5 813.7h0M1783.5 816.2h0M1783.5 822.5h0M1783.5 816.6h0M1734.0 864.8h0M1734.0 864.9h0M1734.0 867.3h0M1734.0 867.0h0M1734.0 859.7h0M1734.0 865.9h0M1734.0 864.2h0M1734.0 866.5h0M1734.0 873.5h0M1734.0 864.8h0M1734.0 868.1h0M1734.0 867.0h0M1734.0 868.2h0M1734.0 870.8h0M1734.0 869.9h0M1734.0 870.7h0M1750.9 848.7h0M1750.9 853.2h0M1750.9 852.4h0M1750.9 855.6h0M1750.9 846.6h0M1750.9 852.1h0M1750.9 850.9h0M1750.9 849.1h0M1750.9 854.4h0M1750.9 850.7h0M1750.9 847.9h0M1750.9 842.2h0M1750.9 850.2h0M1750.9 851.8h0M1750.9 849.5h0M1750.9 852.1h0M1784.6 823.2h0M1784.6 818.3h0M1784.6 818.9h0M1784.6 816.2h0M1784.6 829.4h0M1784.6 816.9h0M1784.6 817.8h0M1784.6 816.6h0M1784.6 819.1h0M1784.6 817.3h0M1784.6 824.3h0M1784.6 820.3h0M1784.6 821.6h0M1784.6 812.8h0M1784.6 815.4h0M1784.6 820.0h0M1759.2 850.4h0M1759.2 842.7h0M1759.2 840.9h0M1759.2 847.6h0M1759.2 842.7h0M1759.2 844.0h0M1759.2 840.9h0M1759.2 842.3h0M1759.2 844.9h0M1759.2 844.0h0M1759.2 836.9h0M1759.2 839.5h0M1759.2 837.4h0M1759.2 841.6h0M1759.2 841.3h0M1759.2 836.5h0M1762.2 841.4h0M1762.2 839.0h0M1762.2 838.5h0M1762.2 845.0h0M1762.2 830.8h0M1762.2 846.7h0M1762.2 845.7h0M1762.2 843.5h0M1762.2 838.9h0M1762.2 836.2h0M1762.2 832.6h0M1762.2 836.9h0M1762.2 842.7h0M1762.2 837.6h0M1762.2 846.4h0M1762.2 833.3h0M1784.5 818.0h0M1784.5 827.5h0M1784.5 817.9h0M1784.5 815.8h0M1784.5 822.8h0M1784.5 820.1h0M1784.5 819.3h0M1784.5 817.7h0M1784.5 823.1h0M1784.5 815.1h0M1784.5 819.1h0M1784.5 827.4h0M1784.5 822.5h0M1784.5 812.4h0M1784.5 810.7h0M1784.5 815.0h0M1741.4 860.5h0M1741.4 862.8h0M1741.4 867.0h0M1741.4 866.8h0M1741.4 854.4h0M1741.4 870.8h0M1741.4 859.7h0M1741.4 852.9h0M1741.4 858.1h0M1741.4 866.2h0M1741.4 861.6h0M1741.4 857.8h0M1741.4 864.5h0M1741.4 861.7h0M1741.4 856.4h0M1741.4 864.7h0M1790.7 811.4h0M1790.7 809.4h0M1790.7 810.6h0M1790.7 810.8h0M1790.7 807.8h0M1790.7 806.6h0M1790.7 805.4h0M1790.7 805.2h0M1790.7 808.5h0M1790.7 813.1h0M1790.7 814.4h0M1790.7 807.1h0M1790.7 813.3h0M1790.7 816.8h0M1790.7 811.2h0M1790.7 814.2h0M1781.0 821.6h0M1781.0 827.8h0M1781.0 823.3h0M1781.0 816.2h0M1781.0 820.3h0M1781.0 825.7h0M1781.0 823.8h0M1781.0 818.0h0M1781.0 821.0h0M1781.0 819.7h0M1781.0 827.6h0M1781.0 821.1h0M1781.0 822.5h0M1781.0 822.2h0M1781.0 813.2h0M1781.0 823.3h0M1730.2 874.7h0M1730.2 872.5h0M1730.2 877.8h0M1730.2 875.1h0M1730.2 877.5h0M1730.2 872.4h0M1730.2 874.4h0M1730.2 879.8h0M1730.2 874.4h0M1730.2 876.7h0M1730.2 880.9h0M1730.2 873.2h0M1730.2 865.7h0M1730.2 884.3h0M1730.2 872.4h0M1730.2 865.2h0M1756.8 840.3h0M1756.8 838.3h0M1756.8 836.0h0M1756.8 842.3h0M1756.8 837.1h0M1756.8 838.0h0M1756.8 845.4h0M1756.8 850.0h0M1756.8 833.7h0M1756.8 838.0h0M1756.8 843.4h0M1756.8 846.8h0M1756.8 849.9h0M1756.8 842.4h0M1756.8 844.7h0M1756.8 846.8h0M1794.6 807.7h0M1794.6 803.8h0M1794.6 805.5h0M1794.6 804.4h0M1794.6 811.5h0M1794.6 799.0h0M1794.6 803.6h0M1794.6 805.2h0M1794.6 804.4h0M1794.6 809.2h0M1794.6 804.4h0M1794.6 805.4h0M1794.6 805.7h0M1794.6 799.3h0M1794.6 802.5h0M1794.6 808.3h0M1745.0 860.4h0M1745.0 853.3h0M1745.0 858.2h0M1745.0 856.0h0M1745.0 856.6h0M1745.0 862.3h0M1745.0 852.9h0M1745.0 856.8h0M1745.0 858.7h0M1745.0 854.9h0M1745.0 856.9h0M1745.0 858.7h0M1745.0 867.1h0M1745.0 855.4h0M1745.0 850.2h0M1745.0 855.3h0M1725.3 874.9h0M1725.3 875.6h0M1725.3 877.1h0M1725.3 881.1h0M1725.3 863.8h0M1725.3 874.9h0M1725.3 875.5h0M1725.3 873.0h0M1725.3 865.7h0M1725.3 883.1h0M1725.3 873.0h0M1725.3 881.0h0M1725.3 878.0h0M1725.3 875.5h0M1725.3 877.5h0M1725.3 875.2h0M1737.4 866.4h0M1737.4 852.3h0M1737.4 866.7h0M1737.4 871.0h0M1737.4 862.7h0M1737.4 862.5h0M1737.4 869.6h0M1737.4 859.1h0M1737.4 864.4h0M1737.4 859.0h0M1737.4 860.8h0M1737.4 856.7h0M1737.4 862.4h0M1737.4 866.7h0M1737.4 865.2h0M1737.4 863.0h0M1765.9 836.5h0M1765.9 836.4h0M1765.9 832.7h0M1765.9 834.0h0M1765.9 835.7h0M1765.9 839.8h0M1765.9 840.1h0M1765.9 833.8h0M1765.9 830.5h0M1765.9 831.7h0M1765.9 841.5h0M1765.9 835.3h0M1765.9 834.2h0M1765.9 831.6h0M1765.9 833.4h0M1765.9 837.7h0M1732.1 873.3h0M1732.1 871.5h0M1732.1 869.8h0M1732.1 871.6h0M1732.1 862.2h0M1732.1 860.6h0M1732.1 870.3h0M1732.1 870.2h0M1732.1 876.1h0M1732.1 863.2h0M1732.1 866.0h0M1732.1 865.2h0M1732.1 870.5h0M1732.1 870.3h0M1732.1 870.5h0M1732.1 869.3h0M1728.4 869.6h0M1728.4 868.1h0M1728.4 874.3h0M1728.4 877.3h0M1728.4 867.4h0M1728.4 882.6h0M1728.4 871.4h0M1728.4 876.3h0M1728.4 873.2h0M1728.4 878.4h0M1728.4 876.1h0M1728.4 872.1h0M1728.4 875.2h0M1728.4 870.1h0M1728.4 879.3h0M1728.4 874.0h0M1734.8 865.8h0M1734.8 864.5h0M1734.8 862.4h0M1734.8 861.9h0M1734.8 853.7h0M1734.8 861.3h0M1734.8 867.6h0M1734.8 859.0h0M1734.8 857.5h0M1734.8 867.7h0M1734.8 863.4h0M1734.8 863.1h0M1734.8 869.7h0M1734.8 864.9h0M1734.8 871.4h0M1734.8 872.9h0M1787.5 808.9h0M1787.5 809.6h0M1787.5 805.9h0M1787.5 818.0h0M1787.5 815.6h0M1787.5 817.2h0M1787.5 815.2h0M1787.5 820.0h0M1787.5 822.9h0M1787.5 807.3h0M1787.5 813.5h0M1787.5 818.3h0M1787.5 815.0h0M1787.5 810.3h0M1787.5 816.4h0M1787.5 812.4h0M1798.5 801.6h0M1798.5 800.5h0M1798.5 800.1h0M1798.5 807.4h0M1798.5 803.7h0M1798.5 802.1h0M1798.5 802.2h0M1798.5 805.1h0M1798.5 810.8h0M1798.5 802.7h0M1798.5 805.1h0M1798.5 802.9h0M1798.5 803.3h0M1798.5 804.0h0M1798.5 807.0h0M1798.5 806.6h0M1734.7 870.4h0M1734.7 864.7h0M1734.7 869.0h0M1734.7 868.6h0M1734.7 866.2h0M1734.7 866.9h0M1734.7 870.3h0M1734.7 864.6h0M1734.7 867.8h0M1734.7 865.2h0M1734.7 872.5h0M1734.7 871.6h0M1734.7 857.9h0M1734.7 862.9h0M1734.7 867.1h0M1734.7 868.4h0M1767.1 826.0h0M1767.1 837.4h0M1767.1 832.1h0M1767.1 834.5h0M1767.1 839.5h0M1767.1 827.1h0M1767.1 835.7h0M1767.1 832.1h0M1767.1 836.1h0M1767.1 831.5h0M1767.1 830.3h0M1767.1 839.7h0M1767.1 836.9h0M1767.1 825.5h0M1767.1 833.2h0M1767.1 838.7h0M1776.5 819.3h0M1776.5 822.1h0M1776.5 822.0h0M1776.5 828.9h0M1776.5 821.8h0M1776.5 824.4h0M1776.5 821.8h0M1776.5 823.0h0M1776.5 825.1h0M1776.5 826.2h0M1776.5 822.4h0M1776.5 820.1h0M1776.5 827.7h0M1776.5 824.9h0M1776.5 816.3h0M1776.5 825.0h0M1729.7 866.7h0M1729.7 865.0h0M1729.7 873.3h0M1729.7 875.2h0M1729.7 874.7h0M1729.7 871.5h0M1729.7 869.1h0M1729.7 869.4h0M1729.7 869.2h0M1729.7 882.5h0M1729.7 876.0h0M1729.7 865.4h0M1729.7 876.1h0M1729.7 876.0h0M1729.7 871.3h0M1729.7 867.7h0M1791.8 805.0h0M1791.8 818.8h0M1791.8 815.0h0M1791.8 813.5h0M1791.8 809.7h0M1791.8 809.9h0M1791.8 813.5h0M1791.8 807.6h0M1791.8 803.0h0M1791.8 807.2h0M1791.8 803.2h0M1791.8 808.5h0M1791.8 811.3h0M1791.8 811.4h0M1791.8 800.4h0M1791.8 812.7h0M1781.6 823.6h0M1781.6 817.0h0M1781.6 820.5h0M1781.6 822.4h0M1781.6 816.0h0M1781.6 820.1h0M1781.6 827.4h0M1781.6 821.8h0M1781.6 816.0h0M1781.6 815.1h0M1781.6 815.6h0M1781.6 820.9h0M1781.6 823.7h0M1781.6 828.1h0M1781.6 820.7h0M1781.6 818.0h0M1776.5 828.0h0M1776.5 823.9h0M1776.5 817.5h0M1776.5 824.0h0M1776.5 822.3h0M1776.5 826.0h0M1776.5 826.5h0M1776.5 817.2h0M1776.5 827.3h0M1776.5 830.6h0M1776.5 827.5h0M1776.5 827.4h0M1776.5 819.5h0M1776.5 824.9h0M1776.5 822.3h0M1776.5 825.5h0M1761.1 845.7h0M1761.1 845.1h0M1761.1 838.4h0M1761.1 840.3h0M1761.1 843.7h0M1761.1 840.6h0M1761.1 845.8h0M1761.1 839.5h0M1761.1 842.6h0M1761.1 836.0h0M1761.1 839.7h0M1761.1 839.3h0M1761.1 842.7h0M1761.1 842.2h0M1761.1 841.1h0M1761.1 841.8h0M1784.9 820.5h0M1784.9 822.0h0M1784.9 816.7h0M1784.9 818.2h0M1784.9 826.6h0M1784.9 819.6h0M1784.9 819.1h0M1784.9 817.8h0M1784.9 818.6h0M1784.9 817.5h0M1784.9 814.8h0M1784.9 815.5h0M1784.9 820.3h0M1784.9 814.7h0M1784.9 818.8h0M1784.9 820.5h0M1787.5 808.8h0M1787.5 816.8h0M1787.5 814.0h0M1787.5 819.7h0M1787.5 813.8h0M1787.5 822.9h0M1787.5 821.5h0M1787.5 817.7h0M1787.5 814.8h0M1787.5 816.5h0M1787.5 811.1h0M1787.5 812.4h0M1787.5 812.4h0M1787.5 811.9h0M1787.5 808.4h0M1787.5 808.8h0M1746.2 857.5h0M1746.2 852.9h0M1746.2 855.5h0M1746.2 855.0h0M1746.2 855.1h0M1746.2 853.5h0M1746.2 864.9h0M1746.2 855.5h0M1746.2 853.1h0M1746.2 855.2h0M1746.2 861.4h0M1746.2 853.2h0M1746.2 853.5h0M1746.2 853.9h0M1746.2 860.9h0M1746.2 848.4h0M1742.5 860.4h0M1742.5 862.7h0M1742.5 860.8h0M1742.5 855.1h0M1742.5 865.3h0M1742.5 863.3h0M1742.5 858.4h0M1742.5 858.6h0M1742.5 863.7h0M1742.5 861.8h0M1742.5 857.6h0M1742.5 848.9h0M1742.5 852.5h0M1742.5 870.4h0M1742.5 858.1h0M1742.5 862.9h0M1799.7 801.1h0M1799.7 800.4h0M1799.7 804.5h0M1799.7 802.4h0M1799.7 803.3h0M1799.7 802.5h0M1799.7 800.5h0M1799.7 801.7h0M1799.7 802.7h0M1799.7 796.3h0M1799.7 800.1h0M1799.7 802.6h0M1799.7 803.3h0M1799.7 801.0h0M1799.7 795.4h0M1799.7 799.5h0M1761.5 832.2h0M1761.5 843.6h0M1761.5 840.8h0M1761.5 843.1h0M1761.5 844.7h0M1761.5 836.4h0M1761.5 837.3h0M1761.5 836.7h0M1761.5 834.9h0M1761.5 843.6h0M1761.5 841.6h0M1761.5 839.8h0M1761.5 846.0h0M1761.5 842.6h0M1761.5 838.9h0M1761.5 836.8h0M1755.9 844.6h0M1755.9 846.1h0M1755.9 850.0h0M1755.9 848.3h0M1755.9 843.4h0M1755.9 843.8h0M1755.9 844.3h0M1755.9 841.0h0M1755.9 839.0h0M1755.9 845.6h0M1755.9 843.2h0M1755.9 844.1h0M1755.9 842.7h0M1755.9 844.0h0M1755.9 850.1h0M1755.9 847.9h0M1796.0 806.4h0M1796.0 807.3h0M1796.0 806.9h0M1796.0 810.4h0M1796.0 809.2h0M1796.0 807.1h0M1796.0 803.6h0M1796.0 805.2h0M1796.0 804.1h0M1796.0 807.5h0M1796.0 809.4h0M1796.0 802.4h0M1796.0 801.7h0M1796.0 801.6h0M1796.0 809.3h0M1796.0 811.0h0M1779.6 816.8h0M1779.6 820.0h0M1779.6 822.3h0M1779.6 824.2h0M1779.6 830.0h0M1779.6 817.6h0M1779.6 822.1h0M1779.6 818.5h0M1779.6 816.4h0M1779.6 825.4h0M1779.6 828.6h0M1779.6 822.0h0M1779.6 821.5h0M1779.6 827.3h0M1779.6 827.4h0M1779.6 830.8h0M1781.5 817.9h0M1781.5 816.8h0M1781.5 821.1h0M1781.5 818.7h0M1781.5 823.9h0M1781.5 824.7h0M1781.5 821.0h0M1781.5 823.9h0M1781.5 820.0h0M1781.5 817.4h0M1781.5 822.8h0M1781.5 818.9h0M1781.5 817.3h0M1781.5 823.1h0M1781.5 821.3h0M1781.5 820.5h0M1786.0 815.8h0M1786.0 816.1h0M1786.0 815.6h0M1786.0 818.3h0M1786.0 814.6h0M1786.0 817.9h0M1786.0 811.8h0M1786.0 820.2h0M1786.0 821.3h0M1786.0 817.0h0M1786.0 819.2h0M1786.0 815.5h0M1786.0 818.6h0M1786.0 806.4h0M1786.0 820.3h0M1786.0 817.6h0M1788.3 813.6h0M1788.3 821.7h0M1788.3 809.7h0M1788.3 805.7h0M1788.3 818.9h0M1788.3 818.3h0M1788.3 812.3h0M1788.3 812.4h0M1788.3 812.9h0M1788.3 816.8h0M1788.3 817.3h0M1788.3 815.6h0M1788.3 815.2h0M1788.3 812.9h0M1788.3 814.4h0M1788.3 809.1h0M1776.6 824.3h0M1776.6 826.0h0M1776.6 822.8h0M1776.6 822.9h0M1776.6 824.7h0M1776.6 828.3h0M1776.6 825.1h0M1776.6 825.2h0M1776.6 822.4h0M1776.6 823.6h0M1776.6 821.7h0M1776.6 824.1h0M1776.6 821.8h0M1776.6 824.2h0M1776.6 825.2h0M1776.6 827.1h0M1800.6 799.4h0M1800.6 801.5h0M1800.6 802.1h0M1800.6 800.4h0M1800.6 799.0h0M1800.6 804.3h0M1800.6 809.3h0M1800.6 806.3h0M1800.6 801.4h0M1800.6 802.4h0M1800.6 802.0h0M1800.6 804.8h0M1800.6 809.4h0M1800.6 795.4h0M1800.6 805.3h0M1800.6 804.2h0" stroke="#3a5199" stroke-width="2.4" stroke-linecap="round"/>
<rect x="1532.5" y="590.9" width="479.1" height="477.5" fill="none" stroke="#333" stroke-width="1.1"/>
<path d="M1532.5 1068.4v-3.5M1532.5 590.9v3.5M1532.5 1068.4h3.5M2011.6 1068.4h-3.5M1545.1 1068.4v-3.5M1545.1 590.9v3.5M1532.5 1055.8h3.5M2011.6 1055.8h-3.5M1555.8 1068.4v-3.5M1555.8 590.9v3.5M1532.5 1045.1h3.5M2011.6 1045.1h-3.5M1565.1 1068.4v-3.5M1565.1 590.9v3.5M1532.5 1035.9h3.5M2011.6 1035.9h-3.5M1573.3 1068.4v-3.5M1573.3 590.9v3.5M1532.5 1027.8h3.5M2011.6 1027.8h-3.5M1580.6 1068.4v-6.0M1580.6 590.9v6.0M1532.5 1020.5h6.0M2011.6 1020.5h-6.0M1628.6 1068.4v-3.5M1628.6 590.9v3.5M1532.5 972.6h3.5M2011.6 972.6h-3.5M1656.8 1068.4v-3.5M1656.8 590.9v3.5M1532.5 944.5h3.5M2011.6 944.5h-3.5M1676.7 1068.4v-3.5M1676.7 590.9v3.5M1532.5 924.7h3.5M2011.6 924.7h-3.5M1692.2 1068.4v-3.5M1692.2 590.9v3.5M1532.5 909.2h3.5M2011.6 909.2h-3.5M1704.8 1068.4v-3.5M1704.8 590.9v3.5M1532.5 896.6h3.5M2011.6 896.6h-3.5M1715.5 1068.4v-3.5M1715.5 590.9v3.5M1532.5 886.0h3.5M2011.6 886.0h-3.5M1724.8 1068.4v-3.5M1724.8 590.9v3.5M1532.5 876.7h3.5M2011.6 876.7h-3.5M1733.0 1068.4v-3.5M1733.0 590.9v3.5M1532.5 868.6h3.5M2011.6 868.6h-3.5M1740.3 1068.4v-6.0M1740.3 590.9v6.0M1532.5 861.3h6.0M2011.6 861.3h-6.0M1788.3 1068.4v-3.5M1788.3 590.9v3.5M1532.5 813.4h3.5M2011.6 813.4h-3.5M1816.5 1068.4v-3.5M1816.5 590.9v3.5M1532.5 785.4h3.5M2011.6 785.4h-3.5M1836.4 1068.4v-3.5M1836.4 590.9v3.5M1532.5 765.5h3.5M2011.6 765.5h-3.5M1851.9 1068.4v-3.5M1851.9 590.9v3.5M1532.5 750.1h3.5M2011.6 750.1h-3.5M1864.5 1068.4v-3.5M1864.5 590.9v3.5M1532.5 737.5h3.5M2011.6 737.5h-3.5M1875.2 1068.4v-3.5M1875.2 590.9v3.5M1532.5 726.8h3.5M2011.6 726.8h-3.5M1884.5 1068.4v-3.5M1884.5 590.9v3.5M1532.5 717.6h3.5M2011.6 717.6h-3.5M1892.7 1068.4v-3.5M1892.7 590.9v3.5M1532.5 709.4h3.5M2011.6 709.4h-3.5M1900.0 1068.4v-6.0M1900.0 590.9v6.0M1532.5 702.2h6.0M2011.6 702.2h-6.0M1948.0 1068.4v-3.5M1948.0 590.9v3.5M1532.5 654.2h3.5M2011.6 654.2h-3.5M1976.2 1068.4v-3.5M1976.2 590.9v3.5M1532.5 626.2h3.5M2011.6 626.2h-3.5M1996.1 1068.4v-3.5M1996.1 590.9v3.5M1532.5 606.3h3.5M2011.6 606.3h-3.5M2011.6 1068.4v-3.5M2011.6 590.9v3.5M1532.5 590.9h3.5M2011.6 590.9h-3.5" stroke="#333" stroke-width="1"/>
<text transform="translate(1579.6,1112.8) scale(1,1.05)" font-size="30" fill="#262626" text-anchor="middle">10<tspan font-size="21" dy="-14.5">1</tspan></text>
<text transform="translate(1523.5,1036.5) scale(1,1.05)" font-size="30" fill="#262626" text-anchor="end">10<tspan font-size="21" dy="-14.5">1</tspan></text>
<text transform="translate(1739.3,1112.8) scale(1,1.05)" font-size="30" fill="#262626" text-anchor="middle">10<tspan font-size="21" dy="-14.5">2</tspan></text>
<text transform="translate(1523.5,877.3) scale(1,1.05)" font-size="30" fill="#262626" text-anchor="end">10<tspan font-size="21" dy="-14.5">2</tspan></text>
<text transform="translate(1899.0,1112.8) scale(1,1.05)" font-size="30" fill="#262626" text-anchor="middle">10<tspan font-size="21" dy="-14.5">3</tspan></text>
<text transform="translate(1523.5,718.2) scale(1,1.05)" font-size="30" fill="#262626" text-anchor="end">10<tspan font-size="21" dy="-14.5">3</tspan></text>
<rect x="1555.7" y="613.6" width="25" height="25" fill="#f0b62a"/>
<rect x="1555.7" y="678.5" width="25" height="25" fill="#3a5199"/>
<text transform="translate(1594.8,635.5) scale(1.000,1.050)" font-size="26.6" text-anchor="start" fill="#000">Before ~350-cell stage</text>
<text transform="translate(1594.8,667.9) scale(1.000,1.050)" font-size="26.6" text-anchor="start" fill="#000">322 unique cells</text>
<text transform="translate(1594.8,699.8) scale(1.000,1.050)" font-size="26.6" text-anchor="start" fill="#000">After ~350-cell stage</text>
<text transform="translate(1594.8,731.5) scale(1.000,1.050)" font-size="26.6" text-anchor="start" fill="#000">267 unique cells</text>
<text transform="translate(1777.0,1156.0) scale(1.000,1.050)" font-size="29.0" text-anchor="middle" fill="#262626">Cell surface area in average (<tspan font-style="italic" font-family="Liberation Serif, serif">μ</tspan>m<tspan font-size="21.5" dy="-14">2</tspan><tspan dy="14">)</tspan></text>
<text transform="translate(1467.5,824) rotate(-90) scale(1,1.05)" font-size="29.4" text-anchor="middle" fill="#262626">Cell surface area in samples (<tspan font-style="italic" font-family="Liberation Serif, serif">μ</tspan>m<tspan font-size="21.5" dy="-14">2</tspan><tspan dy="14">)</tspan></text>
<rect x="1802.21" y="968.99" width="6.93" height="1.01" fill="#f4c34f" stroke="#000" stroke-width="0.9"/>
<rect x="1809.14" y="961.38" width="6.93" height="8.62" fill="#f4c34f" stroke="#000" stroke-width="0.9"/>
<rect x="1816.06" y="947.38" width="6.93" height="22.62" fill="#f4c34f" stroke="#000" stroke-width="0.9"/>
<rect x="1822.99" y="944.58" width="6.93" height="25.42" fill="#f4c34f" stroke="#000" stroke-width="0.9"/>
<rect x="1829.92" y="946.37" width="6.93" height="23.63" fill="#f4c34f" stroke="#000" stroke-width="0.9"/>
<rect x="1836.84" y="952.86" width="6.93" height="17.14" fill="#f4c34f" stroke="#000" stroke-width="0.9"/>
<rect x="1843.77" y="961.38" width="6.93" height="8.62" fill="#f4c34f" stroke="#000" stroke-width="0.9"/>
<rect x="1850.69" y="967.98" width="6.93" height="2.02" fill="#f4c34f" stroke="#000" stroke-width="0.9"/>
<rect x="1857.62" y="968.99" width="6.93" height="1.01" fill="#f4c34f" stroke="#000" stroke-width="0.9"/>
<rect x="1864.55" y="969.55" width="6.93" height="0.45" fill="#f4c34f" stroke="#000" stroke-width="0.9"/>
<rect x="1871.47" y="969.66" width="6.93" height="0.34" fill="#f4c34f" stroke="#000" stroke-width="0.9"/>
<rect x="1878.40" y="969.66" width="6.93" height="0.34" fill="#f4c34f" stroke="#000" stroke-width="0.9"/>
<rect x="1885.33" y="969.78" width="6.93" height="0.22" fill="#f4c34f" stroke="#000" stroke-width="0.9"/>
<rect x="1892.25" y="969.78" width="6.93" height="0.22" fill="#f4c34f" stroke="#000" stroke-width="0.9"/>
<rect x="1808.37" y="970.00" width="6.47" height="4.37" fill="#5b6bb0" stroke="#000" stroke-width="0.9"/>
<rect x="1814.84" y="970.00" width="6.47" height="6.94" fill="#5b6bb0" stroke="#000" stroke-width="0.9"/>
<rect x="1821.31" y="970.00" width="6.47" height="18.14" fill="#5b6bb0" stroke="#000" stroke-width="0.9"/>
<rect x="1827.78" y="970.00" width="6.47" height="24.30" fill="#5b6bb0" stroke="#000" stroke-width="0.9"/>
<rect x="1834.25" y="970.00" width="6.47" height="16.69" fill="#5b6bb0" stroke="#000" stroke-width="0.9"/>
<rect x="1840.72" y="970.00" width="6.47" height="14.45" fill="#5b6bb0" stroke="#000" stroke-width="0.9"/>
<rect x="1847.19" y="970.00" width="6.47" height="9.18" fill="#5b6bb0" stroke="#000" stroke-width="0.9"/>
<rect x="1853.66" y="970.00" width="6.47" height="8.18" fill="#5b6bb0" stroke="#000" stroke-width="0.9"/>
<rect x="1860.13" y="970.00" width="6.47" height="5.49" fill="#5b6bb0" stroke="#000" stroke-width="0.9"/>
<rect x="1866.60" y="970.00" width="6.47" height="0.45" fill="#5b6bb0" stroke="#000" stroke-width="0.9"/>
<rect x="1873.07" y="970.00" width="6.47" height="2.02" fill="#5b6bb0" stroke="#000" stroke-width="0.9"/>
<rect x="1879.54" y="970.00" width="6.47" height="0.45" fill="#5b6bb0" stroke="#000" stroke-width="0.9"/>
<rect x="1886.01" y="970.00" width="6.47" height="2.02" fill="#5b6bb0" stroke="#000" stroke-width="0.9"/>
<rect x="1892.48" y="970.00" width="6.47" height="0.45" fill="#5b6bb0" stroke="#000" stroke-width="0.9"/>
<path d="M1797.0 936.5V1003.2H1974.6" fill="none" stroke="#333" stroke-width="1.3"/>
<line x1="1797.0" y1="970.0" x2="1974.6" y2="970.0" stroke="#000" stroke-width="1.7"/>
<path d="M1797.0 1003.2v-3M1856.2 1003.2v-3M1915.4 1003.2v-3M1974.6 1003.2v-3M1797.0 936.5h3" stroke="#333" stroke-width="1"/>
<line x1="1903.6" y1="936.5" x2="1903.6" y2="1003.2" stroke="#000" stroke-width="3"/>
<text transform="translate(1909.1,950.0) scale(1.000,1.050)" font-size="20.3" text-anchor="start" fill="#000">0.18</text>
<text transform="translate(1797.0,1029.7) scale(1.000,1.050)" font-size="19.5" text-anchor="middle" fill="#262626">0</text>
<text transform="translate(1856.2,1029.7) scale(1.000,1.050)" font-size="19.5" text-anchor="middle" fill="#262626">0.1</text>
<text transform="translate(1915.4,1029.7) scale(1.000,1.050)" font-size="19.5" text-anchor="middle" fill="#262626">0.2</text>
<text transform="translate(1974.6,1029.7) scale(1.000,1.050)" font-size="19.5" text-anchor="middle" fill="#262626">0.3</text>
<text transform="translate(1788.0,944.0) scale(1.000,1.050)" font-size="19.5" text-anchor="end" fill="#262626">0.3</text>
<text transform="translate(1788.0,977.0) scale(1.000,1.050)" font-size="19.5" text-anchor="end" fill="#262626">0</text>
<text transform="translate(1788.0,1010.5) scale(1.000,1.050)" font-size="19.5" text-anchor="end" fill="#262626">0.3</text>
<text transform="translate(1885.8,1053.0) scale(1.000,1.050)" font-size="20.3" text-anchor="middle" fill="#262626">Variation coefficient</text>
<text transform="translate(1752.0,969.7) rotate(-90) scale(1,1.05)" font-size="20.3" text-anchor="middle" fill="#262626">Fraction</text>
</svg>
</body></html>
